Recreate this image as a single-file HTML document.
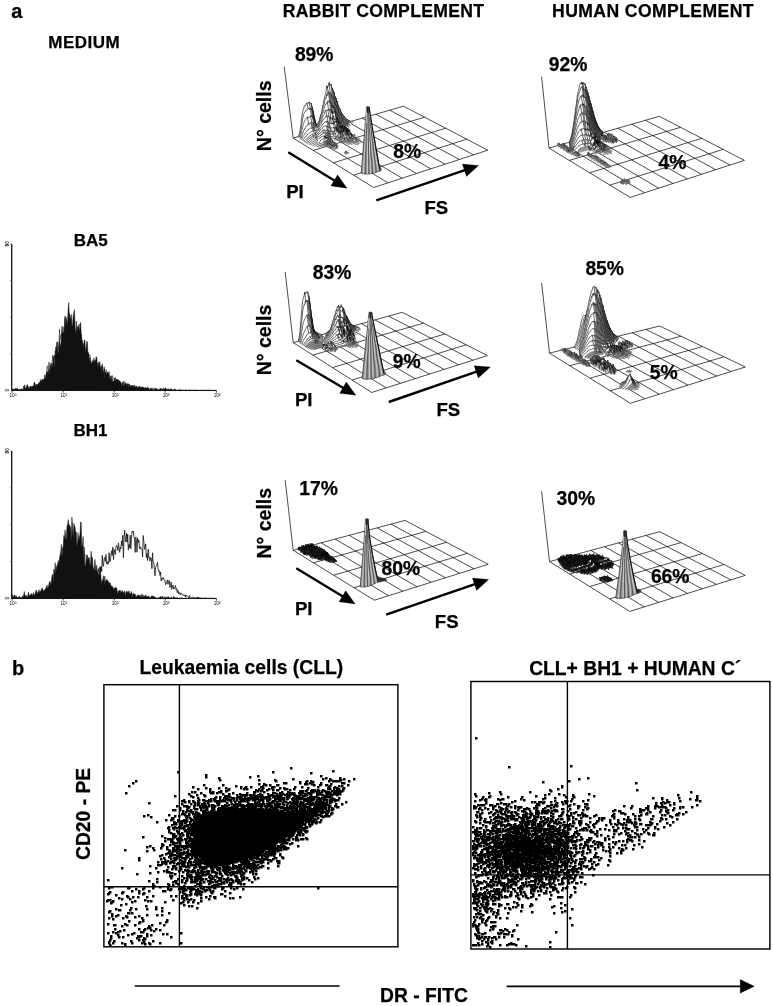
<!DOCTYPE html>
<html lang="en"><head><meta charset="utf-8"><title>Figure</title>
<style>
html,body{margin:0;padding:0;background:#fff;}
svg{display:block;}
svg text{font-family:"Liberation Sans", Arial, Helvetica, sans-serif;font-weight:bold;fill:#000;}
</style></head><body>
<svg width="773" height="1006" viewBox="0 0 773 1006">
<rect width="773" height="1006" fill="#fff"/>
<g id="labels" stroke="#000" stroke-width="0.25">
<text x="16.8" y="18.2" font-size="20" text-anchor="middle">a</text>
<text x="84.3" y="48" font-size="17" text-anchor="middle" letter-spacing="0.5">MEDIUM</text>
<text x="383.5" y="17" font-size="17.6" text-anchor="middle" letter-spacing="0.3">RABBIT COMPLEMENT</text>
<text x="653" y="16.8" font-size="17.6" text-anchor="middle" letter-spacing="0.4">HUMAN COMPLEMENT</text>
<text x="90.8" y="246.2" font-size="17" text-anchor="middle">BA5</text>
<text x="90.5" y="435.6" font-size="17" text-anchor="middle">BH1</text>
<text x="314.2" y="61" font-size="19.3" text-anchor="middle">89%</text>
<text x="407.1" y="158.2" font-size="19.3" text-anchor="middle">8%</text>
<text x="568" y="70.7" font-size="19.3" text-anchor="middle">92%</text>
<text x="672.5" y="168.8" font-size="19.3" text-anchor="middle">4%</text>
<text x="332" y="278.6" font-size="19.3" text-anchor="middle">83%</text>
<text x="406.6" y="368.4" font-size="19.3" text-anchor="middle">9%</text>
<text x="604.7" y="275.1" font-size="19.3" text-anchor="middle">85%</text>
<text x="663.8" y="378.9" font-size="19.3" text-anchor="middle">5%</text>
<text x="318.5" y="495.3" font-size="19.3" text-anchor="middle">17%</text>
<text x="400.8" y="575" font-size="19.3" text-anchor="middle">80%</text>
<text x="575.9" y="504.6" font-size="19.3" text-anchor="middle">30%</text>
<text x="670.2" y="583.2" font-size="19.3" text-anchor="middle">66%</text>
<text x="270.9" y="115.8" font-size="19.5" text-anchor="middle" transform="rotate(-90 270.9 115.8)">N° cells</text>
<text x="295" y="197.9" font-size="18.6" text-anchor="middle">PI</text>
<text x="436.3" y="214.3" font-size="18.6" text-anchor="middle">FS</text>
<text x="270.9" y="340" font-size="19.5" text-anchor="middle" transform="rotate(-90 270.9 340)">N° cells</text>
<text x="303.7" y="406.4" font-size="18.6" text-anchor="middle">PI</text>
<text x="448.3" y="415.5" font-size="18.6" text-anchor="middle">FS</text>
<text x="270.9" y="523.2" font-size="19.5" text-anchor="middle" transform="rotate(-90 270.9 523.2)">N° cells</text>
<text x="303.7" y="614.7" font-size="18.6" text-anchor="middle">PI</text>
<text x="446.7" y="627.5" font-size="18.6" text-anchor="middle">FS</text>
<line x1="288.3" y1="152.3" x2="335.9" y2="181.4" stroke="#000" stroke-width="2.4"/>
<polygon points="347,188.2 330.8,185.9 337.6,174.8" fill="#000"/>
<line x1="376.3" y1="200.4" x2="466.3" y2="169.6" stroke="#000" stroke-width="2.4"/>
<polygon points="478.6,165.4 466.5,176.4 462.3,164.1" fill="#000"/>
<line x1="296.3" y1="360.3" x2="344.7" y2="388.7" stroke="#000" stroke-width="2.4"/>
<polygon points="355.9,395.3 339.7,393.3 346.3,382.1" fill="#000"/>
<line x1="388.8" y1="402" x2="478.1" y2="371.2" stroke="#000" stroke-width="2.4"/>
<polygon points="490.4,367 478.3,378 474.1,365.7" fill="#000"/>
<line x1="296.3" y1="568.3" x2="344.1" y2="597.3" stroke="#000" stroke-width="2.4"/>
<polygon points="355.2,604 339,601.8 345.7,590.7" fill="#000"/>
<line x1="386.1" y1="614.7" x2="476.4" y2="583.6" stroke="#000" stroke-width="2.4"/>
<polygon points="488.7,579.4 476.6,590.4 472.4,578.1" fill="#000"/>
<text x="18.2" y="675.3" font-size="20" text-anchor="middle">b</text>
<text x="241.4" y="674.1" font-size="19.3" text-anchor="middle">Leukaemia cells (CLL)</text>
<text x="635.2" y="674.7" font-size="19.3" text-anchor="middle">CLL+ BH1 + HUMAN C´</text>
<text x="89.7" y="813.9" font-size="19.3" text-anchor="middle" transform="rotate(-90 89.7 813.9)">CD20 - PE</text>
<text x="424" y="1001.9" font-size="19.3" text-anchor="middle">DR - FITC</text>
<line x1="134.7" y1="986.1" x2="339.6" y2="986.1" stroke="#000" stroke-width="1.5"/>
<line x1="506.6" y1="986.3" x2="742.2" y2="986.3" stroke="#000" stroke-width="1.7"/>
<polygon points="754.4,986.3 740.2,993.2 740.2,979.4" fill="#000"/>
</g>
<g id="plots3d" fill="#fff" stroke="#000" stroke-width="0.6" stroke-linejoin="round">
<g>
<path d="M293.2 138.1L373.7 187.5M307 134.1L388 182.8M320.8 130.1L402.2 178.2M334.6 126.1L416.5 173.5M348.4 122.2L430.8 168.8M362.1 118.2L445 164.2M375.9 114.2L459.3 159.5M389.7 110.2L473.5 154.9M403.5 106.2L487.8 150.2M293.2 138.1L403.5 106.2M313.3 150.4L424.6 117.2M333.4 162.8L445.6 128.2M353.6 175.2L466.7 139.2M373.7 187.5L487.8 150.2" fill="none" stroke="#000" stroke-width="0.7"/>
<line x1="284.2" y1="66.7" x2="293.2" y2="138.1" stroke="#000" stroke-width="0.7"/>
<path d="M297.7 136.8l0.5 -0.9 0.5 -0.6 0.5 -1.2 0.5 -2 0.5 -3 0.6 -3.6 0.5 -4.7 0.5 -4.1 0.5 -2.9 0.5 -2.7 0.5 -1.7 0.5 -1.4 0.6 -2.3 0.5 -0.6 0.5 0.6 0.5 -1.3 0.5 -0.2 0.5 -1.3 0.5 0.1 0.5 0.1 0.6 0 0.5 -1.1 0.5 -0.1 0.5 1.6 0.5 0.5 0.5 -0.8 0.5 2.5 0.6 0.7 0.5 2.5 0.5 1.9 0.5 3.2 0.5 2.7 0.5 2.3 0.5 2.5 0.6 2.2 0.5 1.7 0.5 1.1 0.5 0.5 0.5 0.4 0.5 0.1 0.5 0.1 0.5 0.6 0.6 0.2 0.5 -0.2 0.5 -1.5 0.5 -0.4 0.5 -0.4 0.5 -0.4 0.5 -0.2 0.6 0.2 0.5 -0.8 0.5 -0.6 0.5 -0.6 0.5 -0.7 0.5 -0.5 0.5 -0.7 0.6 -0.2 0.5 -0.7 0.5 -0.5 0.5 0 0.5 -0.4 0.5 -0.1 0.5 -0.2 0.6 0.1 0.5 0 0.5 -0.5 0.5 0.2 0.5 0 0.5 0 0.5 0.3 0.5 0.2 0.6 0.2 0.5 -0.2 0.5 0.1 0.5 0.2 0.5 0.1 0.5 0.2 0.5 0.1 0.6 0.3 0.5 -0.1 0.5 0.3 0.5 0.1 0.5 0.1 0.5 0 0.5 0.1 0.6 0 0.5 0.2 0.5 0 0.5 -0.1 0.5 0.1 0.5 0 0.5 1.6"/>
<path d="M306.9 102.9l1.3 6.4M309 102l1.3 6M311 103.2l1.3 7.6M312.1 106.4l1.3 7.8M313.1 110.8l1.3 7.4M314.1 116.7l1.3 6.7M315.1 121.5l1.3 4.5M316.2 125.4l1.3 0.9M317.2 127l1.3 -1.6M318.2 127.5l1.3 -2.8M322.3 125.5l1.3 -9.1M331.6 119.1l1.3 -10.3M332.6 119.3l1.3 -9.4M333.6 119.6l1.3 -9.4M335.7 119.9l1.3 -7M336.7 120.2l1.3 -5.6M337.7 120.5l1.3 -5.5M338.8 120.7l1.3 -3.8M339.8 121.1l1.3 -3.5M340.8 121.2l1.3 -3" fill="none"/>
<path d="M298.4 137.7l0.5 -0.8 0.5 -0.4 0.6 -2.1 0.5 -2.2 0.5 -3 0.5 -3.3 0.5 -3.2 0.5 -3.6 0.5 -1.8 0.6 -2.4 0.5 -1.5 0.5 -0.9 0.5 -0.5 0.5 -0.9 0.5 -1.1 0.5 0.3 0.6 -0.5 0.5 -0.3 0.5 -0.2 0.5 -1.2 0.5 0.5 0.5 1 0.5 -1.6 0.6 0.6 0.5 -0.3 0.5 1.2 0.5 1.3 0.5 0.3 0.5 3.1 0.5 1.9 0.6 2.1 0.5 1.9 0.5 3.3 0.5 1.5 0.5 1.1 0.5 1.1 0.5 -0.8 0.6 -0.9 0.5 0 0.5 -0.3 0.5 -0.4 0.5 -0.5 0.5 -1.3 0.5 -0.9 0.5 -0.1 0.6 -1.1 0.5 -1.7 0.5 -1.3 0.5 -1.4 0.5 -0.1 0.5 -1.3 0.5 -1.1 0.6 -1.8 0.5 -1.5 0.5 -1.7 0.5 0.6 0.5 -0.9 0.5 -1.8 0.5 -0.5 0.6 0.8 0.5 -0.1 0.5 0.2 0.5 -1.1 0.5 1 0.5 0.5 0.5 -0.3 0.6 1.5 0.5 -0.2 0.5 1.3 0.5 0.7 0.5 -0.3 0.5 0.4 0.5 1.2 0.6 0.7 0.5 0.2 0.5 1.4 0.5 0.4 0.5 -0.1 0.5 0.6 0.5 1.3 0.6 0.5 0.5 -0.1 0.5 0.7 0.5 0.3 0.5 0.4 0.5 0.5 0.5 0.2 0.6 0.4 0.5 0.6 0.5 0 0.5 0.1 0.5 0.3 0.5 0.2 0.5 0.2 0.5 0 0.6 0.3 0.5 0 0.5 0.1 0.5 0 0.5 0.1 0.5 1.5"/>
<path d="M310.2 108l1.3 8.9M311.3 108.3l1.3 8.1M312.3 110.8l1.3 8.3M313.3 114.2l1.3 7.1M314.4 118.2l1.3 5.2M315.4 123.4l1.3 0.8M316.4 126l1.3 -1.9M328.7 106.3l1.3 -21.3M330.8 106.1l1.3 -18.3M331.8 107.6l1.3 -17.1M332.9 108.8l1.3 -16.4M333.9 109.9l1.3 -13.7M334.9 110.3l1.3 -12M335.9 111.9l1.3 -10.9M337 112.8l1.3 -7.4M338 114.6l1.3 -6.8M339 115.1l1.3 -5.7M340.1 116.9l1.3 -4.7M341.1 117.5l1.3 -3.6M342.1 118.2l1.3 -2.7M343.1 118.9l1.3 -2.6M344.2 119.9l1.3 -1.9M345.2 120l1.3 -1M346.2 120.5l1.3 -1" fill="none"/>
<path d="M299.7 138.5l0.5 -1 0.5 -2 0.5 -1.8 0.5 -2.5 0.5 -1.9 0.6 -2.9 0.5 -1.8 0.5 -1.4 0.5 -1.6 0.5 -1.4 0.5 -0.5 0.5 -0.8 0.6 -0.7 0.5 -0.9 0.5 -0.4 0.5 0.7 0.5 0.2 0.5 -0.7 0.5 -0.3 0.6 0 0.5 -0.5 0.5 -0.9 0.5 1.5 0.5 -0.1 0.5 -0.4 0.5 2 0.6 0.7 0.5 1 0.5 1.1 0.5 1.5 0.5 0.7 0.5 -0.2 0.5 1 0.6 0.7 0.5 -0.8 0.5 -1.3 0.5 -1.6 0.5 -0.2 0.5 -1.7 0.5 -2.7 0.6 -2 0.5 -0.9 0.5 -2 0.5 -3.7 0.5 -3 0.5 -0.7 0.5 -3.9 0.6 -1.5 0.5 -3.3 0.5 -0.9 0.5 -2.2 0.5 -3.5 0.5 -3.3 0.5 2.2 0.6 -1.3 0.5 -1.1 0.5 -2.9 0.5 2.2 0.5 0.3 0.5 -0.1 0.5 -0.9 0.6 3.4 0.5 0.4 0.5 1.2 0.5 1.4 0.5 1.6 0.5 0.2 0.5 3.4 0.6 0.6 0.5 2.5 0.5 -0.5 0.5 2.6 0.5 0.1 0.5 2.1 0.5 2.3 0.6 0 0.5 2.4 0.5 0.6 0.5 0.9 0.5 2.1 0.5 0.9 0.5 0.6 0.6 1 0.5 0.9 0.5 0.8 0.5 0.6 0.5 0.2 0.5 1 0.5 0.5 0.6 0.7 0.5 0.5 0.5 0.3 0.5 0.1 0.5 0.3 0.5 0.6 0.5 0.2 0.6 0.1 0.5 0.2 0.5 0.3 0.5 0.1 0.5 0 0.5 0.2 0.5 0 0.6 1.5"/>
<path d="M307.4 116.9l1.3 7.6M310.5 116.3l1.3 6.3M312.5 116.4l1.3 7.9M313.6 119.1l1.3 5.5M314.6 121.2l1.3 3.4M315.6 123.4l1.3 1.9M326.9 85.7l1.3 5.8M329 82.6l1.3 11.4M331 84.1l1.3 13.5M332.1 87.9l1.3 10.1M333.1 90.5l1.3 10.1M334.1 92.3l1.3 11M335.2 96.3l1.3 9.5M336.2 98.3l1.3 10.3M337.2 101l1.3 10.2M338.2 105.4l1.3 8.3M339.3 107.8l1.3 6.9M340.3 109.3l1.3 7.4M341.3 112.3l1.3 5.7M342.4 113.9l1.3 5.4M343.4 115.6l1.3 4.5M344.4 116.4l1.3 4.3M345.4 117.9l1.3 3.7M346.5 119.1l1.3 3M347.5 119.5l1.3 3M348.5 120.4l1.3 2.2M349.6 120.7l1.3 2.1" fill="none"/>
<path d="M300.4 139.4l0.5 -0.8 0.6 -1.7 0.5 -1.5 0.5 -1.2 0.5 -1.4 0.5 -1.7 0.5 -0.9 0.5 -1.2 0.6 -1.3 0.5 -0.4 0.5 -1.1 0.5 -0.1 0.5 -0.3 0.5 -0.4 0.5 -1.6 0.6 0.7 0.5 -0.2 0.5 -0.4 0.5 -0.8 0.5 -0.4 0.5 0.2 0.5 -0.2 0.6 0.2 0.5 -0.2 0.5 0.5 0.5 1.1 0.5 0.4 0.5 -0.1 0.5 1.6 0.6 -1.5 0.5 0.9 0.5 -0.2 0.5 -0.8 0.5 0 0.5 -2.2 0.5 -0.3 0.6 -1.2 0.5 -2 0.5 -2.1 0.5 -1.6 0.5 -1.4 0.5 -1 0.5 -3 0.6 -2.5 0.5 -2.7 0.5 -0.4 0.5 -2.8 0.5 -2.4 0.5 -1.2 0.6 0.4 0.5 -4 0.5 1.4 0.5 -3.3 0.5 -0.8 0.5 0.6 0.5 0.3 0.6 1.1 0.5 0.5 0.5 -1.3 0.5 1.8 0.5 1.7 0.5 1.4 0.5 -1 0.6 1.4 0.5 1.3 0.5 1.3 0.5 2.8 0.5 0 0.5 1.6 0.5 0.7 0.6 1.9 0.5 0.9 0.5 1.2 0.5 1.4 0.5 0.9 0.5 1.8 0.5 0.5 0.6 0.3 0.5 1.6 0.5 0.5 0.5 0.5 0.5 0.8 0.5 0.9 0.5 0.4 0.6 0.2 0.5 0.6 0.5 0.4 0.5 0.2 0.5 0.4 0.5 0.5 0.5 0.1 0.6 0.3 0.5 0.2 0.5 0.3 0.5 0.1 0.5 0 0.5 0.1 0.6 0.2 0.5 0.1 0.5 1.4"/>
<path d="M310.7 122.7l1.3 5.2M311.7 122.7l1.3 5.3M312.8 122.7l1.3 5.5M313.8 124.3l1.3 4.3M314.8 124.6l1.3 1.8M315.9 124.7l1.3 2.4M328.2 91.5l1.3 9M329.2 92.4l1.3 9.3M330.3 94l1.3 10.8M331.3 94.5l1.3 10.4M332.3 97.6l1.3 9M333.4 98l1.3 10.5M334.4 100.6l1.3 10.7M335.4 103.4l1.3 9.4M336.4 105.7l1.3 9.4M337.5 108.5l1.3 8.8M338.5 111.1l1.3 7.6M339.5 113.8l1.3 5.9M340.6 114.6l1.3 6M341.6 116.7l1.3 4.6M342.6 118l1.3 4.5M343.6 119.3l1.3 3.7M344.7 120.1l1.3 3.5M345.7 120.7l1.3 3.2M346.7 121.6l1.3 2.6M347.8 122l1.3 2.3" fill="none"/>
<path d="M301.7 140.2l0.5 -1.9 0.5 -0.8 0.5 -1 0.5 -0.9 0.6 -0.7 0.5 -0.7 0.5 -1.1 0.5 -0.9 0.5 -0.5 0.5 -0.2 0.5 -0.8 0.6 -0.2 0.5 -1.4 0.5 0.4 0.5 -0.5 0.5 -0.7 0.5 -0.4 0.6 0.2 0.5 0.3 0.5 -0.5 0.5 -0.6 0.5 0.7 0.5 -0.2 0.5 0.4 0.6 0 0.5 0.4 0.5 -1.6 0.5 -0.6 0.5 0.4 0.5 0.3 0.5 -0.9 0.6 -1 0.5 -1.4 0.5 -1.2 0.5 -1.3 0.5 -0.4 0.5 -1.5 0.5 -2.9 0.6 -0.8 0.5 -2.1 0.5 -0.4 0.5 -2.6 0.5 -0.8 0.5 -2 0.6 -1.3 0.5 -2.3 0.5 0.2 0.5 -1.3 0.5 0.3 0.5 -1.3 0.5 -1.4 0.6 1.7 0.5 -0.5 0.5 -1.4 0.5 0.9 0.5 0.4 0.5 1.5 0.5 1.5 0.6 1.5 0.5 -1.4 0.5 3.1 0.5 -1.4 0.5 1 0.5 0.9 0.5 1.5 0.6 1.2 0.5 1.6 0.5 0 0.5 1.4 0.5 1 0.5 1.4 0.6 0.8 0.5 -0.1 0.5 1.5 0.5 0.1 0.5 0.8 0.5 0.8 0.5 0.2 0.6 0.3 0.5 0.4 0.5 0.8 0.5 0.3 0.5 0.3 0.5 0.3 0.5 0.3 0.6 0.2 0.5 0.3 0.5 0 0.5 0 0.5 0.4 0.5 -0.1 0.5 0.2 0.6 0.1 0.5 1.6"/>
<path d="M312 127.9l1.3 2.9M313 128l1.3 3.2M314 128.2l1.3 2.9M316.1 126.4l1.3 1.7M327.4 102.1l1.3 8.3M329.5 100.5l1.3 10.9M330.5 101.8l1.3 9.2M331.5 104.8l1.3 9M332.6 104.9l1.3 8.7M333.6 106.6l1.3 4.5M334.6 108.5l1.3 9.4M335.7 111.2l1.3 7.9M336.7 112.8l1.3 7M337.7 115.2l1.3 5.9M338.8 117.4l1.3 4.7M339.8 118.8l1.3 4.7M340.8 119.7l1.3 4.5M341.8 120.7l1.3 3.9M342.9 121.4l1.3 3.8M343.9 122.5l1.3 3M344.9 123.1l1.3 2.7M346 123.6l1.3 2.4M347 123.9l1.3 2.2" fill="none"/>
<path d="M302.9 140.9l0.6 -0.9 0.5 -1.5 0.5 -0.4 0.5 -0.8 0.5 -0.5 0.5 -0.5 0.5 -0.4 0.6 -0.5 0.5 -1.2 0.5 0.1 0.5 -0.7 0.5 -0.5 0.5 -0.1 0.6 -0.5 0.5 -0.3 0.5 -0.5 0.5 0.1 0.5 -0.7 0.5 0 0.5 -0.3 0.6 0.5 0.5 -0.1 0.5 -0.3 0.5 0.2 0.5 -1.2 0.5 -0.2 0.6 -1.1 0.5 -0.5 0.5 -0.8 0.5 -1.4 0.5 0.1 0.5 -1.2 0.5 -2.2 0.6 -0.2 0.5 -0.7 0.5 -1.5 0.5 -1 0.5 -3 0.5 0.1 0.5 -0.9 0.6 -0.9 0.5 -2.6 0.5 -0.3 0.5 -1.5 0.5 0.5 0.5 -0.5 0.6 0.1 0.5 -0.5 0.5 -0.1 0.5 0.8 0.5 -0.5 0.5 -0.7 0.5 1.4 0.6 0.8 0.5 1.5 0.5 -2 0.5 3.3 0.5 -0.4 0.5 -1 0.5 0.8 0.6 -0.6 0.5 -2 0.5 1.4 0.5 5.5 0.5 0.1 0.5 1.1 0.6 -0.4 0.5 1.1 0.5 0.6 0.5 0.7 0.5 0.6 0.5 0.4 0.5 0.3 0.6 1 0.5 0.5 0.5 0.3 0.5 0.1 0.5 0.3 0.5 0.4 0.6 0.2 0.5 0.1 0.5 0.1 0.5 0.2 0.5 0.2 0.5 0 0.5 0.2 0.6 0 0.5 0.1 0.5 1.5"/>
<path d="M313.2 130.8l1.3 3M325.6 110.1l1.3 5.8M327.7 109.7l1.3 6.5M329.7 109.2l1.3 9.5M331.8 110.9l1.3 9.5M334.9 111l1.3 7.1M335.9 117.9l1.3 -0.1M336.9 119.1l1.3 4.6M338 119.8l1.3 4.4M339 121.1l1.3 4.3M340 122.1l1.3 3.6M341.1 123.4l1.3 3.1M342.1 124.2l1.3 2.8M343.1 124.6l1.3 2.9M344.2 125.2l1.3 2.4M345.2 125.4l1.3 2.2" fill="none"/>
<path d="M304.2 141.7l0.5 -1.1 0.5 -0.3 0.5 -0.5 0.6 -0.6 0.5 -0.1 0.5 -1 0.5 -0.1 0.5 -0.5 0.5 -0.6 0.6 -0.8 0.5 -0.1 0.5 -0.1 0.5 -1 0.5 -0.2 0.5 -0.4 0.5 -0.2 0.6 -0.4 0.5 0.4 0.5 -0.6 0.5 0.2 0.5 -0.2 0.5 0.4 0.6 -3.1 0.5 -0.2 0.5 -0.3 0.5 -0.3 0.5 -1 0.5 -0.9 0.5 -1.2 0.6 -1.2 0.5 -0.3 0.5 -0.8 0.5 -0.6 0.5 -2.3 0.5 0.1 0.6 -1.9 0.5 -0.7 0.5 -0.1 0.5 -0.5 0.5 -0.5 0.5 -0.6 0.5 -1.4 0.6 -0.6 0.5 0.4 0.5 1.3 0.5 -1 0.5 0.2 0.5 -0.2 0.6 0.8 0.5 -0.1 0.5 1.4 0.5 0.4 0.5 0.6 0.5 -1.5 0.5 1.3 0.6 1.4 0.5 -5.1 0.5 3.4 0.5 0.1 0.5 -0.1 0.5 1.4 0.6 -2.1 0.5 3 0.5 -3.3 0.5 4.9 0.5 1 0.5 -2.7 0.5 3.1 0.6 0.4 0.5 0.9 0.5 0.1 0.5 0.2 0.5 0.8 0.5 0.1 0.6 0.4 0.5 0.1 0.5 0.2 0.5 0.2 0.5 0 0.5 0.1 0.5 0 0.6 0 0.5 1.6"/>
<path d="M312.4 134.1l1.3 1.8M314.5 133.7l1.3 -0.3M326.9 115.9l1.3 6.3M328.9 116.2l1.3 7.6M330 116.9l1.3 6.1M332 117.8l1.3 4.5M334.1 118.8l1.3 2.4M337.2 117.8l1.3 6.3M338.2 123.7l1.3 -0.4M339.2 124.1l1.3 3.9M340.3 125.4l1.3 2.6M341.3 125.7l1.3 3.1M342.3 126.6l1.3 2.6M343.4 127.1l1.3 1.7" fill="none"/>
<path d="M304.9 142.6l0.6 -0.8 0.5 -0.4 0.5 -0.3 0.5 -0.4 0.5 -0.4 0.5 -0.7 0.6 -0.4 0.5 -0.7 0.5 -0.1 0.5 -0.8 0.5 0.1 0.5 -0.5 0.6 -0.2 0.5 -0.9 0.5 -0.3 0.5 0.2 0.5 -0.1 0.5 -0.6 0.5 0.2 0.6 0 0.5 -2.1 0.5 -0.5 0.5 -0.8 0.5 -0.6 0.5 -0.9 0.6 0.2 0.5 -1.6 0.5 0.1 0.5 -1.3 0.5 -0.5 0.5 -0.8 0.5 -0.1 0.6 -1.1 0.5 -1.1 0.5 0 0.5 -1 0.5 -0.3 0.5 -0.8 0.6 0.2 0.5 -1 0.5 0.3 0.5 0.4 0.5 -1.3 0.5 0.4 0.6 0.9 0.5 0 0.5 1 0.5 0.2 0.5 0.3 0.5 -0.1 0.5 -0.6 0.6 1.3 0.5 -1.4 0.5 1.2 0.5 -1.8 0.5 -1.3 0.5 3.6 0.6 -3.5 0.5 0.1 0.5 1.6 0.5 -1.7 0.5 2 0.5 1.6 0.5 -0.8 0.6 0.2 0.5 0.3 0.5 -1.1 0.5 0.5 0.5 4.2 0.5 0 0.6 0.1 0.5 0.6 0.5 0.1 0.5 0.2 0.5 0.1 0.5 0.1 0.6 -0.4 0.5 2"/>
<path d="M312.7 135.8l1.3 1.4M327.1 120.9l1.3 6.7M328.2 122.2l1.3 5.1M329.2 123.2l1.3 4.8M333.3 122.3l1.3 5.8M336.4 121.1l1.3 4.9M339.5 123.3l1.3 4M340.5 128l1.3 -0.1M341.6 128.1l1.3 4.6" fill="none"/>
<path d="M306.2 143.4l0.5 -0.9 0.5 -0.4 0.6 -0.3 0.5 -0.3 0.5 -0.6 0.5 -0.3 0.5 -0.4 0.5 -0.5 0.5 -0.5 0.6 -0.4 0.5 -0.3 0.5 -0.1 0.5 -0.6 0.5 0.2 0.5 -0.8 0.6 -0.3 0.5 0 0.5 0.1 0.5 -0.1 0.5 -2.6 0.5 0.3 0.6 -1.4 0.5 0.1 0.5 -0.8 0.5 -0.5 0.5 -0.7 0.5 -1.1 0.6 -0.9 0.5 0.1 0.5 -0.4 0.5 -0.6 0.5 -0.9 0.5 -0.6 0.5 -0.3 0.6 -0.2 0.5 -0.4 0.5 0 0.5 -0.4 0.5 0.3 0.5 -0.4 0.6 0.5 0.5 0.1 0.5 1.5 0.5 -0.5 0.5 0.2 0.5 0.3 0.6 0.4 0.5 0.2 0.5 -0.1 0.5 -0.5 0.5 0.5 0.5 -0.1 0.6 -0.7 0.5 0.2 0.5 0.6 0.5 1.6 0.5 -3.2 0.5 -2.1 0.5 3.6 0.6 -1 0.5 -1 0.5 -1.8 0.5 1.2 0.5 2.7 0.5 0.3 0.6 -2.4 0.5 1.2 0.5 0.9 0.5 -0.2 0.5 0.3 0.5 4.4"/>
<path d="M342.8 132.6l0.6 -0.9 0.5 0.6" fill="#9a9a9a" stroke="#3c3c3c"/>
<path d="M343.9 132.3l0.5 -1.2 0.5 -0.1 0.5 0 0.5 0.3 0.5 0.3" fill="#9a9a9a" stroke="#3c3c3c"/>
<path d="M346.4 131.6l0.6 -0.5 0.5 0.2" fill="#9a9a9a" stroke="#3c3c3c"/>
<path d="M315 136.9l1.3 1.5M326.3 125.9l1.3 4.2M327.4 126l1.3 4.6M329.4 127.3l1.3 4.1M330.5 128l1.3 3.1M333.6 127.3l1.3 4.4M335.6 126.5l1.3 4.4M338.7 125.4l1.3 2.7M340.8 127.2l1.3 2.8M341.8 127.9l1.3 4" fill="none"/>
<path d="M307.5 144.2l0.5 -0.9 0.5 -0.3 0.5 -0.5 0.5 -0.1 0.5 -0.4 0.6 -0.5 0.5 -0.6 0.5 -0.2 0.5 -0.3 0.5 -0.5 0.5 0 0.6 -0.5 0.5 -0.3 0.5 0.1 0.5 -0.3 0.5 -0.2 0.5 -0.3 0.6 -2.3 0.5 0.3 0.5 -1.1 0.5 -0.4 0.5 -0.9 0.5 -0.1 0.6 -0.9 0.5 -0.2 0.5 -0.1 0.5 -1 0.5 -0.5 0.5 -0.7 0.6 0.5 0.5 -0.2 0.5 -1.2 0.5 0.6 0.5 -0.2 0.5 0.2 0.5 -0.3 0.6 0.1 0.5 0.1 0.5 -0.1 0.5 0.5 0.5 0.2 0.5 0.4 0.6 -0.1 0.5 0.2 0.5 0.2 0.5 0.2 0.5 -0.5 0.5 -0.1 0.6 0.3 0.5 0 0.5 0.5 0.5 -1.3 0.5 1.3 0.5 -0.6 0.6 -0.7 0.5 -2.2 0.5 2.5 0.5 -5.6 0.5 1.2 0.5 2.8 0.6 -2.3 0.5 -1.6 0.5 2.8 0.5 1.4 0.5 -3.2 0.5 2.4 0.6 1.4 0.5 0.5 0.5 1.2 0.5 -2 0.5 2 0.5 -0.7 0.5 2"/>
<path d="M345.1 133.1l0.6 -1.3 0.5 0.6 0.5 -0.8 0.5 0.3 0.5 -0.2 0.5 0.5" fill="#9a9a9a" stroke="#3c3c3c"/>
<path d="M322.4 130.5l1.3 2.6M324.5 130.2l1.3 2.6M326.6 130l1.3 3.4M327.6 130l1.3 3.6M328.6 130.7l1.3 3.5M329.7 131l1.3 3.5M331.7 131.1l1.3 2.9M332.8 131.3l1.3 2.8M335.9 130.5l1.3 -2M337.9 126.4l1.3 5.8M339 126.9l1.3 2.2M341 126.3l1.3 5M342.1 130.1l1.3 -0.4" fill="none"/>
<path d="M309.2 144.8l0.6 -0.9 0.5 -0.3 0.5 -0.3 0.5 -0.4 0.5 -0.3 0.5 -0.4 0.6 -0.1 0.5 -0.6 0.5 -0.1 0.5 -0.5 0.5 0 0.5 -0.2 0.6 -0.3 0.5 -0.4 0.5 -1.7 0.5 -0.8 0.5 -0.4 0.5 -0.3 0.6 -0.7 0.5 0.1 0.5 -0.6 0.5 -0.3 0.5 -1 0.5 0.3 0.6 -0.6 0.5 0 0.5 -1 0.5 0.1 0.5 0.2 0.5 -0.7 0.6 0 0.5 0.1 0.5 0.1 0.5 0.1 0.5 0 0.5 0.5 0.6 0 0.5 0.2 0.5 -0.2 0.5 0.8 0.5 0 0.5 0.3 0.6 -0.5 0.5 0.2 0.5 0.3 0.5 -0.5 0.5 0.1 0.5 0 0.5 -0.1 0.6 -1.2 0.5 0.7 0.5 -0.6 0.5 -1.3 0.5 -3 0.5 3.5 0.6 -0.4 0.5 -2 0.5 2.5 0.5 -3.3 0.5 0.2 0.5 0.9 0.6 -2.3 0.5 -1.6 0.5 5.2 0.5 -0.9 0.5 -0.7 0.5 -0.5 0.6 -2.7 0.5 4.6 0.5 1.1 0.5 0.6 0.5 0.4 0.5 0 0.6 -0.6 0.5 -0.1 0.5 -0.1 0.5 -0.1 0.5 0.6"/>
<path d="M324.7 132.6l1.3 2.8M325.8 132.7l1.3 2.6M326.8 132.9l1.3 2.6M327.8 133.4l1.3 2.5M328.9 133.6l1.3 3M329.9 134.2l1.3 2.5M333 134l1.3 2.4M335.1 132.8l1.3 3.8M337.1 128.6l1.3 3.8M338.2 131.7l1.3 0.6M341.3 127.7l1.3 -2.1M344.4 126.5l1.3 2.3" fill="none"/>
<path d="M311 145.4l0.5 -0.9 0.6 -0.3 0.5 -0.4 0.5 -0.1 0.5 -0.5 0.5 -0.2 0.5 -0.4 0.6 -0.3 0.5 -0.1 0.5 -0.4 0.5 0.1 0.5 -0.4 0.5 -1.8 0.6 -0.5 0.5 -0.5 0.5 -0.3 0.5 -0.2 0.5 -0.3 0.5 -0.9 0.6 -0.2 0.5 -0.2 0.5 -0.1 0.5 -0.2 0.5 0 0.5 -0.6 0.6 0.2 0.5 -0.2 0.5 -0.1 0.5 -0.2 0.5 0.3 0.5 -0.4 0.6 0.2 0.5 0.1 0.5 0 0.5 0.4 0.5 -0.1 0.5 0.7 0.6 0 0.5 0.1 0.5 -0.1 0.5 0.1 0.5 -0.2 0.5 -0.2 0.6 -0.1 0.5 0.1 0.5 -0.1 0.5 0.1 0.5 1.8"/>
<path d="M335.8 138.1l0.5 -1.5 0.6 0.8 0.5 -1.5 0.5 -1.5 0.5 -2.1 0.5 0.6 0.5 -0.6 0.6 1.6 0.5 -4.6 0.5 -2 0.5 2.2 0.5 2.5 0.5 -6.4 0.6 6.8 0.5 -3.1 0.5 1.7 0.5 -4.4 0.5 3.8 0.5 -1.6 0.6 3.4 0.5 -0.7 0.5 0.9 0.5 -0.3 0.5 1.2 0.5 0.6 0.6 -0.8 0.5 0.8"/>
<path d="M349.8 133.9l0.5 -0.8 0.5 0 0.5 0.4" fill="#9a9a9a" stroke="#3c3c3c"/>
<path d="M323.9 135.7l1.3 2.5M327 135.3l1.3 2.4M328.1 135.6l1.3 2M329.1 136l1.3 1.8M330.1 136.6l1.3 1.7M338.4 132.3l1.3 0.2M340.5 129.3l1.3 3.5M342.5 125.6l1.3 6.7M344.6 126.6l1.3 1M345.6 128.8l1.3 2.1M346.7 131.5l1.3 4.1" fill="none"/>
<path d="M312.8 146l0.5 -0.9 0.5 -0.2 0.5 -0.4 0.6 -0.2 0.5 -0.3 0.5 -0.3 0.5 -0.3 0.5 -0.2 0.5 0 0.6 -0.4 0.5 -0.2 0.5 0 0.5 -0.2 0.5 -0.4 0.6 -1.7 0.5 -0.4 0.5 -0.2 0.5 -0.1 0.5 -0.3 0.5 -0.8 0.6 0 0.5 0 0.5 -2.7 0.5 2.4 0.5 -2 0.5 1.7 0.6 -0.4 0.5 0.4 0.5 -0.3 0.5 0.1 0.5 0 0.5 -0.1 0.6 0.3 0.5 -0.1 0.5 0.6 0.5 0 0.5 -0.1 0.5 -0.1 0.6 0 0.5 -0.2 0.5 0 0.5 1.6"/>
<path d="M335 139.4l0.5 -0.7 0.6 0 0.5 -0.9 0.5 -0.2 0.5 -0.3 0.5 -0.3 0.5 1 0.6 -6 0.5 0.5 0.5 -1.7 0.5 4 0.5 -3 0.5 1 0.6 -4.9 0.5 0.2 0.5 1.8 0.5 2.5 0.5 -3.2 0.6 0.9 0.5 -1.8 0.5 -0.7 0.5 0.6 0.5 2.7 0.5 -3.1 0.6 7.8"/>
<path d="M348 135.6l0.5 -1.2 0.5 -2 0.5 1.9 0.5 -0.2 0.5 -0.7 0.6 1.3" fill="#9a9a9a" stroke="#3c3c3c"/>
<path d="M326.2 137.9l1.3 -0.2M329.3 137.6l1.3 1.7M330.4 137.8l1.3 2M339.7 132.5l1.3 5.6M342.8 128.1l1.3 2.6M345.9 127.6l1.3 2M346.9 130.9l1.3 -1.3" fill="none"/>
<path d="M314.6 146.6l0.5 -0.8 0.5 -0.2 0.5 -0.4 0.5 -0.1 0.6 -0.3 0.5 -0.3 0.5 -0.2 0.5 -0.1 0.5 -0.3 0.5 -0.2 0.6 -0.1 0.5 -0.1 0.5 -0.2 0.5 -0.1 0.5 -0.2 0.5 -0.1 0.6 -0.4 0.5 -1.8 0.5 -1.4 0.5 -0.4 0.5 -1.8 0.6 2.1 0.5 -2.4 0.5 0.8 0.5 0.1 0.5 -1 0.5 1.5 0.6 1.4 0.5 -0.4 0.5 0.1 0.5 0 0.5 0.6 0.5 -0.1 0.6 0 0.5 1.5"/>
<path d="M335.3 140.5l0.5 -0.5 0.5 0.2" fill="#9a9a9a" stroke="#3c3c3c"/>
<path d="M336.3 140.2l0.5 -0.7 0.5 -0.1 0.6 -0.5 0.5 -1 0.5 0.4 0.5 -1 0.5 1.8" fill="#9a9a9a" stroke="#3c3c3c"/>
<path d="M339.9 139.1l0.5 -3.1 0.6 2 0.5 -3.9 0.5 -3.7 0.5 2.4 0.5 -2.9 0.5 2.2 0.6 -1.4 0.5 -1.9 0.5 1.1 0.5 -3.4 0.5 5.2 0.5 -2.7 0.6 0.6 0.5 3.7 0.5 -3.6 0.5 -1.2 0.5 6.8 0.6 -0.4 0.5 0.3 0.5 -0.6 0.5 0.1 0.5 0 0.5 -0.2 0.6 0.8"/>
<path d="M353.4 135.1l0.5 -0.7 0.5 0 0.5 0.3" fill="#9a9a9a" stroke="#3c3c3c"/>
<path d="M326.5 136.8l1.3 3.8M327.5 137.7l1.3 2.4M328.5 138.2l1.3 1.4M343 129.9l1.3 3.4M345.1 129.9l1.3 3.3M347.2 129.6l1.3 2.7M348.2 129.7l1.3 0.3" fill="none"/>
<path d="M316.9 147.1l0.5 -0.8 0.5 -0.3 0.5 -0.2 0.5 -0.2 0.6 -0.3 0.5 -0.1 0.5 -0.2 0.5 -0.1 0.5 -0.2 0.5 -0.2 0.6 -0.1 0.5 -0.3 0.5 0 0.5 -0.2 0.5 -3 0.5 1.6 0.6 -2.1 0.5 1.8 0.5 -2.2 0.5 1 0.5 -0.3 0.6 1.1 0.5 -1.7 0.5 0.9 0.5 -1.4 0.5 -0.6 0.5 3.9" fill="#9a9a9a" stroke="#3c3c3c"/>
<path d="M337.1 141.1l0.5 -0.6 0.5 -0.2 0.5 -0.6 0.5 0.8" fill="#9a9a9a" stroke="#3c3c3c"/>
<path d="M339.1 140.5l0.5 -1.2 0.6 -0.7 0.5 0.6 0.5 0.7" fill="#9a9a9a" stroke="#3c3c3c"/>
<path d="M341.2 139.9l0.5 -0.7 0.5 -2.9 0.5 -3.4 0.6 3.8 0.5 -2.3 0.5 -1.2 0.5 -4.5 0.5 2.5 0.6 2.7 0.5 -0.7 0.5 -2 0.5 0.7 0.5 -0.3 0.5 0.7 0.6 -1.1 0.5 -1.3 0.5 3.4 0.5 3.3 0.5 -1.5 0.5 -0.6 0.6 1.2 0.5 -0.5 0.5 -0.3 0.5 0.3 0.5 0.4 0.6 -0.4 0.5 -0.1 0.5 0.4"/>
<path d="M326.7 140l1.3 1.1M329.8 139.6l1.3 3.4M342.2 136.3l1.3 1.4M345.3 131.2l1.3 -1.6M347.4 131.9l1.3 3M349.5 129.9l1.3 3.6" fill="none"/>
<path d="M319.2 147.6l0.5 -0.9 0.5 -0.2 0.5 -0.1 0.5 -0.2 0.6 -0.2 0.5 -0.3 0.5 0 0.5 -0.2 0.5 -0.1 0.5 -0.3 0.6 0 0.5 -2.8 0.5 1 0.5 0.4 0.5 -1.5 0.6 -1 0.5 -0.1 0.5 -0.3 0.5 1 0.5 0.3 0.5 -1.3 0.6 1 0.5 1.2 0.5 -0.7 0.5 -2.1 0.5 1.7 0.5 1.5" fill="#9a9a9a" stroke="#3c3c3c"/>
<path d="M339.9 141.4l0.5 -0.6 0.5 -0.9 0.5 0.3 0.6 0 0.5 -2.3 0.5 0.1 0.5 -0.3 0.5 1.5 0.5 -0.6 0.6 -5.1 0.5 1.9 0.5 -1 0.5 -4.7 0.5 3.2 0.5 2 0.6 -5.6 0.5 5.6 0.5 -0.7 0.5 1 0.5 2.4 0.6 -4.1 0.5 0.9 0.5 0.4 0.5 0.1 0.5 1.3 0.5 0.3 0.6 -0.7 0.5 0.2 0.5 -0.3 0.5 1"/>
<path d="M328 141.1l1.3 2.8M330 140.8l1.3 1.2M332.1 140.2l1.3 2.7M346.6 129.7l1.3 5.1M347.6 134.9l1.3 1.4M348.7 134.9l1.3 -2M350.8 133.5l1.3 3.1M351.8 134.8l1.3 2.1" fill="none"/>
<path d="M323.5 147.4l0.6 -0.8 0.5 -0.2 0.5 -0.1 0.5 -0.2 0.5 -0.2 0.5 -2.4 0.6 -0.9 0.5 2.2 0.5 -0.6 0.5 -1 0.5 0.8 0.6 -1.2 0.5 0.8 0.5 0.7 0.5 -2.3 0.5 0.8 0.5 -1.7 0.6 0.7 0.5 1.1 0.5 -0.9 0.5 2.1" fill="#9a9a9a" stroke="#3c3c3c"/>
<path d="M340.1 142.4l0.5 -0.5 0.6 0.2" fill="#9a9a9a" stroke="#3c3c3c"/>
<path d="M341.2 142.1l0.5 -0.5 0.5 0.2" fill="#9a9a9a" stroke="#3c3c3c"/>
<path d="M342.2 141.8l0.5 -0.9 0.5 0.2 0.5 -0.9 0.6 -1.7 0.5 2.1 0.5 -1.5 0.5 -1.6 0.5 1.2 0.6 -6.6 0.5 1.4 0.5 1.3 0.5 -1.1 0.5 2.6 0.5 -1.3 0.6 -2.1 0.5 -0.1 0.5 0.2 0.5 2.2 0.5 1.4 0.6 -0.6 0.5 0.8 0.5 -0.2 0.5 0.9 0.5 0.2 0.5 0.3"/>
<path d="M356.2 137.6l0.5 -0.6 0.5 0.3" fill="#9a9a9a" stroke="#3c3c3c"/>
<path d="M327.2 142.6l1.3 3.1M332.3 141.1l1.3 0.9M346.9 132.1l1.3 7.8M347.9 134.8l1.3 1.9M350 132.9l1.3 4.3M351 133l1.3 6.3" fill="none"/>
<path d="M326.9 147.5l0.5 -2.4 0.5 0.2 0.5 0.4 0.5 -1.3 0.6 -1.2 0.5 -0.1 0.5 1.8 0.5 0.3 0.5 -0.5 0.6 -1.7 0.5 -0.7 0.5 -0.1 0.5 -0.3 0.5 -0.2 0.5 1.1 0.6 -0.3 0.5 2.4" fill="#9a9a9a" stroke="#3c3c3c"/>
<path d="M341.4 143.2l0.5 -0.6 0.5 -0.2 0.5 0.3" fill="#9a9a9a" stroke="#3c3c3c"/>
<path d="M342.9 142.7l0.6 -1 0.5 -0.6 0.5 1.2" fill="#9a9a9a" stroke="#3c3c3c"/>
<path d="M344.5 142.3l0.5 -1.6 0.5 0 0.6 -0.1 0.5 0.3 0.5 -2.5 0.5 1 0.5 0.5 0.5 -1.4 0.6 -1.8 0.5 1.7 0.5 -1.7 0.5 0.8 0.5 -0.3 0.6 2.1 0.5 0 0.5 -0.2 0.5 -2.4 0.5 1.3 0.5 -0.9 0.6 1 0.5 -0.9 0.5 1.6" fill="#9a9a9a" stroke="#3c3c3c"/>
<path d="M355.9 138.8l0.5 -0.7 0.5 -0.5 0.6 0.4 0.5 0.2" fill="#9a9a9a" stroke="#3c3c3c"/>
<path d="M329.5 143.2l1.3 2.6M333.6 141.9l1.3 2.2M347.1 138.4l1.3 1.7M349.2 136.7l1.3 3.1M350.2 136.7l1.3 1.6M351.2 137.2l1.3 2" fill="none"/>
<path d="M328.7 148.1l0.5 -1.5 0.5 0.1 0.5 -1.8 0.5 1 0.5 -0.2 0.6 0.7 0.5 -0.7 0.5 0 0.5 -2.1 0.5 0.3 0.6 1.8 0.5 -1.5 0.5 -1.5 0.5 0.3 0.5 2.8" fill="#9a9a9a" stroke="#3c3c3c"/>
<path d="M343.2 143.8l0.5 -0.6 0.5 -0.3 0.5 -0.2 0.6 -0.5 0.5 -0.4 0.5 0.6 0.5 -0.3 0.5 -0.2 0.5 -1.5 0.6 -0.3 0.5 1.5 0.5 -1.4 0.5 0 0.5 -0.4 0.6 -1.6 0.5 0.1 0.5 1.3 0.5 -0.4 0.5 0.1 0.6 0.1 0.5 0.2 0.5 -1 0.5 -0.1 0.5 0.4 0.5 0.5 0.6 -1.1 0.5 1.3" fill="#9a9a9a" stroke="#3c3c3c"/>
<path d="M358.2 139.3l0.5 -0.8 0.6 0 0.5 0 0.5 0.2" fill="#9a9a9a" stroke="#3c3c3c"/>
<path d="M329.9 148.9l0.5 -1.9 0.6 1.6" fill="#9a9a9a" stroke="#3c3c3c"/>
<path d="M331 148.6l0.5 -3 0.5 -1 0.5 0.9 0.5 0 0.6 1.4 0.5 -2.4 0.5 -0.2 0.5 0.9 0.5 0 0.5 0.1 0.6 -1.1 0.5 1.4 0.5 1" fill="#9a9a9a" stroke="#3c3c3c"/>
<path d="M346.5 143.9l0.5 -1 0.6 -0.2 0.5 0.1 0.5 -0.7 0.5 -0.6 0.5 0.5 0.6 -0.5 0.5 -0.9 0.5 1.3 0.5 -1.3 0.5 -0.7 0.6 -0.1 0.5 1.7 0.5 0.2" fill="#9a9a9a" stroke="#3c3c3c"/>
<path d="M354.8 141.4l0.6 -0.8 0.5 -1.4 0.5 1.8" fill="#9a9a9a" stroke="#3c3c3c"/>
<path d="M356.4 141l0.5 -1.3 0.5 -0.1 0.5 0.3 0.6 -0.1 0.5 -0.3 0.5 0.5" fill="#9a9a9a" stroke="#3c3c3c"/>
<path d="M332 144.6l1.3 2.7M334.1 144.5l1.3 1.5" fill="none"/>
<path d="M332.7 149.2l0.6 -1.9 0.5 -0.9 0.5 0.6 0.5 -1.8 0.5 0.8 0.6 -1.1 0.5 1.8 0.5 -2.3 0.5 0.6 0.5 2.6" fill="#9a9a9a" stroke="#3c3c3c"/>
<path d="M347.8 144.7l0.5 -0.6 0.5 0.3" fill="#9a9a9a" stroke="#3c3c3c"/>
<path d="M348.8 144.4l0.6 -0.6 0.5 -0.7 0.5 0.8" fill="#9a9a9a" stroke="#3c3c3c"/>
<path d="M350.4 143.9l0.5 -0.6 0.5 -0.6 0.6 -0.6 0.5 0.2 0.5 -0.4 0.5 -0.7 0.5 -0.2 0.6 1.6" fill="#9a9a9a" stroke="#3c3c3c"/>
<path d="M354.6 142.6l0.5 -1.2 0.5 -0.3 0.5 0.6 0.5 -0.9 0.5 0.5 0.6 0.4" fill="#9a9a9a" stroke="#3c3c3c"/>
<path d="M357.7 141.7l0.5 -1 0.5 -0.1 0.5 0.6" fill="#9a9a9a" stroke="#3c3c3c"/>
<path d="M359.2 141.2l0.5 -0.6 0.6 -0.1 0.5 0.3" fill="#9a9a9a" stroke="#3c3c3c"/>
<path d="M334.5 149.8l0.5 -1.4 0.6 0 0.5 0 0.5 -2 0.5 1.8 0.5 0.7" fill="#9a9a9a" stroke="#3c3c3c"/>
<path d="M350.6 144.9l0.6 -0.7 0.5 0.4" fill="#9a9a9a" stroke="#3c3c3c"/>
<path d="M352.2 144.5l0.5 -0.6 0.5 -0.2 0.6 -0.7 0.5 -0.1 0.5 0.1 0.5 -0.6 0.5 -0.1 0.5 0.5 0.6 -0.3 0.5 -0.4 0.5 -0.1 0.5 0 0.5 0.4" fill="#9a9a9a" stroke="#3c3c3c"/>
<path d="M359.5 142.3l0.5 -0.6 0.5 0.3" fill="#9a9a9a" stroke="#3c3c3c"/>
<path d="M354.5 144.9l0.5 -0.6 0.5 0.3" fill="#9a9a9a" stroke="#3c3c3c"/>
<path d="M355.5 144.6l0.6 -0.8 0.5 0.5" fill="#9a9a9a" stroke="#3c3c3c"/>
<path d="M356.6 144.3l0.5 -0.6 0.5 0.3" fill="#9a9a9a" stroke="#3c3c3c"/>
<path d="M357.6 144l0.5 -0.7 0.6 -0.2 0.5 -0.2 0.5 0.4" fill="#9a9a9a" stroke="#3c3c3c"/>
<path d="M360.2 143.2l0.5 -0.5 0.6 0.2" fill="#9a9a9a" stroke="#3c3c3c"/>
<path d="M356.8 145.3l0.5 -0.5 0.6 -0.2 0.5 0.3" fill="#9a9a9a" stroke="#3c3c3c"/>
<path d="M344.2 153.7l0.5 -1.5 0.5 0.3 0.6 -1.6 0.5 -0.2 0.5 2.2" fill="#9a9a9a" stroke="#3c3c3c"/>
<path d="M345.5 154.5l0.5 -1.5 0.5 -1.3 0.5 -0.2 0.6 1.5 0.5 -0.8 0.5 1.3" fill="#9a9a9a" stroke="#3c3c3c"/>
<polygon points="366.6,106.8 366.2,112.3 365.7,117.8 365.2,123.3 364.8,128.9 364.4,134.4 363.9,139.9 363.4,145.4 363,150.9 362.6,156.4 362.1,162 361.6,167.5 361.2,173 363.1,173.7 364.9,174 366.8,174.1 368.7,174 370.5,173.8 372.4,173.5 374.3,173 376.2,172.4 378,171.5 380.4,171.2 381.4,169.5 380.4,167.7 379.6,166.7 378.9,165 378,159.7 377.1,154.4 376.1,149.1 375.2,143.8 374.3,138.6 373.3,133.3 372.4,128 371.5,122.7 370.7,117.4 369.8,112.1 369,106.8" fill="#969696" stroke="#222" stroke-width="0.7" stroke-linejoin="round"/>
<path d="M366.6 112.3L366.1 117.8L366.2 123.3L365.7 128.8L365.5 134.2L365.2 139.7L365.1 145.2L364.6 150.7L364.3 156.2L363.9 161.7L363.8 167.2L363.5 173.8M367.3 106.8L367.1 112.2L367.5 117.7L367.3 123.1L367.4 128.6L367.5 134L367.4 139.5L367.5 144.9L367.3 150.3L367.5 155.8L367.3 161.2L367.6 166.7L367.6 174.1M368 106.8L368.2 112.2L368.3 117.6L368.2 123L368.8 128.4L369.1 133.8L369.3 139.2L369.4 144.6L369.7 150L369.7 155.4L370.2 160.8L370.3 166.2L370.4 173.8M369.2 117.5L369.9 122.9L370 128.2L370.5 133.6L370.9 139L371.4 144.3L372 149.7L372.7 155L373.5 160.4L374 165.8L374.2 173M368.8 106.8L369.7 112.1L370.2 117.4L370.9 122.7L371.8 128.1L372.3 133.4L373.1 138.7L374.3 144L374.8 149.3L375.6 154.6L376.2 159.9L377.2 165.3L378.1 171.5" fill="none" stroke="#dcdcdc" stroke-width="0.75"/>
<path d="M366.6 123.2L366.7 128.7L366.2 134.1L366 139.6L366.2 145.1L365.8 150.5L365.5 156L365.7 161.5L365.3 166.9L365.5 174M367.4 106.8L367.7 112.2L367.7 117.6L368 123.1L368.1 128.5L368.3 133.9L368.2 139.3L368.5 144.8L368.5 150.2L368.7 155.6L368.7 161L368.8 166.4L369 174M368 106.8L368.4 112.2L368.7 117.6L368.9 122.9L369.2 128.3L369.9 133.7L369.9 139.1L370.5 144.5L370.8 149.9L371.1 155.2L371.7 160.6L372.2 166L372.4 173.5M369.5 117.5L370.1 122.8L371.1 128.1L371.5 133.5L372.4 138.8L373 144.2L373.4 149.5L374.1 154.8L374.8 160.2L375.6 165.5L376.2 172.4" fill="none" stroke="#303030" stroke-width="0.65"/>
<path d="M369 106.8L369.8 112.1L370.7 117.4L371.5 122.7L372.4 128L373.3 133.3L374.3 138.6L375.2 143.8L376.1 149.1L377.1 154.4L378 159.7L378.9 165L379.9 170.3" fill="none" stroke="#111" stroke-width="1.1"/>
<path d="M367.8 106.8L367.8 112.8" fill="none" stroke="#222" stroke-width="1.7"/>
</g>
<g>
<path d="M549 148.1L630.2 197.4M562.8 144.1L644.5 192.8M576.6 140.1L658.8 188.2M590.4 136.2L673 183.5M604.1 132.2L687.3 178.9M617.9 128.2L701.6 174.3M631.7 124.2L715.8 169.7M645.5 120.3L730.1 165M659.3 116.3L744.4 160.4M549 148.1L659.3 116.3M569.3 160.4L680.6 127.3M589.6 172.8L701.8 138.3M609.9 185.1L723.1 149.4M630.2 197.4L744.4 160.4" fill="none" stroke="#000" stroke-width="0.7"/>
<line x1="541.6" y1="76.7" x2="549" y2="148.1" stroke="#000" stroke-width="0.7"/>
<path d="M557.1 145.8l0.5 -2.4 0.5 0.7 0.5 -1.2 0.5 1 0.5 -0.9 0.6 1.9" fill="#9a9a9a" stroke="#3c3c3c"/>
<path d="M574.5 140.7l0.5 -3.6 0.6 -0.6 0.5 -0.7 0.5 -0.6 0.5 -0.4 0.5 -0.7 0.5 -0.5 0.5 -0.3 0.6 -0.3 0.5 -0.5 0.5 -0.2 0.5 -0.3 0.5 -0.1 0.5 -0.3 0.5 -0.1 0.6 0 0.5 -0.1 0.5 -0.3 0.5 0.1 0.5 0 0.5 0.1 0.5 -0.2 0.6 0 0.5 0 0.5 0.3 0.5 -0.2 0.5 0.3 0.5 0 0.5 0.1 0.5 0.1 0.6 0.1 0.5 0.1 0.5 0.1 0.5 0 0.5 3.6"/>
<path d="M584.3 131.2l1.3 -20.1M586.4 131.1l1.3 -17.6M587.4 131.4l1.3 -16M588.4 131.5l1.3 -14.6M589.4 131.6l1.3 -12.7M590.5 131.8l1.3 -11.1M591.5 132l1.3 -9.6" fill="none"/>
<path d="M558.3 146.5l0.6 -1 0.5 -1.5 0.5 1.4 0.5 -0.3 0.5 -0.9 0.5 0.3 0.5 1" fill="#9a9a9a" stroke="#3c3c3c"/>
<path d="M570.7 143l0.5 -4 0.5 -1.1 0.5 -1.4 0.5 -1.7 0.5 -1.8 0.6 -1.8 0.5 -2.1 0.5 -1.5 0.5 -2.3 0.5 -1.8 0.5 -2.1 0.5 -2.3 0.6 -2 0.5 -1.2 0.5 -1.9 0.5 -1.6 0.5 -0.8 0.5 -0.6 0.5 -0.8 0.6 0.1 0.5 -0.7 0.5 -0.3 0.5 0.8 0.5 0 0.5 -0.4 0.5 -0.5 0.6 0.9 0.5 -0.3 0.5 1.3 0.5 0.6 0.5 -0.2 0.5 1.4 0.5 0.6 0.6 0.5 0.5 1.4 0.5 1.2 0.5 0.3 0.5 1.2 0.5 0.8 0.5 1.1 0.6 0.6 0.5 1.1 0.5 0.7 0.5 1.2 0.5 0.9 0.5 0.6 0.5 0.7 0.6 0.6 0.5 1 0.5 0.7 0.5 0.5 0.5 0.4 0.5 0.5 0.5 0.4 0.5 0.5 0.6 0.4 0.5 0.2 0.5 3.4"/>
<path d="M581.5 109.6l1.3 -26.9M583.5 109.7l1.3 -26.2M584.6 110.1l1.3 -22.2M585.6 111.1l1.3 -21.2M586.6 111.5l1.3 -19.2M587.6 113.5l1.3 -17.2M588.7 115.4l1.3 -14.7M589.7 116.9l1.3 -13.5M590.7 118.9l1.3 -11.4M591.8 120.6l1.3 -9.4M592.8 122.4l1.3 -6.8M593.8 124.5l1.3 -5.7M594.8 125.8l1.3 -4.4M595.9 127.4l1.3 -3.7M596.9 128.6l1.3 -2.3M597.9 129.5l1.3 -1.7M598.9 130.4l1.3 -1.1M600 131l1.3 -0.7" fill="none"/>
<path d="M558.6 147.6l0.5 -1.3 0.5 -1 0.5 -0.8 0.5 1.2 0.6 -1.3 0.5 1.3 0.5 -1 0.5 -1.5 0.5 0 0.5 2.9" fill="#9a9a9a" stroke="#3c3c3c"/>
<path d="M569.4 144.5l0.5 -3.9 0.5 -1.3 0.5 -1.8 0.5 -1.8 0.6 -2.4 0.5 -3.1 0.5 -2.8 0.5 -3.5 0.5 -2.9 0.5 -4.1 0.5 -3.3 0.6 -5 0.5 -2.4 0.5 -5.2 0.5 -3.3 0.5 -3.7 0.5 -2.7 0.5 -0.8 0.6 -3.1 0.5 -2.1 0.5 -1.9 0.5 0 0.5 0.4 0.5 -1.7 0.5 2.1 0.6 -1.5 0.5 -0.2 0.5 1.5 0.5 0.2 0.5 -0.7 0.5 0.7 0.5 3.6 0.6 -1 0.5 3.1 0.5 1.3 0.5 1.2 0.5 2.1 0.5 1.8 0.5 2.1 0.6 2.3 0.5 1.8 0.5 0.9 0.5 2.5 0.5 1.6 0.5 2.6 0.5 1.1 0.6 2.3 0.5 2 0.5 1.2 0.5 2 0.5 1.2 0.5 1.5 0.5 1.6 0.6 0.7 0.5 1.5 0.5 1.1 0.5 0.8 0.5 0.7 0.5 0.8 0.5 0.6 0.6 0.8 0.5 0.3 0.5 0.5 0.5 0.4 0.5 3.6"/>
<path d="M563.2 143.2l1.3 1M581.7 82.1l1.3 5.4M582.8 82.7l1.3 6.3M584.8 83.5l1.3 8.5M585.8 87.8l1.3 7.6M586.9 89.9l1.3 8.3M587.9 92.4l1.3 9.5M588.9 96.3l1.3 9M590 100.7l1.3 8.3M591 103.4l1.3 9.1M592 107.5l1.3 8.1M593 111.2l1.3 7M594.1 115.5l1.3 6.3M595.1 118.7l1.3 5.6M596.1 121.4l1.3 4.9M597.2 123.7l1.3 4.6M598.2 126.3l1.3 3.6M599.2 127.8l1.3 3.3M600.2 129.2l1.3 2.9M601.3 130.3l1.3 5.7M602.3 131.2l1.3 4.4" fill="none"/>
<path d="M560.4 148.2l0.5 -1.2 0.5 -0.9 0.5 -1.8 0.5 2.4 0.5 -1.4 0.6 0.5 0.5 0 0.5 -1.6 0.5 2.7" fill="#9a9a9a" stroke="#3c3c3c"/>
<path d="M569.6 145.5l0.6 -4 0.5 -1.7 0.5 -1.6 0.5 -2.1 0.5 -2.2 0.5 -2.8 0.5 -3.1 0.6 -3.1 0.5 -3.8 0.5 -3.1 0.5 -3 0.5 -3.9 0.5 -4.7 0.5 -2.4 0.6 -2.5 0.5 -4.5 0.5 -1.8 0.5 -1.6 0.5 -0.9 0.5 -2 0.5 -1.6 0.6 -1.4 0.5 -0.9 0.5 -0.1 0.5 1.1 0.5 -0.2 0.5 1.8 0.5 -0.4 0.6 0.5 0.5 -0.3 0.5 1.8 0.5 1.1 0.5 1.1 0.5 2.2 0.5 0.1 0.6 2.7 0.5 0.2 0.5 3.4 0.5 1.2 0.5 2.3 0.5 1.5 0.5 2.2 0.6 1.7 0.5 1.8 0.5 1.3 0.5 1.9 0.5 1.9 0.5 0.6 0.6 2.2 0.5 1.4 0.5 1.3 0.5 1.3 0.5 0.8 0.5 1.1 0.5 1.3 0.6 0.7 0.5 1 0.5 0.6 0.5 0.6 0.5 0.6 0.5 0.4 0.5 0.7 0.6 0.3 0.5 3.5"/>
<path d="M582 86.7l1.3 7.9M583 87.6l1.3 9.6M584 89l1.3 7.8M585.1 89.2l1.3 9.4M586.1 92.1l1.3 10.2M587.1 95.4l1.3 8.8M588.2 98.2l1.3 9.2M589.2 101.8l1.3 8.7M590.2 105.3l1.3 9.4M591.2 109l1.3 8.9M592.3 112.5l1.3 7.6M593.3 115.7l1.3 7.5M594.3 118.2l1.3 7.1M595.4 121.8l1.3 5.9M596.4 124.4l1.3 4.9M597.4 126.3l1.3 4.4M598.5 128.3l1.3 3.8M599.5 129.9l1.3 3.2M600.5 131.1l1.3 6.2M601.5 132.2l1.3 4.9" fill="none"/>
<path d="M561.1 149.1l0.5 -2.4 0.6 0.7 0.5 -0.9 0.5 -1 0.5 1.1 0.5 -0.5 0.5 -1.5 0.6 0.9 0.5 0.1 0.5 2" fill="#9a9a9a" stroke="#3c3c3c"/>
<path d="M569.9 146.6l0.5 -4.3 0.5 -1.3 0.5 -1.7 0.5 -2 0.6 -2.3 0.5 -2.6 0.5 -2.1 0.5 -3.6 0.5 -2.7 0.5 -3.8 0.5 -2.5 0.6 -3.7 0.5 -2.2 0.5 -3.2 0.5 -2.9 0.5 -1.6 0.5 -3.1 0.6 -1.7 0.5 -0.4 0.5 -2 0.5 -0.4 0.5 -0.9 0.5 0 0.5 1.3 0.6 -2.5 0.5 0.2 0.5 2 0.5 0.5 0.5 0.9 0.5 -1.2 0.5 0.7 0.6 1 0.5 1.8 0.5 2 0.5 -0.4 0.5 2.3 0.5 2.1 0.5 1 0.6 1.2 0.5 2 0.5 1.3 0.5 2.9 0.5 1.3 0.5 1.9 0.6 0.1 0.5 2.2 0.5 1.6 0.5 1.4 0.5 0.8 0.5 1.3 0.5 1.5 0.6 0.9 0.5 0.6 0.5 1 0.5 0.9 0.5 0.5 0.5 0.8 0.5 0.5 0.6 0.6 0.5 0.5 0.5 0.5 0.5 3.7"/>
<path d="M564.7 144.6l1.3 2.1M581.2 95.6l1.3 7.8M583.3 94.6l1.3 11.4M585.3 96.8l1.3 10.6M586.4 98.5l1.3 12.6M587.4 102.3l1.3 9.1M588.4 104.2l1.3 9.2M589.4 107.3l1.3 8.9M590.5 110.5l1.3 9.7M591.5 114.7l1.3 7.4M592.5 117.9l1.3 7.2M593.6 120.2l1.3 6.8M594.6 123.2l1.3 6.2M595.6 125.3l1.3 5.5M596.7 127.7l1.3 4.7M597.7 129.3l1.3 4.1M598.7 130.7l1.3 3.6M599.7 132l1.3 3.2M600.8 133.1l1.3 5.2" fill="none"/>
<path d="M562.9 149.7l0.5 -2.7 0.5 0.7 0.6 0 0.5 -1.5 0.5 1.4 0.5 -0.9 0.5 -1 0.5 0.2 0.6 0.5 0.5 1.8" fill="#9a9a9a" stroke="#3c3c3c"/>
<path d="M570.1 147.6l0.5 -4.1 0.6 -1.3 0.5 -1.4 0.5 -1.9 0.5 -1.9 0.5 -2.1 0.5 -2.8 0.6 -2.3 0.5 -2.2 0.5 -3.5 0.5 -2.8 0.5 -2.1 0.5 -3.1 0.5 -1 0.6 -2.8 0.5 -1.7 0.5 -1.2 0.5 -2.5 0.5 0.1 0.5 -1.9 0.5 -0.5 0.6 0.7 0.5 -0.4 0.5 -1.5 0.5 1.2 0.5 -0.8 0.5 1.8 0.6 0.5 0.5 -0.2 0.5 0.3 0.5 0 0.5 1.2 0.5 0.8 0.5 3 0.6 0.6 0.5 -0.4 0.5 2.7 0.5 -0.7 0.5 2.3 0.5 0.5 0.6 2.8 0.5 1.3 0.5 1.5 0.5 0.3 0.5 1.2 0.5 1.8 0.5 0.6 0.6 1.2 0.5 1 0.5 1.5 0.5 0.7 0.5 0.7 0.5 0.7 0.5 0.9 0.6 0.6 0.5 0.4 0.5 0.6 0.5 0.3 0.5 0.6 0.5 0.3 0.6 1 0.5 2.1"/>
<path d="M602.1 138.3l0.5 -1.6 0.5 1.3" fill="#9a9a9a" stroke="#3c3c3c"/>
<path d="M603.1 138l0.5 -1.5 0.5 0.1 0.5 -2.1 0.6 1 0.5 0.2 0.5 1.4" fill="#9a9a9a" stroke="#3c3c3c"/>
<path d="M606.7 137l0.5 -2.6 0.5 0.1 0.6 -1.3 0.5 3.2" fill="#9a9a9a" stroke="#3c3c3c"/>
<path d="M580.4 105.1l1.3 8.9M582.5 103.4l1.3 10.7M583.5 103.8l1.3 10.7M584.6 106.1l1.3 7.7M585.6 106.2l1.3 9.6M586.6 107.4l1.3 9.6M587.6 111.2l1.3 6.7M588.7 111.4l1.3 10.4M589.7 113.4l1.3 9.9M590.7 116.2l1.3 9M591.8 120.3l1.3 7.8M592.8 122.1l1.3 6.9M593.8 125.1l1.3 6.4M594.9 126.9l1.3 5.3M595.9 129.4l1.3 4.4M596.9 130.8l1.3 4.3M597.9 132.4l1.3 3.6M599 133.4l1.3 6.5M600 134.3l1.3 5.4M601 135.2l1.3 0.7M608.3 133.2l1.3 0.7" fill="none"/>
<path d="M563.7 150.7l0.5 -1.9 0.5 0 0.5 -1.8 0.5 0.9 0.6 -1 0.5 0.5 0.5 1.1 0.5 -1.1 0.5 0.2 0.5 -0.1 0.5 1.5" fill="#9a9a9a" stroke="#3c3c3c"/>
<path d="M570.4 148.7l0.5 -3.8 0.5 -1.1 0.5 -1.3 0.5 -1.7 0.6 -1.6 0.5 -1.8 0.5 -2.1 0.5 -2.4 0.5 -2.1 0.5 -2 0.5 -2.3 0.6 -2.5 0.5 -1.2 0.5 -2.3 0.5 -1.8 0.5 -0.9 0.5 -1.2 0.6 -0.4 0.5 -1.6 0.5 -0.7 0.5 0.6 0.5 -0.5 0.5 -1.4 0.5 0.9 0.6 -0.5 0.5 1.1 0.5 0.5 0.5 -0.2 0.5 -0.8 0.5 0.2 0.6 2.1 0.5 -0.1 0.5 0.1 0.5 1.1 0.5 1.2 0.5 -0.3 0.5 3 0.6 0.9 0.5 1.3 0.5 0.2 0.5 0.9 0.5 1.1 0.5 0.9 0.6 1.9 0.5 -0.2 0.5 1.2 0.5 1.6 0.5 0.8 0.5 0 0.5 0.7 0.6 1.1 0.5 0.5 0.5 0.6 0.5 0.7 0.5 0.5 0.5 0.4 0.6 0.2 0.5 3.8"/>
<path d="M601.8 139.5l0.5 -3.6 0.5 0.5 0.6 -1 0.5 1.3 0.5 -0.6 0.5 0.4 0.5 -1.5 0.5 0.8 0.6 0.7 0.5 0.3 0.5 -2.2 0.5 0.8 0.5 -0.6 0.5 0.1 0.6 -1.1 0.5 2.5 0.5 0.7" fill="#9a9a9a" stroke="#3c3c3c"/>
<path d="M610.6 137l0.5 -3.7 0.5 3.4" fill="#9a9a9a" stroke="#3c3c3c"/>
<path d="M580.7 113.9l1.3 7.8M582.7 113.5l1.3 7.5M583.8 114.1l1.3 7.1M585.8 113.8l1.3 8.4M586.9 115.8l1.3 7.4M587.9 117l1.3 7.1M588.9 117.9l1.3 9.5M590 121.8l1.3 6.7M591 123.3l1.3 7.9M592 125.3l1.3 6.2M593.1 128.1l1.3 5M594.1 129.1l1.3 4.7M595.1 131.5l1.3 4.1M596.1 132.2l1.3 4.5M597.2 133.8l1.3 3.7M598.2 135.1l1.3 6.3M599.2 136l1.3 5M603.4 135.4l1.3 0.7M605.4 135l1.3 2.5M607.5 134.6l1.3 1.5M609.6 133.8l1.3 1.7" fill="none"/>
<path d="M565.5 151.3l0.5 -2.1 0.5 -0.1 0.5 -1.6 0.5 1.5 0.5 -1.5 0.6 0.3 0.5 -0.9 0.5 0.2 0.5 2.8" fill="#9a9a9a" stroke="#3c3c3c"/>
<path d="M571.1 149.6l0.6 -4.3 0.5 -1.1 0.5 -1.3 0.5 -1.4 0.5 -1.4 0.5 -1.7 0.5 -2 0.6 -1.4 0.5 -2 0.5 -1.3 0.5 -2 0.5 -1.4 0.5 -1.2 0.6 -1.1 0.5 -1.1 0.5 -0.5 0.5 -0.8 0.5 -1.6 0.5 -0.1 0.6 0.6 0.5 -0.8 0.5 -0.4 0.5 -0.6 0.5 0.9 0.5 -0.5 0.5 -0.1 0.6 0.2 0.5 0.5 0.5 1.4 0.5 -0.3 0.5 -0.6 0.5 3 0.6 -2 0.5 1.1 0.5 -0.2 0.5 1.7 0.5 1.6 0.5 0.1 0.6 0.9 0.5 1.9 0.5 1 0.5 -0.4 0.5 0.6 0.5 1.1 0.5 0.5 0.6 1.3 0.5 -0.7 0.5 1.3 0.5 0.6 0.5 -0.1 0.5 1.3 0.6 0 0.5 0.6 0.5 0.1 0.5 3.8"/>
<path d="M602.6 140.4l0.5 -3.5 0.5 2 0.5 -2 0.6 -0.8 0.5 2.6 0.5 -2.2 0.5 2 0.5 -1 0.5 -0.1 0.6 0.7 0.5 -1.9 0.5 -0.1 0.5 0.3 0.5 0.1 0.5 -1.2 0.5 0.3 0.6 -1 0.5 0.8 0.5 -1.2 0.5 1.9 0.5 1.2" fill="#9a9a9a" stroke="#3c3c3c"/>
<path d="M583 120.7l1.3 7.8M584 121.1l1.3 7.4M585.1 121.2l1.3 8.9M587.1 122.2l1.3 8.6M588.2 123.2l1.3 6M589.2 124.1l1.3 8.1M590.2 127.4l1.3 6.9M591.3 128.4l1.3 5.1M592.3 131.3l1.3 3.3M593.3 131.5l1.3 2.7M594.3 133.1l1.3 4.4M595.4 133.7l1.3 3.4M596.4 135.6l1.3 3.2M597.4 136.8l1.3 5.5M598.5 137.4l1.3 4.3M604.7 136.1l1.3 3.3M605.7 136.5l1.3 3" fill="none"/>
<path d="M566.2 152.2l0.5 -1.4 0.6 -0.8 0.5 0.8 0.5 -1.7 0.5 -0.2 0.5 0.6 0.5 0.8 0.6 -1.9 0.5 0.5 0.5 1.8" fill="#9a9a9a" stroke="#3c3c3c"/>
<path d="M571.9 150.5l0.5 -4.4 0.5 -1.1 0.5 -1.1 0.6 -1.2 0.5 -1.4 0.5 -1.5 0.5 -1.2 0.5 -1.3 0.5 -1.2 0.6 -1 0.5 -1 0.5 -1.7 0.5 -0.8 0.5 -0.2 0.5 -0.5 0.6 -1.3 0.5 0.4 0.5 -1.1 0.5 0.2 0.5 0.3 0.5 -0.9 0.6 0.5 0.5 -0.6 0.5 0.2 0.5 0.7 0.5 -0.8 0.5 1.1 0.5 0.5 0.6 0.3 0.5 -1.7 0.5 0 0.5 2.1 0.5 -0.6 0.5 -0.9 0.6 1 0.5 1.9 0.5 0.4 0.5 1.7 0.5 -0.6 0.5 -0.1 0.6 -0.5 0.5 1.5 0.5 1.1 0.5 -1.5 0.5 2.2 0.5 1.1 0.5 -0.1 0.6 -0.3 0.5 1.5 0.5 0.2 0.5 4"/>
<path d="M598.2 142.8l0.5 -0.5 0.5 -0.2 0.6 -0.3 0.5 0.4" fill="#9a9a9a" stroke="#3c3c3c"/>
<path d="M602.9 141.5l0.5 -3.7 0.5 1.4 0.5 -0.1 0.5 0.7 0.5 -2.7 0.6 2.3 0.5 -1.6 0.5 1.6 0.5 -0.6 0.5 0.4 0.5 -2.9 0.5 2.5 0.6 -0.3 0.5 -0.6 0.5 -0.4 0.5 -1.1 0.5 1.1 0.5 -1.7 0.6 -0.1 0.5 0.4 0.5 2.2" fill="#9a9a9a" stroke="#3c3c3c"/>
<path d="M581.2 128.9l1.3 6.1M584.3 128.6l1.3 6.3M585.3 128.5l1.3 6.3M587.4 128.7l1.3 6.8M589.4 129.3l1.3 4.8M590.5 132.2l1.3 4M592.5 133.6l1.3 5.7M594.6 134.2l1.3 4.8M596.7 137.1l1.3 4.1M597.7 138.8l1.3 3.2" fill="none"/>
<path d="M567.5 153l0.5 -3.7 0.5 2 0.5 -1.6 0.6 -0.5 0.5 2.3 0.5 -1.5 0.5 1.1 0.5 -1.5 0.5 -1.4 0.6 3.2" fill="#9a9a9a" stroke="#3c3c3c"/>
<path d="M572.7 151.4l0.5 -4.2 0.5 -0.9 0.5 -1 0.5 -1.1 0.5 -1 0.6 -0.9 0.5 -1 0.5 -1 0.5 -1.1 0.5 -0.4 0.5 -1 0.6 -0.4 0.5 -0.6 0.5 -0.8 0.5 -0.3 0.5 -0.3 0.5 0.3 0.6 -0.8 0.5 0 0.5 -0.1 0.5 0.3 0.5 0 0.5 -0.4 0.5 -0.2 0.6 0.4 0.5 0.1 0.5 -0.2 0.5 0.1 0.5 0.8 0.5 -1.5 0.6 1.2 0.5 -0.6 0.5 1.1 0.5 1 0.5 -2.8 0.5 1 0.6 1.1 0.5 1 0.5 0.8 0.5 0.5 0.5 0.8 0.5 -3.1 0.6 -0.1 0.5 4.1 0.5 -1.2 0.5 3.1 0.5 -0.4 0.5 -0.1 0.6 -0.4 0.5 1.8 0.5 -1.1 0.5 1.1 0.5 -0.2 0.5 -0.5 0.6 0.8"/>
<path d="M601.6 143l0.5 -0.7 0.5 0.4" fill="#9a9a9a" stroke="#3c3c3c"/>
<path d="M603.6 142.4l0.6 -3.9 0.5 0.4 0.5 -0.5 0.5 0.5 0.5 -0.4 0.5 1 0.5 0.4 0.6 -1.1 0.5 -0.5 0.5 1.6 0.5 -0.9 0.5 -1.1 0.5 0.5 0.6 -1.4 0.5 2.1 0.5 -0.2 0.5 -0.8 0.5 0.1 0.5 -2.3 0.6 -0.1 0.5 2.2 0.5 -1.8 0.5 2.7" fill="#9a9a9a" stroke="#3c3c3c"/>
<path d="M568 149.3l1.3 3.2M582.5 134.9l1.3 5M584.5 134.7l1.3 5.2M586.6 134.8l1.3 4.9M588.7 135.4l1.3 4.6M590.7 134.1l1.3 6.1M591.8 136.2l1.3 2.5M592.8 138l1.3 -1.1M594.9 136.1l1.3 5.8M595.9 139l1.3 3M605.2 138.4l1.3 4.3M606.2 138.5l1.3 1.7M613.4 135.9l1.3 2.1" fill="none"/>
<path d="M568.8 153.7l0.5 -1.2 0.5 -0.4 0.5 0.4 0.5 -0.9 0.6 -0.9 0.5 -1 0.5 0.2 0.5 0.6 0.5 -0.5 0.5 -3.9 0.5 1.5 0.6 -0.7 0.5 -0.9 0.5 -0.8 0.5 -0.6 0.5 -0.9 0.5 -0.3 0.6 -0.8 0.5 -0.4 0.5 -0.7 0.5 -0.3 0.5 -0.2 0.5 -0.3 0.6 -0.2 0.5 -0.2 0.5 0 0.5 -0.1 0.5 -0.4 0.5 0.1 0.6 -0.2 0.5 0.2 0.5 -0.1 0.5 0.1 0.5 -0.4 0.5 0.3 0.6 0 0.5 -0.1 0.5 -0.1 0.5 0.8 0.5 0.1 0.5 -0.5 0.6 1.3 0.5 -0.9 0.5 -0.3 0.5 0.2 0.5 -3.1 0.5 1.5 0.6 0 0.5 -1.8 0.5 7.6 0.5 -4.5 0.5 5.1 0.5 -3.2 0.6 0.4 0.5 -0.4 0.5 -0.1 0.5 0.6 0.5 1.9 0.5 -1.7 0.6 -0.6 0.5 0.5 0.5 1.8"/>
<path d="M600.8 144.3l0.5 -1 0.5 -0.4 0.5 0 0.6 0.4 0.5 0.2" fill="#9a9a9a" stroke="#3c3c3c"/>
<path d="M606.5 142.6l0.5 -1.2 0.5 -1.2 0.5 -1.4 0.5 1.6 0.6 -1.2 0.5 1.7 0.5 -3 0.5 1.9 0.5 -1.6 0.5 0.3 0.6 -0.6 0.5 1.5 0.5 -0.2 0.5 0.2 0.5 -2 0.5 0.6 0.6 0.4 0.5 1.5" fill="#9a9a9a" stroke="#3c3c3c"/>
<path d="M581.7 140.3l1.3 3.9M583.7 139.9l1.3 4M584.8 139.9l1.3 4M586.8 139.8l1.3 4.2M587.9 139.7l1.3 3.5M589.9 140l1.3 3.5M594.1 136.9l1.3 5.5M595.1 140l1.3 5.7M596.1 141.9l1.3 3.7M597.2 141.9l1.3 2.7" fill="none"/>
<path d="M570.6 154.3l0.5 -1.7 0.5 -0.8 0.5 -0.5 0.5 0.9 0.5 -1 0.6 -0.8 0.5 0.3 0.5 -0.4 0.5 -0.9 0.5 -0.7 0.5 -0.5 0.6 -0.6 0.5 -0.5 0.5 -0.5 0.5 -0.4 0.5 -0.4 0.5 -0.2 0.6 -0.3 0.5 -0.3 0.5 -0.2 0.5 -0.3 0.5 -0.2 0.5 -0.1 0.6 0 0.5 -0.2 0.5 -0.1 0.5 0.1 0.5 -0.1 0.5 0 0.6 0 0.5 -0.4 0.5 -0.1 0.5 0.1 0.5 0.5 0.5 0 0.6 -0.7 0.5 -0.1 0.5 -0.7 0.5 0 0.5 1 0.5 0.5 0.6 1.2 0.5 1.5 0.5 -4 0.5 2.5 0.5 0.9 0.5 0.3 0.6 -4 0.5 -1.6 0.5 4.9 0.5 -5.7 0.5 5.6 0.5 0 0.6 -0.9 0.5 -2.8 0.5 0.4 0.5 1.9 0.5 -0.6 0.6 1.1 0.5 -0.3 0.5 0.6"/>
<path d="M602.1 145l0.5 -1.8 0.5 0.6 0.5 -0.1 0.6 0 0.5 0.6" fill="#9a9a9a" stroke="#3c3c3c"/>
<path d="M608.3 143.2l0.5 -1.4 0.5 -0.5 0.5 -1.1 0.6 1.3 0.5 -1.9 0.5 0.7 0.5 -0.6 0.5 -0.6 0.5 -0.4 0.6 2.1 0.5 -1.3 0.5 -0.8 0.5 1.1 0.5 -0.5 0.5 -1.5 0.6 -0.4 0.5 3.2" fill="#9a9a9a" stroke="#3c3c3c"/>
<path d="M584 143.9l1.3 2.8M585 143.9l1.3 2.7M587.1 143.4l1.3 2.8M590.2 142.5l1.3 6.7M591.2 143.5l1.3 3.2M593.3 142.7l1.3 3.4M595.4 142.4l1.3 1.7M599.5 142.3l1.3 1.6M612.9 138.7l1.3 3.8M616 137.8l1.3 3.9" fill="none"/>
<path d="M571.8 155.1l0.5 -2.7 0.6 0.2 0.5 0.8 0.5 -1.8 0.5 0.8 0.5 0.4 0.5 -2.2 0.6 2.1 0.5 1" fill="#9a9a9a" stroke="#3c3c3c"/>
<path d="M578 153.3l0.6 -3.7 0.5 -0.3 0.5 -0.4 0.5 -0.3 0.5 -0.3 0.5 -0.4 0.6 -0.1 0.5 -0.2 0.5 -0.1 0.5 -0.3 0.5 -0.1 0.5 0 0.6 -0.3 0.5 -0.1 0.5 0.1 0.5 -0.2 0.5 0 0.5 -0.1 0.6 -0.3 0.5 0 0.5 -0.5 0.5 0.7 0.5 3.4" fill="#9a9a9a" stroke="#3c3c3c"/>
<path d="M590.4 149.6l0.6 -1.8 0.5 1.5" fill="#9a9a9a" stroke="#3c3c3c"/>
<path d="M591.5 149.3l0.5 -2 0.5 -0.6 0.5 -1.5 0.5 0.8 0.6 -1.4 0.5 1.5 0.5 -4 0.5 -0.5 0.5 5.8 0.6 -3.3 0.5 -0.4 0.5 -1.9 0.5 3.5 0.5 -2.5 0.5 -0.1 0.6 -0.5 0.5 2.7 0.5 -1 0.5 1.3 0.5 1"/>
<path d="M601.8 146.2l0.5 -3.1 0.6 1.4 0.5 -0.4 0.5 -0.2 0.5 0.7 0.5 -0.1 0.5 0 0.6 -0.1 0.5 0.5" fill="#9a9a9a" stroke="#3c3c3c"/>
<path d="M611.1 143.5l0.5 -2.9 0.6 -0.5 0.5 2.9" fill="#9a9a9a" stroke="#3c3c3c"/>
<path d="M612.7 143l0.5 -2.9 0.5 0.5 0.5 2" fill="#9a9a9a" stroke="#3c3c3c"/>
<path d="M614.8 142.4l0.5 -3.5 0.5 3.2" fill="#9a9a9a" stroke="#3c3c3c"/>
<path d="M615.8 142.1l0.5 -1 0.5 0.7" fill="#9a9a9a" stroke="#3c3c3c"/>
<path d="M588.4 146.2l1.3 4.4M589.4 146.4l1.3 4.3M595.6 141.6l1.3 2.3M597.7 141.8l1.3 6M599.8 142.2l1.3 -0.7M612.2 140.1l1.3 3.8M615.3 138.9l1.3 4.1" fill="none"/>
<path d="M573.6 155.7l0.5 -2.5 0.6 -0.3 0.5 -0.8 0.5 1.2 0.5 -1.5 0.5 -0.5 0.5 3.3" fill="#9a9a9a" stroke="#3c3c3c"/>
<path d="M589.1 151.1l0.6 -0.5 0.5 -0.3 0.5 0.4" fill="#9a9a9a" stroke="#3c3c3c"/>
<path d="M591.2 150.5l0.5 -0.7 0.5 -0.7 0.6 -0.6 0.5 -1.4 0.5 2.1 0.5 -0.9 0.5 0 0.6 -0.3 0.5 -3.8 0.5 -0.5 0.5 0.2 0.5 3.8 0.5 -1 0.6 -5 0.5 6.1 0.5 -3.1 0.5 -0.1 0.5 -1.8 0.5 -1.4 0.6 0.1 0.5 2 0.5 -0.9 0.5 3.6 0.5 -2.4 0.5 2.5 0.6 -0.4 0.5 -0.1 0.5 -1 0.5 1.3"/>
<path d="M606.7 145.9l0.6 -0.5 0.5 0.2" fill="#9a9a9a" stroke="#3c3c3c"/>
<path d="M576.2 151.8l1.3 0.9M596.9 143.9l1.3 1.2M601 141.4l1.3 4.3M602.1 143.5l1.3 1.4" fill="none"/>
<path d="M574.9 156.5l0.5 -2.2 0.5 0.1 0.5 0.6 0.6 -0.9 0.5 -1.5 0.5 3" fill="#9a9a9a" stroke="#3c3c3c"/>
<path d="M592 151.4l0.5 -0.9 0.5 -0.1 0.5 -0.4 0.5 -0.9 0.6 1 0.5 -2.5 0.5 1 0.5 -2.2 0.5 0.1 0.6 0.3 0.5 0.1 0.5 -1.9 0.5 -0.6 0.5 3.8 0.5 -5.2 0.6 0.2 0.5 3.1 0.5 0.4 0.5 0.5 0.5 -1.5 0.5 0.3 0.6 -1.1 0.5 2 0.5 -1.5 0.5 0.1 0.5 1.9"/>
<path d="M605.4 147.4l0.6 -0.9 0.5 0.1 0.5 -0.5 0.5 -0.2 0.5 -0.1 0.5 0.2 0.6 0.4" fill="#9a9a9a" stroke="#3c3c3c"/>
<path d="M577.5 152.6l1.3 3.8M596.1 146.4l1.3 1.9M598.2 145l1.3 2.2M600.3 143.2l1.3 3.8M603.4 144.9l1.3 -0.4" fill="none"/>
<path d="M576.2 157.2l0.5 -1 0.5 -1.4 0.5 0.7 0.5 -0.7 0.6 1.7" fill="#9a9a9a" stroke="#3c3c3c"/>
<path d="M578.8 156.5l0.5 -3.1 0.5 2.8" fill="#9a9a9a" stroke="#3c3c3c"/>
<path d="M592.7 152.3l0.6 -0.6 0.5 0 0.5 -0.3 0.5 -0.7 0.5 -0.5 0.6 -0.6 0.5 0.9 0.5 0.6" fill="#9a9a9a" stroke="#3c3c3c"/>
<path d="M596.9 151.1l0.5 -2.8 0.5 0.8 0.5 0.8 0.6 0.1 0.5 -2.8 0.5 -0.5 0.5 -1.2 0.5 -0.1 0.5 1.6 0.6 0.4 0.5 0.1 0.5 -3.4 0.5 -0.2 0.5 4.1 0.6 -3.5 0.5 2.1 0.5 0.7 0.5 0 0.5 -0.9 0.5 -0.4 0.6 0.2 0.5 0.2 0.5 1.2" fill="#9a9a9a" stroke="#3c3c3c"/>
<path d="M600.5 145.5l1.3 3.9M603.6 143.9l1.3 4.2M604.7 144.5l1.3 2.7" fill="none"/>
<path d="M587.3 155.1l0.5 -2.5 0.5 -0.8 0.5 2.8" fill="#9a9a9a" stroke="#3c3c3c"/>
<path d="M594.5 152.9l0.6 -0.7 0.5 -0.1 0.5 -0.5 0.5 -0.7 0.5 0 0.6 1.1" fill="#9a9a9a" stroke="#3c3c3c"/>
<path d="M597.7 152l0.5 -1.8 0.5 -0.1 0.5 -0.4 0.5 -1.7 0.5 2.8 0.6 -2.9 0.5 2.1 0.5 -0.6 0.5 -3.5 0.5 3.4 0.6 -0.7 0.5 -2.5 0.5 -0.4 0.5 2.4 0.5 -0.4 0.5 -0.4 0.6 0.3 0.5 1 0.5 -1.4 0.5 1.1 0.5 0.5" fill="#9a9a9a" stroke="#3c3c3c"/>
<path d="M608.5 148.8l0.6 -1.3 0.5 0 0.5 0.3 0.5 0.3" fill="#9a9a9a" stroke="#3c3c3c"/>
<path d="M588.3 151.8l1.3 2.9M600.8 147.9l1.3 1.2M603.9 146.1l1.3 3.6" fill="none"/>
<path d="M587.5 156.1l0.5 -2.7 0.6 2.4" fill="#9a9a9a" stroke="#3c3c3c"/>
<path d="M588.6 155.8l0.5 -3.1 0.5 2 0.5 0.7" fill="#9a9a9a" stroke="#3c3c3c"/>
<path d="M595.8 153.7l0.5 -0.6 0.6 -0.4 0.5 -0.2 0.5 -0.4 0.5 -0.6 0.5 0.7 0.6 -1.4 0.5 -0.1 0.5 0.2 0.5 -0.7 0.5 -0.5 0.5 -0.6 0.6 2.6" fill="#9a9a9a" stroke="#3c3c3c"/>
<path d="M602.6 151.7l0.5 -3.5 0.5 0.5 0.5 2.5" fill="#9a9a9a" stroke="#3c3c3c"/>
<path d="M604.1 151.2l0.5 -2.7 0.6 1.1 0.5 0 0.5 0.5 0.5 -0.3 0.5 -0.4 0.6 0.4 0.5 -1.9 0.5 0.2 0.5 0.5 0.5 -0.3 0.5 1" fill="#9a9a9a" stroke="#3c3c3c"/>
<path d="M611.4 149l0.5 -0.6 0.5 0 0.5 0.2" fill="#9a9a9a" stroke="#3c3c3c"/>
<path d="M603.1 148.2l1.3 3.5" fill="none"/>
<path d="M588.3 157.1l0.5 -1.2 0.5 -0.9 0.5 0.6 0.6 0.1 0.5 -1.4 0.5 -0.4 0.5 2.1" fill="#9a9a9a" stroke="#3c3c3c"/>
<path d="M599.2 153.8l0.5 -0.6 0.5 -0.7 0.5 0.5 0.6 -1.3 0.5 0.7 0.5 -0.4 0.5 -1.1 0.5 -0.6 0.6 1.3 0.5 0.2 0.5 -2.3 0.5 1.5 0.5 -1.4 0.5 1.6 0.6 -0.3 0.5 -0.7 0.5 -0.2 0.5 -0.5 0.5 0.6 0.6 -0.1 0.5 0.1 0.5 -0.1 0.5 -0.3 0.5 0.4" fill="#9a9a9a" stroke="#3c3c3c"/>
<path d="M589.6 157.8l0.5 -2.2 0.5 -0.8 0.5 1.3 0.5 -1.4 0.6 -0.1 0.5 1.6 0.5 -1 0.5 1.4" fill="#9a9a9a" stroke="#3c3c3c"/>
<path d="M600.5 154.6l0.5 -0.8 0.5 0.4" fill="#9a9a9a" stroke="#3c3c3c"/>
<path d="M603.6 153.6l0.5 -1.3 0.5 0.4 0.5 -0.4 0.6 -0.1 0.5 0.1 0.5 -0.5 0.5 0.3 0.5 -1.1 0.6 0 0.5 0 0.5 0.9" fill="#9a9a9a" stroke="#3c3c3c"/>
<path d="M609.3 151.9l0.5 -0.7 0.5 -0.5 0.5 0.4 0.6 0.2" fill="#9a9a9a" stroke="#3c3c3c"/>
<path d="M611.4 151.3l0.5 -0.7 0.5 0.4" fill="#9a9a9a" stroke="#3c3c3c"/>
<path d="M590.8 158.6l0.6 -2.7 0.5 1.6 0.5 -1.1 0.5 -1.3 0.5 0.3 0.6 0.6 0.5 -0.7 0.5 -0.9 0.5 2.8" fill="#9a9a9a" stroke="#3c3c3c"/>
<path d="M603.3 154.8l0.5 -0.6 0.5 0.3" fill="#9a9a9a" stroke="#3c3c3c"/>
<path d="M604.3 154.5l0.6 -0.7 0.5 0 0.5 -0.2 0.5 -0.1 0.5 0.2" fill="#9a9a9a" stroke="#3c3c3c"/>
<path d="M606.9 153.7l0.6 -1 0.5 0.7" fill="#9a9a9a" stroke="#3c3c3c"/>
<path d="M608 153.4l0.5 -0.9 0.5 -0.1 0.5 -0.2 0.6 0.2 0.5 0.3" fill="#9a9a9a" stroke="#3c3c3c"/>
<path d="M610.6 152.7l0.5 -0.9 0.5 0.5" fill="#9a9a9a" stroke="#3c3c3c"/>
<path d="M591.6 159.5l0.5 -1.1 0.5 -0.3 0.6 0.1 0.5 -0.1 0.5 -0.9 0.5 -1.6 0.5 1.5 0.6 -0.1 0.5 -1.5 0.5 2.4" fill="#9a9a9a" stroke="#3c3c3c"/>
<path d="M606.7 155l0.5 -0.6 0.5 0.2" fill="#9a9a9a" stroke="#3c3c3c"/>
<path d="M608.8 154.3l0.5 -0.6 0.5 0.3" fill="#9a9a9a" stroke="#3c3c3c"/>
<path d="M610.3 153.9l0.5 -0.6 0.5 -0.2 0.6 0.3" fill="#9a9a9a" stroke="#3c3c3c"/>
<path d="M593.4 160.1l0.5 -0.9 0.5 -1.8 0.6 -0.6 0.5 0.4 0.5 1.3 0.5 -2 0.5 1.7 0.6 -2.2 0.5 2.7" fill="#9a9a9a" stroke="#3c3c3c"/>
<path d="M594.2 161l0.5 -1.1 0.5 -0.3 0.5 -1 0.5 0.6 0.6 -0.1 0.5 0 0.5 -2.3 0.5 1.2 0.5 -0.5 0.6 1.9" fill="#9a9a9a" stroke="#3c3c3c"/>
<path d="M596 161.6l0.5 -1.5 0.5 -0.5 0.5 -1.3 0.5 -0.1 0.6 1.6 0.5 0 0.5 -0.2 0.5 -1.5 0.5 2.1" fill="#9a9a9a" stroke="#3c3c3c"/>
<path d="M597.2 162.4l0.6 -2.2 0.5 0.8 0.5 -0.5 0.5 -0.5 0.5 0.4 0.6 0.1 0.5 -1.5 0.5 0.5 0.5 1.4" fill="#9a9a9a" stroke="#3c3c3c"/>
<path d="M598.5 163.1l0.5 -1.3 0.6 -0.4 0.5 -0.2 0.5 -0.9 0.5 0.7 0.5 0.5 0.6 -1.3 0.5 1 0.5 0.5" fill="#9a9a9a" stroke="#3c3c3c"/>
<path d="M599.8 163.9l0.5 -3 0.5 1.6 0.6 -2.1 0.5 0.7 0.5 -0.4 0.5 0.9 0.5 -0.4 0.6 0.2 0.5 1.1" fill="#9a9a9a" stroke="#3c3c3c"/>
<path d="M601.4 160.4l1.3 0.8" fill="none"/>
<path d="M600.5 164.8l0.6 -0.9 0.5 -0.9 0.5 -1.2 0.5 -0.6 0.6 0 0.5 -0.1 0.5 -0.4 0.5 1.7 0.5 1" fill="#9a9a9a" stroke="#3c3c3c"/>
<path d="M601.8 165.6l0.5 -1.4 0.6 -1.2 0.5 1.3 0.5 -2.4 0.5 1.7 0.6 -0.5 0.5 -0.2 0.5 -1.4 0.5 2.6" fill="#9a9a9a" stroke="#3c3c3c"/>
<path d="M603.9 161.9l1.3 1.2" fill="none"/>
<path d="M603.6 166.2l0.5 -2.6 0.6 0.8 0.5 -1.3 0.5 -0.3 0.5 1.1 0.6 -0.9 0.5 0.3 0.5 1.6" fill="#9a9a9a" stroke="#3c3c3c"/>
<path d="M604.9 166.9l0.5 -2.3 0.5 0.3 0.6 -0.9 0.5 -0.6 0.5 1.2 0.5 0.4 0.6 -0.7 0.5 1.3" fill="#9a9a9a" stroke="#3c3c3c"/>
<path d="M606.7 167.5l0.5 -2.4 0.5 1.2 0.6 -1.5 0.5 -0.3 0.5 0.4 0.5 1.6" fill="#9a9a9a" stroke="#3c3c3c"/>
<path d="M608.5 168.1l0.5 -2.3 0.5 0.5 0.6 -1 0.5 1 0.5 1" fill="#9a9a9a" stroke="#3c3c3c"/>
<path d="M621.3 181.5l0.6 -2.6 0.5 1.3 0.5 0.8" fill="#9a9a9a" stroke="#3c3c3c"/>
<path d="M623.5 180.8l0.5 -2.2 0.5 -0.2 0.5 1.9" fill="#9a9a9a" stroke="#3c3c3c"/>
<path d="M620.5 182.9l0.5 -1 0.6 -0.8 0.5 0 0.5 0 0.5 -1.1 0.6 0.6 0.5 0.3 0.5 -1.6 0.6 1.3 0.5 -0.2 0.5 -0.2 0.5 -0.4 0.6 0.9" fill="#9a9a9a" stroke="#3c3c3c"/>
<path d="M620.7 184l0.6 -2.2 0.5 1.9" fill="#9a9a9a" stroke="#3c3c3c"/>
<path d="M621.8 183.7l0.5 -2 0.5 0.7 0.6 -0.3 0.5 -1 0.5 1 0.6 -0.4 0.5 -1.3 0.5 0.1 0.5 -0.1 0.6 0.4 0.5 -0.7 0.5 -0.1 0.5 0.5 0.6 -0.3 0.5 1" fill="#9a9a9a" stroke="#3c3c3c"/>
<path d="M622.5 184.6l0.6 -1.8 0.5 1.5" fill="#9a9a9a" stroke="#3c3c3c"/>
<path d="M623.6 184.3l0.5 -2.1 0.5 -0.1 0.6 0 0.5 -0.2 0.5 -0.9 0.6 0.7 0.5 -0.2 0.5 -1 0.5 1.1 0.6 -1.2 0.5 0.5 0.5 0.3 0.6 0.9" fill="#9a9a9a" stroke="#3c3c3c"/>
<path d="M625.9 184.7l0.5 -2.3 0.6 0.4 0.5 1.4" fill="#9a9a9a" stroke="#3c3c3c"/>
<path d="M627.5 184.2l0.5 -2.5 0.6 2.1" fill="#9a9a9a" stroke="#3c3c3c"/>
<path d="M628.6 183.8l0.5 -1.2 0.5 0.3 0.5 -0.1 0.6 0.4" fill="#9a9a9a" stroke="#3c3c3c"/>
</g>
<g>
<path d="M293.2 342.6L371.7 392.5M306.8 338.8L386.2 387.9M320.5 335L400.6 383.3M334.1 331.2L415.1 378.7M347.8 327.5L429.5 374.1M361.4 323.7L444 369.4M375 319.9L458.5 364.8M388.7 316.1L472.9 360.2M402.3 312.3L487.4 355.6M293.2 342.6L402.3 312.3M312.8 355.1L423.6 323.1M332.4 367.6L444.9 334M352.1 380L466.1 344.8M371.7 392.5L487.4 355.6" fill="none" stroke="#000" stroke-width="0.7"/>
<line x1="285.2" y1="271.9" x2="293.2" y2="342.6" stroke="#000" stroke-width="0.7"/>
<path d="M298.1 341.2l0.5 -1.1 0.5 -3 0.6 -3.2 0.5 -5 0.5 -6.7 0.5 -5.7 0.5 -5.9 0.5 -5.3 0.5 -4.9 0.5 -2.2 0.5 -1.4 0.5 -1.5 0.5 -2.9 0.5 1.6 0.6 -0.7 0.5 -1.8 0.5 0.8 0.5 -0.2 0.5 -0.2 0.5 2.8 0.5 1.1 0.5 1.6 0.5 4.5 0.5 3.9 0.5 4.6 0.5 4.2 0.6 3.5 0.5 4.1 0.5 3.2 0.5 2.5 0.5 1.6 0.5 1.1 0.5 0.6 0.5 0.3 0.5 0.2 0.5 0.5 0.5 0.3 0.5 0.5 0.5 0 0.6 0.2 0.5 0.3 0.5 0.2 0.5 0.1 0.5 0 0.5 1.1"/>
<path d="M326.1 333.5l0.5 -1.2 0.5 -0.4 0.5 -0.3 0.5 -0.4 0.5 -0.3 0.5 -0.3 0.5 -0.3 0.5 -0.3 0.6 -0.3 0.5 -0.6 0.5 -0.1 0.5 -0.4 0.5 -0.5 0.5 -0.1 0.5 -0.3 0.5 -0.1 0.5 -0.4 0.5 -0.2 0.5 -0.1 0.5 -0.2 0.6 0.1 0.5 -0.1 0.5 -0.1 0.5 -0.1 0.5 0 0.5 -0.1 0.5 0 0.5 0 0.5 -0.1 0.5 0.1 0.5 0.1 0.5 -0.1 0.5 0 0.6 0.1 0.5 0 0.5 0 0.5 0 0.5 0.1 0.5 -0.1 0.5 0 0.5 -0.1 0.5 0 0.5 -0.1 0.5 1" fill="#9a9a9a" stroke="#3c3c3c"/>
<path d="M304.7 292.4l1.2 9.9M307.8 291.9l1.2 10.8M308.8 295.8l1.2 9.8M309.8 301.9l1.2 11.2M310.8 310.4l1.2 10.1M311.9 318.1l1.2 8.4M312.9 325.4l1.2 5.3M313.9 329.5l1.2 2.4M314.9 331.2l1.2 1.1M315.9 331.7l1.2 1.7M316.9 332.5l1.2 1.4M336.2 326.7l1.3 -1.4M338.3 326.5l1.3 -1.3M340.3 326.4l1.3 -0.9" fill="none"/>
<path d="M298.9 342.1l0.5 -2.6 0.5 -2.3 0.5 -3.9 0.5 -4.2 0.5 -5.9 0.5 -4.2 0.5 -4.1 0.5 -5.1 0.5 -2.6 0.5 -1.1 0.5 -2.2 0.6 0.5 0.5 -3.3 0.5 1.2 0.5 -1.5 0.5 -0.7 0.5 1.4 0.5 0 0.5 -0.8 0.5 2 0.5 1.9 0.5 1 0.6 3.4 0.5 4 0.5 4.8 0.5 2.6 0.5 3.6 0.5 2.5 0.5 1.8 0.5 2.4 0.5 0.1 0.5 1.2 0.5 -0.1 0.5 0.4 0.6 0.7 0.5 0.3 0.5 0.1 0.5 0.6 0.5 0.2 0.5 0.2 0.5 0 0.5 0.3 0.5 0.1 0.5 0.1 0.5 0.9"/>
<path d="M325.8 334.6l0.5 -1.2 0.5 -0.4 0.5 -0.4 0.5 -0.3 0.6 -0.4 0.5 -0.4 0.5 -0.5 0.5 -0.5 0.5 -0.4 0.5 -0.6 0.5 -0.3 0.5 -0.5 0.5 -0.7 0.5 -0.3 0.5 -0.4 0.5 -0.7 0.6 0.1 0.5 -0.8 0.5 -0.1 0.5 -0.4 0.5 0 0.5 0 0.5 -0.1 0.5 -0.2 0.5 -0.4 0.5 0 0.5 0.4 0.6 0.1 0.5 -0.3 0.5 0.1 0.5 0.5 0.5 -0.2 0.5 0 0.5 0.2 0.5 0 0.5 0.4 0.5 0 0.5 -0.1 0.5 0.3 0.6 -0.1 0.5 0.1 0.5 0.2 0.5 -0.1 0.5 0.2 0.5 0 0.5 0 0.5 0 0.5 0.1 0.5 -0.1 0.5 0 0.6 0 0.5 0.9"/>
<path d="M307 300.1l1.2 14.9M308 301.5l1.2 14.5M309 302.7l1.2 13.7M310 305.6l1.2 15.3M311.1 313l1.2 12.7M312.1 320.4l1.2 8.9M313.1 326.5l1.2 5.9M314.1 330.7l1.2 2.2M315.1 332l1.2 1.2M316.1 332.3l1.2 1.8M317.2 333.3l1.2 1.6M338.5 324.7l1.3 -2.8M340.6 324.9l1.3 -2.7M342.6 325.3l1.3 -1.8M343.6 325.5l1.3 -1.4M344.6 325.9l1.3 -1.5M345.6 326.1l1.3 -1.3" fill="none"/>
<path d="M299.6 343.1l0.5 -1.7 0.5 -2.9 0.5 -2.6 0.5 -3.2 0.5 -3.4 0.5 -3.1 0.5 -2.4 0.5 -1.7 0.6 -1.8 0.5 -1.1 0.5 -0.7 0.5 -0.8 0.5 -1.9 0.5 -0.2 0.5 -0.8 0.5 0.5 0.5 -0.3 0.5 -0.8 0.5 1.8 0.6 0.9 0.5 -0.5 0.5 2.7 0.5 1.8 0.5 2 0.5 2.8 0.5 2.2 0.5 1.5 0.5 1.9 0.5 1.1 0.5 -0.3 0.6 0.8 0.5 0.5 0.5 -0.3 0.5 0.7 0.5 0.3 0.5 0.4 0.5 0.4 0.5 -0.1 0.5 0.3 0.5 0.4 0.5 0.1 0.6 0.2 0.5 0 0.5 0 0.5 0.9"/>
<path d="M325.5 335.8l0.5 -1.2 0.6 -0.4 0.5 -0.3 0.5 -0.5 0.5 -0.4 0.5 -0.6 0.5 -0.4 0.5 -0.5 0.5 -0.6 0.5 -0.8 0.5 -0.4 0.5 -1.1 0.6 -0.5 0.5 -0.6 0.5 -0.6 0.5 -0.4 0.5 -0.6 0.5 -0.9 0.5 -0.6 0.5 -0.7 0.5 -0.5 0.5 -0.2 0.5 -0.9 0.6 0.1 0.5 -0.5 0.5 0.2 0.5 0 0.5 0 0.5 -0.1 0.5 0.7 0.5 -0.3 0.5 0.1 0.5 0.7 0.5 0 0.6 0.5 0.5 0 0.5 0.5 0.5 0.1 0.5 0.2 0.5 0.1 0.5 0.4 0.5 0 0.5 0.5 0.5 0.2 0.5 0 0.6 0.3 0.5 0.1 0.5 0 0.5 0.2 0.5 0 0.5 0.2 0.5 0 0.5 0.1 0.5 0.1 0.5 0 0.5 0 0.6 0.1 0.5 -0.1 0.5 0.9"/>
<path d="M307.2 314.8l1.2 11.4M308.2 315l1.2 11M309.2 316l1.2 10.4M310.3 316.4l1.2 11.6M311.3 320.9l1.2 8.7M312.3 325.7l1.2 6.7M313.3 329.4l1.2 4.4M314.3 332.4l1.2 1.4M315.4 332.9l1.2 1.8M316.4 333.1l1.2 2.2M317.4 334.1l1.2 1.5M339.8 321.9l1.3 -4.2M341.8 322.3l1.3 -3.4M342.8 323l1.3 -3.5M343.9 323.5l1.3 -3.2M344.9 324.1l1.3 -2.1M345.9 324.4l1.3 -1.8M346.9 324.8l1.3 -1.9M347.9 325.5l1.3 -1.8M349 325.8l1.3 -1M350 325.9l1.3 -0.8" fill="none"/>
<path d="M300.8 343.8l0.5 -3.1 0.5 -1.4 0.5 -1.8 0.5 -1.9 0.6 -1.7 0.5 -1.2 0.5 -0.8 0.5 -1.4 0.5 -1.3 0.5 -0.7 0.5 -1.1 0.5 -1 0.5 -0.3 0.5 0.7 0.6 -0.6 0.5 -0.7 0.5 0.6 0.5 -0.7 0.5 0.9 0.5 1 0.5 0.7 0.5 1.3 0.5 0.3 0.5 1.2 0.5 1.7 0.6 1 0.5 0.3 0.5 0.1 0.5 -0.1 0.5 0.4 0.5 0.5 0.5 0.2 0.5 0.4 0.5 0.4 0.5 -0.1 0.6 0.4 0.5 0.1 0.5 0.2 0.5 0.3 0.5 0 0.5 0.1 0.5 0.2 0.5 0.8"/>
<path d="M325.8 336.9l0.5 -1.3 0.5 -0.4 0.5 -0.5 0.5 -0.3 0.5 -0.6 0.5 -0.7 0.5 -0.4 0.6 -0.9 0.5 -0.6 0.5 -0.7 0.5 -1.1 0.5 -1 0.5 -0.8 0.5 -0.4 0.5 -0.8 0.5 -1.2 0.5 -1.5 0.5 -1 0.6 0 0.5 -1.7 0.5 -0.9 0.5 0.3 0.5 -1.7 0.5 -0.1 0.5 0 0.5 -0.4 0.5 -0.5 0.5 -0.7 0.6 1.3 0.5 -0.6 0.5 0.3 0.5 0.8 0.5 -0.2 0.5 0.3 0.5 -0.1 0.5 0.7 0.5 1.1 0.5 -0.3 0.5 0.5 0.6 1.1 0.5 0 0.5 0.7 0.5 -0.1 0.5 0.4 0.5 0.4 0.5 0.4 0.5 0.4 0.5 0.6 0.5 0.2 0.6 0.2 0.5 0.2 0.5 0.5 0.5 0.1 0.5 0.3 0.5 0.1 0.5 0 0.5 0.2 0.5 0.1 0.5 0 0.6 0.1 0.5 0 0.5 0.1 0.5 -0.1 0.5 1"/>
<path d="M307.4 326.1l1.2 7.2M309.5 326.1l1.2 6.2M310.5 326.3l1.2 6M311.5 328l1.2 6.7M312.5 329.6l1.2 5.1M313.5 332.5l1.2 3M314.6 333.8l1.2 1.7M315.6 333.8l1.2 1.9M316.6 334.7l1.2 1.8M317.6 335.3l1.2 1.4M318.6 335.6l1.2 1.9M340 317l1.3 -4.7M341.1 317.7l1.3 -5.8M342.1 318.8l1.3 -3.8M343.1 318.9l1.3 -2.4M344.1 319.5l1.3 -1.6M345.1 320.3l1.3 -1.7M346.2 321.9l1.3 -2.1M347.2 322.6l1.3 -1.2M348.2 322.9l1.3 -0M349.2 323.7l1.3 0.1M350.2 324.7l1.3 -0.1M351.3 325.1l1.3 0.4M352.3 325.8l1.3 0.3" fill="none"/>
<path d="M302 344.6l0.5 -2.7 0.6 -0.8 0.5 -0.9 0.5 -1.1 0.5 -0.8 0.5 -0.5 0.5 -0.7 0.5 -1.4 0.5 -0.2 0.5 -0.7 0.5 -0.7 0.6 -0.7 0.5 -0.1 0.5 -0.8 0.5 0.4 0.5 -0.3 0.5 -0.3 0.5 -0.1 0.5 0.1 0.5 0.9 0.5 1.5 0.6 -0.4 0.5 0.4 0.5 0.1 0.5 0.7 0.5 -0.7 0.5 0.6 0.5 0 0.5 0.3 0.5 0.2 0.5 0.6 0.6 0.4 0.5 -0.2 0.5 0.3 0.5 0.4 0.5 0.1 0.5 0 0.5 0.3 0.5 -0.1 0.5 0.2 0.5 0.9"/>
<path d="M325 338.2l0.5 -1.4 0.5 -0.4 0.5 -0.4 0.5 -0.5 0.5 -0.8 0.5 -0.4 0.6 -1 0.5 -0.8 0.5 -0.5 0.5 -1 0.5 -1.5 0.5 -0.8 0.5 -1.2 0.5 -1.5 0.5 -1.1 0.6 -1.3 0.5 -0.7 0.5 -2.7 0.5 0.1 0.5 -1.8 0.5 -1 0.5 -1.3 0.5 -1.2 0.5 -0.2 0.5 -1.9 0.6 0.9 0.5 -0.8 0.5 -1.8 0.5 1.3 0.5 -0.5 0.5 0.2 0.5 0.2 0.5 0.9 0.5 -1.5 0.5 1.5 0.6 1.7 0.5 0.7 0.5 0.8 0.5 -0.3 0.5 1.6 0.5 0.4 0.5 0.4 0.5 1.2 0.5 0 0.5 1.3 0.6 0.3 0.5 0.8 0.5 0.7 0.5 0.3 0.5 0.6 0.5 0.5 0.5 0.3 0.5 0.3 0.5 0.6 0.5 0.1 0.6 0.6 0.5 0.3 0.5 -0.1 0.5 0.2 0.5 0.4 0.5 0.2 0.5 0 0.5 0.1 0.5 0 0.5 0.1 0.6 0 0.5 0.1 0.5 1"/>
<path d="M310.7 332.3l1.2 4.2M311.7 332.3l1.2 4.3M312.7 334.7l1.2 1.8M313.8 334.7l1.2 2.4M314.8 335.5l1.2 1.5M315.8 335.4l1.2 2.2M316.8 335.7l1.2 2.1M317.8 336.5l1.2 1.7M318.9 336.7l1.2 1.7M339.3 311.2l1.3 -4.4M340.3 312l1.3 -6M342.3 311.8l1.3 -3.6M343.4 315l1.3 -3.5M344.4 316.5l1.3 -0.6M345.4 317.8l1.3 -0.7M346.4 318.6l1.3 -0.3M347.4 319.8l1.3 0.2M348.5 321.4l1.3 0.7M349.5 322.9l1.3 0.6M350.5 323.8l1.3 0.7M351.5 324.6l1.3 0.8M352.5 325.5l1.3 0.8M353.6 326.2l1.3 1M354.6 326.4l1.3 1.2" fill="none"/>
<path d="M302.8 345.5l0.5 -1.1 0.5 -0.6 0.5 -0.6 0.5 -0.4 0.5 -0.5 0.5 -0.7 0.5 -0.9 0.5 -0.9 0.6 -0.8 0.5 -0.5 0.5 -0.6 0.5 -0.3 0.5 -0.5 0.5 -0.5 0.5 0.5 0.5 -0.1 0.5 0 0.5 -0.5 0.6 0.1 0.5 0 0.5 -0.2 0.5 0.2 0.5 0.1 0.5 0.4 0.5 0.1 0.5 -0.2 0.5 0.3 0.6 0.4 0.5 -0.2 0.5 0.3 0.5 0.3 0.5 0.1 0.5 0 0.5 0.2 0.5 0.1 0.5 0.2 0.5 0 0.6 0.2 0.5 -0.1 0.5 1"/>
<path d="M323.7 339.7l0.5 -1.2 0.5 -0.4 0.5 -0.5 0.5 -0.5 0.5 -0.5 0.6 -0.6 0.5 -0.8 0.5 -0.9 0.5 -1 0.5 -1 0.5 -0.8 0.5 -1.7 0.5 -0.5 0.5 -1.9 0.5 -0.9 0.6 -2.5 0.5 -1.4 0.5 -2 0.5 -0.9 0.5 -2.7 0.5 -1.3 0.5 -0.3 0.5 -2.3 0.5 -2.7 0.6 0.4 0.5 -3.2 0.5 -1 0.5 1.1 0.5 -2.3 0.5 0.8 0.5 1 0.5 1 0.5 -1.4 0.5 -2.3 0.6 1.5 0.5 1.2 0.5 1.1 0.5 -0.6 0.5 0.5 0.5 2.6 0.5 0.7 0.5 2.2 0.5 2.3 0.6 -0.5 0.5 1.7 0.5 0.1 0.5 1 0.5 2 0.5 -0.3 0.5 0.8 0.5 1.4 0.5 0.5 0.5 0.8 0.6 0.8 0.5 0.2 0.5 0.7 0.5 0.3 0.5 0.6 0.5 0.2 0.5 0.4 0.5 0.5 0.5 -0.1 0.6 0.5 0.5 0.1 0.5 0.3 0.5 -0.1 0.5 0.1 0.5 0.3 0.5 0 0.5 0 0.5 0.1 0.5 0.9"/>
<path d="M309.9 336.6l1.2 2.3M311.9 336.5l1.2 1.9M313 336.6l1.2 1.6M314 336.6l1.2 2.1M316 337l1.2 2.2M317.1 337.7l1.2 1.4M318.1 337.8l1.2 1.5M338.5 305.4l1.3 4.4M341.6 306l1.3 3.2M343.6 308.2l1.3 6.5M344.6 311.5l1.3 4.1M345.6 316l1.3 0.2M346.7 317.2l1.3 5M347.7 318.3l1.3 5.6M348.7 320l1.3 4.5M349.7 322.2l1.3 3.8M350.7 323.5l1.3 3.4M351.8 324.5l1.3 3.3M352.8 325.5l1.3 3M353.8 326.3l1.3 2.4M354.8 327.2l1.3 1.9" fill="none"/>
<path d="M304 346.3l0.5 -1.3 0.5 -0.4 0.5 -0.7 0.5 -0.3 0.5 -0.9 0.6 -0.4 0.5 -0.6 0.5 -0.8 0.5 -0.3 0.5 -0.8 0.5 0.1 0.5 -0.3 0.5 -0.6 0.5 -0.1 0.6 -0.2 0.5 -0.3 0.5 0.1 0.5 -0.1 0.5 0.4 0.5 -0.6 0.5 0.5 0.5 0 0.5 -0.2 0.6 0.3 0.5 0.2 0.5 0.2 0.5 -0.2 0.5 0.1 0.5 0.2 0.5 -0.1 0.5 0.1 0.5 0.4 0.5 0.1 0.6 -0.1 0.5 0.3 0.5 -0.1 0.5 0.1 0.5 0.8"/>
<path d="M323.9 340.7l0.5 -1.3 0.5 -0.4 0.5 -0.4 0.6 -0.6 0.5 -0.6 0.5 -0.7 0.5 -0.6 0.5 -1 0.5 -0.9 0.5 -0.7 0.5 -1.2 0.5 -1.6 0.6 -0.7 0.5 -1.4 0.5 -2 0.5 -1 0.5 -2.2 0.5 -0.2 0.5 -1.7 0.5 -2.6 0.5 -0.1 0.6 -2.7 0.5 -2 0.5 -0.7 0.5 0.5 0.5 -2.4 0.5 -1.9 0.5 -0.5 0.5 -0.2 0.5 0.8 0.6 0.1 0.5 0.4 0.5 0.9 0.5 0.4 0.5 -0.7 0.5 0.6 0.5 -2.2 0.5 3.1 0.5 -0.1 0.6 0 0.5 2.6 0.5 -0.1 0.5 1 0.5 2.4 0.5 -1.9 0.5 4.8 0.5 1.1 0.5 1.3 0.6 0.6 0.5 0.6 0.5 -0.1 0.5 1.1 0.5 0.4 0.5 0.7 0.5 0.2 0.5 0.2 0.5 0.8 0.6 0.3 0.5 0.3 0.5 0.2 0.5 0 0.5 0.3 0.5 0.1 0.5 0.1 0.5 0.2 0.5 0 0.6 0.1 0.5 0.1 0.5 0.1 0.5 -0.1 0.5 0.9"/>
<path d="M312.2 338.4l1.2 1.8M314.2 338.2l1.2 2M315.2 338.7l1.2 1.8M316.3 338.8l1.2 1.7M318.3 339.1l1.2 1.7M338.7 308.9l1.3 8M339.8 309.8l1.3 8.4M342.8 309.2l1.3 8.7M343.8 312.2l1.3 7M344.9 314.8l1.3 5.7M345.9 315.7l1.3 8.1M346.9 316.2l1.3 6.5M347.9 322.1l1.3 4.9M349 324l1.3 3.9M350 324.5l1.3 4.4M351 326l1.3 3.3M352 326.9l1.3 3.2M353 327.9l1.3 2.5M354.1 328.5l1.3 2.1M355.1 328.7l1.3 2.2" fill="none"/>
<path d="M305.2 347.1l0.5 -1.4 0.5 -0.3 0.6 -0.6 0.5 -0.3 0.5 -0.8 0.5 -0.4 0.5 -0.7 0.5 -0.4 0.5 -0.5 0.5 0 0.5 -0.3 0.6 -0.2 0.5 -0.6 0.5 0.2 0.5 -0.2 0.5 -0.4 0.5 0.2 0.5 -0.4 0.5 0.4 0.5 -0.2 0.6 -0.2 0.5 0.5 0.5 -0.1 0.5 0.1 0.5 0 0.5 0 0.5 0 0.5 0.3 0.5 0.1 0.6 -0.1 0.5 0.1 0.5 0 0.5 0.1 0.5 0.1 0.5 0 0.5 0.8" fill="#9a9a9a" stroke="#3c3c3c"/>
<path d="M324.1 341.7l0.6 -1.2 0.5 -0.5 0.5 -0.5 0.5 -0.5 0.5 -0.7 0.5 -0.6 0.5 -0.5 0.5 -0.8 0.5 -1.1 0.6 -0.9 0.5 -0.8 0.5 -1 0.5 -1.3 0.5 -1.3 0.5 -1.2 0.5 -1.6 0.5 -1 0.5 -1 0.6 -1.7 0.5 -0.1 0.5 -2.8 0.5 -1.9 0.5 1.5 0.5 -3 0.5 0 0.5 -2.4 0.6 1.5 0.5 1.3 0.5 -1.6 0.5 -1.5 0.5 2.4 0.5 0.7 0.5 0.6 0.5 -1 0.5 0.3 0.6 -0.5 0.5 0.5 0.5 0 0.5 0.4 0.5 2.2 0.5 -0.8 0.5 1.3 0.5 -0.2 0.5 0.7 0.6 2.6 0.5 -1.9 0.5 0.9 0.5 -0.4 0.5 4.7 0.5 0.3 0.5 0.6 0.5 0.7 0.6 0.3 0.5 0.3 0.5 0.1 0.5 0.3 0.5 0.4 0.5 0.3 0.5 0.1 0.5 0.1 0.5 0.1 0.6 0.1 0.5 0.2 0.5 0 0.5 0 0.5 0.1 0.5 -0.1 0.5 1"/>
<path d="M314.4 340l1.2 2.1M315.4 340.2l1.2 1.6M316.5 340.5l1.2 1.5M317.5 340.5l1.2 1.5M339 316l1.3 6.8M340 316.9l1.3 6.8M342 317.5l1.3 1.8M343.1 317.5l1.3 6.6M344.1 317.9l1.3 6.2M345.1 319.3l1.3 3.4M346.1 320.4l1.3 5.6M348.2 322.7l1.3 3.8M349.2 327l1.3 1.2M350.2 327.9l1.3 3.5M351.3 328.9l1.3 2.9M352.3 329.3l1.3 2.8M353.3 330l1.3 2.2" fill="none"/>
<path d="M305.9 348l0.5 -1 0.6 -0.4 0.5 -0.6 0.5 -0.4 0.5 -0.5 0.5 -0.2 0.5 -0.7 0.5 -0.2 0.5 -0.3 0.6 -0.3 0.5 -0.4 0.5 -0.4 0.5 0 0.5 -0.1 0.5 -0.1 0.5 -0.2 0.5 -0.3 0.5 0.3 0.6 0 0.5 -0.3 0.5 -0.1 0.5 0.3 0.5 -0.1 0.5 -0.1 0.5 0 0.5 0.2 0.6 -0.1 0.5 0 0.5 0.2 0.5 0 0.5 -0.1 0.5 0 0.5 0 0.5 1" fill="#9a9a9a" stroke="#3c3c3c"/>
<path d="M324.4 342.8l0.5 -1.3 0.5 -0.4 0.5 -0.4 0.5 -0.5 0.5 -0.4 0.5 -0.9 0.5 -0.4 0.6 -0.6 0.5 -0.9 0.5 -0.7 0.5 -1.3 0.5 -0.4 0.5 -1 0.5 -1.3 0.5 -0.6 0.6 -1.2 0.5 -2 0.5 -0.1 0.5 -1.2 0.5 -1.2 0.5 -1.4 0.5 0.8 0.5 -1.2 0.6 -2.6 0.5 0.4 0.5 -1.2 0.5 -1.4 0.5 1.1 0.5 0 0.5 -0.9 0.5 3.2 0.5 0 0.6 0.9 0.5 -2.7 0.5 0.6 0.5 1.9 0.5 -4.2 0.5 -0.1 0.5 4.8 0.5 -1 0.6 1.1 0.5 -0.8 0.5 -0.6 0.5 4.2 0.5 -0.8 0.5 1.4 0.5 -1 0.5 -0.7 0.6 0.7 0.5 -0.4 0.5 2.1 0.5 2.9 0.5 0.3 0.5 0.2 0.5 0.3 0.5 -0.1 0.5 0.3 0.6 0.1 0.5 0 0.5 0.1 0.5 0.1 0.5 0 0.5 0.1 0.5 -0.1 0.5 1"/>
<path d="M314.6 341.9l1.2 1.8M316.7 341.8l1.2 1.7M338.2 319.4l1.3 8.2M339.2 320.5l1.3 7.5M340.2 322.8l1.3 4.6M343.3 319.3l1.3 7.4M344.3 324l1.3 1.1M346.4 322.7l1.3 6.9M347.4 326.1l1.3 4.7M348.4 326.5l1.3 4.2M349.5 326.5l1.3 5.6M350.5 328.2l1.3 5.3M351.5 331.4l1.3 2.4" fill="none"/>
<path d="M307.7 348.6l0.5 -1.3 0.5 -0.3 0.5 -0.5 0.5 -0.3 0.5 -0.4 0.6 -0.3 0.5 -0.5 0.5 0 0.5 -0.5 0.5 -0.2 0.5 -0.2 0.5 -0.1 0.5 -0.2 0.5 0 0.6 0.1 0.5 -0.2 0.5 -0.3 0.5 0 0.5 0.1 0.5 0 0.5 -0.2 0.5 0.3 0.6 -0.2 0.5 0 0.5 0 0.5 0 0.5 0.1 0.5 -0.2 0.5 0 0.5 1" fill="#9a9a9a" stroke="#3c3c3c"/>
<path d="M324.6 343.8l0.5 -1.2 0.5 -0.4 0.5 -0.3 0.5 -0.5 0.5 -0.6 0.6 -0.5 0.5 -0.5 0.5 -0.4 0.5 -1.1 0.5 -0.6 0.5 -0.6 0.5 -0.7 0.5 -1.1 0.6 -0.9 0.5 -0.4 0.5 -1 0.5 -1.1 0.5 -1 0.5 -1.1 0.5 0.6 0.5 -0.8 0.6 -0.3 0.5 -2.9 0.5 0.4 0.5 -0.5 0.5 1.5 0.5 -1 0.5 -0.3 0.5 1.1 0.6 -4.1 0.5 4.5 0.5 -2 0.5 1.4 0.5 -3.1 0.5 0.9 0.5 0.6 0.5 2.1 0.6 -2.9 0.5 1.6 0.5 -1.3 0.5 -0.2 0.5 0.1 0.5 1.5 0.5 1.1 0.5 1.8 0.6 -1.5 0.5 2.7 0.5 -1.1 0.5 1 0.5 -1.6 0.5 3.1 0.5 -2.1 0.5 3.4 0.6 0 0.5 0.2 0.5 0.1 0.5 0 0.5 0 0.5 0 0.5 0.1 0.5 0 0.6 0.9"/>
<path d="M337.4 326.3l1.3 3.3M338.4 326.8l1.3 4.4M339.4 327.6l1.3 0.6M342.5 325.2l1.3 4.5M345.6 325.1l1.3 2.6M346.6 326.7l1.3 3.7M347.6 329.6l1.3 3.9M349.7 330.7l1.3 2.5M350.7 332.2l1.3 0.1" fill="none"/>
<path d="M309.4 349.3l0.5 -1.3 0.5 -0.3 0.6 -0.4 0.5 -0.3 0.5 -0.2 0.5 -0.2 0.5 -0.4 0.5 -0.3 0.5 -0.1 0.5 -0.2 0.6 0 0.5 -0.2 0.5 -0.2 0.5 0 0.5 -0.1 0.5 -0.1 0.5 -0.1 0.6 0 0.5 -0.3 0.5 0.2 0.5 -0.2 0.5 0.1 0.5 -0.2 0.5 -0.1 0.5 0.2 0.6 -0.2 0.5 0.9" fill="#9a9a9a" stroke="#3c3c3c"/>
<path d="M325.3 344.7l0.5 -1.3 0.5 -0.3 0.6 -0.5 0.5 -0.5 0.5 -0.3 0.5 -0.6 0.5 -0.4 0.5 -0.8 0.5 -0.6 0.5 -0.4 0.6 -0.8 0.5 -0.7 0.5 -0.4 0.5 -0.7 0.5 -0.9 0.5 -0.4 0.5 -0.7 0.6 -0.6 0.5 -0.1 0.5 -0.9 0.5 -1 0.5 -0.3 0.5 -0.6 0.5 -0.4 0.5 -1.2 0.6 0.3 0.5 1.7 0.5 -0.1 0.5 -1.9 0.5 -1.1 0.5 -0.9 0.5 4.9 0.5 -5.4 0.6 1.5 0.5 1 0.5 0.4 0.5 -1.5 0.5 4.6 0.5 0.3 0.5 -3.3 0.5 0.7 0.6 -2.8 0.5 3.7 0.5 -1 0.5 -0.8 0.5 3.9 0.5 -2.3 0.5 -0.4 0.6 1.6 0.5 0.8 0.5 -1.5 0.5 0.6 0.5 -0.9 0.5 1.1 0.5 2.9 0.5 0 0.6 0 0.5 0.9"/>
<path d="M338.7 329.6l1.3 4.9M340.7 328.2l1.3 7.2M342.8 328.3l1.3 1.5M343.8 329.7l1.3 4.4M346.9 327.7l1.3 5.6M347.9 330.4l1.3 1.8M349.9 330.8l1.3 3.6M352 332.3l1.3 2.8M353 332.5l1.3 5.1" fill="none"/>
<path d="M311.2 349.9l0.5 -1.2 0.5 -0.2 0.5 -0.3 0.5 -0.3 0.5 -0.1 0.5 -0.2 0.6 -0.4 0.5 -0.2 0.5 -0.1 0.5 -0.1 0.5 -0.1 0.5 -0.3 0.5 0 0.5 -0.1 0.6 -0.2 0.5 0 0.5 -0.2 0.5 0 0.5 -0.1 0.5 -0.1 0.5 0 0.6 0 0.5 -0.2 0.5 0.9" fill="#9a9a9a" stroke="#3c3c3c"/>
<path d="M323.5 346.4l0.5 -2.5 0.5 2.2" fill="#9a9a9a" stroke="#3c3c3c"/>
<path d="M325.5 345.8l0.6 -1.2 0.5 -0.3 0.5 -0.4 0.5 -0.3 0.5 -0.4 0.5 -0.5 0.5 -0.4 0.5 -0.4 0.6 -0.7 0.5 -0.5 0.5 -0.4 0.5 -0.6 0.5 -0.6 0.5 -0.3 0.5 -0.7 0.6 -0.3 0.5 -0.2 0.5 -0.6 0.5 -0.7 0.5 -0.2 0.5 -0.7 0.5 -0.8 0.5 -0.5 0.6 0.8 0.5 -1.2 0.5 1.2 0.5 -2.5 0.5 2.1 0.5 -0.5 0.5 1.3 0.6 -0.4 0.5 0.6 0.5 -0.2 0.5 -5.7 0.5 4.7 0.5 -4.5 0.5 4.3 0.5 0 0.6 1.9 0.5 -0.9 0.5 -3.5 0.5 3.6 0.5 0 0.5 -1.9 0.5 1.2 0.6 -2.3 0.5 2.9 0.5 -2.2 0.5 1.8 0.5 -0.4 0.5 -0.8 0.5 1.1 0.5 -1.3 0.6 1.8 0.5 -1 0.5 3.5"/>
<path d="M336.8 334.6l1.3 2.8M337.9 334.9l1.3 2.6M339.9 334.5l1.3 0.5M340.9 335.3l1.3 2.7M343 329.6l1.3 6.5M344 329.8l1.3 7.3M345 334.1l1.3 3M346.1 335.1l1.3 1M349.2 332.2l1.3 1M350.2 332.9l1.3 3.8M351.2 334.3l1.3 2M352.2 334.6l1.3 0.4" fill="none"/>
<path d="M313.9 350.2l0.5 -1.1 0.6 -0.2 0.5 -0.4 0.5 0 0.5 -0.2 0.5 -0.2 0.5 -0.1 0.5 -0.2 0.6 -0.1 0.5 -0.1 0.5 -0.1 0.5 -0.2 0.5 0 0.5 -0.2 0.5 -0.1 0.6 -0.1 0.5 0.8" fill="#9a9a9a" stroke="#3c3c3c"/>
<path d="M322.7 347.7l0.5 -3.6 0.5 1.8 0.5 -2 0.5 1.9 0.5 -0.1 0.6 -1.2 0.5 1.5 0.5 -1.6 0.5 -1.2 0.5 -0.3 0.5 -0.3 0.5 1.5 0.6 -0.3 0.5 -0.6 0.5 -0.3 0.5 -0.3 0.5 -0.5 0.5 -0.3 0.5 -0.6 0.5 -0.3 0.6 -0.3 0.5 -0.3 0.5 -0.7 0.5 -0.3 0.5 -0.1 0.5 -0.3 0.5 -0.6 0.6 0 0.5 -0.2 0.5 -0.7 0.5 0 0.5 0.1 0.5 0 0.5 -0.1 0.6 -0.8 0.5 -1.7 0.5 1.1 0.5 2 0.5 -2.4 0.5 -2.7 0.5 0.8 0.6 2.4 0.5 -0.1 0.5 1.1 0.5 -2.2 0.5 2.3 0.5 -0.7 0.5 -0.5 0.6 1.3 0.5 -0.8 0.5 1.6 0.5 -4.3 0.5 2.5 0.5 -3.1 0.5 2.6 0.5 0.9 0.6 -0.6 0.5 0.2 0.5 0.4 0.5 -1.7 0.5 0.7 0.5 2 0.5 0.8"/>
<path d="M327.8 342.9l1.2 0.2M338.1 337.4l1.3 2.5M341.2 334.9l1.3 3.7M343.2 332.9l1.3 3.9M344.3 336.1l1.3 -1.8M345.3 337.1l1.3 -4M347.3 336l1.3 -1.3M350.4 333.2l1.3 6.2M353.5 335l1.3 3.2" fill="none"/>
<path d="M322.9 348.8l0.5 -2.1 0.5 -0.3 0.5 -1.4 0.5 1 0.6 -0.5 0.5 -0.6 0.5 0.1 0.5 1 0.5 0.4 0.5 -2 0.5 -0.9 0.6 -0.4 0.5 0.4 0.5 -0.6 0.5 -1.6 0.5 -0.2 0.5 2.9 0.5 -0.6 0.6 -0.2 0.5 -0.3 0.5 -0.3 0.5 -0.5 0.5 -0.1 0.5 -0.2 0.5 -0.4 0.6 0.1 0.5 -0.2 0.5 -0.3 0.5 -0.1 0.5 0 0.5 -0.2 0.5 -0.8 0.6 0.3 0.5 -0.9 0.5 -0.7 0.5 0.7 0.5 -1.1 0.5 0.5 0.5 -0.4 0.6 -1.1 0.5 -1.1 0.5 0.8 0.5 -1.6 0.5 -1 0.5 -0.8 0.5 -0.4 0.6 0 0.5 6.1 0.5 -2.5 0.5 -2 0.5 1.3 0.5 2.5 0.5 1.2 0.6 -0.1 0.5 1.1"/>
<path d="M351.2 340.7l0.5 -1.3 0.5 -3.6 0.5 1.4 0.5 2.4 0.5 -0.8 0.6 -2.7 0.5 2.1 0.5 -0.6 0.5 1.8" fill="#9a9a9a" stroke="#3c3c3c"/>
<path d="M326 344.9l1.2 0.3M331.1 341.1l1.2 2.3M340.4 339.3l1.3 2.9M346.5 333.1l1.3 8.4M348.6 334.7l1.3 6.3M352.7 337.2l1.3 2.8" fill="none"/>
<path d="M324.1 349.6l0.5 -1.1 0.6 -2.2 0.5 0.1 0.5 1.8 0.5 -0.9 0.5 -2.1 0.5 1.2 0.5 -1.7 0.6 0.6 0.5 -0.7 0.5 1.3 0.5 -1.7 0.5 -1.5 0.5 1.1 0.5 -0.1 0.6 -0.3 0.5 -0.9 0.5 2.3 0.5 -0.4 0.5 -0.3 0.5 0 0.5 -0.4 0.6 0 0.5 -0.3 0.5 -0.1 0.5 -0.2 0.5 0 0.5 0 0.6 -0.5 0.5 0.3 0.5 -0.7 0.5 0.6 0.5 -0.5 0.5 -0.1 0.5 -0.6 0.6 -1.3 0.5 -0.7 0.5 2.5 0.5 -3 0.5 -0.5 0.5 -0.1 0.5 0.5 0.6 -3.2 0.5 0.9 0.5 5.6 0.5 -0.8 0.5 -2.1 0.5 -1.4 0.5 0.5 0.6 2.6 0.5 -4.2 0.5 2.3 0.5 1.4 0.5 -0.6 0.5 -1.3 0.6 1.7 0.5 -1.3 0.5 0.9 0.5 0.1 0.5 0.6"/>
<path d="M332.4 343.4l1.2 0.7M342.7 340.3l1.3 2.4M344.7 338.6l1.3 4M346.8 336.7l1.3 5.8M348.8 338l1.3 -0.5" fill="none"/>
<path d="M325.4 350.3l0.5 -3.2 0.5 2 0.5 -2.1 0.5 1.3 0.5 -2 0.6 0.9 0.5 1 0.5 -0.4 0.5 -0.9 0.5 -0.7 0.5 0.2 0.5 -2 0.6 1.3 0.5 -0.6 0.5 -1.2 0.5 0.2 0.5 0.7 0.5 1.3 0.6 -0.3 0.5 -0.1 0.5 -0.2 0.5 -0.2 0.5 -0.2 0.5 -0.1 0.5 -0.2 0.6 -0.1 0.5 -0.1 0.5 0 0.5 -0.2 0.5 -0.5 0.5 0.3 0.6 -0.3 0.5 -0.6 0.5 0.6 0.5 -0.6 0.5 -0.5 0.5 -1.4 0.5 0.7 0.6 1.2 0.5 -0.7 0.5 -0.5 0.5 -1.9 0.5 -1 0.5 3.4 0.6 -1.1 0.5 0.5 0.5 -4.5 0.5 0 0.5 4.4 0.5 -2.3 0.5 -0.6 0.6 0 0.5 0.6 0.5 1.2 0.5 0.7 0.5 0.5"/>
<path d="M355.3 341.7l0.5 -0.9 0.5 0.1 0.5 0.4" fill="#9a9a9a" stroke="#3c3c3c"/>
<path d="M331.5 344.4l1.2 2.3M333.6 344.1l1.2 1.9M347 340.2l1.3 2.4M350.1 337.5l1.3 3.7M352.2 339l1.3 0.8" fill="none"/>
<path d="M327.1 351l0.5 -2.1 0.5 -0.6 0.6 0.8 0.5 -2 0.5 1.5 0.5 -1.2 0.5 1.4 0.5 -1.8 0.6 0.9 0.5 -2.1 0.5 0.9 0.5 1.4 0.5 -1.5 0.5 -0.2 0.6 -0.3 0.5 -0.5 0.5 1.7 0.5 -0.2 0.5 -0.2 0.5 -0.2 0.5 0 0.6 -0.3 0.5 -0.1 0.5 -0.1 0.5 -0.1 0.5 -0.2 0.5 -0.2 0.6 0 0.5 -0.2 0.5 -0.3 0.5 0.8 0.5 -0.2 0.5 -0.7 0.6 -0.5 0.5 1.1" fill="#9a9a9a" stroke="#3c3c3c"/>
<path d="M345.2 345.7l0.5 -0.9 0.5 0.1 0.5 -1.5 0.5 0.7 0.5 -0.8 0.6 -0.6 0.5 -2.5 0.5 2.9 0.5 0.7 0.5 -1.6 0.5 -1.2 0.6 0.2 0.5 -1.9 0.5 2.1 0.5 2.1" fill="#9a9a9a" stroke="#3c3c3c"/>
<path d="M352.9 343.5l0.5 -3.7 0.5 2.8 0.6 -0.8 0.5 -1.1 0.5 1.4 0.5 -0.4 0.5 0.2 0.5 0.4" fill="#9a9a9a" stroke="#3c3c3c"/>
<path d="M353.4 339.8l1.3 3.5" fill="none"/>
<path d="M328.4 351.7l0.5 -1 0.5 -2.4 0.5 0.9 0.5 0.7 0.5 -0.3 0.6 -2.1 0.5 2.2 0.5 -0.6 0.5 -1.2 0.5 -0.4 0.5 0.8 0.6 0.4 0.5 -2.1 0.5 -0.4 0.5 1.7 0.5 1.4" fill="#9a9a9a" stroke="#3c3c3c"/>
<path d="M344.9 346.9l0.5 -0.7 0.5 -0.5 0.5 -0.2 0.5 0 0.6 0.7" fill="#9a9a9a" stroke="#3c3c3c"/>
<path d="M347.5 346.2l0.5 -0.6 0.5 -1.3 0.5 -0.7 0.5 1.4 0.5 -1.9 0.6 -0.4 0.5 -0.6 0.5 0.2 0.5 2.6" fill="#9a9a9a" stroke="#3c3c3c"/>
<path d="M352.1 344.9l0.5 -2.6 0.5 2.3" fill="#9a9a9a" stroke="#3c3c3c"/>
<path d="M353.1 344.6l0.6 -1.2 0.5 -0.3 0.5 0.3 0.5 -0.3 0.5 0 0.5 -0.2 0.6 -0.4 0.5 0.3 0.5 0.4" fill="#9a9a9a" stroke="#3c3c3c"/>
<path d="M357.8 343.2l0.5 -0.6 0.5 0.3" fill="#9a9a9a" stroke="#3c3c3c"/>
<path d="M335.1 346.6l1.2 1" fill="none"/>
<path d="M330.6 352.2l0.5 -3.1 0.6 0.5 0.5 1.2 0.5 -2.2 0.5 0.3 0.5 -0.3 0.5 0.4 0.6 -0.4 0.5 0.9 0.5 0.3 0.5 -2.2 0.5 0.1 0.5 2.5" fill="#9a9a9a" stroke="#3c3c3c"/>
<path d="M347.2 347.4l0.5 -0.8 0.5 -0.3 0.5 -0.1 0.5 -0.7 0.6 0.3 0.5 0.1 0.5 -1.1 0.5 0.8 0.5 -0.8 0.5 0.6 0.6 -1.9 0.5 1.1 0.5 0 0.5 -0.8 0.5 -0.6 0.5 0.3 0.6 0.1 0.5 0 0.5 0.9" fill="#9a9a9a" stroke="#3c3c3c"/>
<path d="M357.5 344.4l0.5 -0.6 0.5 0.3" fill="#9a9a9a" stroke="#3c3c3c"/>
<path d="M334.5 352.2l0.5 -2.5 0.5 2.2" fill="#9a9a9a" stroke="#3c3c3c"/>
<path d="M348.9 348l0.6 -0.7 0.5 0.4" fill="#9a9a9a" stroke="#3c3c3c"/>
<path d="M350 347.7l0.5 -0.9 0.5 0.1 0.5 -0.2 0.5 -0.2 0.6 0 0.5 -0.8 0.5 -0.5 0.5 -0.2 0.5 -0.2 0.5 0.3 0.6 0 0.5 0 0.5 -0.1 0.5 0.6" fill="#9a9a9a" stroke="#3c3c3c"/>
<path d="M351.8 348.3l0.5 -0.7 0.5 0.4" fill="#9a9a9a" stroke="#3c3c3c"/>
<path d="M353.8 347.7l0.5 -1 0.6 0.3 0.5 -0.3 0.5 -0.4 0.5 0 0.5 0 0.5 0.3" fill="#9a9a9a" stroke="#3c3c3c"/>
<path d="M357.4 346.6l0.6 -0.9 0.5 0.6" fill="#9a9a9a" stroke="#3c3c3c"/>
<path d="M356.1 348.1l0.5 -0.5 0.6 0.2" fill="#9a9a9a" stroke="#3c3c3c"/>
<polygon points="369.1,312.2 368.5,317.7 367.9,323.3 367.4,328.8 366.8,334.3 366.2,339.9 365.6,345.4 365,350.9 364.4,356.5 363.9,362 363.3,367.5 362.7,373.1 362.1,378.6 364.3,379.1 366.5,379.2 368.7,379.1 370.9,378.9 373.1,378.5 375.3,378 377.5,377.3 379.7,376.4 381.9,375.4 384.6,374.9 385.6,373.2 384.6,371.4 383.8,370.4 383,368.9 381.9,363.7 380.8,358.6 379.7,353.4 378.7,348.2 377.6,343.1 376.5,337.9 375.5,332.8 374.4,327.6 373.4,322.5 372.4,317.3 371.5,312.2" fill="#969696" stroke="#222" stroke-width="0.7" stroke-linejoin="round"/>
<path d="M369 317.7L368.4 323.2L368.4 328.7L367.8 334.1L367.5 339.6L367.1 345.1L366.9 350.6L366.3 356.1L365.9 361.6L365.3 367.1L365.2 372.6L364.8 379.1M369.8 312.2L369.6 317.6L369.9 323L369.7 328.4L369.7 333.8L369.8 339.2L369.7 344.6L369.7 350L369.4 355.5L369.6 360.9L369.4 366.3L369.6 371.7L369.5 379.1M370.5 312.2L370.7 317.5L370.8 322.9L370.7 328.2L371.3 333.6L371.6 338.9L371.8 344.2L371.9 349.6L372.2 354.9L372.2 360.3L372.8 365.6L372.9 371L373 378.5M371.8 322.7L372.5 328L372.8 333.3L373.3 338.5L373.8 343.8L374.3 349.1L374.9 354.3L375.7 359.6L376.5 364.9L377.1 370.1L377.4 377.3M371.3 312.2L372.3 317.4L372.9 322.6L373.7 327.8L374.7 333L375.4 338.1L376.3 343.3L377.5 348.5L378.2 353.7L379.1 358.9L379.8 364.1L380.9 369.3L381.9 375.4" fill="none" stroke="#dcdcdc" stroke-width="0.75"/>
<path d="M368.9 328.5L368.9 334L368.3 339.4L368.1 344.9L368.2 350.3L367.7 355.8L367.3 361.2L367.5 366.7L367 372.1L367.2 379.2M369.9 312.2L370.2 317.6L370.1 322.9L370.4 328.3L370.6 333.7L370.7 339.1L370.6 344.4L370.9 349.8L370.9 355.2L371 360.6L371 365.9L371.1 371.3L371.3 378.8M370.5 312.2L370.9 317.5L371.2 322.8L371.5 328.1L371.8 333.4L372.6 338.7L372.6 344L373.2 349.3L373.6 354.6L373.8 359.9L374.5 365.2L375 370.5L375.2 378M372.2 322.7L372.8 327.9L373.9 333.1L374.4 338.3L375.4 343.6L376.1 348.8L376.6 354L377.4 359.2L378.2 364.5L379 369.7L379.7 376.4" fill="none" stroke="#303030" stroke-width="0.65"/>
<path d="M371.5 312.2L372.4 317.3L373.4 322.5L374.4 327.6L375.5 332.8L376.5 337.9L377.6 343.1L378.7 348.2L379.7 353.4L380.8 358.6L381.9 363.7L383 368.9L384.1 374" fill="none" stroke="#111" stroke-width="1.1"/>
<path d="M370.3 312.2L370.3 318.2" fill="none" stroke="#222" stroke-width="1.7"/>
</g>
<g>
<path d="M549.5 353.1L630.4 403.3M563.3 349.7L644.8 398.8M577 346.3L659.1 394.2M590.8 342.9L673.5 389.7M604.6 339.6L687.8 385.1M618.4 336.2L702.2 380.6M632.2 332.8L716.6 376.1M645.9 329.4L730.9 371.5M659.7 326L745.3 367M549.5 353.1L659.7 326M569.7 365.7L681.1 336.2M590 378.2L702.5 346.5M610.2 390.8L723.9 356.8M630.4 403.3L745.3 367" fill="none" stroke="#000" stroke-width="0.7"/>
<line x1="541.6" y1="283" x2="549.5" y2="353.1" stroke="#000" stroke-width="0.7"/>
<path d="M560.6 350.4l0.6 -1.3 0.5 1" fill="#9a9a9a" stroke="#3c3c3c"/>
<path d="M574 347.1l0.5 -1.3 0.5 -0.6 0.5 -0.8 0.5 -1.1 0.6 -1.3 0.5 -1.7 0.5 -1.7 0.5 -2.2 0.5 -2.4 0.5 -2.5 0.5 -2.6 0.5 -1.7 0.6 -2.8 0.5 -2.3 0.5 -2.1 0.5 -1.8 0.5 -1 0.5 -1 0.5 -0.6 0.6 0.2 0.5 -0.3 0.5 0.7 0.5 0.8 0.5 -1.7 0.5 0.1 0.5 0.8 0.5 1.1 0.6 2 0.5 1.1 0.5 0.8 0.5 0.9 0.5 2.3 0.5 1.1 0.5 0.6 0.5 1.2 0.6 1.3 0.5 0.8 0.5 1.2 0.5 0.8 0.5 0.7 0.5 0.8 0.5 0.2 0.6 0.5 0.5 0.2 0.5 0.6 0.5 1 0.5 -0.1 0.5 -0.1 0.5 0.1 0.5 0.1 0.6 0 0.5 0.1 0.5 0 0.5 0 0.5 0.1 0.5 0 0.5 0.2 0.6 0 0.5 0.2 0.5 0.1 0.5 0 0.5 0.2 0.5 0.1 0.5 0 0.5 0.1 0.6 0.1 0.5 0 0.5 1.9"/>
<path d="M584.8 315.5l1.3 0.6M586.8 315.4l1.3 -0.1M587.8 317.3l1.3 -0.8M588.9 320.4l1.3 -3.4M589.9 322.1l1.3 -4M590.9 325.5l1.3 -7.6M591.9 327.3l1.3 -7.8M593 329.4l1.3 -9.5M594 331.4l1.3 -10.5M595 332.9l1.3 -11.6M596.1 333.6l1.3 -10.8M597.1 334.4l1.3 -11M598.1 335.3l1.3 -11.8M599.1 335.3l1.3 -10.7M600.2 335.4l1.3 -9.8M601.2 335.5l1.3 -9.5M602.2 335.6l1.3 -8.4M603.2 335.8l1.3 -7.1M604.3 336l1.3 -6.3M605.3 336.1l1.3 -5.2" fill="none"/>
<path d="M561.9 351.1l0.5 -2.9 0.5 1.2 0.6 0.1 0.5 -1.3 0.5 2.3" fill="#9a9a9a" stroke="#3c3c3c"/>
<path d="M564.5 350.5l0.5 -2.2 0.5 1.9" fill="#9a9a9a" stroke="#3c3c3c"/>
<path d="M574.8 348l0.5 -1.4 0.5 -0.7 0.5 -0.8 0.5 -1.1 0.5 -1 0.5 -1.6 0.5 -1.7 0.6 -1.9 0.5 -2 0.5 -1.9 0.5 -2.4 0.5 -2 0.5 -1.8 0.5 -2.5 0.6 -0.9 0.5 -1.1 0.5 -3 0.5 -1.7 0.5 -0.8 0.5 0.4 0.5 -1.3 0.6 -0.7 0.5 -0.2 0.5 0.9 0.5 -1.4 0.5 -0.1 0.5 0.5 0.5 0.7 0.5 -0.8 0.6 1.2 0.5 0.8 0.5 0.4 0.5 -0.6 0.5 0.3 0.5 1.4 0.5 0.3 0.6 -0.5 0.5 0.9 0.5 -0.6 0.5 1.5 0.5 -0.4 0.5 0.9 0.5 -0.2 0.6 1.7 0.5 0 0.5 0.6 0.5 0 0.5 0.2 0.5 0.4 0.5 0.7 0.5 -0.2 0.6 1.1 0.5 0 0.5 0.4 0.5 1 0.5 0.2 0.5 0.4 0.5 1.2 0.6 0.5 0.5 0.4 0.5 0.6 0.5 0.6 0.5 0.3 0.5 0.8 0.5 0.4 0.6 0.4 0.5 0.3 0.5 0.5 0.5 0.3 0.5 0.4 0.5 0.3 0.5 0.2 0.5 0.3 0.6 0.3 0.5 0.2 0.5 0.1 0.5 0.2 0.5 0.1 0.5 1.9"/>
<path d="M586.1 316.1l1.3 -6.3M588.1 315.3l1.3 -11.2M589.1 316.5l1.3 -16.3M590.2 316.9l1.3 -19.2M592.2 317.8l1.3 -21.5M593.2 319.5l1.3 -23M594.3 319.9l1.3 -24.8M595.3 320.8l1.3 -24.6M596.3 321.3l1.3 -21.3M597.4 322.8l1.3 -23.3M598.4 323.4l1.3 -20.8M599.4 323.6l1.3 -19.3M600.4 324.7l1.3 -17M601.5 325.6l1.3 -16.1M602.5 326l1.3 -12.8M603.5 327.2l1.3 -12M604.5 328.8l1.3 -9.4M605.6 329.7l1.3 -8.4M606.6 330.9l1.3 -7.2M607.6 332l1.3 -5.2M608.7 332.8l1.3 -4.6M609.7 333.6l1.3 -3.1M610.7 334.3l1.3 -2.4M611.7 334.8l1.3 -1.5M612.8 335.4l1.3 -1.2" fill="none"/>
<path d="M562.7 352l0.5 -1.3 0.5 -0.9 0.5 0.7 0.5 -2.4 0.5 0.7 0.6 0.5 0.5 1.8" fill="#9a9a9a" stroke="#3c3c3c"/>
<path d="M575.5 348.8l0.5 -1.2 0.5 -0.6 0.6 -0.6 0.5 -0.9 0.5 -1 0.5 -1.1 0.5 -1.3 0.5 -1.6 0.5 -1.7 0.6 -1.1 0.5 -4.2 0.5 -2.2 0.5 -2 0.5 -1.4 0.5 -2.7 0.5 -1.2 0.6 -1.8 0.5 -2.8 0.5 -0.6 0.5 -1.6 0.5 -3.5 0.5 -1.1 0.5 -2.8 0.6 0.1 0.5 -1.8 0.5 -2.7 0.5 -1.3 0.5 -3 0.5 -0.9 0.5 -1.3 0.6 -1.2 0.5 -0.4 0.5 0.1 0.5 -1.2 0.5 0.1 0.5 -1.2 0.5 1.4 0.5 0.6 0.6 -2 0.5 2.4 0.5 -1.2 0.5 3 0.5 0.6 0.5 0.1 0.5 -0.5 0.6 2.2 0.5 0.9 0.5 1.4 0.5 0.3 0.5 1.5 0.5 1.8 0.5 0.4 0.6 1.5 0.5 1.9 0.5 1.8 0.5 1.6 0.5 0.5 0.5 2.2 0.5 1.8 0.6 1.1 0.5 0.9 0.5 1.1 0.5 1.3 0.5 1.5 0.5 1.6 0.5 0.7 0.6 0.7 0.5 1 0.5 1.3 0.5 0.5 0.5 0.9 0.5 0.8 0.5 0.6 0.6 0.5 0.5 0.4 0.5 0.4 0.5 0.5 0.5 0.3 0.5 0.2 0.5 0.4 0.5 0.2 0.6 0.1 0.5 2"/>
<path d="M564.7 348.1l1.3 2.8M593.5 296.3l1.3 -8.8M595.6 295.1l1.3 -5.8M596.6 296.3l1.3 -3.7M598.6 299.5l1.3 -4.6M599.7 302.6l1.3 -4.6M600.7 304.3l1.3 -1M601.7 307.6l1.3 -2.2M602.8 309.5l1.3 0.8M603.8 313.2l1.3 0.5M604.8 315.3l1.3 2.5M605.8 319.3l1.3 1M606.9 321.3l1.3 2.4M607.9 323.7l1.3 2.6M608.9 326.8l1.3 2.1M610 328.2l1.3 2.6M611 330.5l1.3 1.7M612 331.9l1.3 1.9M613 333.3l1.3 1.6M614.1 334.2l1.3 1.5M615.1 335.1l1.3 1.4M616.1 335.6l1.3 1.4" fill="none"/>
<path d="M563.4 352.9l0.5 -1.4 0.6 -2 0.5 -0.1 0.5 2.2 0.5 -0.6 0.5 -0.9 0.5 -0.6 0.5 -0.7 0.6 3" fill="#9a9a9a" stroke="#3c3c3c"/>
<path d="M576.8 349.6l0.5 -1.4 0.5 -0.6 0.5 -0.6 0.6 -0.8 0.5 -0.7 0.5 -1.1 0.5 -3.5 0.5 -1.7 0.5 -2 0.5 -1.4 0.6 -2.4 0.5 -2.2 0.5 -2.5 0.5 -2.5 0.5 -2.1 0.5 -2.3 0.5 -1.7 0.6 -3.6 0.5 -2.8 0.5 -3 0.5 -2.8 0.5 -2.7 0.5 -1.2 0.5 -3.1 0.6 -4 0.5 -0.7 0.5 -1.4 0.5 -3.2 0.5 -1.2 0.5 -0.1 0.5 -2.8 0.6 -0.8 0.5 -0.5 0.5 0.7 0.5 0.6 0.5 -0.3 0.5 -0.2 0.5 1 0.6 1.3 0.5 0.3 0.5 3 0.5 -1.9 0.5 1.5 0.5 3.5 0.5 -0.8 0.6 3.3 0.5 -0.2 0.5 2.7 0.5 2.6 0.5 1.1 0.5 1 0.5 2.7 0.6 2.2 0.5 2.2 0.5 1.2 0.5 1.3 0.5 2.8 0.5 1.7 0.5 0.8 0.6 2 0.5 1.4 0.5 0.8 0.5 1.7 0.5 1.1 0.5 1.6 0.5 0.9 0.6 1.1 0.5 0.5 0.5 0.9 0.5 0.9 0.5 0.6 0.5 0.4 0.5 0.7 0.6 0.5 0.5 0.3 0.5 0.6 0.5 0.3 0.5 0.1 0.5 0.3 0.5 0.2 0.6 2"/>
<path d="M565 349.4l1.3 2.4M593.8 286.2l1.3 7.2M595.8 287l1.3 11M596.9 289.3l1.3 9.1M598.9 292.2l1.3 11.3M599.9 294.9l1.3 11.1M601 298l1.3 11.4M602 303.3l1.3 9.6M603 305.4l1.3 12M604.1 310.3l1.3 9.4M605.1 313.7l1.3 8.7M606.1 317.8l1.3 7.9M607.1 320.3l1.3 7.4M608.2 323.7l1.3 6.4M609.2 326.2l1.3 6.2M610.2 328.9l1.3 5.2M611.3 330.9l1.3 4.2M612.3 332.3l1.3 3.9M613.3 333.8l1.3 3.4M614.3 334.9l1.3 2.8M615.4 335.7l1.3 2.6M616.4 336.6l1.3 3.9" fill="none"/>
<path d="M564.2 353.8l0.5 -3.5 0.5 2.1 0.5 -0.4 0.5 -0.2 0.6 -1 0.5 0.6 0.5 -0.7 0.5 0.5 0.5 -1.5 0.5 0.2 0.5 2.5" fill="#9a9a9a" stroke="#3c3c3c"/>
<path d="M578.1 350.3l0.5 -1.3 0.5 -0.5 0.5 -0.5 0.5 -2.8 0.6 -1.4 0.5 -1.5 0.5 -1.4 0.5 -1.9 0.5 -2 0.5 -2 0.5 -2.3 0.6 -1.7 0.5 -3 0.5 -1.5 0.5 -3 0.5 -3.2 0.5 -2.6 0.5 -1.6 0.6 -2.7 0.5 -3.4 0.5 -3.1 0.5 -1.7 0.5 -0.9 0.5 -4.4 0.5 0.7 0.6 -4.1 0.5 1.2 0.5 -3.5 0.5 1.1 0.5 -2 0.5 2 0.5 -2.3 0.6 0.4 0.5 2.1 0.5 -0.5 0.5 2.7 0.5 0.3 0.5 0.2 0.5 0.1 0.6 0.7 0.5 3.1 0.5 1.7 0.5 -0.3 0.5 0.9 0.5 1.7 0.6 1.8 0.5 1.6 0.5 2.7 0.5 0.7 0.5 1.9 0.5 2.6 0.5 1.1 0.6 1.2 0.5 2 0.5 0.7 0.5 1.8 0.5 1.5 0.5 1.4 0.5 0.6 0.6 1.9 0.5 0.6 0.5 1.2 0.5 1.1 0.5 0.6 0.5 1 0.5 0.3 0.6 0.6 0.5 0.9 0.5 0.3 0.5 0.7 0.5 0.3 0.5 0.2 0.5 0.3 0.6 0.4 0.5 0.2 0.5 0.2 0.5 1.9"/>
<path d="M595.1 293.4l1.3 11.9M596.1 295l1.3 10.3M597.1 298l1.3 10.7M598.1 298.3l1.3 11.5M599.2 302.1l1.3 9.5M600.2 303.5l1.3 12.7M601.2 306.1l1.3 11.4M602.3 309.5l1.3 10.7M603.3 312.9l1.3 9.9M604.3 317.4l1.3 8M605.4 319.7l1.3 8.9M606.4 322.4l1.3 8.3M607.4 325.7l1.3 7M608.4 327.7l1.3 6.5M609.5 330.2l1.3 5.5M610.5 332.5l1.3 4.5M611.5 334.1l1.3 3.9M612.6 335l1.3 3.6M613.6 336.2l1.3 3.1M614.6 337.2l1.3 2.5M615.6 337.7l1.3 3.9" fill="none"/>
<path d="M565.5 354.6l0.5 -1.6 0.5 0 0.5 -0.2 0.5 0.3 0.5 -0.8 0.5 0 0.6 -1.9 0.5 2.2 0.5 -0.4 0.5 -0.7 0.5 1.7" fill="#9a9a9a" stroke="#3c3c3c"/>
<path d="M579.4 351.1l0.5 -2.4 0.5 -1.8 0.5 -1.3 0.5 -1 0.5 -1.7 0.5 -1.2 0.6 -1.7 0.5 -2 0.5 -2.3 0.5 -1.5 0.5 -2.8 0.5 -2.2 0.6 -2.7 0.5 -2.1 0.5 -1.2 0.5 -4.1 0.5 -0.8 0.5 -3.3 0.5 -1.7 0.6 -2.9 0.5 -1.7 0.5 -0.2 0.5 -1.8 0.5 -2.2 0.5 1 0.5 -2.3 0.6 -0.9 0.5 0.1 0.5 1.1 0.5 1.4 0.5 -1.3 0.5 0.7 0.6 1 0.5 -0.9 0.5 0.9 0.5 2.4 0.5 1 0.5 0.8 0.5 0.4 0.6 1.1 0.5 0.6 0.5 2.8 0.5 1.8 0.5 1.4 0.5 -0.1 0.5 1.2 0.6 1.5 0.5 1.4 0.5 1.2 0.5 2 0.5 0.5 0.5 2.2 0.6 1.1 0.5 1.1 0.5 1 0.5 0.9 0.5 1.1 0.5 0.7 0.5 0.8 0.6 1.1 0.5 0.3 0.5 0.8 0.5 0.6 0.5 0.6 0.5 0.4 0.5 0.4 0.6 0.2 0.5 0.4 0.5 0.3 0.5 0.2 0.5 0.2 0.5 2.1"/>
<path d="M593.3 302.3l1.3 11.1M594.3 303.5l1.3 8.8M595.3 303.6l1.3 9.8M596.4 305.3l1.3 10.6M597.4 305.3l1.3 12.2M598.4 308.7l1.3 10.3M599.4 309.9l1.3 11M600.5 311.6l1.3 12.2M601.5 316.2l1.3 8.8M602.5 317.5l1.3 10.1M603.6 320.2l1.3 9.3M604.6 322.8l1.3 8.6M605.6 325.3l1.3 7.7M606.7 328.6l1.3 6.4M607.7 330.7l1.3 5.9M608.7 332.7l1.3 5.3M609.7 334.2l1.3 4.6M610.8 335.6l1.3 4.1M611.8 337l1.3 3.3M612.8 338l1.3 2.8M613.9 338.6l1.3 4.5" fill="none"/>
<path d="M566.7 355.4l0.5 -2.3 0.6 0 0.5 0.5 0.5 -0.4 0.5 -0.7 0.5 0.6 0.5 -2.4 0.5 2.2 0.6 -1.5 0.5 1.6 0.5 0.9" fill="#9a9a9a" stroke="#3c3c3c"/>
<path d="M579.1 352.2l0.5 -2.1 0.5 -0.6 0.5 -0.7 0.6 -1 0.5 -0.8 0.5 -1.4 0.5 -2 0.5 -2.1 0.5 -1.1 0.5 -2.2 0.6 -2.1 0.5 -1.8 0.5 -2.1 0.5 -1 0.5 -3.1 0.5 -1.8 0.6 -1 0.5 -3.1 0.5 -1.5 0.5 -2.1 0.5 -1.9 0.5 -0.2 0.5 -1.5 0.6 -0.4 0.5 -0.1 0.5 -0.8 0.5 -0.2 0.5 -0.3 0.5 -1.1 0.6 1.4 0.5 -0.7 0.5 -0.5 0.5 0.7 0.5 0.3 0.5 2.5 0.5 0.1 0.6 0.5 0.5 1.2 0.5 1.1 0.5 0.3 0.5 0.8 0.5 1.1 0.5 1.3 0.6 1.5 0.5 1.1 0.5 0.3 0.5 1.5 0.5 1 0.5 1.6 0.6 0.3 0.5 0.8 0.5 1.1 0.5 1 0.5 0.6 0.5 1.3 0.5 0.7 0.6 0.7 0.5 0.9 0.5 0.6 0.5 0.8 0.5 0 0.5 0.9 0.6 0.5 0.5 0.3 0.5 0.4 0.5 0.2 0.5 0.3 0.5 0.2 0.5 0.2 0.6 2.1"/>
<path d="M593.5 313.2l1.3 8.6M595.6 312.3l1.3 10.4M596.6 313.3l1.3 10.9M597.6 315.9l1.3 9.3M598.7 317.6l1.3 9M599.7 319l1.3 8.9M600.7 320.9l1.3 9.7M601.8 323.7l1.3 8.6M602.8 325.1l1.3 7.3M603.8 327.6l1.3 7M604.9 329.5l1.3 6.8M605.9 331.4l1.3 6.4M606.9 333l1.3 6M607.9 335l1.3 4.7M609 336.6l1.3 3.8M610 338l1.3 2.9M611 338.9l1.3 3.2M612.1 339.7l1.3 2.6M613.1 340.3l1.3 4.1" fill="none"/>
<path d="M567.5 356.3l0.5 -1.8 0.5 0.1 0.5 0.5 0.5 -1.1 0.6 0.6 0.5 -1.3 0.5 -1.5 0.5 0.5 0.5 0.3 0.5 0.1 0.6 0.3 0.5 1.7" fill="#9a9a9a" stroke="#3c3c3c"/>
<path d="M579.3 353.3l0.6 -2.3 0.5 -0.7 0.5 -0.7 0.5 -0.9 0.5 -0.9 0.5 -1.2 0.5 -1.2 0.6 -1 0.5 -1.6 0.5 -1.1 0.5 -2.2 0.5 -1.1 0.5 -2.1 0.6 -1.3 0.5 -2.1 0.5 -0.9 0.5 -2.2 0.5 -0.8 0.5 -1.9 0.6 -1.8 0.5 0.3 0.5 -1.6 0.5 -1.2 0.5 -0.4 0.5 -0.8 0.5 0.1 0.6 -0.3 0.5 -0.4 0.5 0.9 0.5 -0.1 0.5 -0.5 0.5 1.4 0.6 -0.7 0.5 0.7 0.5 0 0.5 1.5 0.5 0.6 0.5 0.4 0.5 0.4 0.6 1 0.5 0.4 0.5 0.9 0.5 1.4 0.5 1.3 0.5 0.8 0.6 0.9 0.5 -0.7 0.5 0.8 0.5 1.3 0.5 0.9 0.5 0.7 0.6 1 0.5 -0.2 0.5 1.8 0.5 -0.4 0.5 1.5 0.5 0.1 0.5 0.6 0.6 0.5 0.5 0.2 0.5 0.1 0.5 0.4 0.5 0.8 0.5 0.3 0.6 -0.2 0.5 0.5 0.5 2.2"/>
<path d="M571.1 351.8l1.3 2.2M593.8 321l1.3 8M594.8 321.8l1.3 7.4M595.8 322.7l1.3 7.2M596.9 322.7l1.3 8.1M597.9 324.2l1.3 7.5M598.9 325.2l1.3 7.8M600 326.6l1.3 7.8M601 327.9l1.3 7.5M602 330.6l1.3 5.4M603.1 332.3l1.3 5.4M604.1 332.4l1.3 7.5M605.1 334.6l1.3 5.9M606.2 336.3l1.3 5.1M607.2 337.9l1.3 3.3M608.2 339l1.3 3.7M609.2 339.7l1.3 3.3M610.3 340.4l1.3 2.4M611.3 340.9l1.3 4.1" fill="none"/>
<path d="M568.7 357l0.6 -3.4 0.5 1 0.5 0.6 0.5 -1.3 0.5 -1.1 0.5 1.3 0.6 -0.1 0.5 0.6 0.5 -1.9 0.5 -0.1 0.5 -0.7 0.5 3.6" fill="#9a9a9a" stroke="#3c3c3c"/>
<path d="M579.6 354.3l0.5 -2.5 0.5 -0.7 0.5 -0.6 0.5 -0.9 0.6 -0.7 0.5 -1 0.5 -1.1 0.5 -1 0.5 -1.3 0.5 -1.2 0.6 -1.6 0.5 -1.4 0.5 -0.8 0.5 -1.3 0.5 -1.4 0.5 -1.7 0.6 -0.6 0.5 -1.3 0.5 -1.2 0.5 0 0.5 -0.9 0.5 -0.4 0.6 -1 0.5 -0.5 0.5 -0.6 0.5 0.4 0.5 -0.4 0.5 0 0.5 0.2 0.6 0.2 0.5 -0.4 0.5 0.6 0.5 1 0.5 -0.4 0.5 0.6 0.6 0.4 0.5 1.1 0.5 -0.2 0.5 1 0.5 0.4 0.5 0.9 0.6 0.4 0.5 1.5 0.5 -0.5 0.5 0.1 0.5 0.6 0.5 0.6 0.6 1 0.5 0 0.5 2.2 0.5 0.1 0.5 0.5 0.5 -0.5 0.5 1.4 0.6 0.3 0.5 -0.6 0.5 1.1 0.5 0.5 0.5 -0.3 0.5 0.6 0.6 0.5 0.5 -0.7 0.5 0.4 0.5 1.8 0.5 0.3 0.5 -0.2 0.6 0.4"/>
<path d="M614.2 345.5l0.5 -0.6 0.5 0.3" fill="#9a9a9a" stroke="#3c3c3c"/>
<path d="M618.3 344.4l0.5 -2.5 0.5 2.3" fill="#9a9a9a" stroke="#3c3c3c"/>
<path d="M619.3 344.2l0.5 -2 0.5 1.7" fill="#9a9a9a" stroke="#3c3c3c"/>
<path d="M621.9 343.5l0.5 -1.7 0.5 -1.3 0.5 2.6" fill="#9a9a9a" stroke="#3c3c3c"/>
<path d="M569.3 353.6l1.3 2.4M571.3 352.8l1.3 2.9M574.4 351.9l1.3 3.3M594 328.6l1.3 6.9M595.1 329l1.3 6.7M596.1 329.2l1.3 7.6M597.1 329.8l1.3 7.8M598.2 330.8l1.3 7.8M599.2 331.7l1.3 7.7M600.2 333.1l1.3 7.1M601.3 334.4l1.3 6.4M602.3 335.4l1.3 5.5M603.3 336.1l1.3 5.3M604.4 337.7l1.3 4.7M605.4 339.9l1.3 2.7M606.4 340.5l1.3 3.8M608.5 341.1l1.3 1.9M609.5 342.7l1.3 3.2M611.6 342.8l1.3 4.1" fill="none"/>
<path d="M570 357.8l0.5 -1.8 0.6 -0.1 0.5 -0.7 0.5 0.3 0.5 0.2 0.5 0 0.5 -0.7 0.5 -1 0.6 1.2 0.5 -1.6 0.5 1.6 0.5 1" fill="#9a9a9a" stroke="#3c3c3c"/>
<path d="M576.2 356.2l0.5 -3.1 0.5 2.9" fill="#9a9a9a" stroke="#3c3c3c"/>
<path d="M579.8 355.3l0.5 -2.4 0.6 -0.6 0.5 -0.6 0.5 -0.7 0.5 -1 0.5 -0.8 0.5 -0.8 0.6 -0.8 0.5 -1 0.5 -1.2 0.5 -0.8 0.5 -1 0.5 -1.1 0.6 -0.9 0.5 -1.2 0.5 -0.8 0.5 -0.8 0.5 -1.2 0.5 -0.5 0.6 -0.4 0.5 0 0.5 -0.5 0.5 -1 0.5 0 0.5 0.4 0.6 -0.2 0.5 -0.1 0.5 0 0.5 -0.1 0.5 0.3 0.5 0.2 0.6 0 0.5 0.9 0.5 0.1 0.5 0.4 0.5 0.5 0.5 -0.1 0.6 1.1 0.5 -0.3 0.5 1.1 0.5 0.3 0.5 0.5 0.5 -0.1 0.5 0.7 0.6 0.2 0.5 -0.1 0.5 0.9 0.5 -0.4 0.5 0.4 0.5 0.7 0.6 -0.5 0.5 0.6 0.5 1.4 0.5 0.3 0.5 -1.3 0.5 0.7 0.6 -0.9 0.5 0.2 0.5 1.5 0.5 1.5 0.5 -0.7 0.5 0.1 0.6 -0.1 0.5 1.5"/>
<path d="M612.9 346.8l0.5 -0.9 0.5 0 0.5 0.5" fill="#9a9a9a" stroke="#3c3c3c"/>
<path d="M614.4 346.4l0.5 -1 0.6 0.1 0.5 0.5" fill="#9a9a9a" stroke="#3c3c3c"/>
<path d="M618.6 345.4l0.5 -2.8 0.5 -1.1 0.5 1.4 0.5 1.2 0.5 -0.8 0.6 -0.1 0.5 -1.7 0.5 0.1 0.5 0.9 0.5 -1.1 0.5 0.8 0.6 0.5 0.5 -2.2 0.5 2.2 0.5 -1.5 0.5 2.1" fill="#9a9a9a" stroke="#3c3c3c"/>
<path d="M592.2 335.2l1.3 5.5M594.3 335.3l1.3 5.8M595.3 335.5l1.3 5.8M596.4 335.7l1.3 6.2M597.4 336.7l1.3 5.4M598.4 337.6l1.3 5M599.5 338.6l1.3 4.7M600.5 339.4l1.3 4.9M601.5 340.2l1.3 3.8M602.5 340.8l1.3 3.9M603.6 340.9l1.3 3.1M604.6 341.4l1.3 2.9M605.6 342.5l1.3 1.6M606.7 342.6l1.3 2.2M609.8 343l1.3 4.1M625.3 340.5l1.3 0.2" fill="none"/>
<path d="M571.3 358.6l0.5 -3 0.5 -0.7 0.5 1.5 0.6 -0.4 0.5 0 0.5 -0.1 0.5 0.7 0.5 -2.8 0.5 -0.1 0.6 2.5 0.5 -0.8 0.5 1.6" fill="#9a9a9a" stroke="#3c3c3c"/>
<path d="M580.1 356.3l0.5 -2.2 0.5 -0.7 0.5 -0.5 0.5 -0.7 0.6 -0.5 0.5 -0.8 0.5 -0.8 0.5 -0.8 0.5 -0.8 0.5 -0.8 0.6 -0.7 0.5 -0.7 0.5 -0.8 0.5 -0.7 0.5 -0.7 0.5 -0.6 0.6 -0.5 0.5 -0.8 0.5 -0.3 0.5 -0.6 0.5 0.3 0.5 -0.8 0.6 0.3 0.5 -0.7 0.5 0.2 0.5 0.1 0.5 -0.3 0.5 0 0.6 0.8 0.5 0 0.5 -0.2 0.5 0.3 0.5 0.5 0.5 0.1 0.6 0.3 0.5 -0.1 0.5 0.4 0.5 0.1 0.5 0.4 0.5 0.3 0.6 0 0.5 1 0.5 -0.2 0.5 -0.2 0.5 -0.3 0.5 1.2 0.6 -0.8 0.5 -0.1 0.5 0.3 0.5 0.1 0.5 -0.3 0.5 0.1 0.6 1.6 0.5 -0.9 0.5 1.2 0.5 2.3 0.5 0 0.5 -1.2 0.6 -2 0.5 2 0.5 0.7 0.5 -0.6 0.5 -1 0.5 -0.4 0.6 1.2 0.5 -1.5 0.5 1.6 0.5 -1 0.5 -0.4 0.5 1.3"/>
<path d="M616.2 347l0.6 -1.2 0.5 1" fill="#9a9a9a" stroke="#3c3c3c"/>
<path d="M618.3 346.5l0.5 -3.5 0.5 0.3 0.6 0.6 0.5 0.7 0.5 -1.7 0.5 1.5 0.5 -0.8 0.5 -0.8 0.6 -0.7 0.5 1.1 0.5 0.6 0.5 -1.3 0.5 -1.5 0.5 2.2 0.6 -1 0.5 -1.5 0.5 0.6 0.5 -0.5 0.5 3.2" fill="#9a9a9a" stroke="#3c3c3c"/>
<path d="M575.9 353.7l1.3 2.2M592.5 340.4l1.3 4.5M594.5 340.4l1.3 5.1M595.6 341.2l1.3 4.6M596.6 341.3l1.3 4.6M597.6 341.9l1.3 4.3M598.7 342.1l1.3 4.4M599.7 342.6l1.3 4.1M600.7 343.3l1.3 4.1M602.8 343.9l1.3 3.6M604.9 343.9l1.3 2.7M606.9 344.1l1.3 5.4M608 344.8l1.3 2.4M626.6 340.7l1.3 3.1M627.6 340.8l1.3 0.7" fill="none"/>
<path d="M572.6 359.4l0.5 -3 0.5 -1 0.5 1.2 0.5 -1.3 0.5 0.1 0.6 0.3 0.5 2 0.5 -1.7 0.5 -0.1 0.5 -1.2 0.5 2.3 0.6 -0.1 0.5 0.7" fill="#9a9a9a" stroke="#3c3c3c"/>
<path d="M580.8 357.2l0.5 -2.4 0.6 -0.5 0.5 -0.6 0.5 -0.6 0.5 -0.6 0.5 -0.6 0.6 -0.5 0.5 -0.6 0.5 -0.8 0.5 -0.4 0.5 -0.7 0.5 -0.5 0.6 -0.7 0.5 -0.3 0.5 -0.6 0.5 -0.5 0.5 -0.1 0.5 -0.4 0.6 -0.3 0.5 0.1 0.5 -0.3 0.5 0 0.5 -0.3 0.5 0 0.6 -0.1 0.5 0.1 0.5 0.3 0.5 -0.2 0.5 0.4 0.5 -0.1 0.6 0.4 0.5 0.2 0.5 -0.1 0.5 0.4 0.5 -0.2 0.5 0.2 0.6 0.2 0.5 0 0.5 0.1 0.5 0.4 0.5 0.4 0.5 -0.8 0.6 1 0.5 -1 0.5 1 0.5 -0.1 0.5 -1.1 0.5 0.8 0.6 -0.5 0.5 1.5 0.5 0.4 0.5 -1 0.5 1.9 0.6 -3.4 0.5 1 0.5 -0.4 0.5 1.1 0.5 0 0.5 0.4 0.6 -1.6 0.5 -0.3 0.5 -1.1 0.5 3.2 0.5 -3.1 0.5 1.1 0.6 1.2 0.5 0.7"/>
<path d="M615.5 348.3l0.5 -1.9 0.5 0.8 0.5 -0.8 0.5 0.7 0.6 0 0.5 0.4" fill="#9a9a9a" stroke="#3c3c3c"/>
<path d="M618.6 347.5l0.5 -1 0.5 -3 0.5 -0.3 0.5 -0.3 0.6 1.5 0.5 -1.1 0.5 1.5 0.5 0.7 0.5 -2 0.5 -0.4 0.6 -0.4 0.5 1.2 0.5 -1.3 0.5 1.6 0.5 -1.2 0.5 1.4 0.6 -0.7 0.5 0.1 0.5 -0.1 0.5 -2.2 0.5 -0.5 0.5 3.5" fill="#9a9a9a" stroke="#3c3c3c"/>
<path d="M629.9 344.5l0.6 -1.2 0.5 1" fill="#9a9a9a" stroke="#3c3c3c"/>
<path d="M575.1 355.4l1.3 1.4M593.8 344.9l1.3 3.8M594.8 345.3l1.3 3.5M595.8 345.5l1.3 3.4M596.9 345.8l1.3 3M597.9 345.9l1.3 3.1M598.9 346.1l1.3 3.2M600 346.5l1.3 2.8M601 346.6l1.3 2.6M602 347.4l1.3 1.8M605.1 346.4l1.3 3M606.2 346.7l1.3 1.6M620.6 342.9l1.3 0.9M621.7 343.3l1.3 1.4M623.7 343.1l1.3 2.9M628.9 341.5l1.3 1.8" fill="none"/>
<path d="M573.8 360.1l0.5 -1.6 0.6 0.1 0.5 -2.2 0.5 1.8 0.5 -1.4 0.5 -0.5 0.6 -0.6 0.5 1.5 0.5 -0.5 0.5 -0.6 0.5 -1.2 0.5 2.6 0.6 -2 0.5 2.8" fill="#9a9a9a" stroke="#3c3c3c"/>
<path d="M582.1 358l0.5 -2.3 0.5 -0.4 0.6 -0.6 0.5 -0.4 0.5 -0.5 0.5 -0.5 0.5 -0.5 0.5 -0.3 0.6 -0.5 0.5 -0.6 0.5 -0.4 0.5 -0.2 0.5 -0.6 0.6 -0.3 0.5 -0.2 0.5 -0.2 0.5 -0.3 0.5 0.1 0.5 -0.2 0.6 -0.2 0.5 -0.1 0.5 -0.2 0.5 0 0.5 0.2 0.5 -0.1 0.6 -0.1 0.5 0.2 0.5 -0.1 0.5 0.1 0.5 0.2 0.5 -0.2 0.6 0 0.5 0.2 0.5 0.3 0.5 0 0.5 0.1 0.5 0 0.6 -0.1 0.5 0 0.5 -0.2 0.5 0.1 0.5 0 0.6 0.2 0.5 -0.7 0.5 2.8 0.5 -1.1 0.5 -1 0.5 -0.6 0.6 -0.5 0.5 0.3 0.5 -1.3 0.5 0 0.5 1.5 0.5 0 0.6 -1.4 0.5 -2.2 0.5 4.6 0.5 -3.9 0.5 3.6 0.5 -4.4 0.6 1.2 0.5 0.2 0.5 1 0.5 -2.2 0.5 0.6 0.6 2.2 0.5 -0.8 0.5 1 0.5 -1.3 0.5 0.5 0.5 0.2 0.6 -0.3 0.5 -0.7 0.5 -1.3 0.5 2 0.5 -2.4 0.5 -1.2 0.6 2.6 0.5 -1.7 0.5 0.2 0.5 0.2 0.5 -1.7 0.5 2.6 0.6 -2.8 0.5 0.6 0.5 -0.8 0.5 0.2 0.5 0.2 0.6 0.1 0.5 -0.1 0.5 1.1 0.5 -0.3 0.5 -0.9 0.5 0.6 0.6 0.5 0.5 0.7"/>
<path d="M575.4 356.4l1.3 2.5M577.5 355.7l1.3 2.3M579.5 354.9l1.3 1.3M594 348.6l1.3 2.8M595 348.7l1.3 2.5M596.1 348.8l1.3 2.4M598.1 348.8l1.3 2.3M599.2 349l1.3 2.2M600.2 349.3l1.3 1.9M602.3 349.3l1.3 2M603.3 349.2l1.3 3.6M608.5 347.3l1.3 1.5M610.6 347.4l1.3 0.7M613.7 346.3l1.3 0M615.7 345.9l1.3 -0.3M621.9 343.8l1.3 4.2M627.1 343.2l1.3 0.4" fill="none"/>
<path d="M575.6 360.8l0.5 -3.3 0.6 1.4 0.5 -1.4 0.5 -0.8 0.5 0.1 0.5 1.2 0.5 -1.2 0.6 1.2 0.5 -0.2 0.5 -1.6 0.5 0.1 0.5 2.9" fill="#9a9a9a" stroke="#3c3c3c"/>
<path d="M584.9 358.3l0.6 -2.3 0.5 -0.3 0.5 -0.5 0.5 -0.4 0.5 -0.3 0.5 -0.3 0.6 -0.5 0.5 -0.3 0.5 -0.3 0.5 -0.3 0.5 -0.2 0.5 -0.1 0.6 -0.4 0.5 0 0.5 -0.3 0.5 -0.1 0.5 -0.1 0.6 -0.2 0.5 -0.1 0.5 0.1 0.5 -0.3 0.5 0.1 0.5 0 0.6 0 0.5 0 0.5 -0.1 0.5 -0.1 0.5 0.1 0.5 0 0.6 0.1 0.5 0 0.5 0 0.5 0 0.5 -0.2 0.6 0.3 0.5 0 0.5 -0.5 0.5 2.1 0.5 0.2" fill="#9a9a9a" stroke="#3c3c3c"/>
<path d="M605.1 353.1l0.5 -0.6 0.6 0.3" fill="#9a9a9a" stroke="#3c3c3c"/>
<path d="M606.7 352.7l0.5 -1.2 0.5 0.1 0.5 -0.2 0.6 -1.3 0.5 0.1 0.5 -1.5 0.5 0.3 0.5 -2.5 0.5 3.3 0.6 -1.7 0.5 -2 0.5 -0.2 0.5 1.9 0.5 -2.5 0.5 3.1 0.6 -2.1 0.5 0.6 0.5 -2 0.5 2.3 0.5 -1.6 0.6 1.9 0.5 1 0.5 -1.9 0.5 -0.3 0.5 2.1 0.5 -0.8 0.6 -0.5 0.5 0.6 0.5 0.3 0.5 -0.1 0.5 0 0.5 0.1 0.6 -3.7 0.5 -0.4 0.5 2 0.5 -1.3 0.5 0.6 0.6 -0.3 0.5 1.7 0.5 -1.5 0.5 -0.9 0.5 -0.6 0.5 -0.4 0.6 1.4 0.5 -0.3 0.5 -0.4 0.5 -0.3 0.5 2.6" fill="#9a9a9a" stroke="#3c3c3c"/>
<path d="M631.5 346.2l0.5 -3.7 0.6 3.4" fill="#9a9a9a" stroke="#3c3c3c"/>
<path d="M577.7 356.7l1.3 3.5M580.8 356.2l1.3 2.9M594.3 351.4l1.3 2.2M596.3 351.2l1.3 2M598.4 351.1l1.3 2M599.4 351.1l1.3 1.7M600.5 351.2l1.3 1.7M610.8 346.5l1.3 1M613.9 345.3l1.3 3.3M616 344.9l1.3 4.2M617 345.6l1.3 4.4M619.1 346.3l1.3 1.9M624.3 343.9l1.3 4.4M625.3 344.6l1.3 -0M628.4 343.6l1.3 1.8" fill="none"/>
<path d="M576.4 361.7l0.5 -2 0.5 -1.8 0.5 0.8 0.5 0.7 0.6 0.8 0.5 -1.1 0.5 0.4 0.5 -0.2 0.5 -0.3 0.5 -0.5 0.6 0.6 0.5 -0.1 0.5 0.9" fill="#9a9a9a" stroke="#3c3c3c"/>
<path d="M587.8 358.7l0.5 -2.1 0.5 -0.3 0.5 -0.3 0.5 -0.4 0.6 -0.2 0.5 -0.2 0.5 -0.4 0.5 -0.2 0.5 -0.1 0.5 -0.2 0.6 -0.2 0.5 -0.1 0.5 -0.2 0.5 -0.1 0.5 -0.1 0.6 -0.1 0.5 -0.1 0.5 -0.2 0.5 0 0.5 0 0.5 -0.2 0.6 0.1 0.5 0 0.5 -0.1 0.5 -0.1 0.5 0 0.6 0 0.5 -0.1 0.5 2" fill="#9a9a9a" stroke="#3c3c3c"/>
<path d="M604.9 354.2l0.5 -0.5 0.5 0.3" fill="#9a9a9a" stroke="#3c3c3c"/>
<path d="M605.9 354l0.5 -1 0.5 -0.9 0.6 -0.3 0.5 0.8 0.5 -0.8 0.5 0.5 0.5 0.4 0.5 -3.5 0.6 1.8 0.5 -0.5 0.5 -0.9 0.5 -2.1 0.5 0.6 0.6 2.4 0.5 0.6 0.5 -3.4 0.5 -1.1 0.5 2 0.5 1.2 0.6 -2.3 0.5 1.5 0.5 0.1 0.5 -1.5 0.5 2.4 0.5 -2.3 0.6 -0.7 0.5 0.4 0.5 0.8 0.5 1.8" fill="#9a9a9a" stroke="#3c3c3c"/>
<path d="M620.9 350l0.5 -1.3 0.6 1" fill="#9a9a9a" stroke="#3c3c3c"/>
<path d="M622 349.7l0.5 -1.5 0.5 1.3" fill="#9a9a9a" stroke="#3c3c3c"/>
<path d="M623.5 349.3l0.5 -1.2 0.5 0.2 0.6 0.2 0.5 -0.2 0.5 -2.7 0.5 -1 0.5 3.8" fill="#9a9a9a" stroke="#3c3c3c"/>
<path d="M627.1 348.4l0.6 -3 0.5 0.2 0.5 1.1 0.5 1.2" fill="#9a9a9a" stroke="#3c3c3c"/>
<path d="M629.2 347.9l0.5 -2.5 0.5 -0.8 0.6 0.1 0.5 -0.5 0.5 3" fill="#9a9a9a" stroke="#3c3c3c"/>
<path d="M631.8 347.2l0.5 -2.4 0.5 2.1" fill="#9a9a9a" stroke="#3c3c3c"/>
<path d="M610 349.2l1.3 2.4M612.1 347.5l1.3 1M614.2 347.7l1.3 0.7M616.3 347.5l1.3 -1.7M619.4 347l1.3 2.4M626.6 344.6l1.3 4.6" fill="none"/>
<path d="M578.2 362.3l0.5 -3.8 0.5 2.7 0.5 -2.3 0.5 0 0.5 0.1 0.6 0.6 0.5 0.9 0.5 -1.5 0.5 0.6 0.5 -0.9 0.6 2.1" fill="#9a9a9a" stroke="#3c3c3c"/>
<path d="M593.2 358.4l0.5 -2.2 0.5 -0.2 0.5 -0.2 0.6 -0.1 0.5 -0.1 0.5 -0.1 0.5 -0.1 0.5 -0.2 0.6 -0.1 0.5 1.9" fill="#9a9a9a" stroke="#3c3c3c"/>
<path d="M605.1 355.2l0.5 -0.6 0.6 0.4" fill="#9a9a9a" stroke="#3c3c3c"/>
<path d="M606.2 355l0.5 -0.7 0.5 0.4" fill="#9a9a9a" stroke="#3c3c3c"/>
<path d="M607.2 354.7l0.5 -0.7 0.5 0.4" fill="#9a9a9a" stroke="#3c3c3c"/>
<path d="M608.2 354.4l0.5 -2.2 0.6 1.2 0.5 -1.2 0.5 -1.4 0.5 0.2 0.5 0.6 0.6 -1.7 0.5 0.3 0.5 -2.6 0.5 0.9 0.5 -1.1 0.5 4.2 0.6 -4 0.5 0.9 0.5 -0.1 0.5 1.9 0.5 -4.4 0.6 -0.1 0.5 2.2 0.5 -0.4 0.5 1.1 0.5 -1 0.5 -0.2 0.6 1.9 0.5 -2.8 0.5 2.6 0.5 1.1 0.5 -0.4 0.6 -0.4 0.5 0.1 0.5 -1.1 0.5 0.2 0.5 0.3 0.5 0 0.6 0.1 0.5 0 0.5 0.3"/>
<path d="M610.3 350.8l1.3 2M613.4 348.5l1.3 3.2M615.5 348.5l1.3 3.8M617.6 345.8l1.3 3.5M618.6 347.6l1.3 3.5M619.6 347.7l1.3 -1.3" fill="none"/>
<path d="M579.4 363.1l0.5 -1.1 0.6 -1.5 0.5 0.4 0.5 0.3 0.5 -0.7 0.5 -1.1 0.6 1.6 0.5 -1.3 0.5 -0.9 0.5 1.3 0.5 1.5" fill="#9a9a9a" stroke="#3c3c3c"/>
<path d="M589.8 360.3l0.5 -2.9 0.5 2.7" fill="#9a9a9a" stroke="#3c3c3c"/>
<path d="M606.9 355.8l0.5 -0.7 0.6 0.5" fill="#9a9a9a" stroke="#3c3c3c"/>
<path d="M608 355.6l0.5 -1.1 0.5 -0.1 0.5 0 0.5 0.6" fill="#9a9a9a" stroke="#3c3c3c"/>
<path d="M610 355l0.6 -1 0.5 -1.8 0.5 0.6 0.5 -1.4 0.5 2 0.5 -2.6 0.6 -0.5 0.5 2.5 0.5 -1.1 0.5 -2.1 0.5 0.4 0.6 2.9 0.5 -0.7 0.5 -1.9 0.5 0.3 0.5 -4 0.6 2.7 0.5 0.7 0.5 1.1 0.5 -1.1 0.5 -3.6 0.5 3.1 0.6 -2.2 0.5 2.7 0.5 0 0.5 -0.7 0.5 -0.7 0.6 1.1 0.5 -0.2 0.5 0.8 0.5 -1 0.5 1.3"/>
<path d="M613.7 350.3l1.3 2.1M615.7 350l1.3 -1.2M618.9 349.3l1.3 2.7M620.9 346.4l1.3 2.8M622 347.3l1.3 5.3" fill="none"/>
<path d="M580.7 363.9l0.5 -1.7 0.5 -1.1 0.6 -0.7 0.5 1.5 0.5 -0.6 0.5 -1.3 0.5 1.8 0.6 -2.2 0.5 0.9 0.5 -0.5 0.5 2.3" fill="#9a9a9a" stroke="#3c3c3c"/>
<path d="M590.6 361.2l0.5 -2.8 0.5 2.6" fill="#9a9a9a" stroke="#3c3c3c"/>
<path d="M591.6 361l0.5 -4 0.5 0.8 0.6 0 0.5 1 0.5 -3.8 0.5 2.7 0.5 2.3" fill="#9a9a9a" stroke="#3c3c3c"/>
<path d="M607.7 356.7l0.5 -0.7 0.5 0 0.5 -0.3 0.6 -0.5 0.5 -0.5 0.5 0.7 0.5 -0.4 0.5 -0.7 0.6 -0.7 0.5 1 0.5 0.2 0.5 -2.9 0.5 0.4 0.6 0.1 0.5 0.7 0.5 -2.2 0.5 1.1 0.5 -3.2 0.6 -1.2 0.5 5.2 0.5 -5.7 0.5 -0.2 0.5 3.1 0.5 2 0.6 -2.7 0.5 2.4 0.5 -0.7 0.5 -1.7 0.5 0.4 0.6 2.9"/>
<path d="M623.3 352.6l0.5 -1.1 0.5 -1.8 0.5 -0.5 0.5 2.2 0.6 -0.4 0.5 -0.3 0.5 0.4 0.5 0.4" fill="#9a9a9a" stroke="#3c3c3c"/>
<path d="M627.4 351.5l0.5 -0.6 0.6 0.3" fill="#9a9a9a" stroke="#3c3c3c"/>
<path d="M628.5 351.2l0.5 -0.8 0.5 0.5" fill="#9a9a9a" stroke="#3c3c3c"/>
<path d="M584.9 359.6l1.3 1.4M592.1 357l1.3 0.1M594.2 355l1.3 2M613.9 351.9l1.3 3M617 348.8l1.3 3.9M619.1 346.9l1.3 4.4M622.2 349.3l1.3 3.2" fill="none"/>
<path d="M582 364.6l0.5 -3.6 0.5 2.6 0.5 -1.8 0.5 1.4 0.6 -2.3 0.5 0.9 0.5 0.7 0.5 -1.5 0.5 1.5 0.6 -2.1 0.5 2.7" fill="#9a9a9a" stroke="#3c3c3c"/>
<path d="M590.8 362.3l0.5 -2.6 0.5 1.2 0.6 -3.2 0.5 0.6 0.5 -1.1 0.5 -0.8 0.5 0.6 0.6 0.7 0.5 -0.8 0.5 0 0.5 3.9" fill="#9a9a9a" stroke="#3c3c3c"/>
<path d="M596.5 360.8l0.5 -5.7 0.6 5.4"/>
<path d="M610 357.2l0.5 -0.8 0.6 0 0.5 -0.1 0.5 0.3" fill="#9a9a9a" stroke="#3c3c3c"/>
<path d="M612.1 356.6l0.5 -1.6 0.5 0.1 0.6 0.1 0.5 -0.6 0.5 -1.2 0.5 1.6 0.5 -2.5 0.6 0.4 0.5 -1.7 0.5 3.2 0.5 -3.3 0.5 1.6 0.5 -0.7 0.6 -1.4 0.5 2.6 0.5 -2 0.5 2.5 0.5 -2.2 0.6 0.2 0.5 -0.1 0.5 -1.9 0.5 2.8 0.5 -2.8 0.6 3.1 0.5 -0.8 0.5 -1.2 0.5 0.5 0.5 0.7 0.6 -0.8 0.5 0.6 0.5 -0.7 0.5 0.2 0.5 -0.1 0.6 0.7" fill="#9a9a9a" stroke="#3c3c3c"/>
<path d="M629.8 351.9l0.5 -0.6 0.5 -0.1 0.5 0.3" fill="#9a9a9a" stroke="#3c3c3c"/>
<path d="M595.5 356.9l1.3 2.9M619.4 350.6l1.3 1.7M620.4 351.2l1.3 0.5" fill="none"/>
<path d="M583.2 365.4l0.6 -2.9 0.5 2.6" fill="#9a9a9a" stroke="#3c3c3c"/>
<path d="M584.3 365.1l0.5 -2.7 0.5 0.5 0.5 -1.7 0.6 0.8 0.5 -0.3 0.5 0.2 0.5 -0.7 0.5 2.8" fill="#9a9a9a" stroke="#3c3c3c"/>
<path d="M590.5 363.5l0.5 -4 0.6 3.7" fill="#9a9a9a" stroke="#3c3c3c"/>
<path d="M591.6 363.2l0.5 -5.1 0.5 -0.1 0.5 -0.6 0.5 2.3 0.6 1.1 0.5 -0.3 0.5 0.1 0.5 -0.5 0.5 -3.2 0.6 2.9 0.5 0.2 0.5 -0.8 0.5 -3.2 0.5 2.6 0.6 -2.6 0.5 5" fill="#9a9a9a" stroke="#3c3c3c"/>
<path d="M611.8 357.8l0.5 -0.7 0.6 0.4" fill="#9a9a9a" stroke="#3c3c3c"/>
<path d="M612.9 357.5l0.5 -1.1 0.5 0.8" fill="#9a9a9a" stroke="#3c3c3c"/>
<path d="M613.9 357.2l0.5 -0.6 0.5 0.3" fill="#9a9a9a" stroke="#3c3c3c"/>
<path d="M615.5 356.8l0.5 -1.4 0.5 0.4 0.5 -0.1 0.5 -0.5 0.6 -1.9 0.5 0.8 0.5 0.4 0.5 0.6 0.5 -2.4 0.6 -0.4 0.5 -1 0.5 0.5 0.5 0.6 0.5 0.6 0.6 1.1 0.5 -2.3 0.5 2.2 0.5 -2.7 0.5 -0.3 0.6 0.3 0.5 2.6" fill="#9a9a9a" stroke="#3c3c3c"/>
<path d="M626.4 353.9l0.5 -0.6 0.5 -0.2 0.5 -0.3 0.6 0 0.5 -0.7 0.5 0.9" fill="#9a9a9a" stroke="#3c3c3c"/>
<path d="M629.5 353l0.5 -0.9 0.5 0.2 0.6 -0.2 0.5 0 0.5 0.2" fill="#9a9a9a" stroke="#3c3c3c"/>
<path d="M592.6 358l1.3 1.5M621.7 351.8l1.3 4.1" fill="none"/>
<path d="M585 366l0.6 -3.8 0.5 0.6 0.5 1.3 0.5 -1.2 0.5 -0.5 0.6 0.6 0.5 -1 0.5 1.3 0.5 1.5" fill="#9a9a9a" stroke="#3c3c3c"/>
<path d="M591.3 364.4l0.5 -5.3 0.5 5" fill="#9a9a9a" stroke="#3c3c3c"/>
<path d="M592.3 364.1l0.5 -2.9 0.6 -0.4 0.5 -1.3 0.5 2.7 0.5 -3.4 0.5 3.2 0.6 -3.7 0.5 3.4 0.5 -3.9 0.5 2.3 0.5 0.6 0.6 -1.9 0.5 0.7 0.5 -1.4 0.5 1.2 0.5 2.5" fill="#9a9a9a" stroke="#3c3c3c"/>
<path d="M613.6 358.4l0.6 -0.8 0.5 0.5" fill="#9a9a9a" stroke="#3c3c3c"/>
<path d="M614.7 358.1l0.5 -0.8 0.5 0 0.5 -0.5 0.6 -0.6 0.5 1.2" fill="#9a9a9a" stroke="#3c3c3c"/>
<path d="M617.3 357.4l0.5 -1.5 0.5 0.1 0.5 1" fill="#9a9a9a" stroke="#3c3c3c"/>
<path d="M618.8 357l0.6 -1.7 0.5 1.4" fill="#9a9a9a" stroke="#3c3c3c"/>
<path d="M619.9 356.7l0.5 -1.5 0.5 -1.7 0.5 0.2 0.6 2.4" fill="#9a9a9a" stroke="#3c3c3c"/>
<path d="M622 356.1l0.5 -2.4 0.5 2.1" fill="#9a9a9a" stroke="#3c3c3c"/>
<path d="M623 355.8l0.5 -2.9 0.5 0.8 0.6 1.4 0.5 -0.8 0.5 0.1 0.5 0 0.5 0.5" fill="#9a9a9a" stroke="#3c3c3c"/>
<path d="M626.6 354.9l0.6 -2 0.5 0.4 0.5 1.1" fill="#9a9a9a" stroke="#3c3c3c"/>
<path d="M628.2 354.4l0.5 -0.5 0.5 -0.3 0.6 -0.6 0.5 0.9" fill="#9a9a9a" stroke="#3c3c3c"/>
<path d="M630.3 353.9l0.5 -0.5 0.5 0.2" fill="#9a9a9a" stroke="#3c3c3c"/>
<path d="M585.6 362.2l1.3 4.4M588.7 362l1.3 3.8M591.8 359.1l1.3 2.4M597 357.8l1.3 2.6" fill="none"/>
<path d="M586.8 366.7l0.5 -1.6 0.6 1.3" fill="#9a9a9a" stroke="#3c3c3c"/>
<path d="M587.9 366.4l0.5 -3.4 0.5 2.2 0.5 0.8" fill="#9a9a9a" stroke="#3c3c3c"/>
<path d="M592.5 365.1l0.6 -3.5 0.5 3.2" fill="#9a9a9a" stroke="#3c3c3c"/>
<path d="M593.6 364.8l0.5 -4.8 0.5 0.9 0.5 1.5 0.6 0.6 0.5 -2.6 0.5 0.3 0.5 0.3 0.6 -0.2 0.5 -0.4 0.5 0 0.5 -2.4 0.5 2.4 0.6 1.5 0.5 -3.1 0.5 2.1 0.5 -3.6 0.5 5.2" fill="#9a9a9a" stroke="#3c3c3c"/>
<path d="M616 358.8l0.5 -0.7 0.5 -0.2 0.5 -0.2 0.5 -0.3 0.6 0.3 0.5 -0.2 0.5 -0.1 0.5 -0.1 0.6 -1 0.5 0 0.5 1" fill="#9a9a9a" stroke="#3c3c3c"/>
<path d="M621.7 357.3l0.5 -0.5 0.5 -0.4 0.6 -1.3 0.5 0.6 0.5 0.9" fill="#9a9a9a" stroke="#3c3c3c"/>
<path d="M624.3 356.6l0.5 -0.7 0.5 -1.3 0.6 1.5" fill="#9a9a9a" stroke="#3c3c3c"/>
<path d="M625.9 356.1l0.5 -1.8 0.5 1.2 0.5 -1.2 0.5 0.3 0.6 -0.5 0.5 0.5 0.5 0 0.5 -0.1 0.5 0.4" fill="#9a9a9a" stroke="#3c3c3c"/>
<path d="M631.1 354.7l0.5 -0.5 0.5 0.3" fill="#9a9a9a" stroke="#3c3c3c"/>
<path d="M632.1 354.5l0.5 -0.6 0.5 0.3" fill="#9a9a9a" stroke="#3c3c3c"/>
<path d="M594.1 360l1.3 3.2M596.2 360.4l1.3 3.2M599.3 358l1.3 0.7" fill="none"/>
<path d="M589.1 367.2l0.6 -1.8 0.5 1.5" fill="#9a9a9a" stroke="#3c3c3c"/>
<path d="M593.3 366l0.5 -4.7 0.5 2.6 0.6 -1.8 0.5 1.1 0.5 0 0.5 0.8 0.5 -4.3 0.6 3.9 0.5 -3.3 0.5 2 0.5 -2.8 0.5 2.6 0.6 -0.9 0.5 -2.4 0.5 0.5 0.5 2.7 0.6 0.5 0.5 -4.2 0.5 1.2 0.5 -1.8 0.5 5.4"/>
<path d="M619.3 359l0.6 -0.7 0.5 0.4" fill="#9a9a9a" stroke="#3c3c3c"/>
<path d="M620.9 358.6l0.5 -1.1 0.5 0.8" fill="#9a9a9a" stroke="#3c3c3c"/>
<path d="M621.9 358.3l0.6 -0.8 0.5 0.5" fill="#9a9a9a" stroke="#3c3c3c"/>
<path d="M623 358l0.5 -0.6 0.5 -0.2 0.5 -0.8 0.6 -0.1 0.5 0.1 0.5 0.3 0.5 0.3" fill="#9a9a9a" stroke="#3c3c3c"/>
<path d="M626.6 357l0.6 -1.3 0.5 0.2 0.5 -0.4 0.5 0.9" fill="#9a9a9a" stroke="#3c3c3c"/>
<path d="M628.7 356.4l0.5 -0.6 0.6 -0.4 0.5 0.1 0.5 0.4" fill="#9a9a9a" stroke="#3c3c3c"/>
<path d="M600.6 358.8l1.3 0.8M603.7 357.7l1.3 3.3" fill="none"/>
<path d="M594.6 366.8l0.5 -3.4 0.5 1.2 0.5 -2.7 0.6 0.4 0.5 1.7 0.5 -1.5 0.5 1.5 0.5 -0.2 0.6 -3.3 0.5 2.8 0.5 -3.3 0.5 3.7 0.5 -4.3 0.6 0.2 0.5 0.1 0.5 -0.7 0.5 0.4 0.6 0.3 0.5 -0.3 0.5 1.6 0.5 2.8"/>
<path d="M622.7 359.1l0.5 -0.6 0.6 -0.1 0.5 0.3" fill="#9a9a9a" stroke="#3c3c3c"/>
<path d="M624.3 358.7l0.5 -0.7 0.5 0 0.5 -0.4 0.6 -0.1 0.5 0.5" fill="#9a9a9a" stroke="#3c3c3c"/>
<path d="M626.9 358l0.5 -0.8 0.5 -0.1 0.5 0.5" fill="#9a9a9a" stroke="#3c3c3c"/>
<path d="M629 357.4l0.5 -0.6 0.5 0.4" fill="#9a9a9a" stroke="#3c3c3c"/>
<path d="M631.6 356.7l0.5 -0.5 0.5 0.3" fill="#9a9a9a" stroke="#3c3c3c"/>
<path d="M596.7 362.3l1.3 -0.9M597.7 362.5l1.3 -1.2M602.9 359l1.3 5M604 359.7l1.3 0.8" fill="none"/>
<path d="M595.8 367.6l0.6 -5 0.5 3.3 0.5 -4.2 0.5 -0.3 0.6 1.4 0.5 -1.5 0.5 2.1 0.5 -0.8 0.5 -0.6 0.6 0.9 0.5 -0.9 0.5 0.6 0.5 0.2 0.6 -0.1 0.5 0.5 0.5 0.9 0.5 -4.1 0.5 0.5 0.6 4.4"/>
<path d="M605.8 364.9l0.5 -2.4 0.5 2.1" fill="#9a9a9a" stroke="#3c3c3c"/>
<path d="M628.2 358.7l0.5 -0.5 0.5 0.2" fill="#9a9a9a" stroke="#3c3c3c"/>
<path d="M599 361.3l1.3 1.3M600 362.6l1.3 0.7M602.1 362.6l1.3 -0.9M605.2 360.5l1.3 1.1" fill="none"/>
<path d="M597.6 368.2l0.6 -1.5 0.5 -3.3 0.5 1.4 0.5 -1.9 0.6 -0.3 0.5 3.5 0.5 -2.8 0.5 2.2 0.5 -1.5 0.6 -2.4 0.5 0.1 0.5 3.5 0.5 -2.2 0.6 0.6 0.5 -0.6 0.5 -1.4 0.5 -0.1 0.5 1.1 0.6 -2.6 0.5 5.3" fill="#9a9a9a" stroke="#3c3c3c"/>
<path d="M600.3 362.6l1.3 4.4M601.3 363.3l1.3 1.1M603.4 361.7l1.3 1.1M604.4 363l1.3 2.3M607.6 360l1.3 3.3" fill="none"/>
<path d="M598.9 368.9l0.5 -1.8 0.6 -1.9 0.5 0 0.5 -0.6 0.5 2.5 0.6 -4.1 0.5 1.4 0.5 -1.3 0.5 2 0.5 0.8 0.6 -3.1 0.5 2.3 0.5 0.2 0.5 -0.5 0.6 -3.5 0.5 1.9 0.5 0.9 0.5 -0.7 0.5 -0.1 0.6 2.8" fill="#9a9a9a" stroke="#3c3c3c"/>
<path d="M600.5 365.2l1.3 -0.1M602.6 364.4l1.3 -1.3M604.7 362.8l1.3 2.3M606.8 361.3l1.3 1.4" fill="none"/>
<path d="M599.7 369.8l0.5 -4.8 0.5 -0.1 0.5 0.1 0.6 0.1 0.5 -0.8 0.5 0.3 0.5 1.8 0.6 -3.3 0.5 3.7 0.5 -0.6 0.5 -3 0.5 1.9 0.6 1.5 0.5 -1.3 0.5 0.4 0.5 -3 0.6 2.3 0.5 -1.7 0.5 0.1 0.5 1 0.5 2.4"/>
<path d="M600.7 364.9l1.3 2.2M603.9 363.1l1.3 4.6M608 362.7l1.3 4.2M609.1 363.3l1.3 -0.2" fill="none"/>
<path d="M600.9 370.6l0.6 -4.3 0.5 0.7 0.5 0.3 0.5 0.3 0.6 -0.4 0.5 -2.6 0.5 3.4 0.5 -0.3 0.6 -1.4 0.5 -1.5 0.5 2.8 0.5 -1.1 0.5 -0.4 0.6 -2.7 0.5 -0.5 0.5 4 0.5 -2.1 0.6 -1.7 0.5 2.1 0.5 0.6 0.5 1.8" fill="#9a9a9a" stroke="#3c3c3c"/>
<path d="M602 367l1.3 4M604.1 364.6l1.3 2.1M606.2 364.8l1.3 3.8M608.3 363.4l1.3 4.3M610.4 363.1l1.3 2.8" fill="none"/>
<path d="M603.3 371.1l0.5 -4.2 0.5 -0.6 0.5 1.3 0.6 -0.9 0.5 -1.7 0.5 3.5 0.5 -2.5 0.6 2.7 0.5 -3.7 0.5 1.4 0.5 -2.3 0.5 3.6 0.6 -1.8 0.5 -0.8 0.5 2.6 0.5 -1.8 0.6 -0.2 0.5 2.8" fill="#9a9a9a" stroke="#3c3c3c"/>
<path d="M604.3 366.3l1.3 2.9M605.4 366.7l1.3 3M608.5 366.4l1.3 0.1M610.6 365.1l1.3 2.7" fill="none"/>
<path d="M604 372l0.5 -5.4 0.6 2.8 0.5 -0.2 0.5 -1 0.5 1.4 0.6 -0.7 0.5 -2.4 0.5 2.6 0.5 -3.1 0.6 -0.2 0.5 0.7 0.5 -1.8 0.5 -0.1 0.5 1 0.6 2.2 0.5 0.2 0.5 -4 0.5 5.4"/>
<path d="M604.5 366.6l1.3 6M608.7 366l1.3 0.9M610.8 364.6l1.3 4.6M612.9 364l1.3 3.2" fill="none"/>
<path d="M606.9 372.3l0.5 -3.2 0.5 -0.6 0.5 -2.2 0.6 0 0.5 1.6 0.5 -1.1 0.5 3.3 0.6 -3.7 0.5 3 0.5 -0.2 0.5 -0.8 0.6 -2.1 0.5 0.7 0.5 0.1 0.5 3"/>
<path d="M609 366.3l1.3 4.9M611.1 366.4l1.3 0.4M613.2 366.3l1.3 0.9M614.2 367.1l1.3 3.9" fill="none"/>
<path d="M608.7 372.9l0.5 -5.3 0.5 0 0.5 3.6 0.6 -2.2 0.5 -2.1 0.5 2.1 0.5 -2.2 0.6 2.3 0.5 -0.9 0.5 -0.9 0.5 -0.1 0.6 0.1 0.5 3.7" fill="#9a9a9a" stroke="#3c3c3c"/>
<path d="M609.2 367.6l1.3 5.9M612.3 366.8l1.3 3.7M614.4 367.2l1.3 4.9" fill="none"/>
<path d="M610.5 373.5l0.5 -1.4 0.5 1.1" fill="#9a9a9a" stroke="#3c3c3c"/>
<path d="M611.5 373.2l0.5 -5 0.6 2.2 0.5 -2 0.5 2 0.5 -1.6 0.6 3.6" fill="#9a9a9a" stroke="#3c3c3c"/>
<path d="M614.7 372.4l0.5 -2.9 0.5 2.6" fill="#9a9a9a" stroke="#3c3c3c"/>
<path d="M611.2 374.4l0.5 -3.4 0.6 -0.5 0.5 -1.8 0.5 2.4 0.5 -0.6 0.6 3.1" fill="#9a9a9a" stroke="#3c3c3c"/>
<path d="M614.4 373.6l0.5 -1.8 0.5 -3.9 0.5 5.2" fill="#9a9a9a" stroke="#3c3c3c"/>
<path d="M612.8 368.7l1.3 6.1M613.8 370.5l1.3 4" fill="none"/>
<path d="M626.4 372.4l0.5 -1.7 0.5 -0.4 0.6 1.2 0.5 -0.4 0.5 -1.1 0.5 0.4 0.6 0.9" fill="#9a9a9a" stroke="#3c3c3c"/>
<path d="M628.2 373l0.5 -1.3 0.5 -0.1 0.6 -0.1 0.5 0.4 0.5 -1.3 0.6 0.1 0.5 1.2" fill="#9a9a9a" stroke="#3c3c3c"/>
<path d="M620.8 383l0.5 -0.8 0.6 -0.1 0.5 -0.2 0.5 -0.3 0.6 -0.1 0.5 -0.2 0.5 0.1 0.5 -0.2 0.6 0 0.5 0.2" fill="#9a9a9a" stroke="#3c3c3c"/>
<path d="M620 384.4l0.5 -0.6 0.5 -0.3 0.6 -0.3 0.5 -0.2 0.5 -0.4 0.5 -0.3 0.6 -0.6 0.5 -0.3 0.5 -0.1 0.6 0.1 0.5 -0.2 0.5 0.2 0.5 0.1 0.6 -0.1 0.5 0 0.5 0 0.6 -0.1 0.5 0.3" fill="#9a9a9a" stroke="#3c3c3c"/>
<path d="M619.7 385.6l0.5 -0.6 0.5 -0.4 0.5 -0.2 0.6 -0.5 0.5 -0.3 0.5 -0.4 0.6 -0.5 0.5 -0.3 0.5 -0.5 0.5 -0.7 0.6 -0.3 0.5 -0.4 0.5 0.4 0.6 0.1 0.5 0.4 0.5 -0.2 0.6 0.2 0.5 0.1 0.5 0.1 0.5 0 0.6 0 0.5 0.1 0.5 -0.1 0.6 0.2" fill="#9a9a9a" stroke="#3c3c3c"/>
<path d="M626 380.5l1.3 -2.1" fill="none"/>
<path d="M619.3 386.9l0.6 -0.7 0.5 -0.3 0.5 -0.2 0.6 -0.4 0.5 -0.4 0.5 -0.4 0.5 -0.5 0.6 -0.5 0.5 -0.3 0.5 -0.7 0.6 -0.5 0.5 -1.8 0.5 0.1 0.6 -0.9 0.5 -1 0.5 1 0.5 0.8 0.6 0.2 0.5 0.3 0.5 0.2 0.6 0.5 0.5 0.3 0.5 -0.1 0.5 0.2 0.6 0.2 0.5 -0.2 0.5 0.1 0.6 0.1 0.5 0.3"/>
<path d="M627.3 378.4l1.3 -2M628.3 380.2l1.3 -2.8M629.4 380.7l1.3 -1.6" fill="none"/>
<path d="M619.6 387.9l0.5 -0.6 0.5 -0.4 0.5 -0.1 0.6 -0.4 0.5 -0.4 0.5 -0.6 0.6 -0.7 0.5 -0.1 0.5 -0.9 0.6 -0.8 0.5 -1.1 0.5 -0.8 0.5 -1 0.6 -2 0.5 0.8 0.5 -2.3 0.6 -0.1 0.5 -0.6 0.5 1.5 0.5 1.4 0.6 0.4 0.5 1.3 0.5 0.2 0.6 0.8 0.5 0.1 0.5 0.6 0.6 -0.3 0.5 0.5 0.5 0.1 0.5 0.1 0.6 -0.1 0.5 -0.1 0.5 0.4"/>
<path d="M628.6 376.4l1.3 -2.3M629.6 377.3l1.3 -1.2M630.7 379.1l1.3 -1.5M631.7 380.6l1.3 -0.9" fill="none"/>
<path d="M620.3 388.9l0.5 -0.6 0.6 -0.4 0.5 -0.4 0.5 -0.3 0.5 -0.6 0.6 -0.3 0.5 -0.4 0.5 -1.1 0.6 -0.6 0.5 -1 0.5 -0.2 0.6 -1.9 0.5 -0.5 0.5 -1 0.5 -3.2 0.6 -0.1 0.5 -2 0.5 -0.3 0.6 -0.3 0.5 2.4 0.5 1 0.6 0.4 0.5 2.2 0.5 0 0.5 1.4 0.6 -0.2 0.5 1.2 0.5 0.4 0.6 -0.2 0.5 0.2 0.5 0.3 0.6 0 0.5 0.2 0.5 -0.1 0.5 0.4"/>
<path d="M629.8 374l1.3 4.7M630.9 376.1l1.3 3.8M632 377.5l1.3 3.3M633 379.7l1.3 2.4M634.1 380.9l1.3 2.4" fill="none"/>
<path d="M622.1 389.5l0.5 -0.7 0.6 -0.2 0.5 -0.2 0.5 -0.4 0.5 -0.5 0.6 -0.2 0.5 -0.6 0.5 -0.8 0.6 -0.6 0.5 -1.1 0.5 -0.7 0.6 -0.8 0.5 0 0.5 -2.6 0.5 -0.3 0.6 0.2 0.5 -1.3 0.5 0.2 0.6 1 0.5 1.3 0.5 -0.4 0.6 1.4 0.5 -0.1 0.5 0.8 0.6 0.4 0.5 0.4 0.5 0.1 0.5 0.1 0.6 0 0.5 0 0.5 0 0.6 0 0.5 0.3"/>
<path d="M631.1 378.7l1.3 3.6M632.2 379.9l1.3 4M633.2 380.8l1.3 2.9M634.3 382.1l1.3 2.4" fill="none"/>
<path d="M625 389.8l0.5 -0.8 0.5 -0.3 0.5 -0.2 0.6 -0.6 0.5 -0.3 0.5 -0.2 0.6 -0.8 0.5 -0.6 0.5 -0.5 0.6 -0.6 0.5 -0.5 0.5 -0.3 0.6 -0.9 0.5 -0.9 0.5 0.8 0.5 0.8 0.6 0 0.5 -0.2 0.5 0.8 0.6 0 0.5 0.2 0.5 0.2 0.6 0 0.5 0 0.5 0.1 0.6 0.1 0.5 -0.2 0.5 0.4" fill="#9a9a9a" stroke="#3c3c3c"/>
<path d="M632.4 382.3l1.3 3M634.5 383.7l1.3 2.4" fill="none"/>
<path d="M627.3 390.2l0.5 -0.6 0.6 -0.3 0.5 -0.2 0.5 -0.3 0.5 -0.3 0.6 -0.6 0.5 -0.4 0.5 -0.5 0.6 0 0.5 -0.4 0.5 -1.1 0.6 -0.2 0.5 0.7 0.5 -0.1 0.6 0.1 0.5 0.1 0.5 0.1 0.5 0 0.6 0.1 0.5 0 0.5 -0.1 0.6 0.1 0.5 0.2" fill="#9a9a9a" stroke="#3c3c3c"/>
<path d="M630.2 390.5l0.5 -0.6 0.5 -0.3 0.5 -0.3 0.6 -0.2 0.5 -0.3 0.5 -0.4 0.6 -0.2 0.5 -0.5 0.5 0 0.6 0 0.5 -0.1 0.5 -0.1 0.6 0.2 0.5 0 0.5 -0.2 0.6 0 0.5 0.3" fill="#9a9a9a" stroke="#3c3c3c"/>
<path d="M633.6 390.6l0.5 -0.6 0.5 -0.1 0.6 -0.4 0.5 -0.3 0.5 0.1 0.5 -0.3 0.6 0 0.5 -0.1 0.5 0.3" fill="#9a9a9a" stroke="#3c3c3c"/>
</g>
<g>
<path d="M293.2 550.3L374.3 600.2M307.2 546.6L388.5 595.7M321.1 542.8L402.8 591.2M335.1 539.1L417 586.7M349.1 535.3L431.2 582.2M363.1 531.6L445.5 577.8M377.1 527.9L459.7 573.3M391 524.1L474 568.8M405 520.4L488.2 564.3M293.2 550.3L405 520.4M313.5 562.8L425.8 531.4M333.8 575.2L446.6 542.3M354 587.7L467.4 553.3M374.3 600.2L488.2 564.3" fill="none" stroke="#000" stroke-width="0.7"/>
<line x1="285.2" y1="480.2" x2="293.2" y2="550.3" stroke="#000" stroke-width="0.7"/>
<path d="M298.3 548.9l0.5 -1.9 0.5 -0.3 0.5 0.5 0.5 0.6 0.6 -0.3 0.5 -1.3 0.5 -1 0.5 0.8 0.5 0.9 0.6 -1.9 0.5 1.8 0.5 -0.1 0.5 -1.2 0.5 -1.2 0.6 1.2 0.5 -1 0.5 0.3 0.5 -0.8 0.5 1.2 0.6 -1.3 0.5 1 0.5 -0.3 0.5 -1.4 0.6 2.4" fill="#262626" stroke="#000"/>
<path d="M310.8 545.6l0.5 -2.2 0.5 1.9" fill="#262626" stroke="#000"/>
<path d="M311.8 545.3l0.5 -1.9 0.5 1.6" fill="#262626" stroke="#000"/>
<path d="M298 550.1l0.5 -2.8 0.5 2.6" fill="#262626" stroke="#000"/>
<path d="M299.5 549.7l0.5 -1 0.6 -1.6 0.5 0.5 0.5 0.9 0.5 -2.2 0.5 1.7 0.6 -0.4 0.5 -0.6 0.5 -0.5 0.5 1 0.6 -0.3 0.5 -0.7 0.5 0.2 0.5 -1.2 0.5 0.8 0.6 -0.7 0.5 0.1 0.5 -0.7 0.5 0.9 0.5 0.1 0.6 -0.9 0.5 0.4 0.5 -0.1 0.5 -1.3 0.5 -0.2 0.6 1.6 0.5 0.5" fill="#262626" stroke="#000"/>
<path d="M299.2 550.9l0.5 -2.2 0.6 -0.2 0.5 -0.6 0.5 0.6 0.5 -0.2 0.6 0.8 0.5 -0.2 0.5 -1.5 0.5 -0.1 0.5 0.3 0.6 0.9 0.5 -0.2 0.5 -0.9 0.5 0.6 0.5 -1.8 0.6 1.2 0.5 0.5 0.5 -2.1 0.5 0.2 0.5 0 0.6 0.1 0.5 -0.7 0.5 1.2 0.5 -1.4 0.6 1.1 0.5 -0.6 0.5 -1.1 0.5 0.9 0.5 0.4 0.6 0.1 0.5 0.6" fill="#262626" stroke="#000"/>
<path d="M300.5 551.7l0.5 -1.2 0.5 -1 0.6 0.1 0.5 -0.1 0.5 -1.2 0.5 1.6 0.5 0 0.6 -1.9 0.5 1.4 0.5 -1.1 0.5 0.3 0.6 0.3 0.5 -1.2 0.5 -0.2 0.5 0.8 0.5 0.2 0.6 0.1 0.5 -2 0.5 0.9 0.5 0 0.5 -1.3 0.6 -0.3 0.5 1.7 0.5 0.1 0.5 -0.6 0.5 -1.7 0.6 0.9 0.5 -0.3 0.5 0.8 0.5 -0.2 0.6 -1 0.5 0.7 0.5 0.8" fill="#262626" stroke="#000"/>
<path d="M300.7 552.8l0.5 -2.5 0.6 2.2" fill="#262626" stroke="#000"/>
<path d="M302.3 552.3l0.5 -2.8 0.5 0.2 0.5 0.6 0.6 0.4 0.5 -1.8 0.5 0.7 0.5 -0.6 0.6 1.2 0.5 -1.8 0.5 0.9 0.5 -1.1 0.5 0.3 0.6 0 0.5 -0.3 0.5 0.6 0.5 0.4 0.5 -0.6 0.6 0.1 0.5 -1.7 0.5 1.1 0.5 -0.4 0.6 0.4 0.5 -1.2 0.5 1 0.5 -1.6 0.5 0.1 0.6 0 0.5 -0.7 0.5 0.8 0.5 0.7 0.5 0.8" fill="#262626" stroke="#000"/>
<path d="M302.5 553.4l0.5 -2.1 0.6 1.8" fill="#262626" stroke="#000"/>
<path d="M303.6 553.1l0.5 -1.7 0.5 0.6 0.5 -1.3 0.5 -0.3 0.6 -0.5 0.5 1.5 0.5 -0.9 0.5 0.3 0.5 -0.5 0.6 -0.6 0.5 1 0.5 -1.2 0.5 -0.5 0.6 0 0.5 0.7 0.5 -0.1 0.5 -0.3 0.5 -0.3 0.6 0.8 0.5 -2.1 0.5 -0.3 0.5 2 0.5 -1.4 0.6 0.3 0.5 -1.4 0.5 0.6 0.5 0.6 0.6 -0.4 0.5 1.3" fill="#262626" stroke="#000"/>
<path d="M319.2 548.9l0.5 -2.3 0.5 2" fill="#262626" stroke="#000"/>
<path d="M303.3 554.3l0.5 -2.1 0.5 1.8" fill="#262626" stroke="#000"/>
<path d="M304.3 554l0.5 -2.8 0.5 1.9 0.6 -0.8 0.5 0.2 0.5 -0.7 0.5 0.5 0.6 -0.3 0.5 -0.3 0.5 -0.3 0.5 -1 0.5 0.7 0.6 -0.7 0.5 0.7 0.5 -1.6 0.5 1.4 0.5 -1.8 0.6 1.4 0.5 -0.4 0.5 -1.3 0.5 1.1 0.6 -1.5 0.5 0 0.5 1.3 0.5 -0.7 0.5 0.6 0.6 -1.9 0.5 1.5 0.5 -1.1 0.5 -0.6 0.5 0.2 0.6 0.5 0.5 1.3" fill="#262626" stroke="#000"/>
<path d="M304 555.2l0.5 -2.2 0.5 1.9" fill="#262626" stroke="#000"/>
<path d="M305 554.9l0.6 -2.5 0.5 0.8 0.5 -0.3 0.5 -0.2 0.6 0.1 0.5 -0.4 0.5 -0.2 0.5 0.9 0.5 -0.9 0.6 -0.4 0.5 -0.5 0.5 -0.2 0.5 0.7 0.6 -1.3 0.5 1.5 0.5 0 0.5 -0.8 0.5 -0.7 0.6 0.9 0.5 -0.1 0.5 0 0.5 -1.1 0.5 0.6 0.6 -0.1 0.5 -0.4 0.5 -1.4 0.5 0.9 0.6 -0.1 0.5 0.1 0.5 0.2 0.5 -1.9 0.5 -0.1 0.6 1.3 0.5 0.8" fill="#262626" stroke="#000"/>
<path d="M306.3 555.7l0.5 -0.7 0.6 -2 0.5 1.2 0.5 0.3 0.5 -1 0.5 0.7 0.6 -1.3 0.5 0.1 0.5 -1.1 0.5 -0.3 0.6 0.9 0.5 -1.1 0.5 1 0.5 -0.4 0.5 -1 0.6 1.8 0.5 -2 0.5 1.1 0.5 0.2 0.6 -0.2 0.5 -1.8 0.5 1.1 0.5 -0.8 0.5 0.7 0.6 0.2 0.5 -1.4 0.5 0.2 0.5 0.6 0.6 0.2 0.5 0 0.5 -2.1 0.5 0.6 0.5 1.6" fill="#262626" stroke="#000"/>
<path d="M323.5 551l0.6 -1.6 0.5 1.3" fill="#262626" stroke="#000"/>
<path d="M309.1 556.1l0.6 -2.4 0.5 1 0.5 -1.5 0.5 0.4 0.6 0.2 0.5 0.3 0.5 -0.8 0.5 1 0.5 -1.7 0.6 1 0.5 -0.3 0.5 0.1 0.5 -1.8 0.6 1.2 0.5 -1.6 0.5 1.2 0.5 -1.1 0.5 1.5 0.6 -1.9 0.5 0.9 0.5 0.3 0.5 -0.1 0.6 -1 0.5 -0.6 0.5 -0.5 0.5 0.3 0.5 0.5 0.6 0.5 0.5 -1.4 0.5 0.5 0.5 1.3" fill="#262626" stroke="#000"/>
<path d="M309.9 557l0.5 -1.3 0.5 -1.5 0.6 1.2 0.5 0.2 0.5 -0.6 0.5 -0.2 0.6 -1.3 0.5 1.3 0.5 -0.4 0.5 0.3 0.5 -1.1 0.6 0 0.5 0.2 0.5 0 0.5 0.1 0.6 -1.8 0.5 0.4 0.5 -0.6 0.5 0 0.5 1.7 0.6 -0.6 0.5 -1.6 0.5 1.4 0.5 -0.8 0.6 -0.9 0.5 0.2 0.5 -0.9 0.5 2.6" fill="#262626" stroke="#000"/>
<path d="M325 552.8l0.6 -1.3 0.5 1" fill="#262626" stroke="#000"/>
<path d="M310.6 557.9l0.6 -2.2 0.5 1.9" fill="#262626" stroke="#000"/>
<path d="M312.2 557.5l0.5 -1.7 0.6 -1.2 0.5 1.8 0.5 -0.3 0.5 -1.5 0.5 0.6 0.6 -0.8 0.5 0.2 0.5 0.6 0.5 -0.2 0.6 -1.8 0.5 0.9 0.5 -0.3 0.5 0.7 0.5 -0.3 0.6 -0.1 0.5 -1.7 0.5 -0.1 0.5 0.8 0.6 -1.1 0.5 1.8 0.5 -0.5 0.5 -0.1 0.5 -1.9 0.6 1.2 0.5 -1.3 0.5 2.4" fill="#262626" stroke="#000"/>
<path d="M311.9 558.7l0.5 -0.7 0.6 0.4" fill="#262626" stroke="#000"/>
<path d="M313 558.4l0.5 -1 0.5 -1.2 0.5 1.8" fill="#262626" stroke="#000"/>
<path d="M314.5 558l0.5 -2.4 0.6 0.7 0.5 -1 0.5 1.2 0.5 -1.7 0.6 1.1 0.5 0.1 0.5 -0.9 0.5 -0.7 0.5 -0.6 0.6 1.6 0.5 -0.3 0.5 -1.4 0.5 1 0.6 -0.1 0.5 -0.2 0.5 -0.9 0.5 0.1 0.6 0.2 0.5 -0.8 0.5 -0.1 0.5 -0.1 0.5 -0.1 0.6 1.8" fill="#262626" stroke="#000"/>
<path d="M314.7 559l0.6 -2.6 0.5 2.3" fill="#262626" stroke="#000"/>
<path d="M315.8 558.7l0.5 -0.9 0.5 -0.3 0.6 -0.2 0.5 -0.6 0.5 -1.1 0.5 0.6 0.6 0.3 0.5 -0.7 0.5 0.7 0.5 0 0.5 -2.5 0.6 -0.2 0.5 2.5 0.5 -0.3 0.5 -2.4 0.6 0.2 0.5 -0.8 0.5 1.1 0.5 -1.5 0.5 0.5 0.6 0.1 0.5 2.4" fill="#262626" stroke="#000"/>
<path d="M327.3 555.6l0.5 -2.6 0.5 1.1 0.6 1" fill="#262626" stroke="#000"/>
<path d="M321.5 554l1.3 2.8M325.7 552.6l1.3 -0.7" fill="none"/>
<path d="M317.1 559.5l0.5 -1.4 0.5 -1.5 0.5 0.4 0.6 0.2 0.5 0.8 0.5 -0.3 0.5 -1.4 0.5 0.8 0.6 -1.1 0.5 -2 0.5 2.9 0.5 -1.5 0.6 -0.7 0.5 0.5 0.5 -1.7 0.5 0.5 0.5 0.8 0.6 -1.2 0.5 -1.6 0.5 0.9 0.5 3.6" fill="#262626" stroke="#000"/>
<path d="M324.9 553.5l1.3 1.7M327 552l1.3 2.5" fill="none"/>
<path d="M318.3 560.3l0.6 -1.7 0.5 -1 0.5 2.3" fill="#262626" stroke="#000"/>
<path d="M319.9 559.9l0.5 -2.2 0.5 -0.4 0.6 0.3 0.5 1.1 0.5 -0.5 0.5 -1 0.6 -3.4 0.5 1.8 0.5 -0.7 0.5 0.4 0.6 -0.9 0.5 0.8 0.5 0 0.5 -1.5 0.5 1.4 0.6 -0.7 0.5 0.4 0.5 0.4 0.5 0 0.6 1.7" fill="#262626" stroke="#000"/>
<path d="M327.2 553.7l1.3 2M328.3 554.4l1.3 1.5" fill="none"/>
<path d="M321.2 560.6l0.5 -2.5 0.5 2.2" fill="#262626" stroke="#000"/>
<path d="M322.7 560.2l0.6 -0.8 0.5 0.5" fill="#262626" stroke="#000"/>
<path d="M323.8 559.9l0.5 -3.3 0.5 -0.1 0.6 -0.6 0.5 1.6 0.5 -2 0.5 3 0.5 -1.9 0.6 0 0.5 -0.9 0.5 -0.9 0.5 1.1 0.6 1.6 0.5 -0.5 0.5 -1.2 0.5 0.6 0.6 1.2" fill="#262626" stroke="#000"/>
<path d="M326.4 555.5l1.3 0.7" fill="none"/>
<path d="M325.1 560.7l0.5 -2.5 0.5 -0.1 0.5 1.1 0.5 0.1 0.6 -3.2 0.5 1.9 0.5 -0.5 0.5 0.9 0.6 -1 0.5 1.2 0.5 -1.5 0.5 0.3 0.6 -0.7 0.5 0.1 0.5 -0.3 0.5 1.8" fill="#262626" stroke="#000"/>
<path d="M327.7 556.1l1.3 3.4" fill="none"/>
<path d="M326.3 561.4l0.5 -2 0.6 1 0.5 -1.2 0.5 -0.5 0.5 0.8 0.6 0.5 0.5 -0.4 0.5 -1.4 0.5 0 0.6 0.5 0.5 0.1 0.5 -0.8 0.5 0.5 0.6 -0.5 0.5 1.2" fill="#262626" stroke="#000"/>
<path d="M327.6 562.2l0.5 -0.7 0.5 -1.4 0.6 0.3 0.5 -1 0.5 0.3 0.5 -0.1 0.6 0.6 0.5 0.1 0.5 -1.6 0.5 0.8 0.6 -0.9 0.5 1.1 0.5 -1.4 0.5 1.8" fill="#262626" stroke="#000"/>
<path d="M329.4 562.8l0.5 -1.7 0.5 1.4" fill="#262626" stroke="#000"/>
<path d="M330.4 562.5l0.6 -0.9 0.5 0.1 0.5 -0.2 0.5 -1.1 0.6 -0.1 0.5 -0.9 0.5 0.9 0.5 -0.1 0.6 -1 0.5 1.9" fill="#262626" stroke="#000"/>
<path d="M331.7 563.3l0.5 -0.9 0.6 -0.6 0.5 -0.6 0.5 0.2 0.5 -1.3 0.6 0.3 0.5 -0.3 0.5 2" fill="#262626" stroke="#000"/>
<path d="M335.9 562.1l0.5 -1.9 0.5 1.6" fill="#262626" stroke="#000"/>
<polygon points="365.6,518.9 365.2,524.5 364.8,530.2 364.4,535.8 364,541.5 363.5,547.1 363.1,552.8 362.6,558.4 362.1,564 361.7,569.7 361.2,575.3 360.7,581 360.2,586.6 362,587 363.8,587 365.5,586.9 367.3,586.6 369.1,586.1 370.9,585.5 372.7,584.7 374.4,583.8 376.2,582.7 378.5,582.1 386.5,580.4 385.5,578.6 377.7,577.6 376.8,576 375.7,570.8 374.6,565.6 373.6,560.4 372.6,555.2 371.7,550 370.8,544.9 370,539.7 369.3,534.5 368.7,529.3 368.3,524.1 368,518.9" fill="#969696" stroke="#222" stroke-width="0.7" stroke-linejoin="round"/>
<polygon points="377.5,582.1 386.5,580.4 385.5,578.6 377.7,577.6" fill="#2e2e2e" stroke="none"/>
<path d="M365.7 524.5L365.1 530.1L365.2 535.7L364.7 541.3L364.5 546.8L364.2 552.4L364 558L363.5 563.6L363.2 569.2L362.8 574.8L362.7 580.4L362.4 587M366.3 518.9L366 524.4L366.3 529.9L366 535.4L366.1 540.9L366.1 546.4L366 551.9L366.1 557.4L365.9 562.8L366.1 568.3L365.9 573.8L366.2 579.3L366.3 586.8M367 518.9L367 524.3L366.9 529.7L366.7 535.2L367.2 540.6L367.4 546L367.6 551.4L367.6 556.8L368 562.2L368 567.6L368.6 573.1L368.8 578.5L369 586.1M367.6 529.6L368.1 534.9L368.1 540.2L368.5 545.5L368.9 550.9L369.3 556.2L369.9 561.5L370.7 566.8L371.6 572.2L372.2 577.5L372.6 584.7M367.8 518.9L368.2 524.1L368.4 529.4L368.8 534.6L369.5 539.8L370 545.1L370.7 550.3L371.8 555.6L372.4 560.8L373.3 566L374 571.3L375.2 576.5L376.3 582.7" fill="none" stroke="#dcdcdc" stroke-width="0.75"/>
<path d="M365.5 535.5L365.5 541.1L365 546.6L364.8 552.2L365 557.7L364.6 563.2L364.3 568.8L364.5 574.3L364.1 579.9L364.3 587M366.4 518.9L366.5 524.4L366.4 529.8L366.6 535.3L366.7 540.7L366.8 546.2L366.6 551.6L367 557.1L367 562.5L367.1 568L367.2 573.4L367.3 578.9L367.6 586.5M367 518.9L367.1 524.3L367.2 529.6L367.3 535L367.4 540.4L368.1 545.8L368 551.1L368.6 556.5L368.9 561.9L369.2 567.2L369.9 572.6L370.5 578L370.8 585.5M367.8 529.5L368.1 534.7L369 540L369.3 545.3L370.2 550.6L370.8 555.9L371.2 561.2L372 566.4L372.8 571.7L373.7 577L374.5 583.8" fill="none" stroke="#303030" stroke-width="0.65"/>
<path d="M368 518.9L368.3 524.1L368.7 529.3L369.3 534.5L370 539.7L370.8 544.9L371.7 550L372.6 555.2L373.6 560.4L374.6 565.6L375.7 570.8L376.8 576L378 581.2" fill="none" stroke="#111" stroke-width="1.1"/>
<path d="M366.8 518.9L366.8 524.9" fill="none" stroke="#222" stroke-width="1.7"/>
</g>
<g>
<path d="M549.5 561.6L629.8 611.4M563.3 557.9L644.2 606.9M577 554.1L658.7 602.4M590.8 550.4L673.1 597.9M604.6 546.7L687.5 593.4M618.4 542.9L702 588.9M632.2 539.2L716.4 584.4M645.9 535.4L730.9 579.9M659.7 531.7L745.3 575.4M549.5 561.6L659.7 531.7M569.6 574.1L681.1 542.6M589.6 586.5L702.5 553.5M609.7 598.9L723.9 564.5M629.8 611.4L745.3 575.4" fill="none" stroke="#000" stroke-width="0.7"/>
<line x1="541.6" y1="491.4" x2="549.5" y2="561.6" stroke="#000" stroke-width="0.7"/>
<path d="M557.6 559.4l0.5 -1.5 0.5 1.2" fill="#262626" stroke="#000"/>
<path d="M559.6 558.9l0.5 -2 0.5 -0.4 0.6 0.6 0.5 -1.3 0.5 -0.1 0.5 1.5 0.5 -1.5 0.5 -0.9 0.5 1.5 0.5 0 0.6 1" fill="#262626" stroke="#000"/>
<path d="M565.3 557.3l0.5 -1.3 0.5 -1.6 0.5 2.5" fill="#262626" stroke="#000"/>
<path d="M566.8 556.9l0.5 -2.2 0.5 1.9" fill="#262626" stroke="#000"/>
<path d="M567.8 556.6l0.5 -2 0.6 1.7" fill="#262626" stroke="#000"/>
<path d="M568.9 556.3l0.5 -1.8 0.5 1.6" fill="#262626" stroke="#000"/>
<path d="M569.9 556.1l0.5 -1.9 0.5 1.6" fill="#262626" stroke="#000"/>
<path d="M570.9 555.8l0.5 -1.4 0.5 1.1" fill="#262626" stroke="#000"/>
<path d="M558.3 560.3l0.5 -0.9 0.5 0.6" fill="#262626" stroke="#000"/>
<path d="M559.3 560l0.5 -2.2 0.6 -0.3 0.5 -0.3 0.5 -0.3 0.5 1.5 0.5 -0.1 0.5 -0.1 0.5 -0.9 0.6 0.8 0.5 -0.8 0.5 0.3 0.5 0 0.5 -0.7 0.5 -0.3 0.5 -1.6 0.6 0 0.5 0.3 0.5 -0.3 0.5 1.4 0.5 -1 0.5 -0.2 0.5 -0.6 0.5 1 0.6 -1.1 0.5 2.1" fill="#262626" stroke="#000"/>
<path d="M573.2 556.3l0.5 -1 0.5 0.7" fill="#262626" stroke="#000"/>
<path d="M558 561.5l0.5 -1.9 0.6 1.6" fill="#262626" stroke="#000"/>
<path d="M559.1 561.2l0.5 -2.4 0.5 2.2" fill="#262626" stroke="#000"/>
<path d="M560.1 561l0.5 -1.2 0.5 -0.9 0.5 0 0.5 -0.5 0.6 1 0.5 -0.2 0.5 -2 0.5 1.6 0.5 -1.7 0.5 1 0.5 0.1 0.6 -1.9 0.5 0 0.5 1.4 0.5 0.4 0.5 -0.3 0.5 -0.4 0.5 0.2 0.5 -0.9 0.6 0.2 0.5 -0.3 0.5 0.5 0.5 -0.6 0.5 -1.5 0.5 0.7 0.5 0.9 0.6 -2.4 0.5 1.4 0.5 0.7 0.5 -2.3 0.5 1.3 0.5 -0.7 0.5 0.5 0.6 1.1" fill="#262626" stroke="#000"/>
<path d="M577.6 556.2l0.5 -1.2 0.5 0.9" fill="#262626" stroke="#000"/>
<path d="M558.8 562.4l0.5 -1.6 0.5 0 0.5 -1.6 0.5 0.1 0.5 -0.4 0.6 0.1 0.5 0 0.5 1.4 0.5 -0.2 0.5 -2.1 0.5 0 0.5 1.2 0.6 -0.3 0.5 -0.7 0.5 0.8 0.5 -0.3 0.5 0.4 0.5 -0.6 0.5 -1.6 0.6 1.1 0.5 -0.4 0.5 -0.7 0.5 -0.5 0.5 1.4 0.5 -1.6 0.5 0.1 0.6 -0.7 0.5 0.7 0.5 -0.2 0.5 -0.6 0.5 0.2 0.5 -0.6 0.5 1.7 0.6 -2.1 0.5 1.1 0.5 1.5" fill="#262626" stroke="#000"/>
<path d="M577.3 557.4l0.5 -1.8 0.5 1.5" fill="#262626" stroke="#000"/>
<path d="M578.3 557.1l0.5 -1.2 0.5 -1.5 0.6 0 0.5 2.1" fill="#262626" stroke="#000"/>
<path d="M559.5 563.3l0.5 -2.9 0.5 1.4 0.6 -1.8 0.5 1.2 0.5 -1.1 0.5 1.4 0.5 -0.6 0.5 -0.7 0.5 -1 0.6 0.6 0.5 -0.5 0.5 1.7 0.5 -1.4 0.5 -0.5 0.5 1.1 0.6 -1.2 0.5 -0.4 0.5 -0.2 0.5 -0.4 0.5 -0.3 0.5 1.5 0.5 -1.8 0.6 0.1 0.5 0.3 0.5 0.7 0.5 -0.6 0.5 -0.2 0.5 1 0.5 -0.5 0.6 -0.8 0.5 -0.1 0.5 -1.2 0.5 1.5 0.5 -1.3 0.5 -0.3 0.5 -0.1 0.6 1.4 0.5 -0.8 0.5 -1.4 0.5 0 0.5 0.7 0.5 1.6" fill="#262626" stroke="#000"/>
<path d="M581.1 557.4l0.6 -2.8 0.5 2.5" fill="#262626" stroke="#000"/>
<path d="M559.7 564.4l0.6 -1.5 0.5 1.2" fill="#262626" stroke="#000"/>
<path d="M560.8 564.1l0.5 -1.6 0.5 0.2 0.5 -1 0.5 -0.5 0.5 1.3 0.6 -0.9 0.5 0.6 0.5 -1.9 0.5 0.7 0.5 -0.5 0.5 -0.3 0.6 1.2 0.5 -2 0.5 1.8 0.5 -0.9 0.5 0.3 0.5 -0.2 0.5 -0.7 0.6 -0.5 0.5 -0.7 0.5 0.4 0.5 0.3 0.5 -0.6 0.5 1 0.6 -0.4 0.5 -0.3 0.5 -0.2 0.5 -1.5 0.5 0.4 0.5 1.2 0.5 -1.1 0.6 0.3 0.5 -1 0.5 0.5 0.5 -1 0.5 1.1 0.5 -1.4 0.6 0.1 0.5 -0.5 0.5 0 0.5 0.9 0.5 -1.3 0.5 0.7 0.5 1.8" fill="#262626" stroke="#000"/>
<path d="M584.5 557.6l0.5 -1.5 0.5 -0.7 0.5 1.8" fill="#262626" stroke="#000"/>
<path d="M586 557.2l0.5 -3.2 0.5 1.9 0.6 0.9" fill="#262626" stroke="#000"/>
<path d="M588.1 556.6l0.5 -1 0.5 0.7" fill="#262626" stroke="#000"/>
<path d="M589.1 556.3l0.5 -2.8 0.5 2.6" fill="#262626" stroke="#000"/>
<path d="M590.1 556.1l0.6 -1.3 0.5 1" fill="#262626" stroke="#000"/>
<path d="M560 565.5l0.5 -1 0.5 0.7" fill="#262626" stroke="#000"/>
<path d="M561.5 565l0.5 -1.8 0.5 -0.7 0.6 1.4 0.5 -0.6 0.5 -1.8 0.5 -0.2 0.5 0.6 0.5 0.3 0.6 0.5 0.5 -1.2 0.5 0.6 0.5 -0.1 0.5 -1.2 0.5 1.4 0.6 -0.3 0.5 -1 0.5 -1.1 0.5 -0.1 0.5 1.1 0.5 0.6 0.5 -0.1 0.6 -0.1 0.5 -0.9 0.5 -1.3 0.5 1.6 0.5 -0.5 0.5 -1.5 0.6 -0.1 0.5 0.7 0.5 0.7 0.5 -1.4 0.5 -0.2 0.5 0.3 0.5 -0.2 0.6 1 0.5 -2.3 0.5 -0.1 0.5 1.2 0.5 0.5 0.5 -0.1 0.6 -3.7 0.5 2.3 0.5 0.3 0.5 0.1 0.5 -1.6 0.5 0.4 0.5 -0.3 0.6 1.1 0.5 -0.7 0.5 0.2 0.5 -1.2 0.5 0.2 0.5 0.4 0.6 0.3 0.5 0.2 0.5 -2.3 0.5 1 0.5 -0.6 0.5 2" fill="#262626" stroke="#000"/>
<path d="M591.9 556.7l0.6 -1.5 0.5 -0.6 0.5 -1.2 0.5 2.7" fill="#262626" stroke="#000"/>
<path d="M561.2 566.2l0.5 -1 0.6 -1.4 0.5 2" fill="#262626" stroke="#000"/>
<path d="M562.8 565.8l0.5 -3 0.5 2 0.5 -0.3 0.5 -0.7 0.6 0 0.5 -1 0.5 1.3 0.5 -2.4 0.5 0.4 0.5 0.4 0.6 -0.1 0.5 -1.1 0.5 2 0.5 -2.5 0.5 2.2 0.5 -2.2 0.5 -0.2 0.6 0.4 0.5 -0.2 0.5 1.3 0.5 -1.8 0.5 1.4 0.5 -1.7 0.6 0.8 0.5 0 0.5 0 0.5 -0.5 0.5 -0.3 0.5 -0.3 0.6 1 0.5 -0.9 0.5 0 0.5 0.5 0.5 -1.1 0.5 -0.8 0.5 1.3 0.6 -1.3 0.5 0.2 0.5 -1.7 0.5 -0.7 0.5 1.2 0.5 -2.8 0.6 2.1 0.5 1.6 0.5 0.4 0.5 -3 0.5 1.9 0.5 -0.9 0.6 0.1 0.5 1 0.5 -0.2 0.5 -1.2 0.5 -0.2 0.5 0.9 0.6 -1.8 0.5 0.9 0.5 -1.4 0.5 -0.2 0.5 1.4 0.5 -0.2 0.5 -1 0.6 0.7 0.5 -0.8 0.5 2" fill="#262626" stroke="#000"/>
<path d="M595.8 556.7l0.5 -1 0.5 0.7" fill="#262626" stroke="#000"/>
<path d="M596.8 556.4l0.5 -2 0.6 1.7" fill="#262626" stroke="#000"/>
<path d="M584.4 554.6l1.3 2.5M586.5 555.7l1.3 0.6" fill="none"/>
<path d="M562 567.2l0.5 -1.5 0.5 -1.3 0.5 0.6 0.5 0.6 0.5 -0.2 0.6 -1.8 0.5 1.4 0.5 -0.5 0.5 -0.9 0.5 0.4 0.5 1 0.6 -2.4 0.5 1.9 0.5 -2.2 0.5 0.1 0.5 1.9 0.5 -2.5 0.6 2 0.5 -1 0.5 0.4 0.5 -0.3 0.5 -0.1 0.5 -0.8 0.6 -0.9 0.5 1.4 0.5 0.3 0.5 -1.5 0.5 0.1 0.5 -0.3 0.6 0 0.5 0.5 0.5 -1.9 0.5 0.1 0.5 -0.2 0.5 1.2 0.6 0.1 0.5 0 0.5 -0.5 0.5 -0.7 0.5 -1.2 0.5 0.4 0.6 -2.5 0.5 2.7 0.5 0.5 0.5 -4.3 0.5 1.8 0.5 0 0.6 0.5 0.5 0.1 0.5 -1.4 0.5 2.4 0.5 0.3 0.5 -0.3 0.6 -0.3 0.5 -1.5 0.5 0.8 0.5 -1.2 0.5 -0.3 0.5 0.9 0.5 0.4 0.6 -1.2 0.5 0.2 0.5 1 0.5 -0.7 0.5 -0.3 0.5 -0.6 0.6 -1.2 0.5 0.9 0.5 0.7 0.5 -1 0.5 1.7" fill="#262626" stroke="#000"/>
<path d="M598.6 557l0.5 -2.2 0.6 0.2 0.5 1.6" fill="#262626" stroke="#000"/>
<path d="M583.7 556.4l1.3 1.8M585.7 557.1l1.3 -0.4M587.8 556.3l1.3 -0.4" fill="none"/>
<path d="M562.7 568.1l0.5 -1.8 0.5 -0.8 0.6 0.6 0.5 -1.1 0.5 -0.2 0.5 0.7 0.5 -0.6 0.5 -0.7 0.6 0.1 0.5 1.3 0.5 -0.4 0.5 -1.2 0.5 0.6 0.5 0 0.6 0 0.5 0.1 0.5 -0.4 0.5 0.2 0.5 -0.1 0.5 -0.9 0.6 0.1 0.5 -1.6 0.5 0.2 0.5 -0.3 0.5 1 0.5 0.4 0.6 0.2 0.5 -1.8 0.5 -0.3 0.5 1.7 0.5 -0.8 0.5 -1.4 0.6 0.7 0.5 -1 0.5 1.5 0.5 -1.1 0.5 0.9 0.5 -0.4 0.6 -1.3 0.5 -0.3 0.5 1.2 0.5 -4.3 0.5 1.3 0.5 -0.4 0.6 0.7 0.5 0.2 0.5 -1.9 0.5 -0.4 0.5 1.6 0.5 0.2 0.6 -2.2 0.5 -0.1 0.5 1.8 0.5 -0.8 0.5 0.6 0.5 1.1 0.6 -0.3 0.5 0.2 0.5 0.5 0.5 -1.9 0.5 1.2 0.5 -1.4 0.6 -0.7 0.5 1.5 0.5 0 0.5 0 0.5 -0.2 0.5 -0.5 0.6 -1.5 0.5 0.7 0.5 -1 0.5 2 0.5 -0.3 0.5 0.7" fill="#262626" stroke="#000"/>
<path d="M584.9 558.1l1.3 -0.6M587 556.7l1.3 2.6M589.1 555.9l1.3 4.6" fill="none"/>
<path d="M563.4 569l0.6 -0.8 0.5 -1.1 0.5 1.5" fill="#262626" stroke="#000"/>
<path d="M565 568.6l0.5 -2.1 0.5 -1.2 0.5 -0.1 0.6 0.5 0.5 -0.1 0.5 -0.3 0.5 0.6 0.5 0.4 0.6 -0.4 0.5 -0.2 0.5 -1.4 0.5 1.7 0.5 -0.5 0.5 -0.3 0.6 -1.7 0.5 0 0.5 1.2 0.5 -0.2 0.5 0.1 0.5 0.1 0.6 -0.4 0.5 -0.8 0.5 0.6 0.5 -0.2 0.5 -1.3 0.5 1.1 0.6 -0.7 0.5 -0.1 0.5 -0.3 0.5 0 0.5 -1.1 0.5 -0.4 0.6 0.9 0.5 -1.2 0.5 0 0.5 0.4 0.5 0.4 0.5 -1.6 0.6 1.1 0.5 -2.5 0.5 -1.1 0.5 0.6 0.5 0.2 0.6 -0.8 0.5 1.9 0.5 -0.6 0.5 1.2 0.5 -0.6 0.5 1 0.6 -2.4 0.5 -0.3 0.5 2.5 0.5 -0.4 0.5 -1.8 0.5 1.2 0.6 0.2 0.5 0 0.5 -0.6 0.5 0 0.5 -0.5 0.5 -0.7 0.6 -0.4 0.5 1.3 0.5 -0.3 0.5 -0.7 0.5 -0.6 0.5 0.6 0.6 -0.5 0.5 -0.6 0.5 0.2 0.5 0.3 0.5 -1.5 0.5 0 0.6 2.5" fill="#262626" stroke="#000"/>
<path d="M586.2 557.5l1.3 2.2M587.2 558.3l1.3 2M591.4 557.7l1.3 2.1" fill="none"/>
<path d="M564.7 569.8l0.5 -2.3 0.5 2" fill="#262626" stroke="#000"/>
<path d="M565.7 569.5l0.6 -1.6 0.5 -1.3 0.5 1.2 0.5 0.3 0.5 -0.4 0.5 -1.2 0.6 -0.5 0.5 0.1 0.5 0.6 0.5 -1.4 0.5 0.3 0.5 1.3 0.6 -0.9 0.5 0.8 0.5 -0.6 0.5 -0.2 0.5 -0.5 0.6 -0.6 0.5 -0.9 0.5 1.3 0.5 -1.6 0.5 1.7 0.5 -2.1 0.6 0.3 0.5 0.6 0.5 0.9 0.5 -2 0.5 1.6 0.5 -0.5 0.6 -1.6 0.5 0.9 0.5 -1.4 0.5 -0.4 0.5 0.4 0.5 0.9 0.6 -0.9 0.5 0.1 0.5 0.5 0.5 -2.8 0.5 2.3 0.6 -1.4 0.5 -1.2 0.5 0.6 0.5 0.1 0.5 0.8 0.5 -2.5 0.6 1.2 0.5 0.3 0.5 -1.8 0.5 2.5 0.5 -0.9 0.5 0 0.6 1 0.5 -1.3 0.5 -1 0.5 0.7 0.5 0.5 0.6 -0.8 0.5 1 0.5 -2 0.5 1.3 0.5 -0.4 0.5 -0.3 0.6 -1 0.5 1.4 0.5 -1.1 0.5 -0.1 0.5 -0.6 0.5 1.2 0.6 -1.1 0.5 1.3 0.5 -0.7 0.5 -1 0.5 1.9" fill="#262626" stroke="#000"/>
<path d="M587.5 559.6l1.3 -0.4M589.5 558.6l1.3 0.9" fill="none"/>
<path d="M566.5 570.4l0.5 -1.1 0.5 0.8" fill="#262626" stroke="#000"/>
<path d="M567.5 570.1l0.5 -2 0.5 -0.8 0.6 1.2 0.5 -0.7 0.5 0.8 0.5 -2.3 0.5 0.8 0.6 0 0.5 -0.4 0.5 -0.8 0.5 1.1 0.5 -0.4 0.5 0.8 0.6 -2.2 0.5 0.5 0.5 -0.1 0.5 0.8 0.5 -1 0.6 -0.2 0.5 0.3 0.5 -1.1 0.5 1.2 0.5 0.4 0.5 -2.3 0.6 0.3 0.5 0.1 0.5 1.1 0.5 -1.3 0.5 0.3 0.5 -0.7 0.6 -0.8 0.5 1.7 0.5 -1.3 0.5 0.8 0.5 -0.1 0.6 -3 0.5 2.9 0.5 -2.2 0.5 0.1 0.5 -1.6 0.5 -0.8 0.6 2 0.5 -2 0.5 0.8 0.5 -0.5 0.5 1.5 0.6 -0.1 0.5 0.2 0.5 0.6 0.5 -2.5 0.5 0 0.5 -0.6 0.6 2.1 0.5 0.6 0.5 0.2 0.5 -1.9 0.5 -0.7 0.5 0.9 0.6 1.1 0.5 -0.7 0.5 -1.6 0.5 0.2 0.5 0.5 0.6 -1.1 0.5 1.3 0.5 -0.9 0.5 -1.2 0.5 1 0.5 -1.2 0.6 0.4 0.5 0.1 0.5 0 0.5 -0.1 0.5 0.8 0.6 -0.8 0.5 0.8 0.5 0.6" fill="#262626" stroke="#000"/>
<path d="M588.7 559.2l1.3 0.4M589.8 559.2l1.3 -0.4M590.8 559.5l1.3 2.5M593.9 559.2l1.3 1.8" fill="none"/>
<path d="M567.7 571.2l0.5 -2.4 0.6 1 0.5 0.9" fill="#262626" stroke="#000"/>
<path d="M569.3 570.7l0.5 -1.4 0.5 -0.2 0.5 -1.6 0.6 0.1 0.5 0.7 0.5 -0.6 0.5 -0.1 0.5 0.1 0.6 -1.2 0.5 0.3 0.5 0.9 0.5 -1.2 0.5 0.4 0.5 1 0.6 -1.8 0.5 0.4 0.5 0.8 0.5 -1.5 0.5 -0.8 0.6 0.3 0.5 0.8 0.5 -0.9 0.5 0.5 0.5 -0.8 0.5 -0.2 0.6 -0.2 0.5 0.8 0.5 -0.9 0.5 0.8 0.5 -0.3 0.6 0.2 0.5 -1.7 0.5 1.6 0.5 -0.3 0.5 -2.7 0.5 2 0.6 -1.9 0.5 -2.2 0.5 0.7 0.5 -0.9 0.5 -0.1 0.6 -0.7 0.5 2.9 0.5 0.2 0.5 -2.4 0.5 1.3 0.5 -1.4 0.6 0.9 0.5 1.3 0.5 -0.7 0.5 -0.3 0.5 -0.2 0.6 1.4 0.5 -1.2 0.5 0.9 0.5 -0.4 0.5 -0.5 0.5 0.1 0.6 -1.4 0.5 0.7 0.5 -0.9 0.5 0.1 0.5 0.9 0.6 -1.4 0.5 1.7 0.5 -1.8 0.5 -0.3 0.5 0.1 0.5 -0.4 0.6 0.3 0.5 0 0.5 -0.9 0.5 -0.3 0.5 1.9 0.6 -0.5 0.5 -0.5 0.5 1.5"/>
<path d="M591.1 558.9l1.3 3.6M594.2 560.4l1.3 0.6" fill="none"/>
<path d="M569.5 571.8l0.5 -2.8 0.5 2.5" fill="#262626" stroke="#000"/>
<path d="M570.5 571.5l0.6 -2.5 0.5 -0.6 0.5 1.7 0.5 -1.3 0.5 -0.5 0.6 0 0.5 1.6 0.5 -2 0.5 0.1 0.5 1.4 0.5 -0.9 0.6 -0.5 0.5 0.8 0.5 -0.1 0.5 -0.9 0.5 -0.2 0.6 0 0.5 -0.6 0.5 0.5 0.5 -1 0.5 0.9 0.6 -1.5 0.5 0.3 0.5 0.8 0.5 -1 0.5 -0.7 0.5 0.9 0.6 0 0.5 -1 0.5 -0.7 0.5 0.2 0.5 0.4 0.6 -0.1 0.5 -0.4 0.5 -0.4 0.5 1.2 0.5 -3.9 0.6 1 0.5 1.4 0.5 -1.4 0.5 -1.7 0.5 1.6 0.5 -0.8 0.6 -1.5 0.5 1.4 0.5 -0.8 0.5 1 0.5 -0.8 0.6 0.7 0.5 -1.1 0.5 1.1 0.5 1.4 0.5 0.2 0.6 -0.2 0.5 -2.4 0.5 0.6 0.5 1.4 0.5 -2.3 0.5 1.9 0.6 -1.6 0.5 0.1 0.5 0.5 0.5 -1.1 0.5 -0.7 0.6 1.9 0.5 -0.4 0.5 -0.1 0.5 -1.3 0.5 0.6 0.5 0.1 0.6 -0.6 0.5 -0.9 0.5 0.1 0.5 -0.1 0.5 1.9" fill="#262626" stroke="#000"/>
<path d="M590.3 562.5l1.3 1M591.3 562.5l1.3 0.2M593.4 560.1l1.3 1.5M594.4 560.7l1.3 2.1M596.5 560.5l1.3 2.1" fill="none"/>
<path d="M571.3 572.4l0.5 -2 0.5 1.7" fill="#262626" stroke="#000"/>
<path d="M572.3 572.1l0.5 -1.7 0.6 0.3 0.5 -0.4 0.5 0.5 0.5 -1.8 0.5 0.5 0.6 0.2 0.5 -0.3 0.5 -0.9 0.5 -0.1 0.5 1.5 0.5 -0.2 0.6 -0.9 0.5 -0.1 0.5 0.1 0.5 0.1 0.5 -0.9 0.6 -0.4 0.5 0.4 0.5 -1.4 0.5 1.3 0.5 -1.2 0.6 -0.7 0.5 1.1 0.5 0.7 0.5 -0.9 0.5 -0.5 0.6 -0.1 0.5 0.6 0.5 -0.5 0.5 -0.5 0.5 0 0.5 -0.8 0.6 -0.9 0.5 -1 0.5 0.8 0.5 -0.6 0.5 0.3 0.6 -1 0.5 0.9 0.5 -0.9 0.5 -0.2 0.5 -0.9 0.6 1 0.5 0.2 0.5 0.1 0.5 0.6 0.5 -1.3 0.6 0.4 0.5 -0.2 0.5 -0.6 0.5 1.1 0.5 0.3 0.5 0.1 0.6 -0.8 0.5 0.6 0.5 -0.7 0.5 -0.9 0.5 0.7 0.6 0.3 0.5 -1.3 0.5 -0.5 0.5 -0.7 0.5 1 0.6 -0.1 0.5 0.8 0.5 -1.1 0.5 -0.8 0.5 -0.6 0.6 0.9 0.5 0 0.5 1.5" fill="#262626" stroke="#000"/>
<path d="M609.7 561.6l0.5 -1.6 0.5 1.3" fill="#262626" stroke="#000"/>
<path d="M590.5 563.2l1.3 2.5M592.6 562.7l1.3 -1.3M594.6 561.6l1.3 2.4" fill="none"/>
<path d="M573.1 573.1l0.5 -1.9 0.5 0.5 0.5 0.9" fill="#262626" stroke="#000"/>
<path d="M575.7 572.3l0.5 -2.3 0.5 1.3 0.5 -1.2 0.5 0.5 0.6 -1.1 0.5 0.6 0.5 -0.7 0.5 0 0.5 -0.4 0.5 0.7 0.6 -1 0.5 -0.7 0.5 0.4 0.5 0 0.5 -1.1 0.6 0.1 0.5 1.1 0.5 -1 0.5 1.1 0.5 -1 0.6 -0.5 0.5 -1 0.5 0.8 0.5 0.8 0.5 -0.1 0.6 -1.7 0.5 1.5 0.5 -0.8 0.5 -1.2 0.5 0.6 0.6 -0.3 0.5 -0.7 0.5 -1.3 0.5 -0.4 0.5 -1.9 0.6 2.4 0.5 0.5 0.5 -1.1 0.5 0.8 0.5 0 0.6 0.2 0.5 0.9 0.5 -2.9 0.5 2.8 0.5 -2.1 0.5 1.8 0.6 -1.9 0.5 0.3 0.5 -0.2 0.5 0.5 0.5 0.5 0.6 0 0.5 -1.3 0.5 -1 0.5 0 0.5 0.9 0.6 -1.4 0.5 1.5 0.5 -0.2 0.5 -0.4 0.5 -1.1 0.6 -0.5 0.5 0.9 0.5 -0.4 0.5 0.2 0.5 -1.1 0.6 0.9 0.5 -0.3 0.5 0.3 0.5 1.2"/>
<path d="M593.8 561.4l1.3 3.6M598 562.2l1.3 3.7" fill="none"/>
<path d="M576.4 573.3l0.5 -1 0.5 -1.6 0.6 0 0.5 0.2 0.5 -0.3 0.5 0.1 0.5 -0.7 0.6 1.2 0.5 -2.2 0.5 0.8 0.5 -1.1 0.5 0.7 0.6 -0.9 0.5 -0.1 0.5 0.3 0.5 0.9 0.5 -0.4 0.6 -0.9 0.5 0.6 0.5 0 0.5 -0.4 0.5 -0.1 0.6 -1.5 0.5 0.8 0.5 0.8 0.5 -1.4 0.5 0.2 0.5 1.1 0.6 -1 0.5 0.5 0.5 0 0.5 -2.3 0.5 0.3 0.6 0.6 0.5 -2 0.5 0.5 0.5 -1.3 0.5 2.9 0.6 -3.4 0.5 0.9 0.5 1.7 0.5 -1.1 0.5 1.4 0.6 -0.2 0.5 -2 0.5 1.9 0.5 -0.5 0.5 -0.2 0.6 -0.4 0.5 -0.4 0.5 0.5 0.5 -1.6 0.5 0.3 0.6 0.4 0.5 -0.9 0.5 -0.4 0.5 0.9 0.5 0.5 0.6 -0.4 0.5 -2.1 0.5 1 0.5 0.1 0.5 -1.2 0.6 1.4 0.5 -1.1 0.5 0.5 0.5 -0.7 0.5 -1 0.6 2.6" fill="#262626" stroke="#000"/>
<path d="M597.2 564.1l1.3 1.3" fill="none"/>
<path d="M579.7 573.4l0.6 -1.1 0.5 -0.6 0.5 0 0.5 -1.8 0.5 1.8 0.6 -1.7 0.5 1.2 0.5 0.3 0.5 -2 0.5 0.4 0.6 0 0.5 1.2 0.5 -0.6 0.5 0.1 0.5 -1.3 0.6 -0.6 0.5 1.1 0.5 -1.2 0.5 -0.8 0.5 1.1 0.6 0.8 0.5 -2.2 0.5 0.6 0.5 -0.3 0.5 0.8 0.6 -0.7 0.5 -1.2 0.5 0.5 0.5 -1.4 0.5 2.3 0.6 0.1 0.5 -4.9 0.5 1.5 0.5 0.6 0.5 1.3 0.6 -1.3 0.5 0 0.5 1.8 0.5 -1.6 0.5 0.2 0.6 -1 0.5 1.6 0.5 -1.2 0.5 0.1 0.5 0.7 0.6 -0.5 0.5 -0.3 0.5 -1.1 0.5 0.3 0.5 -0.1 0.6 -0.5 0.5 1 0.5 -1.3 0.5 -0.8 0.5 -0.3 0.6 1.7 0.5 -0.3 0.5 -1.2 0.5 -0.7 0.5 0.9 0.6 -0.1 0.5 0.9 0.5 -0.1 0.5 0.5" fill="#262626" stroke="#000"/>
<path d="M596.4 563.3l1.3 5.1M597.4 565.4l1.3 3.8" fill="none"/>
<path d="M581 574.2l0.5 -1.5 0.5 -1 0.6 1.3 0.5 -0.4 0.5 -1.4 0.5 -0.2 0.5 -0.4 0.6 1.6 0.5 -0.5 0.5 -0.8 0.5 -0.6 0.5 0.5 0.6 0.8 0.5 -2 0.5 1.4 0.5 -0.1 0.5 -1.6 0.6 1.5 0.5 -1.3 0.5 1 0.5 -1.3 0.5 0.3 0.6 0.3 0.5 -1.6 0.5 1.6 0.5 -0.2 0.6 0.6" fill="#262626" stroke="#000"/>
<path d="M595.1 570.2l0.5 -3 0.5 -0.1 0.5 0.1 0.5 2.4" fill="#262626" stroke="#000"/>
<path d="M597.1 569.6l0.6 -1.2 0.5 -0.3 0.5 1.1" fill="#262626" stroke="#000"/>
<path d="M598.7 569.2l0.5 -1.6 0.5 -1.4 0.6 1.5 0.5 -0.5 0.5 0.4 0.5 -2.2 0.5 -0.2 0.6 1.9 0.5 -0.1 0.5 -0.4 0.5 0.3 0.5 -1.6 0.6 0.8 0.5 -1.4 0.5 0.6 0.5 -1 0.5 0 0.6 -0.2 0.5 0.2 0.5 1.3 0.5 -2.4 0.5 -0.2 0.6 1.9 0.5 -2 0.5 0.6 0.5 1.9" fill="#262626" stroke="#000"/>
<path d="M612.2 565.4l0.6 -1.9 0.5 -0.7 0.5 2.1" fill="#262626" stroke="#000"/>
<path d="M583.8 574.5l0.5 -3 0.6 0.3 0.5 1.2 0.5 -0.2 0.5 -1.4 0.5 2.3" fill="#262626" stroke="#000"/>
<path d="M588.5 573.2l0.5 -1.7 0.5 -0.7 0.6 1.1 0.5 0.7" fill="#262626" stroke="#000"/>
<path d="M590.6 572.6l0.5 -3.1 0.5 1.3 0.6 0.3 0.5 -0.8 0.5 0.9 0.5 0.5" fill="#262626" stroke="#000"/>
<path d="M593.7 571.7l0.5 -2.9 0.6 0.3 0.5 2.2" fill="#262626" stroke="#000"/>
<path d="M595.3 571.3l0.5 -2.6 0.5 0.7 0.5 1.4" fill="#262626" stroke="#000"/>
<path d="M597.4 570.7l0.5 -1.9 0.5 1.6" fill="#262626" stroke="#000"/>
<path d="M601 569.7l0.5 -1.5 0.6 -0.2 0.5 -1.4 0.5 1 0.5 -0.3 0.5 0.4 0.6 -0.6 0.5 0.4 0.5 -0.9 0.5 -0.6 0.5 1.3 0.6 -2.1 0.5 1.8 0.5 -1.3 0.5 1.1 0.5 -0.3 0.6 -2.2 0.5 0.8 0.5 0.1 0.5 0.7 0.6 -1.3 0.5 0.8 0.5 -0.2 0.5 0.9" fill="#262626" stroke="#000"/>
<path d="M586.6 574.9l0.6 -1.3 0.5 1" fill="#262626" stroke="#000"/>
<path d="M587.7 574.6l0.5 -2.8 0.5 1.7 0.6 0.6" fill="#262626" stroke="#000"/>
<path d="M589.8 574l0.5 -1.1 0.5 0.8" fill="#262626" stroke="#000"/>
<path d="M591.3 573.5l0.6 -2.2 0.5 1.9" fill="#262626" stroke="#000"/>
<path d="M592.4 573.2l0.5 -2.4 0.5 2.1" fill="#262626" stroke="#000"/>
<path d="M593.9 572.8l0.6 -0.9 0.5 -1.9 0.5 2.3" fill="#262626" stroke="#000"/>
<path d="M596 572.2l0.5 -2.1 0.6 1.8" fill="#262626" stroke="#000"/>
<path d="M604.4 569.8l0.5 -2 0.5 0.1 0.5 1.5" fill="#262626" stroke="#000"/>
<path d="M605.9 569.4l0.6 -2.3 0.5 2" fill="#262626" stroke="#000"/>
<path d="M607.5 568.9l0.5 -1.2 0.5 -1.8 0.6 0.4 0.5 1.1 0.5 -2 0.5 2.6" fill="#262626" stroke="#000"/>
<path d="M610.6 568l0.5 -2.1 0.6 1.2 0.5 0.5" fill="#262626" stroke="#000"/>
<path d="M608.3 569.8l0.5 -1.5 0.5 1.2" fill="#262626" stroke="#000"/>
<path d="M611.9 568.8l0.5 -2.1 0.6 1.8" fill="#262626" stroke="#000"/>
<path d="M599.2 579.2l0.5 -2.1 0.5 0.2 0.5 0.3 0.5 -0.6 0.6 0.1 0.5 -0.2 0.5 0 0.5 -0.6 0.6 -0.3 0.5 -0.1 0.5 -0.2 0.5 0.4 0.6 1.1" fill="#262626" stroke="#000"/>
<path d="M600.4 580l0.5 -1.4 0.6 0.2 0.5 -1.1 0.5 -0.5 0.5 0 0.6 1.1 0.5 -0.9 0.5 -0.7 0.5 0.2 0.6 -0.4 0.5 -0.3 0.5 0.1 0.5 -0.6 0.6 0 0.5 2" fill="#262626" stroke="#000"/>
<path d="M600.1 581.2l0.5 -2.6 0.6 2.3" fill="#262626" stroke="#000"/>
<path d="M601.2 580.9l0.5 -0.8 0.5 -1.8 0.5 0.7 0.6 -0.8 0.5 -0.2 0.5 0.5 0.5 -0.4 0.6 0.9 0.5 -1.8 0.5 1.1 0.5 0.1 0.6 0 0.5 -0.5 0.5 -1.2 0.5 1.3 0.6 -0.1 0.5 0.4" fill="#262626" stroke="#000"/>
<path d="M601.9 581.8l0.5 -0.8 0.5 -0.3 0.6 0 0.5 -0.9 0.5 0.1 0.5 -1.1 0.6 -0.3 0.5 0.2 0.5 0 0.5 -0.6 0.6 0.5 0.5 -1.1 0.5 0.7 0.5 -0.5 0.6 0.7 0.5 -1 0.5 0.9 0.6 0.7" fill="#262626" stroke="#000"/>
<path d="M604.2 582.2l0.5 -2.1 0.6 1 0.5 -0.7 0.5 -0.2 0.5 0.5 0.6 -1.2 0.5 1 0.5 -1.1 0.5 -0.9 0.6 1 0.5 -1.4 0.5 1.5 0.5 -1.6 0.6 0.8 0.5 1.1" fill="#262626" stroke="#000"/>
<path d="M606.5 582.7l0.6 -1.3 0.5 0.4 0.5 -1.4 0.5 0.3 0.6 -0.2 0.5 -0.1 0.5 -0.8 0.5 -0.4 0.6 2.1" fill="#262626" stroke="#000"/>
<path d="M611.8 581.2l0.5 -1.5 0.5 1.2" fill="#262626" stroke="#000"/>
<polygon points="623.7,530.8 623.3,536.4 622.8,542 622.3,547.6 621.7,553.2 621,558.8 620.3,564.4 619.6,570 618.9,575.6 618.1,581.2 617.3,586.8 616.5,592.4 615.7,598 617.9,598.4 620,598.4 622.2,598.3 624.3,598 626.5,597.5 628.6,596.9 630.8,596.1 632.9,595.2 635.1,594.1 637.7,593.5 641.2,591.8 640.2,590 636.9,589 636,587.5 634.9,582.3 633.7,577.1 632.7,572 631.6,566.9 630.6,561.7 629.7,556.5 628.8,551.4 627.9,546.2 627.2,541.1 626.5,535.9 626.1,530.8" fill="#969696" stroke="#222" stroke-width="0.7" stroke-linejoin="round"/>
<polygon points="636.7,593.5 641.2,591.8 640.2,590 636.9,589" fill="#2e2e2e" stroke="none"/>
<path d="M623.8 536.3L623.2 541.9L623.2 547.4L622.5 553L622.1 558.5L621.6 564.1L621.3 569.6L620.5 575.2L620 580.7L619.3 586.3L619 591.8L618.3 598.4M624.4 530.8L624.2 536.3L624.5 541.7L624.1 547.2L624.1 552.6L624.1 558.1L623.8 563.5L623.8 569L623.4 574.4L623.4 579.9L623.1 585.3L623.2 590.8L623 598.2M625.1 530.8L625.2 536.2L625.1 541.5L624.9 546.9L625.4 552.3L625.6 557.7L625.7 563L625.6 568.4L625.9 573.8L625.8 579.2L626.3 584.5L626.3 589.9L626.3 597.5M625.9 541.4L626.4 546.7L626.5 551.9L626.9 557.2L627.3 562.5L627.8 567.8L628.3 573.1L629.1 578.4L629.8 583.6L630.4 588.9L630.6 596.1M625.9 530.8L626.4 536L626.8 541.2L627.3 546.4L628.2 551.6L628.7 556.8L629.5 562L630.6 567.2L631.3 572.4L632.2 577.6L632.9 582.8L634 587.9L635.1 594.1" fill="none" stroke="#dcdcdc" stroke-width="0.75"/>
<path d="M623.5 547.3L623.4 552.8L622.8 558.3L622.4 563.8L622.5 569.3L621.9 574.8L621.3 580.3L621.3 585.8L620.6 591.3L620.7 598.4M624.5 530.8L624.7 536.2L624.5 541.6L624.7 547L624.8 552.4L624.8 557.9L624.6 563.3L624.8 568.7L624.7 574.1L624.7 579.5L624.6 584.9L624.6 590.3L624.6 597.9M625.1 530.8L625.3 536.1L625.4 541.5L625.6 546.8L625.7 552.1L626.4 557.4L626.3 562.8L626.8 568.1L627.1 573.4L627.3 578.8L627.9 584.1L628.3 589.4L628.5 596.9M626.1 541.3L626.6 546.5L627.5 551.8L627.8 557L628.8 562.2L629.4 567.5L629.8 572.7L630.6 578L631.4 583.2L632.2 588.4L632.9 595.2" fill="none" stroke="#303030" stroke-width="0.65"/>
<path d="M626.1 530.8L626.5 535.9L627.2 541.1L627.9 546.2L628.8 551.4L629.7 556.5L630.6 561.7L631.6 566.9L632.7 572L633.7 577.1L634.9 582.3L636 587.5L637.2 592.6" fill="none" stroke="#111" stroke-width="1.1"/>
<path d="M624.9 530.8L624.9 536.8" fill="none" stroke="#222" stroke-width="1.7"/>
</g>
</g>
<g id="hists">
<g>
<path d="M12.4 390.5L12.4 390.1L13 388.7L13.6 389.8L14.3 389.5L14.9 388.8L15.5 388L16.1 389.6L16.7 388.6L17.4 388.5L18 388.7L18.6 390.4L19.2 389.2L19.8 390.2L20.5 388.9L21.1 389.6L21.7 388.6L22.3 389.9L22.9 390.4L23.6 386.2L24.2 386.8L24.8 384.8L25.4 389.3L26 388.2L26.7 386.1L27.3 384.5L27.9 385.9L28.5 387.7L29.1 388.5L29.8 386.4L30.4 386.2L31 386.5L31.6 386.5L32.2 386.5L32.9 386.1L33.5 386.3L34.1 382.5L34.7 382.2L35.3 384.2L36 386.5L36.6 384L37.2 385.5L37.8 384.8L38.4 384.3L39.1 382.1L39.7 384.6L40.3 379.6L40.9 381.5L41.5 382.1L42.2 378.9L42.8 379.8L43.4 381.4L44 378.7L44.6 379.1L45.3 377.7L45.9 377.2L46.5 371.8L47.1 373.6L47.7 371.2L48.4 370.6L49 374.1L49.6 373L50.2 364.9L50.8 370.5L51.5 363.5L52.1 363.8L52.7 367.1L53.3 358.9L53.9 356.1L54.6 369.7L55.2 350.3L55.8 358.5L56.4 348.4L57 341.9L57.7 348.6L58.3 354.2L58.9 348.7L59.5 338.9L60.1 344.1L60.8 346.7L61.4 336.6L62 325.8L62.6 334.3L63.2 332.2L63.9 331.6L64.5 325.7L65.1 315.8L65.7 334.2L66.3 317.3L67 326.6L67.6 321.2L68.2 308.3L68.8 302.6L69.4 319.2L70.1 319.5L70.7 315.9L71.3 314.5L71.9 326.6L72.5 325.3L73.2 315.7L73.8 312.9L74.4 309.6L75 324.5L75.6 337.7L76.3 320.9L76.9 332.9L77.5 326.6L78.1 328.6L78.7 324.4L79.4 332.3L80 323.6L80.6 322.5L81.2 333.3L81.8 340L82.5 341L83.1 348.6L83.7 344.7L84.3 340.4L84.9 339.8L85.6 354.5L86.2 347.5L86.8 341.3L87.4 342.3L88 355.2L88.7 352.4L89.3 361.6L89.9 357.3L90.5 360.9L91.1 363.1L91.8 363.4L92.4 361L93 360.4L93.6 360.8L94.2 362.9L94.9 360.1L95.5 361.5L96.1 356.8L96.7 357.2L97.3 362.9L98 369.4L98.6 362.2L99.2 363.8L99.8 361.5L100.4 369.3L101.1 366.7L101.7 375.2L102.3 366L102.9 370.3L103.5 374.1L104.2 366.8L104.8 378.5L105.4 372.1L106 373.3L106.6 375.2L107.3 371.9L107.9 373.1L108.5 373.3L109.1 371.6L109.7 379.3L110.4 378.7L111 376.3L111.6 380.4L112.2 378.3L112.8 381.9L113.5 380.7L114.1 381.3L114.7 378L115.3 382.4L115.9 379.5L116.6 379.3L117.2 380.8L117.8 379.1L118.4 380.8L119 380.3L119.7 381.3L120.3 381.3L120.9 383.1L121.5 386L122.1 384.8L122.8 381.7L123.4 385.4L124 385.4L124.6 383.4L125.2 383.7L125.9 382.4L126.5 386.9L127.1 384.1L127.7 384.3L128.3 383.8L129 388.1L129.6 384.4L130.2 386.7L130.8 385.9L131.4 386.6L132.1 385.9L132.7 385L133.3 386.8L133.9 387.5L134.5 385.3L135.2 386.6L135.8 388L136.4 386.2L137 387.9L137.6 387.4L138.3 387.6L138.9 387.1L139.5 386.1L140.1 386.7L140.7 387.9L141.4 387.7L142 386.6L142.6 387.3L143.2 387.8L143.8 387.2L144.5 388.5L145.1 388.8L145.7 387.8L146.3 388.8L146.9 388.1L147.6 387.3L148.2 387.6L148.8 389.2L149.4 389.7L150 390.1L150.7 388.5L151.3 388.8L151.9 388.7L152.5 389.2L153.1 389.6L153.8 389.5L154.4 390.3L155 388.2L155.6 388.5L156.2 388.7L156.9 389L157.5 389.6L158.1 389.4L158.7 390.1L159.3 389.7L160 388.2L160.6 388.5L161.2 388.7L161.8 389.5L162.4 389.6L163.1 389.2L163.7 388.3L164.3 388.6L164.9 390.1L165.5 387.7L166.2 388.5L166.8 389.6L167.4 389.4L168 389.3L168.6 388.7L169.3 389.9L169.9 389.5L170.5 388.8L171.1 389.4L171.7 389.2L172.4 390.3L173 390.4L173.6 390.1L174.2 390.2L174.8 388.8L175.5 390L176.1 390.2L176.7 390.2L177.3 390.2L177.9 390.1L178.6 390.4L179.2 390.2L179.8 389.4L180.4 389.7L181 390.2L181.7 389.9L182.3 390.5L182.9 390.2L183.5 390.1L184.1 390.4L184.8 390.4L185.4 390.1L186 389.5L186.6 390.3L187.2 390.4L187.9 390.4L188.5 390.2L189.1 389.9L189.7 390L190.3 390L191 390.2L191.6 390.1L192.2 390.4L192.8 390.2L193.4 390.2L194.1 389.9L194.7 390L195.3 390.4L195.9 390.5L196.5 390L197.2 390.1L197.8 390.1L198.4 390.4L199 390.2L199.6 390.3L200.3 390.1L200.9 390.2L201.5 390L202.1 389.9L202.7 390.3L203.4 390.2L204 389.7L204.6 390.4L205.2 390.4L205.8 390.1L206.5 389.9L207.1 390L207.7 390.2L208.3 390.2L208.9 390.2L209.6 389.8L210.2 390.3L210.8 390.3L211.4 390.4L212 390.5L212.7 390.4L213.3 390.4L213.9 390.1L214.5 390.3L215.1 390.3L215.8 390.4L215.8 390.5Z" fill="#111" stroke="#111" stroke-width="0.5" stroke-linejoin="round"/>
<path d="M12.4 390.4L13 389.5L13.6 390.2L14.3 389.5L14.9 389.8L15.5 390.2L16.1 390L16.7 390.3L17.4 389.5L18 390.3L18.6 390.3L19.2 389.6L19.8 389.6L20.5 389.5L21.1 390.4L21.7 389.4L22.3 389.8L22.9 390L23.6 389.7L24.2 389.4L24.8 390.3L25.4 389.7L26 390.3L26.7 389.4L27.3 389.8L27.9 388.6L28.5 389.8L29.1 389.7L29.8 389.9L30.4 388.8L31 388.9L31.6 389.5L32.2 389.2L32.9 388.4L33.5 388.9L34.1 387.2L34.7 388.5L35.3 387.2L36 386.5L36.6 387.6L37.2 387.4L37.8 384.1L38.4 385.2L39.1 383.1L39.7 383.7L40.3 382.8L40.9 382.6L41.5 383.2L42.2 379.7L42.8 382.6L43.4 379.7L44 382.3L44.6 375.1L45.3 378.2L45.9 374.9L46.5 376.1L47.1 366.2L47.7 365.8L48.4 373.3L49 362.2L49.6 372.3L50.2 369.6L50.8 363.2L51.5 363.5L52.1 364.2L52.7 355.2L53.3 361.2L53.9 361.9L54.6 355L55.2 359.7L55.8 346.9L56.4 352.6L57 343.2L57.7 341.9L58.3 345.2L58.9 350.6L59.5 329.4L60.1 339.3L60.8 336.2L61.4 334L62 336.3L62.6 333.4L63.2 327.7L63.9 327.2L64.5 334.7L65.1 317.7L65.7 329.4L66.3 320.7L67 324.4L67.6 323.7L68.2 332.5L68.8 327.4L69.4 313.7L70.1 331L70.7 318.4L71.3 324.4L71.9 332.5L72.5 327.7L73.2 331.5L73.8 328.9L74.4 334.8L75 329.4L75.6 335.4L76.3 336.1L76.9 335.8L77.5 341.2L78.1 345.9L78.7 336.2L79.4 338.1L80 348.2L80.6 343.4L81.2 333.9L81.8 342L82.5 345.4L83.1 343.8L83.7 351.2L84.3 343.9L84.9 350.7L85.6 359.9L86.2 354.9L86.8 359.2L87.4 352.1L88 354.7L88.7 356.3L89.3 355.4L89.9 354.7L90.5 358.5L91.1 364.2L91.8 366.3L92.4 365L93 361.2L93.6 358L94.2 359.1L94.9 362L95.5 364.9L96.1 361.4L96.7 365.1L97.3 363.3L98 369.6L98.6 366.4L99.2 369.8L99.8 371.8L100.4 375.4L101.1 365.5L101.7 372.3L102.3 363.8L102.9 371L103.5 373.1L104.2 375.3L104.8 369L105.4 376.1L106 371.1L106.6 370.3L107.3 379.3L107.9 376.2L108.5 379.5L109.1 378.2L109.7 379.7L110.4 376L111 375.7L111.6 379.1L112.2 375.5L112.8 377.9L113.5 378L114.1 379.1L114.7 382.1L115.3 377.5L115.9 382.4L116.6 383.1L117.2 379.6L117.8 383.7L118.4 383.9L119 380.9L119.7 383.3L120.3 383.4L120.9 383.1L121.5 384.9L122.1 382.6L122.8 384L123.4 384.1L124 381.1L124.6 383.9L125.2 386.1L125.9 384.1L126.5 386.5L127.1 386.2L127.7 383.4L128.3 384L129 385.7L129.6 384.7L130.2 387.9L130.8 385.1L131.4 385.7L132.1 386.6L132.7 388.7L133.3 385.7L133.9 385.9L134.5 386.8L135.2 387.1L135.8 386.8L136.4 386.7L137 386.2L137.6 387.6L138.3 386.9L138.9 387.7L139.5 387.8L140.1 388.2L140.7 387.5L141.4 387.6L142 388.5L142.6 389.3L143.2 387.5L143.8 388.9L144.5 387.9L145.1 389.2L145.7 387.2L146.3 388.9L146.9 389L147.6 388.4L148.2 388.6L148.8 388.5L149.4 388.4L150 390.3L150.7 389.2L151.3 387.9L151.9 389L152.5 388.3L153.1 388L153.8 388L154.4 389.1L155 389.2L155.6 389.1L156.2 389.3L156.9 389.6L157.5 389.1L158.1 389.3L158.7 389.8L159.3 390.3L160 389.8L160.6 390L161.2 388.7L161.8 389.9L162.4 389.1L163.1 389.7L163.7 389.8L164.3 389.5L164.9 388.9L165.5 389.1L166.2 389.2L166.8 389.7L167.4 390.5L168 389.7L168.6 389.6L169.3 390.3L169.9 389.2L170.5 389.7L171.1 389.3L171.7 389.2L172.4 389.8L173 390.1L173.6 390L174.2 389.5L174.8 388.9L175.5 390.1L176.1 390.4L176.7 390.5L177.3 390.2L177.9 390.3L178.6 389.8L179.2 390.5L179.8 390.2L180.4 390.1L181 390.1L181.7 390.5L182.3 390.2L182.9 390.3L183.5 390.3L184.1 390.3L184.8 390.5L185.4 390.3L186 390.5L186.6 390.5L187.2 390.5L187.9 390.4L188.5 390.1L189.1 390.5L189.7 390.2L190.3 390.5L191 390.5L191.6 390.5L192.2 390.4L192.8 390.4L193.4 390.3L194.1 390.5L194.7 390.4L195.3 390.5L195.9 390.5L196.5 390.2L197.2 390.5L197.8 390.5L198.4 390.4L199 390.4L199.6 390.5L200.3 390.5L200.9 390.5L201.5 390.3L202.1 390.5L202.7 390.5L203.4 390.5L204 390.5L204.6 390.5L205.2 390.5L205.8 390.4L206.5 390.5L207.1 390.5L207.7 390.5L208.3 390.5L208.9 390.3L209.6 390.5L210.2 390.5L210.8 390.4L211.4 390.5L212 390.5L212.7 390.4L213.3 390.5L213.9 390.5L214.5 390.4L215.1 390.5L215.8 390.3" fill="none" stroke="#111" stroke-width="0.6" stroke-linejoin="round"/>
<line x1="11.7" y1="244" x2="11.7" y2="391.1" stroke="#111" stroke-width="1.3"/>
<line x1="11.1" y1="390.5" x2="216.5" y2="390.5" stroke="#111" stroke-width="1.2"/>
<line x1="12.2" y1="390.5" x2="12.2" y2="392.7" stroke="#222" stroke-width="0.8"/>
<text x="13" y="397.1" font-size="4.6" text-anchor="middle" style="font-weight:normal" fill="#333">10<tspan dy="-1.6" font-size="3.2">0</tspan></text>
<line x1="27.6" y1="390.5" x2="27.6" y2="391.6" stroke="#888" stroke-width="0.4"/>
<line x1="36.6" y1="390.5" x2="36.6" y2="391.6" stroke="#888" stroke-width="0.4"/>
<line x1="42.9" y1="390.5" x2="42.9" y2="391.6" stroke="#888" stroke-width="0.4"/>
<line x1="47.9" y1="390.5" x2="47.9" y2="391.6" stroke="#888" stroke-width="0.4"/>
<line x1="51.9" y1="390.5" x2="51.9" y2="391.6" stroke="#888" stroke-width="0.4"/>
<line x1="55.3" y1="390.5" x2="55.3" y2="391.6" stroke="#888" stroke-width="0.4"/>
<line x1="58.3" y1="390.5" x2="58.3" y2="391.6" stroke="#888" stroke-width="0.4"/>
<line x1="60.9" y1="390.5" x2="60.9" y2="391.6" stroke="#888" stroke-width="0.4"/>
<line x1="63.2" y1="390.5" x2="63.2" y2="392.7" stroke="#222" stroke-width="0.8"/>
<text x="64" y="397.1" font-size="4.6" text-anchor="middle" style="font-weight:normal" fill="#333">10<tspan dy="-1.6" font-size="3.2">1</tspan></text>
<line x1="78.6" y1="390.5" x2="78.6" y2="391.6" stroke="#888" stroke-width="0.4"/>
<line x1="87.6" y1="390.5" x2="87.6" y2="391.6" stroke="#888" stroke-width="0.4"/>
<line x1="94" y1="390.5" x2="94" y2="391.6" stroke="#888" stroke-width="0.4"/>
<line x1="98.9" y1="390.5" x2="98.9" y2="391.6" stroke="#888" stroke-width="0.4"/>
<line x1="103" y1="390.5" x2="103" y2="391.6" stroke="#888" stroke-width="0.4"/>
<line x1="106.4" y1="390.5" x2="106.4" y2="391.6" stroke="#888" stroke-width="0.4"/>
<line x1="109.4" y1="390.5" x2="109.4" y2="391.6" stroke="#888" stroke-width="0.4"/>
<line x1="112" y1="390.5" x2="112" y2="391.6" stroke="#888" stroke-width="0.4"/>
<line x1="114.3" y1="390.5" x2="114.3" y2="392.7" stroke="#222" stroke-width="0.8"/>
<text x="115.1" y="397.1" font-size="4.6" text-anchor="middle" style="font-weight:normal" fill="#333">10<tspan dy="-1.6" font-size="3.2">2</tspan></text>
<line x1="129.7" y1="390.5" x2="129.7" y2="391.6" stroke="#888" stroke-width="0.4"/>
<line x1="138.7" y1="390.5" x2="138.7" y2="391.6" stroke="#888" stroke-width="0.4"/>
<line x1="145" y1="390.5" x2="145" y2="391.6" stroke="#888" stroke-width="0.4"/>
<line x1="150" y1="390.5" x2="150" y2="391.6" stroke="#888" stroke-width="0.4"/>
<line x1="154" y1="390.5" x2="154" y2="391.6" stroke="#888" stroke-width="0.4"/>
<line x1="157.4" y1="390.5" x2="157.4" y2="391.6" stroke="#888" stroke-width="0.4"/>
<line x1="160.4" y1="390.5" x2="160.4" y2="391.6" stroke="#888" stroke-width="0.4"/>
<line x1="163" y1="390.5" x2="163" y2="391.6" stroke="#888" stroke-width="0.4"/>
<line x1="165.3" y1="390.5" x2="165.3" y2="392.7" stroke="#222" stroke-width="0.8"/>
<text x="166.1" y="397.1" font-size="4.6" text-anchor="middle" style="font-weight:normal" fill="#333">10<tspan dy="-1.6" font-size="3.2">3</tspan></text>
<line x1="180.7" y1="390.5" x2="180.7" y2="391.6" stroke="#888" stroke-width="0.4"/>
<line x1="189.7" y1="390.5" x2="189.7" y2="391.6" stroke="#888" stroke-width="0.4"/>
<line x1="196.1" y1="390.5" x2="196.1" y2="391.6" stroke="#888" stroke-width="0.4"/>
<line x1="201" y1="390.5" x2="201" y2="391.6" stroke="#888" stroke-width="0.4"/>
<line x1="205.1" y1="390.5" x2="205.1" y2="391.6" stroke="#888" stroke-width="0.4"/>
<line x1="208.5" y1="390.5" x2="208.5" y2="391.6" stroke="#888" stroke-width="0.4"/>
<line x1="211.5" y1="390.5" x2="211.5" y2="391.6" stroke="#888" stroke-width="0.4"/>
<line x1="214.1" y1="390.5" x2="214.1" y2="391.6" stroke="#888" stroke-width="0.4"/>
<line x1="216.4" y1="390.5" x2="216.4" y2="392.7" stroke="#222" stroke-width="0.8"/>
<text x="217.2" y="397.1" font-size="4.6" text-anchor="middle" style="font-weight:normal" fill="#333">10<tspan dy="-1.6" font-size="3.2">4</tspan></text>
<line x1="9.9" y1="353.9" x2="11.7" y2="353.9" stroke="#555" stroke-width="0.6"/>
<line x1="9.9" y1="317.2" x2="11.7" y2="317.2" stroke="#555" stroke-width="0.6"/>
<line x1="9.9" y1="280.6" x2="11.7" y2="280.6" stroke="#555" stroke-width="0.6"/>
<line x1="9.9" y1="244" x2="11.7" y2="244" stroke="#555" stroke-width="0.6"/>
<text x="9.2" y="390.2" font-size="4.6" text-anchor="middle" transform="rotate(-90 9.2 390.2)" fill="#222">0</text>
<text x="9.2" y="243.8" font-size="4.6" text-anchor="middle" transform="rotate(-90 9.2 243.8)" fill="#222">80</text>
</g>
<g>
<path d="M12.4 598.5L12.4 594.8L13 597.2L13.6 596.4L14.3 595L14.9 595.2L15.5 597.7L16.1 595.5L16.7 597.2L17.4 597L18 598.1L18.6 598.1L19.2 596L19.8 597.1L20.5 597.7L21.1 598L21.7 597.6L22.3 597.3L22.9 595.5L23.6 597L24.2 591.5L24.8 594.8L25.4 597L26 595.1L26.7 596.5L27.3 597.5L27.9 595.5L28.5 592.2L29.1 595.7L29.8 595L30.4 595.5L31 594L31.6 593.6L32.2 594.8L32.9 595.4L33.5 592.6L34.1 596.4L34.7 594L35.3 593.3L36 590.2L36.6 590.5L37.2 594L37.8 592.3L38.4 591.7L39.1 589.7L39.7 593.2L40.3 591.3L40.9 591.2L41.5 588.7L42.2 588.1L42.8 589.2L43.4 591.9L44 590L44.6 590.2L45.3 589.3L45.9 587.9L46.5 586.9L47.1 585.1L47.7 589.1L48.4 586.5L49 583.9L49.6 581.4L50.2 581.8L50.8 585.8L51.5 579.8L52.1 574.9L52.7 574.2L53.3 582.7L53.9 569L54.6 573L55.2 562.7L55.8 574.1L56.4 566.9L57 565.8L57.7 563.2L58.3 560.6L58.9 564.8L59.5 557.5L60.1 555.3L60.8 551L61.4 544.3L62 557.9L62.6 547.8L63.2 546.3L63.9 535.5L64.5 538.6L65.1 530L65.7 538.2L66.3 539.8L67 526.3L67.6 524.5L68.2 519.6L68.8 524.2L69.4 524.9L70.1 526.8L70.7 526.9L71.3 541.8L71.9 517L72.5 525.7L73.2 539.2L73.8 523.4L74.4 525.6L75 527.1L75.6 532.2L76.3 532L76.9 546.5L77.5 542.5L78.1 532.7L78.7 541.3L79.4 536.7L80 534.7L80.6 522.1L81.2 522.6L81.8 547.2L82.5 544.5L83.1 536.5L83.7 558.8L84.3 547.1L84.9 565.8L85.6 565.8L86.2 554.5L86.8 562.9L87.4 555.1L88 560L88.7 557.6L89.3 557.6L89.9 564.1L90.5 567.5L91.1 551.2L91.8 558.4L92.4 557.1L93 566.7L93.6 568.3L94.2 571.1L94.9 559.4L95.5 566.5L96.1 573.1L96.7 565.1L97.3 571.6L98 574.2L98.6 574.2L99.2 574.7L99.8 576.3L100.4 567.7L101.1 579.1L101.7 584.3L102.3 579.7L102.9 579.6L103.5 575.8L104.2 584.5L104.8 576L105.4 583.3L106 580.4L106.6 579.4L107.3 580.8L107.9 580.3L108.5 583.3L109.1 581.7L109.7 584.8L110.4 582.9L111 586.6L111.6 585.7L112.2 587.2L112.8 586.4L113.5 589.7L114.1 588.1L114.7 589.1L115.3 587.1L115.9 587.5L116.6 587.9L117.2 590.8L117.8 594.5L118.4 590.9L119 590.7L119.7 590.6L120.3 590.3L120.9 593L121.5 591.8L122.1 590.4L122.8 591.8L123.4 592.4L124 592.2L124.6 590.7L125.2 596.7L125.9 591.9L126.5 592.1L127.1 591.1L127.7 592.7L128.3 592.3L129 590.8L129.6 593.9L130.2 593.8L130.8 593.3L131.4 591.4L132.1 594.1L132.7 597.4L133.3 593.4L133.9 593.2L134.5 595.1L135.2 594.1L135.8 596.6L136.4 596.9L137 595.7L137.6 595.3L138.3 595L138.9 594.9L139.5 595.8L140.1 596.4L140.7 594.9L141.4 598L142 593.8L142.6 596.9L143.2 595.2L143.8 597.5L144.5 595.8L145.1 596.5L145.7 594.7L146.3 596.5L146.9 596.6L147.6 596.6L148.2 596.2L148.8 596.2L149.4 597.1L150 597.9L150.7 597.6L151.3 595.9L151.9 596.1L152.5 595.8L153.1 597L153.8 596L154.4 596.9L155 597.4L155.6 597.2L156.2 598.2L156.9 598L157.5 597.9L158.1 597.6L158.7 597.8L159.3 597.6L160 596.7L160.6 596.6L161.2 596.9L161.8 597.8L162.4 595.9L163.1 597.9L163.7 597.6L164.3 597.9L164.9 596.5L165.5 597.6L166.2 597.9L166.8 597.1L167.4 597.1L168 597.2L168.6 596.7L169.3 597.5L169.9 598.5L170.5 598.2L171.1 596.8L171.7 597.5L172.4 598.3L173 598.4L173.6 596.3L174.2 597.1L174.8 597.6L175.5 597.8L176.1 598.1L176.7 597.4L177.3 597.7L177.9 598.2L178.6 598.4L179.2 597.8L179.8 598.2L180.4 597.9L181 598L181.7 597.9L182.3 597.7L182.9 598.3L183.5 598.4L184.1 598.2L184.8 598.2L185.4 597.9L186 598.4L186.6 598.1L187.2 598.4L187.9 598.3L188.5 598.2L189.1 598.2L189.7 598.3L190.3 598.1L191 598.4L191.6 598.4L192.2 598.1L192.8 598.3L193.4 597.9L194.1 598.3L194.7 598L195.3 598.2L195.9 598.4L196.5 598L197.2 598L197.8 598.2L198.4 598.4L199 598.2L199.6 598.3L200.3 598.2L200.9 597.8L201.5 597.8L202.1 598.4L202.7 598L203.4 598L204 598.2L204.6 598.4L205.2 597.7L205.8 597.7L206.5 598.4L207.1 598.4L207.7 598.4L208.3 598.2L208.9 598.3L209.6 598.3L210.2 598.3L210.8 598.4L211.4 598.1L212 597.7L212.7 598.3L213.3 598.5L213.9 598.3L214.5 597.9L215.1 598.5L215.8 598.3L215.8 598.5Z" fill="#111" stroke="#111" stroke-width="0.5" stroke-linejoin="round"/>
<path d="M12.4 598.5L13 598.2L13.6 598.4L14.3 598.2L14.9 598L15.5 597.7L16.1 598.2L16.7 598.2L17.4 598.3L18 597.9L18.6 598.2L19.2 598.2L19.8 598.3L20.5 598.1L21.1 597.5L21.7 598.4L22.3 597.5L22.9 598.1L23.6 597.4L24.2 598.3L24.8 597.8L25.4 598.3L26 597.8L26.7 598L27.3 598L27.9 598L28.5 598.1L29.1 598.2L29.8 597.4L30.4 597.9L31 598L31.6 597.6L32.2 598.3L32.9 598.1L33.5 597.1L34.1 597.8L34.7 597.9L35.3 596.7L36 596.9L36.6 598L37.2 598.3L37.8 598.1L38.4 597.7L39.1 597.4L39.7 597.7L40.3 597.7L40.9 597.7L41.5 598.2L42.2 597.6L42.8 596.7L43.4 597.6L44 597.8L44.6 597.4L45.3 597.7L45.9 597.4L46.5 597.2L47.1 597.8L47.7 597.9L48.4 597.3L49 597.9L49.6 596.8L50.2 596.7L50.8 596.7L51.5 596.8L52.1 596.4L52.7 596.7L53.3 596.6L53.9 596.9L54.6 597.3L55.2 597.5L55.8 597.9L56.4 596.3L57 596L57.7 596.5L58.3 596.7L58.9 595.4L59.5 596.8L60.1 595.1L60.8 595.1L61.4 595.4L62 597.3L62.6 595.1L63.2 595.6L63.9 595.9L64.5 594.5L65.1 593.4L65.7 593.2L66.3 594.1L67 592L67.6 594.6L68.2 593.2L68.8 596.3L69.4 596.5L70.1 594L70.7 591.3L71.3 590.9L71.9 594.8L72.5 593.1L73.2 592.3L73.8 590.5L74.4 590.8L75 589.2L75.6 594L76.3 592L76.9 590L77.5 588.6L78.1 588.8L78.7 587.3L79.4 588.6L80 587.4L80.6 583L81.2 585.6L81.8 589L82.5 588.8L83.1 585.7L83.7 583L84.3 584.5L84.9 585.9L85.6 585.8L86.2 582.7L86.8 579L87.4 581.3L88 582.4L88.7 580.2L89.3 582.4L89.9 580.5L90.5 578L91.1 574.9L91.8 575.7L92.4 578L93 575L93.6 577.2L94.2 584.3L94.9 583.1L95.5 577.9L96.1 570.8L96.7 571.7L97.3 574.9L98 571.6L98.6 568.6L99.2 578.2L99.8 566.9L100.4 572L101.1 566.2L101.7 571.5L102.3 555.3L102.9 565.8L103.5 566.2L104.2 558.3L104.8 557.3L105.4 561.4L106 554.5L106.6 563.8L107.3 561.7L107.9 564.4L108.5 563.7L109.1 552.7L109.7 561.8L110.4 560.9L111 554.3L111.6 550.8L112.2 555.5L112.8 547.2L113.5 559.6L114.1 549.4L114.7 551.9L115.3 554.5L115.9 547.4L116.6 545.4L117.2 546L117.8 550.6L118.4 542.9L119 547.1L119.7 552.3L120.3 547.1L120.9 548.8L121.5 540.9L122.1 546L122.8 535.3L123.4 557.7L124 538.6L124.6 530.3L125.2 539L125.9 541.9L126.5 533.3L127.1 542.3L127.7 534.3L128.3 549.9L129 544.4L129.6 547.7L130.2 535.2L130.8 548.9L131.4 539.3L132.1 531.1L132.7 532.3L133.3 531L133.9 536.6L134.5 538.9L135.2 552.4L135.8 536.9L136.4 540.9L137 552.2L137.6 538.1L138.3 542.4L138.9 540.1L139.5 548.6L140.1 546.7L140.7 548.9L141.4 548.3L142 548.9L142.6 557L143.2 535.5L143.8 541.3L144.5 549.3L145.1 548.8L145.7 543.9L146.3 557.6L146.9 553.4L147.6 560.5L148.2 549.2L148.8 557.9L149.4 557.1L150 561.1L150.7 557.6L151.3 558.3L151.9 568.6L152.5 552.8L153.1 562.1L153.8 562.6L154.4 570.2L155 575.9L155.6 567.4L156.2 565.9L156.9 565L157.5 562.4L158.1 568.8L158.7 571.2L159.3 570.6L160 575.5L160.6 571.9L161.2 581.1L161.8 577.9L162.4 579.3L163.1 577.5L163.7 579.7L164.3 580.2L164.9 579.8L165.5 584.7L166.2 582.7L166.8 583.3L167.4 580.1L168 584.3L168.6 581.7L169.3 580.2L169.9 587.6L170.5 585.7L171.1 582L171.7 589.4L172.4 587.2L173 584.9L173.6 589.1L174.2 587.9L174.8 588.2L175.5 585.5L176.1 589.8L176.7 588.6L177.3 592.7L177.9 590L178.6 594.1L179.2 592.4L179.8 593.2L180.4 594.9L181 592.8L181.7 593.6L182.3 595.1L182.9 594.7L183.5 594.8L184.1 595.8L184.8 594.8L185.4 596.9L186 595.1L186.6 596.4L187.2 595.8L187.9 596.7L188.5 596.9L189.1 598.5L189.7 595.5L190.3 596.7L191 597.4L191.6 597.8L192.2 597.5L192.8 596.8L193.4 597.2L194.1 597.6L194.7 598L195.3 598.1L195.9 597.9L196.5 597.4L197.2 598.1L197.8 597L198.4 598.1L199 597.3L199.6 598.5L200.3 598.4L200.9 598.3L201.5 598.5L202.1 598.2L202.7 598.5L203.4 598.5L204 598.5L204.6 598.4L205.2 598.5L205.8 598.3L206.5 598.4L207.1 598.5L207.7 598.5L208.3 598.4L208.9 598.2L209.6 598.5L210.2 598.3L210.8 598.3L211.4 598.5L212 598.5L212.7 598.4L213.3 598.5L213.9 598.4L214.5 598.5L215.1 598.5L215.8 598.3" fill="none" stroke="#111" stroke-width="0.8" stroke-linejoin="round"/>
<line x1="11.7" y1="451" x2="11.7" y2="599.1" stroke="#111" stroke-width="1.3"/>
<line x1="11.1" y1="598.5" x2="216.5" y2="598.5" stroke="#111" stroke-width="1.2"/>
<line x1="12.2" y1="598.5" x2="12.2" y2="600.7" stroke="#222" stroke-width="0.8"/>
<text x="13" y="605.1" font-size="4.6" text-anchor="middle" style="font-weight:normal" fill="#333">10<tspan dy="-1.6" font-size="3.2">0</tspan></text>
<line x1="27.6" y1="598.5" x2="27.6" y2="599.6" stroke="#888" stroke-width="0.4"/>
<line x1="36.6" y1="598.5" x2="36.6" y2="599.6" stroke="#888" stroke-width="0.4"/>
<line x1="42.9" y1="598.5" x2="42.9" y2="599.6" stroke="#888" stroke-width="0.4"/>
<line x1="47.9" y1="598.5" x2="47.9" y2="599.6" stroke="#888" stroke-width="0.4"/>
<line x1="51.9" y1="598.5" x2="51.9" y2="599.6" stroke="#888" stroke-width="0.4"/>
<line x1="55.3" y1="598.5" x2="55.3" y2="599.6" stroke="#888" stroke-width="0.4"/>
<line x1="58.3" y1="598.5" x2="58.3" y2="599.6" stroke="#888" stroke-width="0.4"/>
<line x1="60.9" y1="598.5" x2="60.9" y2="599.6" stroke="#888" stroke-width="0.4"/>
<line x1="63.2" y1="598.5" x2="63.2" y2="600.7" stroke="#222" stroke-width="0.8"/>
<text x="64" y="605.1" font-size="4.6" text-anchor="middle" style="font-weight:normal" fill="#333">10<tspan dy="-1.6" font-size="3.2">1</tspan></text>
<line x1="78.6" y1="598.5" x2="78.6" y2="599.6" stroke="#888" stroke-width="0.4"/>
<line x1="87.6" y1="598.5" x2="87.6" y2="599.6" stroke="#888" stroke-width="0.4"/>
<line x1="94" y1="598.5" x2="94" y2="599.6" stroke="#888" stroke-width="0.4"/>
<line x1="98.9" y1="598.5" x2="98.9" y2="599.6" stroke="#888" stroke-width="0.4"/>
<line x1="103" y1="598.5" x2="103" y2="599.6" stroke="#888" stroke-width="0.4"/>
<line x1="106.4" y1="598.5" x2="106.4" y2="599.6" stroke="#888" stroke-width="0.4"/>
<line x1="109.4" y1="598.5" x2="109.4" y2="599.6" stroke="#888" stroke-width="0.4"/>
<line x1="112" y1="598.5" x2="112" y2="599.6" stroke="#888" stroke-width="0.4"/>
<line x1="114.3" y1="598.5" x2="114.3" y2="600.7" stroke="#222" stroke-width="0.8"/>
<text x="115.1" y="605.1" font-size="4.6" text-anchor="middle" style="font-weight:normal" fill="#333">10<tspan dy="-1.6" font-size="3.2">2</tspan></text>
<line x1="129.7" y1="598.5" x2="129.7" y2="599.6" stroke="#888" stroke-width="0.4"/>
<line x1="138.7" y1="598.5" x2="138.7" y2="599.6" stroke="#888" stroke-width="0.4"/>
<line x1="145" y1="598.5" x2="145" y2="599.6" stroke="#888" stroke-width="0.4"/>
<line x1="150" y1="598.5" x2="150" y2="599.6" stroke="#888" stroke-width="0.4"/>
<line x1="154" y1="598.5" x2="154" y2="599.6" stroke="#888" stroke-width="0.4"/>
<line x1="157.4" y1="598.5" x2="157.4" y2="599.6" stroke="#888" stroke-width="0.4"/>
<line x1="160.4" y1="598.5" x2="160.4" y2="599.6" stroke="#888" stroke-width="0.4"/>
<line x1="163" y1="598.5" x2="163" y2="599.6" stroke="#888" stroke-width="0.4"/>
<line x1="165.3" y1="598.5" x2="165.3" y2="600.7" stroke="#222" stroke-width="0.8"/>
<text x="166.1" y="605.1" font-size="4.6" text-anchor="middle" style="font-weight:normal" fill="#333">10<tspan dy="-1.6" font-size="3.2">3</tspan></text>
<line x1="180.7" y1="598.5" x2="180.7" y2="599.6" stroke="#888" stroke-width="0.4"/>
<line x1="189.7" y1="598.5" x2="189.7" y2="599.6" stroke="#888" stroke-width="0.4"/>
<line x1="196.1" y1="598.5" x2="196.1" y2="599.6" stroke="#888" stroke-width="0.4"/>
<line x1="201" y1="598.5" x2="201" y2="599.6" stroke="#888" stroke-width="0.4"/>
<line x1="205.1" y1="598.5" x2="205.1" y2="599.6" stroke="#888" stroke-width="0.4"/>
<line x1="208.5" y1="598.5" x2="208.5" y2="599.6" stroke="#888" stroke-width="0.4"/>
<line x1="211.5" y1="598.5" x2="211.5" y2="599.6" stroke="#888" stroke-width="0.4"/>
<line x1="214.1" y1="598.5" x2="214.1" y2="599.6" stroke="#888" stroke-width="0.4"/>
<line x1="216.4" y1="598.5" x2="216.4" y2="600.7" stroke="#222" stroke-width="0.8"/>
<text x="217.2" y="605.1" font-size="4.6" text-anchor="middle" style="font-weight:normal" fill="#333">10<tspan dy="-1.6" font-size="3.2">4</tspan></text>
<line x1="9.9" y1="561.6" x2="11.7" y2="561.6" stroke="#555" stroke-width="0.6"/>
<line x1="9.9" y1="524.8" x2="11.7" y2="524.8" stroke="#555" stroke-width="0.6"/>
<line x1="9.9" y1="487.9" x2="11.7" y2="487.9" stroke="#555" stroke-width="0.6"/>
<line x1="9.9" y1="451" x2="11.7" y2="451" stroke="#555" stroke-width="0.6"/>
<text x="9.2" y="598.2" font-size="4.6" text-anchor="middle" transform="rotate(-90 9.2 598.2)" fill="#222">0</text>
<text x="9.2" y="450.8" font-size="4.6" text-anchor="middle" transform="rotate(-90 9.2 450.8)" fill="#222">80</text>
</g>
</g>
<g id="scatter">
<polygon points="192,826 198,815 228,808 268,808.5 300,815 307,819 298,829 277,844 253,857 228,865 206,865 194,851" fill="#000"/>
<path d="M290 768.2h2.5m-115.5 4h2.5m92.5 0h2.5m35.5 1h2.5m19.5-2h2.5m-129.5 4h2.5m-2.5 2h2.5m10.5 1h2.5m-1.5 2h2.5m27.5-3h2.5m5.5-1h2.5m-1.5 4h2.5m13.5 0h2.5m15.5-1h2.5m25.5-3h2.5m-0.5 3h2.5m0.5-1h2.5m1.5 1h2.5m-1.5 1h2.5m6.5-1h2.5m-2.5-1h2.5m-1.5 2h2.5m0.5-1h2.5m7.5 0h2.5m-227.5 7h2.5m1.5-3h2.5m0.5-2h2.5m65.5 4h2.5m16.5 0h2.5m10.5 1h2.5m20.5-2h2.5m1.5 2h2.5m-1.5-2h2.5m-0.5 1h2.5m1.5 0h2.5m3.5-4h2.5m-1.5 4h2.5m-1.5 0h2.5m3.5-2h2.5m-0.5 0h2.5m11.5-1h2.5m-2.5 1h2.5m2.5 1h2.5m-1.5-2h2.5m-1.5-1h2.5m-2.5 3h2.5m0.5-1h2.5m-1.5-2h2.5m-1.5 3h2.5m-1.5-2h2.5m-1.5 3h2.5m3.5 0h2.5m-1.5-1h2.5m-2.5-1h2.5m2.5 2h2.5m-1.5 0h2.5m-0.5-4h2.5m-1.5 5h2.5m-1.5-2h2.5m-0.5-3h2.5m-0.5 0h2.5m-0.5 0h2.5m-0.5 5h2.5m-2.5-5h2.5m0.5 2h2.5m-2.5 3h2.5m-0.5-3h2.5m1.5 2h2.5m-1.5-4h2.5m-159.5 11h2.5m-1.5-5h2.5m-0.5 5h2.5m0.5-3h2.5m5.5-1h2.5m1.5 1h2.5m-2.5 3h2.5m-2.5-1h2.5m0.5 1h2.5m3.5 0h2.5m-2.5-4h2.5m-0.5 4h2.5m-2.5-1h2.5m2.5-3h2.5m-2.5 3h2.5m-0.5-1h2.5m-1.5-1h2.5m9.5-2h2.5m-2.5 1h2.5m0.5 1h2.5m-1.5-1h2.5m-1.5-1h2.5m-1.5 2h2.5m1.5-2h2.5m0.5 5h2.5m-1.5 0h2.5m-1.5-2h2.5m-0.5 1h2.5m-1.5-2h2.5m-0.5-2h2.5m-2.5 4h2.5m-1.5-4h2.5m-2.5 3h2.5m-1.5-2h2.5m-1.5 4h2.5m0.5-2h2.5m-0.5-1h2.5m0.5-2h2.5m-2.5 1h2.5m-1.5 2h2.5m-1.5-3h2.5m0.5 3h2.5m-1.5 0h2.5m-0.5-2h2.5m-0.5 4h2.5m-0.5-4h2.5m-1.5 1h2.5m-0.5 0h2.5m-1.5 3h2.5m-0.5-2h2.5m1.5-1h2.5m-1.5-2h2.5m2.5 4h2.5m-2.5 1h2.5m-1.5 0h2.5m-2.5-1h2.5m-1.5-4h2.5m-1.5 4h2.5m0.5 0h2.5m-1.5-1h2.5m-1.5-2h2.5m0.5 3h2.5m-1.5-1h2.5m-2.5 2h2.5m-1.5-2h2.5m-2.5 2h2.5m-1.5-2h2.5m-2.5 1h2.5m-1.5 0h2.5m-2.5-1h2.5m-0.5 2h2.5m-1.5-5h2.5m-2.5 3h2.5m-1.5 1h2.5m0.5 1h2.5m-2.5-1h2.5m-1.5-1h2.5m-0.5 1h2.5m-1.5 1h2.5m-1.5 0h2.5m-1.5-3h2.5m-2.5-1h2.5m-1.5-1h2.5m-2.5 5h2.5m-1.5-3h2.5m-0.5 2h2.5m-0.5-3h2.5m-2.5 2h2.5m-1.5-3h2.5m-2.5 4h2.5m-1.5 1h2.5m-1.5-4h2.5m-2.5 3h2.5m-2.5-1h2.5m-0.5-1h2.5m-2.5 1h2.5m-2.5 1h2.5m-1.5 0h2.5m-0.5 0h2.5m-1.5-2h2.5m-2.5 1h2.5m-1.5-2h2.5m-220.5 5h2.5m46.5 3h2.5m11.5-2h2.5m-0.5 2h2.5m-0.5 1h2.5m1.5-2h2.5m-1.5 3h2.5m0.5-5h2.5m0.5 2h2.5m-1.5 1h2.5m3.5-3h2.5m-0.5 0h2.5m-0.5 5h2.5m-1.5-1h2.5m-1.5-4h2.5m0.5 4h2.5m0.5-3h2.5m-1.5 4h2.5m-1.5-2h2.5m-1.5 1h2.5m-1.5-1h2.5m-2.5 2h2.5m-1.5-2h2.5m-1.5-2h2.5m-2.5 1h2.5m-1.5 2h2.5m-0.5 1h2.5m-1.5-5h2.5m-1.5 5h2.5m0.5-3h2.5m-2.5 3h2.5m-1.5-1h2.5m-0.5-3h2.5m-2.5 3h2.5m-1.5-1h2.5m-2.5 1h2.5m-2.5 1h2.5m-1.5-2h2.5m-2.5-1h2.5m-0.5 0h2.5m-1.5 1h2.5m-2.5 2h2.5m-1.5-3h2.5m-1.5-2h2.5m-2.5 2h2.5m-2.5-1h2.5m-1.5 4h2.5m-0.5 0h2.5m-2.5-3h2.5m-1.5 0h2.5m-2.5 1h2.5m-1.5 0h2.5m-2.5 2h2.5m-0.5-4h2.5m-2.5 1h2.5m-2.5 3h2.5m-1.5-1h2.5m-1.5-1h2.5m-1.5 0h2.5m-2.5 1h2.5m-1.5-2h2.5m-2.5 2h2.5m-1.5-1h2.5m-1.5 0h2.5m-2.5-2h2.5m-1.5 4h2.5m-1.5-3h2.5m-2.5 2h2.5m-2.5-1h2.5m-1.5 1h2.5m-1.5 1h2.5m-0.5 0h2.5m-2.5-1h2.5m-1.5 0h2.5m-1.5-3h2.5m-1.5 4h2.5m-2.5-2h2.5m-2.5 1h2.5m-1.5-1h2.5m-1.5-1h2.5m-1.5 0h2.5m-1.5 2h2.5m-2.5-1h2.5m-2.5-3h2.5m-0.5 4h2.5m-2.5-1h2.5m-2.5-3h2.5m-1.5 3h2.5m-1.5-2h2.5m-1.5 4h2.5m-2.5-2h2.5m-1.5 1h2.5m-1.5 1h2.5m-2.5-4h2.5m-2.5-1h2.5m-2.5 4h2.5m-2.5-1h2.5m-1.5 2h2.5m-2.5-3h2.5m-2.5 2h2.5m-0.5 1h2.5m-2.5-4h2.5m-1.5 4h2.5m-1.5-3h2.5m-0.5-1h2.5m-2.5 1h2.5m-2.5 2h2.5m-1.5 0h2.5m-2.5 1h2.5m-1.5-3h2.5m-2.5 2h2.5m-1.5-4h2.5m-2.5 2h2.5m-0.5-1h2.5m-2.5-1h2.5m-1.5 5h2.5m-1.5 0h2.5m-2.5-5h2.5m-2.5 2h2.5m-1.5 0h2.5m-2.5 2h2.5m-2.5-1h2.5m-1.5 1h2.5m-2.5-1h2.5m-1.5 1h2.5m-1.5-1h2.5m-2.5 1h2.5m-1.5-4h2.5m-1.5 3h2.5m-2.5-1h2.5m-2.5 3h2.5m-1.5-4h2.5m-1.5-1h2.5m-2.5 5h2.5m-1.5-5h2.5m-2.5 3h2.5m-1.5 0h2.5m-1.5-2h2.5m-2.5 2h2.5m-1.5-2h2.5m-1.5 1h2.5m-1.5 3h2.5m-2.5-5h2.5m-0.5 0h2.5m-2.5 4h2.5m-2.5 1h2.5m-2.5-4h2.5m-1.5 1h2.5m-2.5 2h2.5m-2.5-3h2.5m-0.5 3h2.5m-1.5 0h2.5m-0.5 0h2.5m-1.5-4h2.5m-2.5 2h2.5m-1.5 0h2.5m-2.5 3h2.5m-1.5-4h2.5m-2.5 4h2.5m-1.5-4h2.5m-2.5-1h2.5m-0.5 2h2.5m-2.5 3h2.5m-1.5-3h2.5m-1.5 1h2.5m-2.5 2h2.5m-1.5-1h2.5m-1.5-4h2.5m-2.5 3h2.5m-2.5 1h2.5m-1.5-2h2.5m-1.5 2h2.5m-2.5-3h2.5m-1.5 3h2.5m-2.5-4h2.5m-1.5 0h2.5m-2.5 3h2.5m-1.5-2h2.5m-2.5 4h2.5m-1.5-3h2.5m-2.5 3h2.5m-0.5-4h2.5m-2.5-1h2.5m-1.5 1h2.5m-1.5 0h2.5m-1.5 1h2.5m-1.5-2h2.5m-2.5 1h2.5m-1.5 4h2.5m-2.5-5h2.5m-1.5 1h2.5m-2.5-1h2.5m-193.5 10h2.5m30.5-2h2.5m-2.5 3h2.5m-1.5-3h2.5m-1.5-1h2.5m-1.5 2h2.5m1.5-1h2.5m-2.5 1h2.5m-0.5 2h2.5m-0.5-3h2.5m-1.5 1h2.5m-1.5 1h2.5m0.5-2h2.5m-2.5 2h2.5m-1.5 0h2.5m-2.5-3h2.5m0.5 4h2.5m-1.5-4h2.5m-1.5 3h2.5m-2.5-3h2.5m-1.5 1h2.5m-2.5 3h2.5m-1.5-3h2.5m-1.5 0h2.5m-1.5 2h2.5m-2.5-1h2.5m-1.5-2h2.5m-2.5 1h2.5m-0.5-2h2.5m-2.5 2h2.5m0.5-1h2.5m-2.5-1h2.5m-1.5 0h2.5m-2.5 2h2.5m-2.5-1h2.5m-0.5 1h2.5m-2.5 2h2.5m-1.5-2h2.5m-1.5 3h2.5m-2.5-1h2.5m-1.5-2h2.5m-2.5-2h2.5m-0.5 2h2.5m-1.5-1h2.5m-2.5 1h2.5m-0.5 0h2.5m-1.5-2h2.5m-1.5 0h2.5m-2.5 4h2.5m-1.5-4h2.5m-2.5 1h2.5m-1.5 0h2.5m-0.5 0h2.5m-2.5 2h2.5m-1.5 2h2.5m-0.5-4h2.5m-1.5 2h2.5m-1.5 2h2.5m-1.5-5h2.5m-2.5 1h2.5m-2.5 4h2.5m-0.5-2h2.5m-1.5 1h2.5m-2.5-4h2.5m-2.5 3h2.5m-2.5 2h2.5m-1.5-5h2.5m-2.5 2h2.5m-1.5-2h2.5m-2.5 2h2.5m-1.5-2h2.5m-1.5 2h2.5m-2.5-1h2.5m-0.5-1h2.5m-2.5 2h2.5m-1.5-1h2.5m-2.5 1h2.5m-1.5 3h2.5m-2.5-1h2.5m-1.5-3h2.5m-1.5 4h2.5m-2.5-5h2.5m-0.5 5h2.5m-1.5-4h2.5m-1.5-1h2.5m-2.5 1h2.5m-1.5 4h2.5m-2.5-1h2.5m-2.5-4h2.5m-2.5 2h2.5m-0.5 3h2.5m-2.5-1h2.5m-2.5-4h2.5m-1.5 3h2.5m-2.5-3h2.5m-1.5 2h2.5m-2.5 1h2.5m-1.5-2h2.5m-2.5 4h2.5m-1.5-4h2.5m-1.5 0h2.5m-2.5 4h2.5m-1.5-4h2.5m-2.5 1h2.5m-2.5 2h2.5m-1.5 1h2.5m0.5-3h2.5m-2.5-1h2.5m-2.5 4h2.5m-1.5-3h2.5m-2.5-1h2.5m-1.5 0h2.5m-2.5 3h2.5m-1.5 1h2.5m-2.5-5h2.5m-1.5 4h2.5m-1.5-1h2.5m-2.5 1h2.5m-1.5-1h2.5m-2.5-1h2.5m-1.5 0h2.5m-1.5-2h2.5m-2.5 2h2.5m-2.5 3h2.5m-0.5-5h2.5m-2.5 3h2.5m-1.5 2h2.5m-1.5-5h2.5m-2.5 2h2.5m-1.5 3h2.5m-2.5-5h2.5m-1.5 0h2.5m-2.5 2h2.5m-2.5-1h2.5m-1.5-1h2.5m-1.5 4h2.5m-2.5 1h2.5m-1.5-3h2.5m-2.5-1h2.5m-0.5 2h2.5m-1.5-3h2.5m-1.5 4h2.5m-0.5-1h2.5m-1.5 2h2.5m-2.5-1h2.5m-1.5-4h2.5m-2.5 5h2.5m-2.5-1h2.5m-1.5-2h2.5m-2.5 3h2.5m-1.5-4h2.5m-2.5 3h2.5m-1.5-4h2.5m-2.5 3h2.5m-1.5 2h2.5m-1.5-5h2.5m-2.5 2h2.5m-2.5-1h2.5m-2.5 2h2.5m-2.5 1h2.5m-1.5-4h2.5m-2.5 3h2.5m-0.5-3h2.5m-2.5 5h2.5m-1.5 0h2.5m-2.5-1h2.5m-2.5-4h2.5m-2.5 3h2.5m-0.5 1h2.5m-2.5 1h2.5m-1.5-5h2.5m-2.5 2h2.5m-0.5-2h2.5m-2.5 1h2.5m-2.5 4h2.5m-1.5 0h2.5m-2.5-3h2.5m-1.5-1h2.5m-2.5 3h2.5m-1.5-2h2.5m-2.5-1h2.5m-2.5 4h2.5m-1.5-3h2.5m-2.5-1h2.5m-2.5 3h2.5m-1.5-4h2.5m-2.5 2h2.5m-2.5 3h2.5m-1.5-4h2.5m-2.5 4h2.5m-1.5-4h2.5m-2.5 3h2.5m-2.5 1h2.5m-2.5-5h2.5m-1.5 0h2.5m-2.5 5h2.5m-0.5-1h2.5m-2.5-1h2.5m-2.5 2h2.5m-1.5-4h2.5m-2.5 3h2.5m-2.5-1h2.5m-1.5 0h2.5m-2.5 2h2.5m-2.5-5h2.5m-1.5 3h2.5m-2.5 2h2.5m-1.5 0h2.5m-2.5-4h2.5m-1.5 2h2.5m-2.5 2h2.5m-2.5-5h2.5m-2.5 2h2.5m-2.5-1h2.5m-1.5 3h2.5m-2.5-1h2.5m-1.5 0h2.5m-2.5 2h2.5m-2.5-1h2.5m-1.5-3h2.5m-1.5-1h2.5m-2.5 1h2.5m-2.5 3h2.5m-2.5 1h2.5m-1.5-1h2.5m-1.5-2h2.5m-2.5-1h2.5m-2.5 2h2.5m-2.5 2h2.5m-2.5-1h2.5m0.5-2h2.5m-2.5-1h2.5m-2.5 3h2.5m-1.5-4h2.5m-2.5 3h2.5m-1.5-1h2.5m-2.5-2h2.5m-1.5 0h2.5m-1.5 0h2.5m-1.5 2h2.5m-1.5 3h2.5m-2.5-4h2.5m-0.5 0h2.5m1.5 4h2.5m1.5-2h2.5m-175.5 8h2.5m-1.5 0h2.5m-1.5 0h2.5m-0.5-4h2.5m0.5 2h2.5m-2.5 2h2.5m1.5-4h2.5m-0.5 0h2.5m-1.5 4h2.5m-2.5-4h2.5m-2.5 1h2.5m-1.5 1h2.5m-1.5-1h2.5m-0.5 3h2.5m0.5-4h2.5m-2.5 2h2.5m-2.5-1h2.5m-1.5 2h2.5m-2.5-4h2.5m-0.5 4h2.5m-1.5-4h2.5m-0.5 2h2.5m-2.5-1h2.5m-1.5 2h2.5m-2.5 2h2.5m-1.5-5h2.5m-1.5 2h2.5m-1.5 0h2.5m-2.5-1h2.5m-2.5 2h2.5m-1.5-3h2.5m-1.5 1h2.5m-2.5 4h2.5m-2.5-3h2.5m-1.5 0h2.5m-2.5 1h2.5m-2.5 2h2.5m-0.5-4h2.5m-2.5-1h2.5m0.5 2h2.5m-2.5 2h2.5m-2.5 1h2.5m-2.5-5h2.5m-1.5 0h2.5m-2.5 3h2.5m-1.5 2h2.5m-2.5-3h2.5m-2.5-1h2.5m-2.5 3h2.5m-1.5-3h2.5m0.5-1h2.5m-2.5 4h2.5m-2.5 1h2.5m-1.5-2h2.5m-1.5 2h2.5m-1.5-2h2.5m-2.5 2h2.5m-1.5-4h2.5m-1.5 1h2.5m-2.5 2h2.5m-1.5-3h2.5m-2.5 3h2.5m-2.5 1h2.5m-1.5-5h2.5m-2.5 2h2.5m-1.5 1h2.5m-1.5 1h2.5m-2.5-3h2.5m-0.5 2h2.5m-2.5 2h2.5m-2.5-5h2.5m-1.5 5h2.5m-2.5-2h2.5m-1.5 2h2.5m-1.5-3h2.5m-1.5 1h2.5m-1.5 0h2.5m-2.5 2h2.5m-2.5-5h2.5m-2.5 2h2.5m-1.5 0h2.5m-2.5-1h2.5m-1.5 0h2.5m-2.5 2h2.5m-2.5 1h2.5m-1.5-3h2.5m-2.5 3h2.5m-2.5-1h2.5m-1.5-2h2.5m-1.5-1h2.5m-1.5 0h2.5m-1.5 1h2.5m-2.5-1h2.5m-2.5 4h2.5m-2.5 1h2.5m-1.5-3h2.5m-2.5 2h2.5m-2.5 1h2.5m-2.5-4h2.5m-1.5-1h2.5m-2.5 3h2.5m-2.5 2h2.5m-2.5-4h2.5m-1.5 3h2.5m-2.5-1h2.5m-2.5-2h2.5m-1.5 4h2.5m-1.5-4h2.5m-1.5-1h2.5m-2.5 4h2.5m-1.5-3h2.5m-2.5 1h2.5m-2.5 2h2.5m-1.5 1h2.5m-2.5-4h2.5m-2.5 1h2.5m-2.5 2h2.5m-1.5-4h2.5m-2.5 2h2.5m-2.5 2h2.5m-1.5-4h2.5m-2.5 2h2.5m-2.5-1h2.5m-2.5 3h2.5m-2.5-1h2.5m-2.5 2h2.5m-1.5-5h2.5m-1.5 1h2.5m-2.5-1h2.5m-2.5 2h2.5m-1.5 0h2.5m-2.5 2h2.5m-1.5-1h2.5m-2.5-1h2.5m-1.5-1h2.5m-2.5 2h2.5m-2.5-3h2.5m-0.5 0h2.5m-1.5 4h2.5m-2.5-3h2.5m-2.5-1h2.5m-0.5 2h2.5m-2.5-1h2.5m-2.5-1h2.5m-1.5 4h2.5m-2.5 1h2.5m-2.5-4h2.5m-0.5 4h2.5m-1.5-4h2.5m-1.5 4h2.5m-2.5-2h2.5m-2.5-1h2.5m-1.5 3h2.5m-2.5-4h2.5m-2.5 2h2.5m-2.5 1h2.5m-1.5-4h2.5m-2.5 5h2.5m-1.5-4h2.5m-1.5 0h2.5m-2.5-1h2.5m-2.5 4h2.5m-1.5-2h2.5m-1.5-1h2.5m-2.5 4h2.5m-1.5-2h2.5m-1.5 2h2.5m-2.5-1h2.5m-1.5-2h2.5m-2.5 3h2.5m-2.5-4h2.5m-2.5-1h2.5m-2.5 3h2.5m-1.5-3h2.5m-2.5 4h2.5m-1.5-4h2.5m-2.5 2h2.5m-1.5 3h2.5m-2.5-4h2.5m-2.5-1h2.5m-1.5 0h2.5m-2.5 2h2.5m-2.5-1h2.5m-0.5 2h2.5m-2.5-1h2.5m-1.5 1h2.5m-2.5-1h2.5m-0.5 2h2.5m-2.5-4h2.5m-2.5 3h2.5m-2.5 2h2.5m-1.5-2h2.5m-1.5 2h2.5m-1.5-5h2.5m-2.5 2h2.5m-2.5 2h2.5m-1.5-1h2.5m-2.5 2h2.5m-1.5-1h2.5m-2.5-1h2.5m-1.5-2h2.5m-1.5 0h2.5m-2.5 2h2.5m-2.5 1h2.5m-1.5-2h2.5m-2.5 3h2.5m-1.5-2h2.5m-1.5-2h2.5m-2.5-1h2.5m-1.5 3h2.5m-2.5-1h2.5m-2.5 3h2.5m-2.5-1h2.5m-1.5 1h2.5m-2.5-2h2.5m-1.5-3h2.5m-2.5 3h2.5m-2.5 1h2.5m-1.5-3h2.5m-0.5 3h2.5m-2.5-3h2.5m-2.5 1h2.5m-1.5 1h2.5m-2.5-1h2.5m-2.5 2h2.5m-2.5 1h2.5m-1.5-1h2.5m-2.5 1h2.5m-1.5-4h2.5m-1.5 0h2.5m-2.5-1h2.5m-2.5 3h2.5m-2.5-1h2.5m-2.5 3h2.5m-1.5-4h2.5m-2.5 1h2.5m-2.5 3h2.5m-2.5-1h2.5m-1.5-2h2.5m-1.5 0h2.5m-1.5 2h2.5m-2.5 1h2.5m-1.5-3h2.5m-2.5 3h2.5m-1.5-5h2.5m-2.5 3h2.5m-2.5 2h2.5m-1.5-5h2.5m-1.5 5h2.5m-2.5-1h2.5m-1.5 0h2.5m-1.5 0h2.5m-2.5-4h2.5m-2.5 3h2.5m-1.5-1h2.5m-2.5 3h2.5m-2.5-1h2.5m-1.5-4h2.5m-2.5 4h2.5m-1.5-4h2.5m-2.5 1h2.5m-2.5 2h2.5m-2.5 2h2.5m-1.5-4h2.5m-2.5-1h2.5m-2.5 4h2.5m-1.5-3h2.5m-2.5-1h2.5m-2.5 2h2.5m-2.5 3h2.5m-1.5-1h2.5m-1.5-3h2.5m-2.5-1h2.5m-2.5 2h2.5m-1.5-1h2.5m-2.5 2h2.5m-2.5-1h2.5m-2.5 2h2.5m-1.5 0h2.5m-1.5-4h2.5m-2.5 3h2.5m-2.5-1h2.5m-1.5-2h2.5m-2.5 3h2.5m-2.5-1h2.5m-2.5-1h2.5m-1.5-1h2.5m-2.5 3h2.5m-2.5 1h2.5m-0.5-4h2.5m-1.5 2h2.5m-2.5 2h2.5m-1.5-3h2.5m-0.5 2h2.5m-2.5 2h2.5m-1.5-1h2.5m-0.5-3h2.5m-1.5-1h2.5m-1.5 2h2.5m-1.5 0h2.5m-196.5 9h2.5m1.5-1h2.5m18.5 0h2.5m3.5 1h2.5m1.5 0h2.5m0.5-2h2.5m-1.5-2h2.5m-2.5-1h2.5m-1.5 3h2.5m-1.5 1h2.5m-1.5-3h2.5m-2.5 4h2.5m-0.5 0h2.5m-1.5-2h2.5m-2.5 1h2.5m-2.5-4h2.5m-1.5 0h2.5m-1.5 1h2.5m-0.5 0h2.5m-2.5 2h2.5m-2.5-1h2.5m-0.5 1h2.5m-2.5 2h2.5m-1.5-4h2.5m-2.5 4h2.5m-1.5-1h2.5m-1.5-2h2.5m-2.5 1h2.5m-1.5 0h2.5m-2.5 1h2.5m-1.5 1h2.5m-1.5 0h2.5m-0.5-3h2.5m-2.5 2h2.5m-2.5-4h2.5m-1.5 5h2.5m-1.5-3h2.5m-2.5-2h2.5m-1.5 1h2.5m-2.5 2h2.5m-2.5-1h2.5m-1.5 2h2.5m-2.5-2h2.5m-2.5 1h2.5m-1.5 0h2.5m-2.5 2h2.5m-2.5-1h2.5m-1.5-3h2.5m-2.5 2h2.5m-2.5 1h2.5m-1.5 1h2.5m-2.5-1h2.5m-1.5-4h2.5m-2.5 1h2.5m-2.5 3h2.5m-1.5-3h2.5m-2.5 2h2.5m-2.5 2h2.5m-1.5-3h2.5m-1.5 3h2.5m-1.5-3h2.5m-2.5 3h2.5m-2.5-1h2.5m-1.5-3h2.5m-1.5 4h2.5m-1.5 0h2.5m-2.5-1h2.5m-2.5-4h2.5m-1.5 3h2.5m-1.5-1h2.5m-1.5 2h2.5m-1.5-3h2.5m-1.5 4h2.5m-2.5-1h2.5m-2.5-1h2.5m-1.5-3h2.5m-1.5 2h2.5m-2.5 3h2.5m-2.5-1h2.5m-1.5-4h2.5m-2.5 3h2.5m-2.5 1h2.5m-1.5-1h2.5m-1.5-1h2.5m-1.5-2h2.5m-2.5 4h2.5m-1.5-3h2.5m-2.5 3h2.5m-1.5 0h2.5m-1.5-4h2.5m-2.5 2h2.5m-1.5-1h2.5m-2.5-1h2.5m-0.5 5h2.5m-1.5-3h2.5m-2.5-1h2.5m-1.5 2h2.5m-1.5 2h2.5m-2.5-1h2.5m-1.5 0h2.5m-1.5-1h2.5m-1.5-3h2.5m-1.5 0h2.5m-2.5 1h2.5m-2.5 4h2.5m-1.5-5h2.5m-2.5 2h2.5m-2.5 1h2.5m-1.5-3h2.5m-1.5 0h2.5m-2.5 1h2.5m-1.5-1h2.5m-2.5 2h2.5m-2.5-1h2.5m-2.5 3h2.5m-2.5-1h2.5m-2.5 2h2.5m-1.5 0h2.5m-2.5-1h2.5m-1.5-4h2.5m-2.5 1h2.5m-1.5 1h2.5m-2.5 1h2.5m-2.5-3h2.5m-1.5 3h2.5m-1.5 0h2.5m-1.5 0h2.5m-2.5 2h2.5m-2.5-1h2.5m-1.5-2h2.5m-2.5-1h2.5m-2.5 4h2.5m-1.5 0h2.5m-2.5-1h2.5m-2.5-2h2.5m-1.5 2h2.5m-0.5-2h2.5m-2.5 2h2.5m-1.5-3h2.5m-2.5 3h2.5m-2.5-1h2.5m-2.5-3h2.5m-1.5 2h2.5m-2.5-1h2.5m-2.5 2h2.5m-2.5 2h2.5m-1.5-4h2.5m-1.5 0h2.5m-2.5 3h2.5m-2.5 1h2.5m-1.5-5h2.5m-2.5 3h2.5m-1.5 0h2.5m-2.5-3h2.5m-1.5 5h2.5m-2.5-1h2.5m-1.5-4h2.5m-2.5 2h2.5m-2.5-1h2.5m-2.5 3h2.5m-2.5 1h2.5m-1.5-3h2.5m-2.5 2h2.5m-2.5-1h2.5m-1.5 0h2.5m-2.5 2h2.5m-1.5-1h2.5m-2.5-4h2.5m-2.5 2h2.5m-1.5-2h2.5m-2.5 4h2.5m-2.5 1h2.5m-1.5 0h2.5m-2.5-1h2.5m-2.5-4h2.5m-1.5 1h2.5m-1.5 2h2.5m-2.5 2h2.5m-1.5-5h2.5m-2.5 3h2.5m-2.5 2h2.5m-1.5-1h2.5m-2.5-3h2.5m-1.5 1h2.5m-2.5 1h2.5m-2.5 2h2.5m-0.5-3h2.5m-2.5 2h2.5m-1.5 1h2.5m-1.5-3h2.5m-2.5 1h2.5m-2.5 2h2.5m-1.5 0h2.5m-1.5-5h2.5m-2.5 2h2.5m-2.5-1h2.5m-2.5 2h2.5m-2.5 2h2.5m-1.5-3h2.5m-2.5-1h2.5m-2.5 4h2.5m-2.5-5h2.5m-1.5 2h2.5m-2.5-1h2.5m-2.5 2h2.5m-1.5 1h2.5m-2.5-1h2.5m-1.5 1h2.5m-2.5-2h2.5m-1.5 0h2.5m-2.5 1h2.5m-2.5 2h2.5m-1.5 0h2.5m-2.5-1h2.5m-2.5-3h2.5m-1.5 4h2.5m-2.5-5h2.5m-2.5 2h2.5m-1.5 0h2.5m-2.5 1h2.5m-1.5 2h2.5m-2.5-3h2.5m-2.5-1h2.5m-2.5 3h2.5m-1.5-3h2.5m-2.5 3h2.5m-2.5 1h2.5m-1.5-4h2.5m-2.5 2h2.5m-1.5 1h2.5m-2.5 1h2.5m-1.5-5h2.5m-2.5 2h2.5m-2.5-1h2.5m-2.5 3h2.5m-2.5 1h2.5m-1.5-5h2.5m-2.5 3h2.5m-1.5-3h2.5m-2.5 5h2.5m-1.5-5h2.5m-2.5 1h2.5m-2.5 2h2.5m-1.5-2h2.5m-2.5 3h2.5m-2.5 1h2.5m-1.5-5h2.5m-2.5 2h2.5m-2.5-1h2.5m-2.5 3h2.5m-2.5-1h2.5m-2.5 2h2.5m-1.5-4h2.5m-2.5 3h2.5m-2.5-1h2.5m-1.5 0h2.5m-2.5 2h2.5m-2.5-5h2.5m-2.5 1h2.5m-1.5 2h2.5m-2.5-3h2.5m-1.5 2h2.5m-2.5 3h2.5m-1.5-1h2.5m-2.5-4h2.5m-1.5 5h2.5m-2.5-5h2.5m-2.5 2h2.5m-1.5 2h2.5m-2.5-4h2.5m-1.5 3h2.5m-2.5-3h2.5m-2.5 2h2.5m-1.5-2h2.5m-2.5 4h2.5m-1.5 0h2.5m-2.5-1h2.5m-2.5 2h2.5m-1.5-5h2.5m-2.5 2h2.5m-2.5 2h2.5m-1.5-3h2.5m-1.5-1h2.5m-2.5 2h2.5m-2.5 2h2.5m-2.5 1h2.5m-1.5-5h2.5m-2.5 2h2.5m-2.5-1h2.5m-2.5 3h2.5m-2.5-1h2.5m-2.5 2h2.5m-1.5-5h2.5m-2.5 3h2.5m-1.5-2h2.5m-2.5 3h2.5m-2.5-1h2.5m-1.5-3h2.5m-2.5 5h2.5m-1.5-5h2.5m-2.5 2h2.5m-2.5-1h2.5m-2.5 3h2.5m-0.5 0h2.5m-2.5-4h2.5m-1.5 0h2.5m-2.5 1h2.5m-2.5 3h2.5m-1.5 1h2.5m-2.5-3h2.5m-1.5 0h2.5m-2.5-1h2.5m-2.5 4h2.5m-1.5-5h2.5m-2.5 1h2.5m-0.5 0h2.5m-2.5 4h2.5m-1.5-2h2.5m-1.5-3h2.5m-2.5 3h2.5m-2.5 2h2.5m-1.5-4h2.5m-1.5 4h2.5m-2.5-5h2.5m-0.5 3h2.5m-1.5-1h2.5m-183.5 4h2.5m3.5 5h2.5m6.5-2h2.5m2.5 0h2.5m-1.5-2h2.5m-1.5 1h2.5m-2.5-1h2.5m-1.5 4h2.5m1.5-1h2.5m-2.5-1h2.5m-0.5 1h2.5m-1.5 0h2.5m-0.5 0h2.5m-1.5-1h2.5m-1.5 1h2.5m-1.5 1h2.5m-2.5-5h2.5m-2.5 4h2.5m-2.5-1h2.5m-1.5-2h2.5m-2.5 3h2.5m0.5-3h2.5m-2.5 4h2.5m-1.5-3h2.5m-2.5 2h2.5m-1.5-1h2.5m-1.5 0h2.5m-1.5-3h2.5m-2.5 5h2.5m-1.5-3h2.5m-2.5 3h2.5m-1.5-5h2.5m-1.5 2h2.5m-1.5 1h2.5m-1.5 0h2.5m-1.5 0h2.5m-2.5-1h2.5m-1.5 1h2.5m-2.5 2h2.5m-2.5-5h2.5m-1.5 2h2.5m-2.5-1h2.5m-2.5 2h2.5m-1.5 2h2.5m-2.5-5h2.5m-2.5 2h2.5m-1.5-2h2.5m-1.5 3h2.5m-1.5 1h2.5m-2.5 1h2.5m-2.5-5h2.5m-1.5 2h2.5m-2.5 3h2.5m-1.5-5h2.5m-2.5 4h2.5m-1.5-2h2.5m-2.5-1h2.5m-2.5 3h2.5m-2.5-1h2.5m-2.5-3h2.5m-1.5 2h2.5m-1.5 1h2.5m-2.5-2h2.5m-1.5 0h2.5m-1.5 0h2.5m-1.5-1h2.5m-2.5 4h2.5m-1.5 0h2.5m-2.5-3h2.5m-1.5 0h2.5m-2.5 2h2.5m-1.5-1h2.5m-2.5 2h2.5m-1.5-4h2.5m-2.5 2h2.5m-2.5-1h2.5m-1.5 1h2.5m-1.5 2h2.5m-2.5 1h2.5m-2.5-5h2.5m-1.5 0h2.5m-2.5 2h2.5m-1.5-1h2.5m-2.5-1h2.5m-1.5 1h2.5m-2.5 2h2.5m-2.5 2h2.5m-1.5-1h2.5m-2.5 1h2.5m-1.5-1h2.5m-2.5 1h2.5m-2.5-4h2.5m-2.5-1h2.5m-1.5 0h2.5m-2.5 2h2.5m-2.5 1h2.5m-2.5-2h2.5m-0.5 2h2.5m-2.5 1h2.5m-1.5-1h2.5m-1.5 0h2.5m-2.5 2h2.5m-1.5-2h2.5m-1.5 1h2.5m-1.5 1h2.5m-2.5-4h2.5m-2.5-1h2.5m-2.5 2h2.5m-1.5 2h2.5m-2.5-3h2.5m-2.5 2h2.5m-2.5-1h2.5m-1.5 1h2.5m-1.5-2h2.5m-2.5-1h2.5m-2.5 2h2.5m-1.5-2h2.5m-2.5 5h2.5m-1.5-4h2.5m-2.5 3h2.5m-1.5-3h2.5m-2.5-1h2.5m-1.5 4h2.5m-1.5-4h2.5m-1.5 0h2.5m-2.5 2h2.5m-2.5 3h2.5m-2.5-4h2.5m-1.5-1h2.5m-2.5 2h2.5m-2.5 2h2.5m-2.5 1h2.5m-1.5-4h2.5m-2.5 2h2.5m-1.5 1h2.5m-2.5 1h2.5m-2.5-4h2.5m-1.5 0h2.5m-2.5-1h2.5m-1.5 4h2.5m-2.5 1h2.5m-2.5-4h2.5m-2.5-1h2.5m-1.5 4h2.5m-2.5 1h2.5m-2.5-4h2.5m-2.5-1h2.5m-1.5 5h2.5m-2.5-2h2.5m-1.5-3h2.5m-1.5 1h2.5m-2.5 2h2.5m-2.5 2h2.5m-1.5-5h2.5m-2.5 4h2.5m-1.5-1h2.5m-2.5 2h2.5m-1.5-5h2.5m-2.5 3h2.5m-1.5-3h2.5m-2.5 3h2.5m-2.5-1h2.5m-2.5 2h2.5m-1.5-4h2.5m-2.5 4h2.5m-2.5 1h2.5m-1.5-5h2.5m-2.5 5h2.5m-2.5-1h2.5m-1.5-4h2.5m-2.5 3h2.5m-2.5-1h2.5m-2.5 3h2.5m-2.5-1h2.5m-1.5-2h2.5m-1.5 1h2.5m-1.5-1h2.5m-2.5 2h2.5m-1.5-3h2.5m-2.5-1h2.5m-2.5 4h2.5m-1.5-4h2.5m-2.5 2h2.5m-1.5 2h2.5m-2.5-4h2.5m-2.5 3h2.5m-1.5-2h2.5m-2.5 2h2.5m-2.5 2h2.5m-2.5-5h2.5m-1.5 0h2.5m-2.5 3h2.5m-1.5 1h2.5m-2.5-1h2.5m-2.5 2h2.5m-1.5-3h2.5m-2.5 3h2.5m-1.5-4h2.5m-2.5 2h2.5m-1.5-2h2.5m-2.5-1h2.5m-2.5 3h2.5m-2.5 1h2.5m-1.5-3h2.5m-2.5-1h2.5m-2.5 3h2.5m-2.5-1h2.5m-2.5 2h2.5m-2.5 1h2.5m-1.5-5h2.5m-2.5 3h2.5m-2.5-1h2.5m-2.5 3h2.5m-2.5-1h2.5m-1.5-4h2.5m-2.5 3h2.5m-2.5 2h2.5m-1.5-4h2.5m-2.5-1h2.5m-2.5 5h2.5m-2.5-1h2.5m-1.5-1h2.5m-2.5-1h2.5m-1.5 1h2.5m-2.5 1h2.5m-2.5 1h2.5m-1.5-3h2.5m-2.5 2h2.5m-1.5-4h2.5m-2.5 3h2.5m-2.5-1h2.5m-1.5-1h2.5m-2.5 2h2.5m-2.5-1h2.5m-2.5 2h2.5m-1.5 0h2.5m-2.5 1h2.5m-1.5-1h2.5m-2.5-3h2.5m-2.5-1h2.5m-2.5 3h2.5m-1.5-3h2.5m-2.5 5h2.5m-1.5-1h2.5m-2.5-3h2.5m-2.5 2h2.5m-2.5 2h2.5m-1.5-3h2.5m-2.5 3h2.5m-2.5-2h2.5m-1.5-3h2.5m-2.5 3h2.5m-2.5 2h2.5m-1.5-1h2.5m-2.5-1h2.5m-2.5-1h2.5m-1.5-2h2.5m-2.5 2h2.5m-0.5-2h2.5m-2.5 3h2.5m-2.5 2h2.5m-1.5-5h2.5m-2.5 1h2.5m-2.5 2h2.5m-2.5-1h2.5m-1.5-1h2.5m-2.5 1h2.5m-2.5 2h2.5m-1.5-3h2.5m-2.5 2h2.5m-2.5 1h2.5m-2.5 1h2.5m-1.5-4h2.5m-2.5 1h2.5m-2.5 2h2.5m-1.5-1h2.5m-2.5-1h2.5m-1.5 2h2.5m-1.5-3h2.5m-1.5 3h2.5m-2.5 1h2.5m-2.5-4h2.5m-2.5-1h2.5m-1.5 2h2.5m-2.5 2h2.5m-2.5-3h2.5m-2.5 2h2.5m-1.5 1h2.5m-2.5-3h2.5m-2.5 2h2.5m-2.5-1h2.5m-2.5 3h2.5m-1.5 0h2.5m-2.5-4h2.5m-1.5-1h2.5m-1.5 0h2.5m-1.5 5h2.5m-2.5-3h2.5m-2.5 1h2.5m-1.5-2h2.5m-1.5 0h2.5m-2.5 1h2.5m-1.5-2h2.5m-2.5 3h2.5m-2.5-1h2.5m-2.5 3h2.5m-1.5-5h2.5m-2.5 1h2.5m-2.5 2h2.5m-2.5 1h2.5m-1.5-4h2.5m-2.5 3h2.5m-1.5-2h2.5m-2.5-1h2.5m-2.5 3h2.5m-2.5-1h2.5m-2.5 3h2.5m-1.5-5h2.5m-1.5 1h2.5m-2.5 1h2.5m-2.5 2h2.5m-2.5-4h2.5m-1.5 1h2.5m-2.5 3h2.5m-2.5-4h2.5m-1.5 0h2.5m-1.5 2h2.5m-2.5 3h2.5m-2.5-1h2.5m-2.5-1h2.5m-1.5 0h2.5m-2.5-1h2.5m-1.5 1h2.5m-1.5 2h2.5m-1.5-4h2.5m-0.5 4h2.5m-1.5-2h2.5m-0.5-3h2.5m-157.5 11h2.5m-1.5-1h2.5m0.5-2h2.5m-1.5 3h2.5m-1.5-4h2.5m-1.5 3h2.5m-1.5-3h2.5m-2.5-1h2.5m-1.5 5h2.5m-0.5-1h2.5m-1.5-2h2.5m-2.5 2h2.5m-1.5-4h2.5m-2.5 5h2.5m-1.5-5h2.5m-2.5 2h2.5m-1.5 3h2.5m-1.5-1h2.5m-1.5-4h2.5m-2.5 3h2.5m-0.5-1h2.5m-2.5 1h2.5m-1.5 0h2.5m-2.5-1h2.5m-1.5 3h2.5m-1.5-4h2.5m-1.5 4h2.5m-2.5-1h2.5m-2.5-2h2.5m-1.5 1h2.5m-2.5 1h2.5m-1.5-3h2.5m-2.5 2h2.5m-2.5-1h2.5m-2.5 3h2.5m-1.5-5h2.5m-2.5 2h2.5m-2.5-1h2.5m-1.5 0h2.5m-2.5 2h2.5m-2.5 1h2.5m-1.5 0h2.5m-2.5-4h2.5m-2.5 1h2.5m-1.5 0h2.5m-2.5 1h2.5m-2.5 2h2.5m-1.5-4h2.5m-2.5 3h2.5m-1.5-1h2.5m-1.5-1h2.5m-1.5 0h2.5m-2.5 2h2.5m-2.5 1h2.5m-1.5-4h2.5m-2.5 3h2.5m-2.5 2h2.5m-2.5-1h2.5m-2.5-3h2.5m-1.5-1h2.5m-2.5 5h2.5m-0.5-4h2.5m-2.5 1h2.5m-2.5-2h2.5m-1.5 1h2.5m-2.5 4h2.5m-1.5 0h2.5m-2.5-1h2.5m-2.5-4h2.5m-2.5 2h2.5m-2.5-1h2.5m-1.5 4h2.5m-1.5-5h2.5m-2.5 3h2.5m-1.5-3h2.5m-2.5 1h2.5m-1.5-1h2.5m-2.5 2h2.5m-2.5 2h2.5m-0.5-3h2.5m-2.5 2h2.5m-1.5-2h2.5m-2.5 1h2.5m-2.5 3h2.5m-2.5-1h2.5m-1.5-3h2.5m-2.5 2h2.5m-1.5-2h2.5m-2.5 3h2.5m-1.5-3h2.5m-2.5 2h2.5m-2.5 1h2.5m-1.5-1h2.5m-1.5-1h2.5m-2.5-1h2.5m-2.5 3h2.5m-1.5-2h2.5m-2.5-1h2.5m-2.5 3h2.5m-1.5-2h2.5m-2.5-1h2.5m-1.5 3h2.5m-1.5 0h2.5m-2.5-3h2.5m-1.5 4h2.5m-2.5-4h2.5m-1.5 1h2.5m-2.5 3h2.5m-1.5-5h2.5m-2.5 1h2.5m-1.5 4h2.5m-2.5-4h2.5m-2.5 2h2.5m-1.5-1h2.5m-2.5-1h2.5m-2.5 2h2.5m-1.5 1h2.5m-2.5 1h2.5m-1.5-4h2.5m-2.5 2h2.5m-2.5-1h2.5m-2.5 2h2.5m-1.5-4h2.5m-2.5 2h2.5m-2.5 1h2.5m-2.5 1h2.5m-1.5-2h2.5m-2.5-1h2.5m-1.5-1h2.5m-2.5 2h2.5m-2.5 3h2.5m-1.5-5h2.5m-2.5 1h2.5m-2.5 4h2.5m-2.5-1h2.5m-1.5-1h2.5m-2.5 1h2.5m-2.5-4h2.5m-1.5 0h2.5m-2.5 2h2.5m-2.5-1h2.5m-1.5 4h2.5m-2.5-5h2.5m-1.5 4h2.5m-2.5-2h2.5m-1.5-1h2.5m-2.5 3h2.5m-1.5 1h2.5m-2.5-5h2.5m-2.5 4h2.5m-1.5-4h2.5m-1.5 4h2.5m-2.5-4h2.5m-2.5 5h2.5m-1.5 0h2.5m-2.5-1h2.5m-1.5-4h2.5m-2.5 1h2.5m-2.5 3h2.5m-1.5-4h2.5m-2.5 4h2.5m-2.5-1h2.5m-2.5 2h2.5m-1.5-1h2.5m-1.5-1h2.5m-1.5 2h2.5m-2.5-1h2.5m-1.5-2h2.5m-2.5 3h2.5m-1.5-5h2.5m-2.5 5h2.5m-1.5-2h2.5m-2.5 2h2.5m-1.5-2h2.5m-2.5 2h2.5m-2.5-1h2.5m-1.5 0h2.5m-1.5 1h2.5m-2.5-1h2.5m-2.5-4h2.5m-1.5 4h2.5m-2.5-1h2.5m-2.5-3h2.5m-1.5 4h2.5m-2.5-4h2.5m-2.5 3h2.5m-2.5-1h2.5m-1.5 1h2.5m-2.5-1h2.5m-1.5 0h2.5m-2.5 3h2.5m-2.5-5h2.5m-1.5 0h2.5m-2.5 2h2.5m-1.5-2h2.5m-1.5 0h2.5m-2.5 3h2.5m-2.5 2h2.5m-1.5 0h2.5m-2.5-4h2.5m-1.5 4h2.5m-1.5-5h2.5m-2.5 1h2.5m-2.5 2h2.5m-1.5 2h2.5m-2.5-4h2.5m-2.5-1h2.5m-2.5 2h2.5m-1.5-2h2.5m-2.5 2h2.5m-2.5 2h2.5m-1.5-2h2.5m-2.5-1h2.5m-2.5 3h2.5m-1.5 0h2.5m-2.5-2h2.5m-1.5-2h2.5m-2.5 4h2.5m-2.5-1h2.5m-1.5 0h2.5m-2.5-3h2.5m-2.5 2h2.5m-2.5-1h2.5m-1.5 1h2.5m-1.5 0h2.5m-2.5 2h2.5m-2.5-1h2.5m-1.5 2h2.5m-2.5-5h2.5m-2.5 2h2.5m-2.5-1h2.5m-2.5 2h2.5m-1.5 1h2.5m-2.5-1h2.5m-2.5 2h2.5m-2.5-5h2.5m-1.5 0h2.5m-2.5 2h2.5m-1.5 3h2.5m-2.5-4h2.5m-1.5 3h2.5m-1.5-2h2.5m-2.5-1h2.5m-1.5 4h2.5m-2.5-4h2.5m-2.5 3h2.5m-1.5-2h2.5m-2.5 2h2.5m-2.5 1h2.5m-1.5-3h2.5m-2.5-1h2.5m-2.5 3h2.5m-1.5-3h2.5m-2.5 3h2.5m-2.5 1h2.5m-0.5-5h2.5m-2.5 2h2.5m-1.5 2h2.5m-2.5-1h2.5m-1.5-2h2.5m-1.5 2h2.5m-2.5 2h2.5m-2.5-5h2.5m-2.5 2h2.5m-1.5 2h2.5m-2.5 1h2.5m-1.5-4h2.5m-2.5 4h2.5m-1.5-1h2.5m-2.5-4h2.5m-2.5 2h2.5m-1.5 0h2.5m-2.5 2h2.5m-2.5-1h2.5m-2.5-3h2.5m-1.5 1h2.5m-1.5 4h2.5m-2.5-5h2.5m-2.5 1h2.5m-1.5 0h2.5m-2.5 3h2.5m-1.5 1h2.5m-2.5-5h2.5m-2.5 4h2.5m-2.5-1h2.5m-1.5 1h2.5m-1.5-4h2.5m-2.5 1h2.5m-1.5-1h2.5m-2.5 2h2.5m-2.5-1h2.5m-2.5 3h2.5m-1.5-4h2.5m-2.5 2h2.5m-2.5-1h2.5m-2.5 4h2.5m-1.5-3h2.5m-2.5 2h2.5m-1.5 0h2.5m-2.5-4h2.5m-2.5 2h2.5m-1.5 0h2.5m-2.5-1h2.5m-1.5 4h2.5m-1.5-4h2.5m-2.5 4h2.5m-1.5-3h2.5m-2.5-1h2.5m-1.5 4h2.5m-2.5-1h2.5m-1.5 0h2.5m-0.5-4h2.5m-2.5 1h2.5m-1.5 2h2.5m-2.5-1h2.5m-0.5-1h2.5m-2.5-1h2.5m1.5 0h2.5m-149.5 9h2.5m-2.5-2h2.5m-0.5 3h2.5m-0.5 1h2.5m-1.5-5h2.5m-2.5 5h2.5m0.5-3h2.5m-1.5 2h2.5m-2.5-1h2.5m-0.5 2h2.5m-0.5-1h2.5m-0.5-4h2.5m-1.5 2h2.5m-1.5-1h2.5m-2.5 1h2.5m-1.5 2h2.5m-2.5 1h2.5m-1.5-5h2.5m-2.5 4h2.5m-2.5-1h2.5m-2.5 2h2.5m-1.5-4h2.5m-2.5 1h2.5m-2.5 2h2.5m-1.5-3h2.5m-2.5 1h2.5m-1.5 0h2.5m-2.5 3h2.5m-1.5-3h2.5m-2.5-1h2.5m-2.5 3h2.5m-1.5-3h2.5m-1.5 2h2.5m-2.5 2h2.5m-1.5-4h2.5m-1.5 1h2.5m-2.5 2h2.5m-2.5 1h2.5m-1.5-1h2.5m-2.5 1h2.5m-1.5-2h2.5m-2.5-2h2.5m-1.5 2h2.5m-2.5 2h2.5m-2.5-3h2.5m-2.5 2h2.5m-1.5 0h2.5m-2.5 1h2.5m-2.5-4h2.5m-2.5 1h2.5m-1.5 2h2.5m-2.5-3h2.5m-2.5-1h2.5m-1.5 2h2.5m-2.5-1h2.5m-2.5 3h2.5m-2.5-1h2.5m-1.5 1h2.5m-2.5-3h2.5m-1.5 0h2.5m-2.5 1h2.5m-2.5 3h2.5m-1.5-3h2.5m-1.5 0h2.5m-1.5 3h2.5m-1.5-2h2.5m-1.5-2h2.5m-2.5-1h2.5m-2.5 4h2.5m-1.5-3h2.5m-2.5-1h2.5m-2.5 4h2.5m-2.5 1h2.5m-1.5-3h2.5m-2.5 2h2.5m-2.5-1h2.5m-1.5-2h2.5m-2.5 1h2.5m-1.5-1h2.5m-2.5-1h2.5m-2.5 4h2.5m-1.5 0h2.5m-2.5-1h2.5m-2.5 2h2.5m-2.5-3h2.5m-1.5 2h2.5m-1.5 0h2.5m-2.5-3h2.5m-2.5 1h2.5m-1.5 1h2.5m-1.5-3h2.5m-2.5 4h2.5m-2.5-1h2.5m-1.5 0h2.5m-2.5-1h2.5m-1.5 3h2.5m-1.5-2h2.5m-2.5 2h2.5m-1.5-5h2.5m-2.5 2h2.5m-2.5 2h2.5m-1.5-3h2.5m-2.5 1h2.5m-2.5 2h2.5m-2.5 1h2.5m-1.5-4h2.5m-2.5 3h2.5m-2.5 1h2.5m-1.5-5h2.5m-2.5 4h2.5m-2.5 1h2.5m-2.5-4h2.5m-1.5 1h2.5m-2.5 2h2.5m-2.5 1h2.5m-1.5-4h2.5m-2.5-1h2.5m-2.5 3h2.5m-2.5-1h2.5m-2.5 2h2.5m-1.5-4h2.5m-2.5 2h2.5m-2.5 2h2.5m-2.5 1h2.5m-1.5 0h2.5m-1.5-2h2.5m-2.5 2h2.5m-2.5-4h2.5m-1.5 1h2.5m-2.5 2h2.5m-2.5-4h2.5m-1.5 1h2.5m-2.5 1h2.5m-2.5 3h2.5m-1.5 0h2.5m-1.5-3h2.5m-2.5-2h2.5m-1.5 1h2.5m-2.5-1h2.5m-2.5 2h2.5m-2.5 2h2.5m-2.5-1h2.5m-2.5 2h2.5m-1.5-1h2.5m-2.5 1h2.5m-1.5 0h2.5m-1.5 0h2.5m-2.5-5h2.5m-2.5 3h2.5m-1.5-3h2.5m-2.5 2h2.5m-1.5 3h2.5m-1.5-4h2.5m-2.5 1h2.5m-2.5 3h2.5m-2.5-1h2.5m-1.5-3h2.5m-2.5 4h2.5m-1.5-2h2.5m-2.5-1h2.5m-2.5 2h2.5m-2.5 1h2.5m-1.5-5h2.5m-2.5 3h2.5m-1.5-3h2.5m-2.5 2h2.5m-2.5 3h2.5m-1.5 0h2.5m-1.5 0h2.5m-2.5-5h2.5m-2.5 3h2.5m-2.5-1h2.5m-1.5 2h2.5m-1.5 0h2.5m-2.5 1h2.5m-2.5-5h2.5m-1.5 4h2.5m-2.5 1h2.5m-1.5-4h2.5m-2.5-1h2.5m-1.5 5h2.5m-2.5-3h2.5m-2.5 1h2.5m-1.5 2h2.5m-1.5-5h2.5m-1.5 1h2.5m-2.5-1h2.5m-1.5 2h2.5m-2.5 2h2.5m-2.5 1h2.5m-1.5-5h2.5m-2.5 2h2.5m-1.5-2h2.5m-2.5 4h2.5m-1.5-3h2.5m-2.5 2h2.5m-2.5-1h2.5m-2.5 2h2.5m-1.5-3h2.5m-2.5-1h2.5m-2.5 3h2.5m-2.5 1h2.5m-2.5 1h2.5m-1.5-4h2.5m-2.5 1h2.5m-2.5 3h2.5m-1.5-3h2.5m-1.5 3h2.5m-2.5-5h2.5m-2.5 2h2.5m-1.5 3h2.5m-2.5-4h2.5m-1.5 2h2.5m-2.5 1h2.5m-0.5 1h2.5m-2.5-4h2.5m-1.5 4h2.5m-2.5-5h2.5m-2.5 3h2.5m-1.5 1h2.5m-2.5-4h2.5m-2.5 1h2.5m-2.5 1h2.5m-1.5 3h2.5m-1.5-1h2.5m-1.5-3h2.5m-2.5-1h2.5m-2.5 5h2.5m-2.5-1h2.5m-1.5-1h2.5m-2.5 2h2.5m-1.5-5h2.5m-1.5 0h2.5m-1.5 0h2.5m-2.5 2h2.5m-2.5 3h2.5m-1.5-5h2.5m-2.5 3h2.5m-2.5 1h2.5m-1.5-1h2.5m-2.5-1h2.5m-1.5 2h2.5m-2.5-4h2.5m-1.5 2h2.5m-2.5-1h2.5m-2.5 2h2.5m-1.5-1h2.5m-2.5 3h2.5m-2.5-5h2.5m-1.5 4h2.5m-2.5-4h2.5m-2.5 2h2.5m-1.5 0h2.5m-2.5 2h2.5m-2.5-1h2.5m-1.5 0h2.5m-2.5 2h2.5m-2.5-1h2.5m-1.5 1h2.5m-2.5-4h2.5m-1.5 4h2.5m-2.5-4h2.5m-2.5 2h2.5m-1.5 2h2.5m-1.5-5h2.5m-2.5 1h2.5m-2.5 4h2.5m-2.5-1h2.5m-1.5-3h2.5m-2.5 1h2.5m-2.5 2h2.5m-1.5-3h2.5m-2.5 1h2.5m-2.5 3h2.5m-1.5-5h2.5m-2.5 3h2.5m-2.5-1h2.5m-1.5 1h2.5m-2.5 2h2.5m-2.5-1h2.5m-1.5-2h2.5m-2.5 2h2.5m-1.5-3h2.5m-2.5 3h2.5m-2.5-4h2.5m-1.5 2h2.5m-1.5-1h2.5m-2.5-1h2.5m-1.5 0h2.5m-1.5 3h2.5m-2.5 2h2.5m-1.5-4h2.5m-2.5 2h2.5m-1.5-1h2.5m-2.5 2h2.5m-1.5-3h2.5m-2.5 2h2.5m-1.5-3h2.5m-1.5 5h2.5m-1.5-4h2.5m-1.5 1h2.5m-1.5 1h2.5m-1.5-1h2.5m-166.5 6h2.5m16.5-1h2.5m0.5 2h2.5m0.5 1h2.5m-0.5 0h2.5m-0.5 1h2.5m-2.5-1h2.5m-1.5-1h2.5m-2.5-2h2.5m-1.5 0h2.5m-1.5 1h2.5m-1.5-1h2.5m-1.5 3h2.5m-1.5 1h2.5m-1.5-2h2.5m-1.5-3h2.5m-2.5 5h2.5m-1.5-3h2.5m-2.5 2h2.5m-1.5 1h2.5m-1.5-5h2.5m-0.5 4h2.5m-1.5 1h2.5m-2.5-1h2.5m-1.5-3h2.5m-1.5 0h2.5m-2.5 2h2.5m-2.5-1h2.5m-2.5-2h2.5m-1.5 2h2.5m-2.5 1h2.5m-1.5 0h2.5m-2.5 2h2.5m-1.5-5h2.5m-1.5 4h2.5m-2.5-4h2.5m-1.5 5h2.5m-2.5-1h2.5m-1.5-3h2.5m-2.5-1h2.5m-1.5 4h2.5m-2.5-1h2.5m-2.5 2h2.5m-1.5-5h2.5m-2.5 2h2.5m-1.5-1h2.5m-2.5 3h2.5m-1.5-2h2.5m-2.5 2h2.5m-2.5 1h2.5m-1.5-5h2.5m-2.5 3h2.5m-2.5 2h2.5m-2.5-1h2.5m-1.5 0h2.5m-1.5-2h2.5m-2.5-1h2.5m-2.5 4h2.5m-1.5 0h2.5m-0.5-2h2.5m-1.5 0h2.5m-2.5 2h2.5m-2.5-5h2.5m-1.5 0h2.5m-2.5 3h2.5m-1.5-3h2.5m-1.5 1h2.5m-2.5 3h2.5m-2.5 1h2.5m-1.5-4h2.5m-2.5 4h2.5m-1.5-1h2.5m-2.5-2h2.5m-1.5 2h2.5m-2.5-4h2.5m-2.5 5h2.5m-1.5 0h2.5m-2.5-5h2.5m-2.5 1h2.5m-1.5 4h2.5m-2.5-1h2.5m-2.5-1h2.5m-1.5-3h2.5m-2.5 1h2.5m-2.5 2h2.5m-2.5 2h2.5m-1.5-5h2.5m-2.5 2h2.5m-2.5 2h2.5m-2.5-1h2.5m-1.5-3h2.5m-2.5 1h2.5m-2.5 4h2.5m-1.5-3h2.5m-2.5 1h2.5m-2.5 2h2.5m-2.5-1h2.5m-1.5-3h2.5m-2.5 2h2.5m-2.5 2h2.5m-1.5-2h2.5m-1.5 0h2.5m-2.5 2h2.5m-1.5 0h2.5m-2.5-1h2.5m-2.5-2h2.5m-1.5 0h2.5m-1.5 1h2.5m-2.5 2h2.5m-2.5-5h2.5m-1.5 2h2.5m-2.5 2h2.5m-2.5-1h2.5m-2.5-3h2.5m-1.5 4h2.5m-2.5-3h2.5m-2.5 2h2.5m-1.5 1h2.5m-2.5-3h2.5m-1.5 2h2.5m-2.5 2h2.5m-2.5-5h2.5m-2.5 2h2.5m-2.5-1h2.5m-1.5 1h2.5m-2.5-1h2.5m-2.5 3h2.5m-2.5-1h2.5m-1.5 2h2.5m-2.5-3h2.5m-2.5 2h2.5m-2.5-1h2.5m-1.5-2h2.5m-2.5 2h2.5m-1.5 0h2.5m-1.5 0h2.5m-1.5-2h2.5m-2.5 2h2.5m-1.5-3h2.5m-2.5 1h2.5m-2.5 3h2.5m-2.5-1h2.5m-1.5 2h2.5m-1.5-5h2.5m-2.5 1h2.5m-2.5 4h2.5m-1.5-4h2.5m-2.5 4h2.5m-2.5-5h2.5m-1.5 2h2.5m-2.5 1h2.5m-2.5-3h2.5m-1.5 4h2.5m-2.5-1h2.5m-2.5 2h2.5m-1.5-2h2.5m-1.5-2h2.5m-2.5 2h2.5m-2.5-3h2.5m-1.5 0h2.5m-2.5 2h2.5m-2.5-1h2.5m-1.5-1h2.5m-2.5 1h2.5m-2.5 3h2.5m-1.5-2h2.5m-2.5 2h2.5m-1.5-2h2.5m-2.5 2h2.5m-1.5-1h2.5m-2.5-1h2.5m-2.5 2h2.5m-1.5-4h2.5m-1.5 4h2.5m-2.5 1h2.5m-1.5-5h2.5m-2.5 4h2.5m-2.5-1h2.5m-1.5-1h2.5m-2.5 3h2.5m-1.5-4h2.5m-2.5 2h2.5m-1.5-1h2.5m-2.5-1h2.5m-2.5 4h2.5m-2.5-1h2.5m-1.5-4h2.5m-2.5 2h2.5m-2.5-1h2.5m-2.5 2h2.5m-1.5-2h2.5m-1.5 1h2.5m-2.5 3h2.5m-1.5 0h2.5m-2.5-1h2.5m-2.5-4h2.5m-2.5 1h2.5m-1.5 1h2.5m-2.5-1h2.5m-2.5 3h2.5m-2.5-1h2.5m-2.5-3h2.5m-1.5 4h2.5m-1.5-4h2.5m-2.5 2h2.5m-2.5 2h2.5m-2.5-1h2.5m-1.5 0h2.5m-2.5-1h2.5m-1.5-2h2.5m-1.5 0h2.5m-2.5 3h2.5m-1.5-1h2.5m-2.5-1h2.5m-2.5 4h2.5m-2.5-1h2.5m-1.5-4h2.5m-2.5 3h2.5m-1.5-2h2.5m-2.5 3h2.5m-1.5-4h2.5m-2.5 4h2.5m-1.5-2h2.5m-2.5-1h2.5m-1.5 4h2.5m-2.5-5h2.5m-1.5 2h2.5m-2.5 2h2.5m-2.5-1h2.5m-1.5 1h2.5m-2.5-1h2.5m-2.5 2h2.5m-2.5-5h2.5m-1.5 4h2.5m-2.5-1h2.5m-2.5 2h2.5m-2.5-5h2.5m-1.5 5h2.5m-1.5-1h2.5m-2.5-3h2.5m-1.5 1h2.5m-2.5 2h2.5m-2.5-1h2.5m-2.5-2h2.5m-0.5 2h2.5m-2.5-1h2.5m-2.5 2h2.5m-1.5 0h2.5m-2.5 1h2.5m-2.5-5h2.5m-2.5 2h2.5m-1.5-2h2.5m-1.5 0h2.5m-2.5 4h2.5m-1.5-2h2.5m-2.5-1h2.5m-2.5 3h2.5m-2.5-1h2.5m-1.5-3h2.5m-2.5 1h2.5m-2.5 2h2.5m-2.5 2h2.5m-1.5-1h2.5m-2.5 1h2.5m-1.5-4h2.5m-1.5 0h2.5m-2.5-1h2.5m-2.5 4h2.5m-2.5 1h2.5m-1.5-3h2.5m-2.5-1h2.5m-1.5 0h2.5m-2.5-1h2.5m-2.5 5h2.5m-0.5-5h2.5m-2.5 1h2.5m-2.5 3h2.5m-2.5 1h2.5m-1.5 0h2.5m-2.5-3h2.5m-2.5-1h2.5m-2.5 3h2.5m-2.5-1h2.5m-1.5-1h2.5m-2.5-1h2.5m-1.5-1h2.5m-1.5 1h2.5m-1.5-1h2.5m-2.5 4h2.5m0.5-2h2.5m-2.5 2h2.5m-2.5 1h2.5m-1.5-5h2.5m-2.5 3h2.5m-1.5 2h2.5m-0.5-5h2.5m-1.5 4h2.5m-0.5-4h2.5m-2.5 4h2.5m0.5-1h2.5m-1.5 1h2.5m-159.5 7h2.5m9.5-2h2.5m-2.5 2h2.5m-1.5-1h2.5m-0.5-4h2.5m2.5 4h2.5m-1.5-4h2.5m-2.5 1h2.5m-1.5-1h2.5m-1.5 1h2.5m-2.5 2h2.5m-1.5-1h2.5m-2.5 1h2.5m-1.5 2h2.5m-1.5-3h2.5m-1.5 0h2.5m-2.5 3h2.5m-1.5-5h2.5m-1.5 5h2.5m-1.5-4h2.5m-2.5 2h2.5m-2.5 2h2.5m-1.5 0h2.5m-0.5 0h2.5m-0.5 0h2.5m-1.5-5h2.5m-2.5 2h2.5m-1.5 2h2.5m-1.5-3h2.5m-2.5 1h2.5m-2.5 1h2.5m-1.5 2h2.5m-2.5-5h2.5m-1.5 0h2.5m-2.5 4h2.5m-2.5 1h2.5m-1.5-5h2.5m-2.5 3h2.5m-1.5-1h2.5m-2.5 2h2.5m-1.5-3h2.5m-2.5-1h2.5m-2.5 2h2.5m-2.5 1h2.5m-2.5 2h2.5m-1.5-4h2.5m-2.5 1h2.5m-2.5 3h2.5m-1.5-5h2.5m-1.5 3h2.5m-2.5-1h2.5m-1.5-2h2.5m-1.5 0h2.5m-2.5 4h2.5m-1.5-3h2.5m-2.5-1h2.5m-1.5 1h2.5m-2.5-1h2.5m-1.5 3h2.5m-1.5-3h2.5m-2.5 2h2.5m-2.5 2h2.5m-1.5-1h2.5m-1.5 1h2.5m-1.5-1h2.5m-2.5-1h2.5m-2.5 2h2.5m-1.5-1h2.5m-2.5 2h2.5m-1.5 0h2.5m-2.5-4h2.5m-2.5 3h2.5m-1.5 1h2.5m-2.5-2h2.5m-1.5-3h2.5m-2.5 2h2.5m-1.5 2h2.5m-2.5-1h2.5m-2.5 2h2.5m-1.5-4h2.5m-2.5-1h2.5m-2.5 3h2.5m-2.5 1h2.5m-1.5-1h2.5m-1.5 0h2.5m-1.5 1h2.5m-2.5-1h2.5m-2.5-2h2.5m-2.5-1h2.5m-1.5 2h2.5m-2.5 2h2.5m-1.5 0h2.5m-2.5 1h2.5m-2.5-5h2.5m-2.5 3h2.5m-1.5 1h2.5m-2.5 1h2.5m-2.5-5h2.5m-2.5 3h2.5m-1.5 1h2.5m-2.5-1h2.5m-1.5-1h2.5m-2.5 3h2.5m-2.5-1h2.5m-2.5-3h2.5m-1.5 4h2.5m-2.5-4h2.5m-1.5 2h2.5m-1.5 0h2.5m-2.5 1h2.5m-1.5-3h2.5m-2.5-1h2.5m-2.5 2h2.5m-2.5 2h2.5m-1.5-4h2.5m-2.5 3h2.5m-1.5-1h2.5m-1.5-1h2.5m-2.5-1h2.5m-1.5 3h2.5m-2.5 2h2.5m-1.5-5h2.5m-2.5 3h2.5m-2.5-1h2.5m-2.5 2h2.5m-2.5 1h2.5m-1.5-4h2.5m-2.5-1h2.5m-2.5 3h2.5m-2.5 2h2.5m-2.5-1h2.5m-1.5-2h2.5m-2.5 1h2.5m-2.5-3h2.5m-1.5 4h2.5m-2.5-4h2.5m-1.5 3h2.5m-1.5-1h2.5m-2.5 1h2.5m-2.5 1h2.5m-2.5-3h2.5m-2.5-1h2.5m-1.5 3h2.5m-2.5 1h2.5m-2.5-3h2.5m-1.5 0h2.5m-1.5-1h2.5m-2.5 3h2.5m-1.5 2h2.5m-2.5-4h2.5m-2.5-1h2.5m-2.5 3h2.5m-2.5 1h2.5m-1.5 1h2.5m-2.5-2h2.5m-2.5 1h2.5m-1.5-4h2.5m-2.5 5h2.5m-1.5-5h2.5m-2.5 5h2.5m-1.5-4h2.5m-2.5 2h2.5m-2.5 1h2.5m-1.5-2h2.5m-1.5-2h2.5m-2.5 3h2.5m-2.5 1h2.5m-1.5-3h2.5m-2.5-1h2.5m-2.5 3h2.5m-2.5-1h2.5m-2.5 3h2.5m-2.5-1h2.5m-1.5-4h2.5m-2.5 3h2.5m-2.5-1h2.5m-2.5 3h2.5m-1.5-4h2.5m-2.5-1h2.5m-2.5 3h2.5m-2.5-1h2.5m-1.5 0h2.5m-2.5-2h2.5m-2.5 3h2.5m-1.5 1h2.5m-2.5-3h2.5m-1.5 4h2.5m-2.5-5h2.5m-1.5 3h2.5m-1.5 2h2.5m-2.5-5h2.5m-2.5 2h2.5m-1.5 2h2.5m-1.5-1h2.5m-2.5 2h2.5m-2.5-4h2.5m-1.5 0h2.5m-2.5 1h2.5m-2.5 2h2.5m-1.5-1h2.5m-2.5 1h2.5m-1.5-1h2.5m-2.5 1h2.5m-1.5-4h2.5m-1.5 0h2.5m-1.5 1h2.5m-2.5-1h2.5m-2.5 3h2.5m-1.5-2h2.5m-2.5 1h2.5m-2.5 2h2.5m-1.5-3h2.5m-2.5-1h2.5m-2.5 2h2.5m-1.5-1h2.5m-2.5 2h2.5m-2.5-1h2.5m-2.5 3h2.5m-2.5-1h2.5m-1.5-2h2.5m-2.5 2h2.5m-2.5-3h2.5m-1.5 1h2.5m-1.5-1h2.5m-2.5 4h2.5m-1.5-5h2.5m-2.5 3h2.5m-1.5-1h2.5m-2.5 2h2.5m-1.5-2h2.5m-1.5 3h2.5m-2.5-4h2.5m-1.5-1h2.5m-2.5 2h2.5m-2.5 2h2.5m-1.5-3h2.5m-2.5 2h2.5m-2.5-1h2.5m-1.5-2h2.5m-2.5 3h2.5m-1.5-3h2.5m-2.5 3h2.5m-2.5-1h2.5m-2.5 2h2.5m-1.5-4h2.5m-2.5 1h2.5m-2.5 2h2.5m-2.5 2h2.5m-2.5-1h2.5m-1.5-4h2.5m-2.5 5h2.5m-2.5-1h2.5m-1.5-4h2.5m-2.5 2h2.5m-0.5 3h2.5m-2.5-5h2.5m-0.5 5h2.5m-2.5-4h2.5m-2.5-1h2.5m-1.5 4h2.5m-1.5-2h2.5m-2.5-1h2.5m-2.5 2h2.5m-1.5-1h2.5m-2.5-2h2.5m-2.5 1h2.5m-1.5 0h2.5m-2.5 1h2.5m-2.5 3h2.5m-1.5-4h2.5m-2.5-1h2.5m-1.5 2h2.5m-1.5 0h2.5m0.5 1h2.5m-0.5-1h2.5m3.5 3h2.5m-175.5 4h2.5m19.5-3h2.5m-2.5 4h2.5m3.5-3h2.5m-1.5 2h2.5m4.5-2h2.5m3.5-1h2.5m-2.5 2h2.5m-0.5 1h2.5m-2.5 1h2.5m-1.5 0h2.5m0.5-3h2.5m-2.5 2h2.5m-2.5 1h2.5m-2.5-2h2.5m-1.5-1h2.5m-2.5 2h2.5m-1.5 1h2.5m-1.5 0h2.5m-2.5-1h2.5m-1.5-1h2.5m-2.5-1h2.5m-1.5 3h2.5m-2.5-1h2.5m-1.5-3h2.5m-2.5 1h2.5m-1.5 2h2.5m-1.5 0h2.5m-1.5-3h2.5m-1.5 0h2.5m-1.5 2h2.5m-2.5 3h2.5m-0.5-4h2.5m-1.5-1h2.5m-2.5 5h2.5m-1.5-2h2.5m-2.5-3h2.5m0.5 4h2.5m-2.5-4h2.5m-1.5 2h2.5m-2.5 3h2.5m-2.5-1h2.5m-2.5-3h2.5m-2.5 2h2.5m-1.5 0h2.5m-2.5 2h2.5m-1.5-3h2.5m-2.5 2h2.5m-2.5-4h2.5m-1.5 5h2.5m-2.5-5h2.5m-1.5 3h2.5m-2.5 2h2.5m-2.5-3h2.5m-2.5 2h2.5m-1.5-4h2.5m-2.5 1h2.5m-2.5 3h2.5m-1.5 1h2.5m-2.5-3h2.5m-2.5-1h2.5m-1.5-1h2.5m-2.5 1h2.5m-2.5 4h2.5m-1.5-1h2.5m-1.5-3h2.5m-2.5 2h2.5m-2.5 2h2.5m-1.5-2h2.5m-2.5-1h2.5m-2.5 2h2.5m-2.5-4h2.5m-1.5 0h2.5m-2.5 2h2.5m-2.5-1h2.5m-1.5 2h2.5m-2.5 2h2.5m-2.5-5h2.5m-1.5 5h2.5m-2.5-5h2.5m-1.5 5h2.5m-2.5-1h2.5m-2.5-4h2.5m-2.5 1h2.5m-2.5 2h2.5m-1.5-2h2.5m-2.5 3h2.5m-2.5-1h2.5m-2.5-3h2.5m-1.5 4h2.5m-2.5-1h2.5m-2.5 2h2.5m-1.5 0h2.5m-2.5-1h2.5m-2.5-2h2.5m-2.5-1h2.5m-1.5 2h2.5m-2.5 2h2.5m-2.5-1h2.5m-2.5-4h2.5m-1.5 5h2.5m-2.5-5h2.5m-2.5 1h2.5m-2.5 2h2.5m-1.5-3h2.5m-2.5 2h2.5m-1.5 3h2.5m-2.5-4h2.5m-1.5 4h2.5m-1.5 0h2.5m-2.5-3h2.5m-1.5-2h2.5m-2.5 4h2.5m-2.5 1h2.5m-1.5-5h2.5m-2.5 2h2.5m-2.5 2h2.5m-1.5 1h2.5m-1.5-5h2.5m-2.5 2h2.5m-2.5-1h2.5m-2.5 3h2.5m-2.5 1h2.5m-1.5-3h2.5m-2.5-1h2.5m-2.5 2h2.5m-2.5 2h2.5m-1.5-4h2.5m-2.5 4h2.5m-2.5-1h2.5m-1.5-3h2.5m-2.5 4h2.5m-1.5-4h2.5m-2.5 4h2.5m-2.5-5h2.5m-1.5 2h2.5m-2.5-1h2.5m-2.5 3h2.5m-2.5-1h2.5m-1.5 2h2.5m-2.5-1h2.5m-2.5-2h2.5m-2.5 1h2.5m-1.5 0h2.5m-1.5 1h2.5m-2.5-2h2.5m-1.5-2h2.5m-2.5 2h2.5m-1.5 3h2.5m-2.5-3h2.5m-2.5-1h2.5m-1.5 4h2.5m-1.5-2h2.5m-2.5 1h2.5m-1.5-3h2.5m-2.5 1h2.5m-1.5-2h2.5m-2.5 3h2.5m-1.5 2h2.5m-1.5-5h2.5m-2.5 2h2.5m-2.5 1h2.5m-2.5 1h2.5m-1.5-4h2.5m-2.5 1h2.5m-2.5 3h2.5m-2.5 1h2.5m-1.5-1h2.5m-2.5-4h2.5m-1.5 0h2.5m-2.5 2h2.5m-2.5 1h2.5m-1.5-3h2.5m-2.5 4h2.5m-2.5-1h2.5m-2.5 2h2.5m-1.5-1h2.5m-2.5-1h2.5m-1.5-3h2.5m-2.5 1h2.5m-2.5 2h2.5m-1.5-3h2.5m-1.5 3h2.5m-2.5 2h2.5m-2.5-3h2.5m-1.5-2h2.5m-2.5 2h2.5m-1.5-2h2.5m-2.5 1h2.5m-1.5 4h2.5m-2.5-5h2.5m-1.5 0h2.5m-2.5 1h2.5m-2.5 3h2.5m-2.5-1h2.5m-2.5 2h2.5m-1.5-5h2.5m-2.5 4h2.5m-1.5-3h2.5m-2.5 4h2.5m-0.5-2h2.5m-2.5 2h2.5m-2.5-1h2.5m-1.5-3h2.5m-2.5 3h2.5m-1.5-3h2.5m-2.5-1h2.5m-2.5 4h2.5m-2.5-1h2.5m-2.5 2h2.5m-1.5-2h2.5m-1.5-3h2.5m-2.5 4h2.5m-2.5 1h2.5m-1.5-1h2.5m-1.5-3h2.5m-2.5 4h2.5m-0.5-5h2.5m-2.5 2h2.5m-2.5-1h2.5m-2.5 3h2.5m-1.5-3h2.5m-2.5 2h2.5m-1.5 2h2.5m-2.5-4h2.5m-2.5 2h2.5m-1.5 0h2.5m-2.5 2h2.5m-2.5-1h2.5m-1.5-3h2.5m-2.5 4h2.5m-1.5-2h2.5m-0.5 2h2.5m-1.5-5h2.5m-2.5 2h2.5m-2.5 3h2.5m-1.5-3h2.5m-1.5-1h2.5m-2.5 1h2.5m-2.5 2h2.5m-2.5 1h2.5m-1.5-2h2.5m-1.5-3h2.5m-2.5 2h2.5m-2.5 2h2.5m-2.5 1h2.5m-1.5-5h2.5m-2.5 2h2.5m-2.5 2h2.5m-2.5-1h2.5m-1.5 1h2.5m-1.5-4h2.5m-2.5 2h2.5m-2.5 3h2.5m-2.5-4h2.5m-1.5-1h2.5m-2.5 1h2.5m-2.5 3h2.5m-1.5-3h2.5m-2.5 1h2.5m-1.5 1h2.5m-1.5 0h2.5m-2.5-2h2.5m-2.5-1h2.5m-2.5 4h2.5m-1.5-1h2.5m-2.5-3h2.5m-0.5 2h2.5m-2.5-1h2.5m-2.5 2h2.5m-1.5-3h2.5m-0.5 0h2.5m-2.5 2h2.5m-1.5-2h2.5m-1.5 1h2.5m-2.5 1h2.5m-0.5-1h2.5m-151.5 10h2.5m18.5-2h2.5m-0.5-1h2.5m-0.5 3h2.5m-0.5-4h2.5m-0.5-1h2.5m-1.5 4h2.5m-2.5-4h2.5m-1.5 3h2.5m-2.5 1h2.5m-2.5-3h2.5m-1.5 2h2.5m-1.5-2h2.5m-2.5-1h2.5m-1.5 2h2.5m-1.5 3h2.5m-1.5 0h2.5m-2.5-3h2.5m-0.5-2h2.5m-2.5 3h2.5m-2.5 2h2.5m-0.5-4h2.5m-2.5 2h2.5m-1.5 1h2.5m-2.5-3h2.5m-1.5-1h2.5m-2.5 3h2.5m-1.5-3h2.5m-2.5 5h2.5m-1.5 0h2.5m-2.5-4h2.5m-1.5 4h2.5m-1.5-5h2.5m-1.5 4h2.5m-2.5 1h2.5m-2.5-2h2.5m-1.5 0h2.5m-2.5-1h2.5m-1.5-2h2.5m-2.5 2h2.5m-2.5 2h2.5m-1.5-3h2.5m-1.5 1h2.5m-1.5-1h2.5m-1.5 0h2.5m-2.5 2h2.5m-2.5 2h2.5m-1.5-3h2.5m-1.5-2h2.5m-2.5 2h2.5m-1.5-2h2.5m-2.5 4h2.5m-1.5-3h2.5m-2.5-1h2.5m-2.5 2h2.5m-2.5 3h2.5m-1.5-3h2.5m-2.5 2h2.5m-2.5 1h2.5m-1.5-3h2.5m-1.5-1h2.5m-2.5-1h2.5m-1.5 3h2.5m-2.5 1h2.5m-1.5-2h2.5m-1.5-2h2.5m-2.5 4h2.5m-1.5-4h2.5m-2.5 1h2.5m-1.5 0h2.5m-2.5-1h2.5m-2.5 2h2.5m-1.5-1h2.5m-2.5 1h2.5m-1.5 0h2.5m-1.5-2h2.5m-2.5 4h2.5m-1.5 0h2.5m-2.5-4h2.5m-2.5 3h2.5m-1.5 0h2.5m-2.5 2h2.5m-1.5-1h2.5m-1.5 1h2.5m-1.5-3h2.5m-1.5 2h2.5m-1.5 1h2.5m-2.5-4h2.5m-1.5-1h2.5m-2.5 1h2.5m-2.5 1h2.5m-2.5 3h2.5m-2.5-1h2.5m-1.5 0h2.5m-1.5-1h2.5m-2.5-1h2.5m-2.5-1h2.5m-1.5 2h2.5m-2.5 2h2.5m-2.5-4h2.5m-2.5 1h2.5m-2.5 2h2.5m-1.5-2h2.5m-2.5 2h2.5m-2.5-4h2.5m-1.5 2h2.5m-2.5 3h2.5m-1.5-4h2.5m-2.5-1h2.5m-2.5 3h2.5m-2.5-1h2.5m-2.5 2h2.5m-1.5-3h2.5m-2.5 2h2.5m-1.5 0h2.5m-2.5-1h2.5m-1.5-1h2.5m-2.5 2h2.5m-2.5 2h2.5m-1.5-2h2.5m-2.5-1h2.5m-2.5 2h2.5m-2.5 1h2.5m-1.5-4h2.5m-2.5 2h2.5m-2.5 2h2.5m-0.5-4h2.5m-2.5 2h2.5m-2.5 1h2.5m-1.5-1h2.5m-2.5-1h2.5m-2.5 3h2.5m-1.5-5h2.5m-2.5 3h2.5m-2.5-1h2.5m-2.5 3h2.5m-1.5-4h2.5m-2.5 1h2.5m-1.5 0h2.5m-2.5 2h2.5m-1.5-1h2.5m-2.5 2h2.5m-1.5 0h2.5m-1.5 0h2.5m-1.5-1h2.5m-2.5-3h2.5m-1.5-1h2.5m-1.5 1h2.5m-2.5-1h2.5m-1.5 5h2.5m-2.5-5h2.5m-2.5 2h2.5m-1.5 3h2.5m-1.5-5h2.5m-2.5 2h2.5m-2.5 3h2.5m-1.5 0h2.5m-1.5-4h2.5m-2.5 3h2.5m-1.5-3h2.5m-2.5 2h2.5m-1.5-3h2.5m-2.5 1h2.5m-2.5 2h2.5m-1.5 0h2.5m-2.5-1h2.5m-2.5 3h2.5m-1.5-5h2.5m-2.5 2h2.5m-2.5 2h2.5m-1.5-4h2.5m-2.5 3h2.5m-2.5-1h2.5m-0.5 1h2.5m-2.5 2h2.5m-2.5-1h2.5m-2.5-4h2.5m-0.5 4h2.5m-2.5 1h2.5m-2.5-5h2.5m-1.5 5h2.5m-2.5-5h2.5m-1.5 2h2.5m-2.5 3h2.5m-2.5-1h2.5m-1.5-2h2.5m-1.5-1h2.5m-2.5 4h2.5m-1.5-4h2.5m-2.5 2h2.5m-2.5 2h2.5m-2.5-1h2.5m-1.5 0h2.5m-2.5-1h2.5m-1.5-3h2.5m-2.5 2h2.5m-1.5-2h2.5m-1.5 0h2.5m-2.5 1h2.5m-2.5 1h2.5m-1.5-2h2.5m-2.5 3h2.5m-2.5 2h2.5m-2.5-1h2.5m-0.5-2h2.5m-1.5-1h2.5m-2.5 2h2.5m-1.5 2h2.5m-2.5-4h2.5m-1.5 4h2.5m-2.5-1h2.5m-1.5-1h2.5m-2.5-1h2.5m-1.5-2h2.5m-2.5 1h2.5m-1.5-1h2.5m-1.5 1h2.5m-2.5 1h2.5m-1.5-1h2.5m-1.5-1h2.5m-1.5 1h2.5m-2.5 2h2.5m-1.5-3h2.5m-2.5 5h2.5m-1.5 0h2.5m1.5-4h2.5m-2.5 1h2.5m-0.5 2h2.5m-1.5 1h2.5m-146.5 2h2.5m16.5 2h2.5m0.5-3h2.5m-1.5 3h2.5m-2.5 2h2.5m-0.5-2h2.5m-1.5-2h2.5m-2.5 3h2.5m-1.5-1h2.5m-2.5 2h2.5m-0.5-3h2.5m-0.5 2h2.5m-1.5-1h2.5m-2.5-3h2.5m-1.5 3h2.5m-1.5-1h2.5m-1.5 2h2.5m-1.5-3h2.5m-1.5-1h2.5m-1.5 5h2.5m-1.5-1h2.5m-1.5 0h2.5m-1.5-3h2.5m-2.5 3h2.5m-0.5 1h2.5m-2.5-3h2.5m-1.5 1h2.5m-2.5 2h2.5m-1.5 0h2.5m-1.5-4h2.5m-2.5 2h2.5m0.5 1h2.5m-1.5-2h2.5m-1.5 1h2.5m-2.5-3h2.5m-1.5 3h2.5m-2.5 2h2.5m0.5-2h2.5m-1.5-1h2.5m-2.5-1h2.5m-1.5 2h2.5m-2.5 2h2.5m-2.5-3h2.5m-1.5 0h2.5m-2.5 3h2.5m-2.5-1h2.5m-1.5 1h2.5m-2.5-5h2.5m-1.5 2h2.5m-2.5 1h2.5m-1.5-1h2.5m-2.5-1h2.5m-2.5 3h2.5m-2.5-1h2.5m-1.5-1h2.5m-1.5-1h2.5m-2.5 3h2.5m-1.5-3h2.5m-2.5 3h2.5m-1.5-2h2.5m-2.5 1h2.5m-1.5-1h2.5m-2.5 3h2.5m-1.5-2h2.5m-2.5-1h2.5m-1.5 0h2.5m-2.5 1h2.5m-1.5-2h2.5m-2.5 3h2.5m-1.5 1h2.5m-2.5-4h2.5m-1.5 0h2.5m-1.5 4h2.5m-2.5-5h2.5m-2.5 2h2.5m-2.5 2h2.5m-1.5-1h2.5m-1.5-2h2.5m-2.5-1h2.5m-1.5 4h2.5m-2.5-1h2.5m-1.5 1h2.5m-2.5-1h2.5m-2.5 2h2.5m-1.5-2h2.5m-1.5-2h2.5m-0.5-1h2.5m-2.5 1h2.5m-2.5 3h2.5m-1.5-4h2.5m-2.5 2h2.5m-2.5-1h2.5m-2.5 2h2.5m-1.5-3h2.5m-2.5 1h2.5m-2.5 2h2.5m-1.5-3h2.5m-2.5 2h2.5m-2.5 2h2.5m-1.5-3h2.5m-2.5 3h2.5m-1.5-4h2.5m-2.5 1h2.5m-2.5 3h2.5m-2.5-1h2.5m-2.5 2h2.5m-1.5-2h2.5m-2.5-3h2.5m-2.5 2h2.5m-1.5 1h2.5m-2.5 2h2.5m-2.5-5h2.5m-1.5 0h2.5m-1.5 0h2.5m-2.5 4h2.5m-1.5 0h2.5m-2.5 1h2.5m-2.5-3h2.5m-1.5-1h2.5m-2.5 2h2.5m-1.5-1h2.5m-1.5 1h2.5m-2.5-2h2.5m-1.5 1h2.5m-2.5-1h2.5m-2.5 4h2.5m-1.5-3h2.5m-1.5-2h2.5m-1.5 3h2.5m-1.5-3h2.5m-2.5 1h2.5m-1.5 1h2.5m0.5 0h2.5m-2.5 1h2.5m-1.5 1h2.5m-2.5 1h2.5m-2.5-4h2.5m-1.5 0h2.5m-2.5 3h2.5m-1.5 1h2.5m-2.5-5h2.5m-2.5 2h2.5m-2.5-1h2.5m-1.5 0h2.5m-2.5 2h2.5m-2.5 2h2.5m-2.5-3h2.5m-1.5 1h2.5m-2.5-2h2.5m-2.5-1h2.5m-1.5 0h2.5m-2.5 4h2.5m-1.5-2h2.5m-1.5 2h2.5m-2.5-1h2.5m-2.5 2h2.5m-1.5-5h2.5m-1.5 5h2.5m-1.5-5h2.5m-2.5 1h2.5m-1.5 4h2.5m-2.5-1h2.5m-1.5-2h2.5m-2.5 2h2.5m-0.5-1h2.5m-1.5-3h2.5m-1.5 3h2.5m-1.5 0h2.5m-2.5-3h2.5m-1.5 1h2.5m-2.5 2h2.5m-2.5-3h2.5m-1.5 4h2.5m-2.5-1h2.5m-2.5-3h2.5m-2.5 2h2.5m-0.5 0h2.5m-2.5 1h2.5m-1.5-3h2.5m-0.5 0h2.5m-0.5 1h2.5m-2.5 3h2.5m-1.5-3h2.5m-1.5 0h2.5m-1.5 1h2.5m-0.5-2h2.5m1.5 2h2.5m-1.5 2h2.5m-1.5-2h2.5m-2.5 2h2.5m-159.5 5h2.5m25.5-2h2.5m3.5 2h2.5m-0.5-3h2.5m-0.5 0h2.5m4.5 5h2.5m-1.5-3h2.5m1.5 2h2.5m-1.5-3h2.5m-2.5 2h2.5m-0.5-2h2.5m-1.5 3h2.5m-2.5-1h2.5m1.5-1h2.5m-2.5 3h2.5m-1.5-1h2.5m-1.5-3h2.5m-1.5-1h2.5m-1.5 1h2.5m-2.5-1h2.5m-1.5 5h2.5m-2.5-4h2.5m-1.5 1h2.5m-0.5 3h2.5m-2.5-5h2.5m-2.5 2h2.5m-1.5-1h2.5m-2.5 1h2.5m-0.5-2h2.5m-1.5 0h2.5m-1.5 5h2.5m-1.5-5h2.5m-2.5 3h2.5m-1.5-2h2.5m-1.5 0h2.5m-2.5 1h2.5m-0.5 3h2.5m-1.5-4h2.5m-1.5-1h2.5m-2.5 3h2.5m-2.5-1h2.5m-1.5 0h2.5m-1.5 2h2.5m-1.5-2h2.5m-1.5 2h2.5m-1.5-2h2.5m-1.5 1h2.5m-1.5-2h2.5m-1.5-1h2.5m-2.5 1h2.5m-0.5 0h2.5m-1.5 0h2.5m-2.5-1h2.5m-2.5 3h2.5m-2.5-1h2.5m-1.5-1h2.5m-2.5 2h2.5m-2.5 2h2.5m-1.5-4h2.5m-2.5 4h2.5m-2.5-1h2.5m-0.5-3h2.5m-2.5 1h2.5m-0.5-1h2.5m-2.5 1h2.5m-2.5 2h2.5m-1.5 1h2.5m-1.5-2h2.5m-2.5 2h2.5m-2.5-5h2.5m-1.5 3h2.5m-2.5 1h2.5m-1.5-4h2.5m-0.5 0h2.5m-2.5 1h2.5m-2.5 1h2.5m-2.5 3h2.5m-1.5-5h2.5m-2.5 3h2.5m-2.5 2h2.5m-1.5-2h2.5m-2.5-1h2.5m-2.5 3h2.5m-1.5-2h2.5m-2.5 1h2.5m-1.5-4h2.5m-2.5 2h2.5m-1.5 0h2.5m-2.5 3h2.5m-2.5-1h2.5m-1.5-2h2.5m-1.5 3h2.5m-1.5-2h2.5m-0.5-2h2.5m-2.5 1h2.5m-2.5 2h2.5m-1.5-3h2.5m-2.5 2h2.5m-0.5-2h2.5m-2.5 2h2.5m-0.5 2h2.5m-2.5-3h2.5m-1.5 3h2.5m-2.5-1h2.5m-2.5-4h2.5m-1.5 0h2.5m-2.5 2h2.5m-1.5 0h2.5m-2.5 3h2.5m-2.5-1h2.5m-2.5-4h2.5m-1.5 4h2.5m-0.5-1h2.5m-2.5-1h2.5m-1.5-1h2.5m-2.5 4h2.5m-1.5-4h2.5m-1.5 0h2.5m-2.5-1h2.5m-2.5 3h2.5m-1.5-2h2.5m-1.5 1h2.5m-2.5-2h2.5m-1.5 1h2.5m-2.5 2h2.5m-1.5 1h2.5m-2.5-3h2.5m-1.5 1h2.5m-1.5 0h2.5m-2.5-1h2.5m-2.5 2h2.5m-2.5-3h2.5m-1.5 4h2.5m-2.5-2h2.5m-1.5 2h2.5m-2.5-4h2.5m-2.5 3h2.5m-1.5-2h2.5m-2.5 2h2.5m-2.5-1h2.5m-0.5-2h2.5m-2.5 3h2.5m-0.5-1h2.5m-1.5 0h2.5m-1.5-1h2.5m-1.5 0h2.5m2.5 2h2.5m7.5-2h2.5m-143.5 8h2.5m10.5-1h2.5m5.5-1h2.5m3.5-1h2.5m0.5 1h2.5m-0.5 0h2.5m-1.5 1h2.5m-2.5 3h2.5m-0.5-3h2.5m-2.5 3h2.5m0.5-2h2.5m1.5-3h2.5m0.5 5h2.5m-1.5-4h2.5m1.5-1h2.5m-2.5 4h2.5m-2.5-1h2.5m-1.5-1h2.5m-2.5 3h2.5m-1.5-5h2.5m-1.5 4h2.5m-1.5-3h2.5m-2.5 3h2.5m-2.5 1h2.5m-1.5-5h2.5m-1.5 1h2.5m-0.5-1h2.5m-1.5 2h2.5m-2.5 1h2.5m-1.5 1h2.5m-1.5-3h2.5m-2.5 3h2.5m-1.5-2h2.5m-2.5 3h2.5m-0.5 0h2.5m-2.5-5h2.5m-2.5 2h2.5m-1.5-2h2.5m-2.5 3h2.5m-1.5-2h2.5m-2.5 3h2.5m-2.5-1h2.5m-0.5-2h2.5m-2.5 3h2.5m-0.5-4h2.5m-2.5 3h2.5m-1.5-3h2.5m-2.5 1h2.5m-1.5 2h2.5m-2.5-3h2.5m-1.5 4h2.5m-0.5-3h2.5m-2.5 4h2.5m-1.5-4h2.5m-0.5 4h2.5m-2.5-4h2.5m-1.5 2h2.5m-2.5 2h2.5m-1.5-3h2.5m0.5-1h2.5m-2.5 1h2.5m-2.5 1h2.5m-1.5 0h2.5m-1.5 2h2.5m-0.5-5h2.5m-1.5 2h2.5m-1.5 1h2.5m-2.5-3h2.5m-1.5 1h2.5m-1.5 0h2.5m-2.5 3h2.5m-0.5-2h2.5m-1.5 2h2.5m-1.5-3h2.5m-1.5 0h2.5m-2.5 2h2.5m-1.5-1h2.5m-2.5-1h2.5m-1.5 1h2.5m-2.5-1h2.5m-2.5 4h2.5m-1.5 0h2.5m-1.5-5h2.5m-2.5 2h2.5m-2.5-1h2.5m-1.5-1h2.5m-2.5 1h2.5m-1.5-1h2.5m-1.5 1h2.5m-2.5 1h2.5m-1.5-1h2.5m-2.5 3h2.5m-2.5 1h2.5m-1.5-4h2.5m-2.5 3h2.5m-1.5-2h2.5m-2.5 2h2.5m-1.5-2h2.5m-0.5-2h2.5m1.5 1h2.5m-0.5-1h2.5m-1.5 0h2.5m-2.5 3h2.5m-2.5-1h2.5m0.5 1h2.5m-2.5-3h2.5m-150.5 9h2.5m38.5 1h2.5m5.5 1h2.5m-2.5-3h2.5m11.5-1h2.5m-0.5 4h2.5m-0.5-1h2.5m-1.5 0h2.5m-0.5-2h2.5m1.5 1h2.5m-2.5 2h2.5m-0.5-4h2.5m-0.5 3h2.5m-1.5-3h2.5m-2.5 2h2.5m0.5-3h2.5m-1.5 2h2.5m-2.5 3h2.5m-2.5-5h2.5m-1.5 0h2.5m-2.5 3h2.5m-1.5 2h2.5m-0.5-5h2.5m-2.5 3h2.5m-2.5-1h2.5m-2.5 3h2.5m-1.5-4h2.5m-2.5 2h2.5m-2.5 1h2.5m-1.5-4h2.5m-2.5 3h2.5m-2.5-1h2.5m-2.5 2h2.5m-1.5-4h2.5m-1.5 0h2.5m-2.5 2h2.5m-1.5-1h2.5m-2.5 4h2.5m-1.5-4h2.5m-2.5-1h2.5m-2.5 3h2.5m-2.5-1h2.5m-1.5 1h2.5m-1.5-1h2.5m-1.5 3h2.5m-0.5-3h2.5m-0.5 2h2.5m-1.5-4h2.5m-1.5 1h2.5m-2.5 4h2.5m-2.5-1h2.5m-1.5-2h2.5m-2.5 3h2.5m-1.5-3h2.5m-1.5-1h2.5m-2.5 4h2.5m-0.5-2h2.5m-1.5 2h2.5m-1.5-5h2.5m-1.5 4h2.5m-1.5-3h2.5m-2.5 2h2.5m-1.5 0h2.5m-1.5 1h2.5m-2.5-3h2.5m-2.5 2h2.5m0.5-1h2.5m-2.5 3h2.5m-0.5-2h2.5m-1.5-1h2.5m-2.5 3h2.5m-1.5-4h2.5m-1.5 2h2.5m-0.5-1h2.5m-1.5 1h2.5m-1.5 2h2.5m-2.5-1h2.5m0.5-1h2.5m-2.5 1h2.5m-2.5-4h2.5m-1.5 4h2.5m-2.5-4h2.5m-2.5 3h2.5m-2.5-1h2.5m-1.5 3h2.5m-2.5-1h2.5m-1.5-1h2.5m-1.5 2h2.5m-0.5-4h2.5m-2.5 2h2.5m-0.5-3h2.5m-2.5 1h2.5m-2.5 1h2.5m0.5-1h2.5m-0.5 2h2.5m0.5 2h2.5m-0.5-5h2.5m-1.5 2h2.5m0.5-1h2.5m-151.5 10h2.5m0.5-1h2.5m13.5 1h2.5m-1.5 0h2.5m12.5 0h2.5m6.5 0h2.5m-2.5-4h2.5m-2.5 2h2.5m-1.5 0h2.5m3.5 1h2.5m5.5-3h2.5m-2.5 3h2.5m-1.5-2h2.5m1.5 0h2.5m0.5-2h2.5m-0.5 1h2.5m0.5 3h2.5m-1.5 1h2.5m-0.5-2h2.5m-2.5 2h2.5m-1.5-5h2.5m0.5 5h2.5m-0.5-1h2.5m-2.5 1h2.5m-1.5 0h2.5m-1.5 0h2.5m0.5-2h2.5m-0.5-2h2.5m-0.5 0h2.5m-1.5 0h2.5m-2.5 2h2.5m-1.5 0h2.5m-2.5 2h2.5m-2.5-5h2.5m0.5 4h2.5m0.5 0h2.5m-0.5-3h2.5m-2.5 4h2.5m-1.5-5h2.5m-1.5 4h2.5m-1.5-1h2.5m-0.5 0h2.5m-2.5 2h2.5m-2.5-3h2.5m-2.5 2h2.5m-1.5-2h2.5m-2.5 3h2.5m-0.5-3h2.5m-1.5-1h2.5m-2.5 2h2.5m-1.5-2h2.5m-0.5 0h2.5m-1.5-1h2.5m-2.5 4h2.5m-1.5 1h2.5m-1.5-5h2.5m2.5 2h2.5m-1.5-2h2.5m-1.5 5h2.5m-2.5-5h2.5m-2.5 2h2.5m3.5 3h2.5m-1.5-5h2.5m-1.5 0h2.5m-0.5 1h2.5m0.5 0h2.5m71.5 4h2.5m-212.5 6h2.5m-1.5-1h2.5m-1.5-1h2.5m9.5 1h2.5m-1.5-1h2.5m6.5-1h2.5m1.5-2h2.5m0.5 3h2.5m-2.5-1h2.5m-2.5 2h2.5m1.5 1h2.5m-2.5-5h2.5m-1.5 4h2.5m2.5-2h2.5m11.5 0h2.5m-0.5 0h2.5m0.5-2h2.5m-0.5 1h2.5m-1.5-1h2.5m5.5 0h2.5m-1.5 3h2.5m-1.5-3h2.5m-0.5 0h2.5m-2.5 2h2.5m-2.5 2h2.5m-1.5-2h2.5m-2.5 3h2.5m-1.5 0h2.5m-2.5-5h2.5m-1.5 1h2.5m1.5-1h2.5m-2.5 3h2.5m-1.5-1h2.5m-2.5 3h2.5m-2.5-5h2.5m-1.5 0h2.5m-0.5 0h2.5m-1.5 5h2.5m-1.5-4h2.5m-2.5 2h2.5m-1.5 0h2.5m-1.5-3h2.5m-2.5 2h2.5m-2.5-1h2.5m-2.5 3h2.5m-0.5-1h2.5m-2.5-1h2.5m-2.5 3h2.5m-0.5-2h2.5m-1.5-3h2.5m-0.5 2h2.5m-2.5-1h2.5m-0.5 0h2.5m0.5 0h2.5m-1.5 2h2.5m-1.5 1h2.5m-1.5-2h2.5m5.5 3h2.5m-1.5 0h2.5m-2.5-5h2.5m0.5 2h2.5m2.5 2h2.5m1.5-4h2.5m6.5 0h2.5m-137.5 11h2.5m-0.5 0h2.5m3.5-5h2.5m0.5 3h2.5m0.5 1h2.5m2.5-3h2.5m-1.5 1h2.5m-0.5 2h2.5m0.5-2h2.5m2.5 0h2.5m4.5 3h2.5m-0.5-3h2.5m3.5-1h2.5m15.5 0h2.5m-0.5 4h2.5m0.5-4h2.5m3.5 2h2.5m-2.5-2h2.5m-1.5 2h2.5m-1.5 0h2.5m-2.5 2h2.5m-0.5-4h2.5m-2.5-1h2.5m-2.5 2h2.5m-1.5 2h2.5m-2.5-3h2.5m-2.5-1h2.5m-0.5 5h2.5m-1.5-5h2.5m-1.5 4h2.5m0.5 1h2.5m0.5-5h2.5m1.5 3h2.5m-2.5-3h2.5m2.5 2h2.5m0.5 2h2.5m-1.5-3h2.5m1.5 1h2.5m-1.5 1h2.5m-2.5-1h2.5m7.5-1h2.5m2.5 2h2.5m0.5 0h2.5m4.5-1h2.5m-135.5 4h2.5m1.5 2h2.5m-1.5-1h2.5m-1.5-1h2.5m5.5 4h2.5m2.5-1h2.5m3.5-2h2.5m0.5-1h2.5m8.5 5h2.5m-0.5-5h2.5m0.5 0h2.5m11.5 1h2.5m13.5 1h2.5m-0.5-1h2.5m-1.5 3h2.5m1.5-3h2.5m-1.5 4h2.5m0.5 0h2.5m-1.5-4h2.5m2.5 1h2.5m0.5-2h2.5m-94.5 11h2.5m-1.5-1h2.5m3.5-2h2.5m0.5 1h2.5m-1.5 0h2.5m7.5 0h2.5m-1.5-2h2.5m2.5 1h2.5m8.5 0h2.5m6.5-2h2.5m-2.5 2h2.5m3.5-1h2.5m-2.5 3h2.5m32.5-3h2.5m-90.5 10h2.5m0.5-4h2.5m-2.5 2h2.5m1.5 0h2.5m-0.5-1h2.5m2.5 3h2.5m0.5-2h2.5m-1.5 1h2.5m-1.5-4h2.5m-1.5 0h2.5m0.5 0h2.5m0.5 4h2.5m1.5-1h2.5m0.5 2h2.5m2.5-3h2.5m7.5 0h2.5m2.5 0h2.5m4.5-2h2.5m-63.5 11h2.5m2.5-5h2.5m9.5 5h2.5m1.5-3h2.5m7.5 2h2.5m-1.5-1h2.5m0.5-1h2.5m-2.5-1h2.5m14.5 3h2.5m3.5-1h2.5m-1.5-1h2.5m-2.5-1h2.5m-55.5 5h2.5m-1.5 4h2.5m-2.5-4h2.5m4.5 1h2.5m-0.5 4h2.5m0.5-5h2.5m5.5 0h2.5m1.5 4h2.5m2.5 1h2.5m-1.5-1h2.5m0.5-1h2.5m-1.5 0h2.5m-2.5-2h2.5m-1.5 2h2.5m-1.5 2h2.5m-1.5-5h2.5m1.5 4h2.5m1.5 1h2.5m1.5-5h2.5m-58.5 8h2.5m0.5 3h2.5m-0.5-4h2.5m0.5 1h2.5m-0.5-1h2.5m-2.5 3h2.5m-0.5-4h2.5m5.5 4h2.5m1.5-1h2.5m-0.5-1h2.5m1.5 3h2.5m-1.5 0h2.5m-0.5 0h2.5m-2.5-4h2.5m-0.5 0h2.5m1.5 2h2.5m-2.5 2h2.5m1.5-1h2.5m0.5-4h2.5m6.5 3h2.5m1.5 0h2.5m11.5-1h2.5m-74.5 9h2.5m-1.5-2h2.5m-1.5-2h2.5m0.5 3h2.5m2.5-4h2.5m1.5 0h2.5m5.5 4h2.5m3.5-3h2.5m-0.5-1h2.5m-2.5 3h2.5m1.5 0h2.5m-1.5-2h2.5m-2.5 4h2.5m-1.5-3h2.5m5.5 2h2.5m15.5-4h2.5m-64.5 6h2.5m-1.5 2h2.5m0.5-2h2.5m6.5 0h2.5m0.5 1h2.5m-2.5 1h2.5m4.5-2h2.5m7.5 0h2.5m0.5 1h2.5m1.5-1h2.5m-1.5 1h2.5m7.5-1h2.5m18.5 0h2.5" fill="none" stroke="#000" stroke-width="2.5"/>
<rect x="103.9" y="684.7" width="294" height="262.1" fill="none" stroke="#000" stroke-width="1.45"/>
<line x1="179.4" y1="684.7" x2="179.4" y2="946.8" stroke="#000" stroke-width="1.4"/>
<line x1="103.9" y1="886.8" x2="397.9" y2="886.8" stroke="#000" stroke-width="1.4"/>
<path d="M475 738.2h2.5m30.5 29h2.5m59.5-1h2.5m5.5 13h2.5m6.5-1h2.5m-47.5 4h2.5m16.5 4h2.5m4.5-5h2.5m64.5 2h2.5m-138.5 9h2.5m27.5 0h2.5m17.5-2h2.5m-1.5 1h2.5m4.5-2h2.5m1.5-2h2.5m72.5 3h2.5m51.5 2h2.5m-218.5 2h2.5m-1.5 2h2.5m4.5 1h2.5m3.5 0h2.5m-2.5-4h2.5m-1.5 3h2.5m8.5-2h2.5m4.5 3h2.5m11.5 0h2.5m11.5-1h2.5m6.5 2h2.5m-2.5-3h2.5m1.5-1h2.5m3.5 4h2.5m1.5-4h2.5m2.5 1h2.5m-0.5 2h2.5m4.5-1h2.5m-2.5-1h2.5m-1.5 2h2.5m12.5-3h2.5m2.5 2h2.5m56.5 2h2.5m6.5 0h2.5m13.5-3h2.5m-1.5 3h2.5m15.5-2h2.5m-2.5 2h2.5m-224.5 3h2.5m2.5-1h2.5m-0.5-1h2.5m0.5 1h2.5m-1.5-1h2.5m-2.5 2h2.5m-2.5 2h2.5m8.5 1h2.5m-1.5 0h2.5m-2.5-5h2.5m-0.5 1h2.5m-1.5 3h2.5m-1.5-4h2.5m-1.5 0h2.5m-1.5 5h2.5m-0.5 0h2.5m0.5 0h2.5m0.5-2h2.5m0.5-1h2.5m3.5-2h2.5m0.5 1h2.5m5.5 2h2.5m0.5 0h2.5m-0.5 2h2.5m-1.5 0h2.5m-1.5-2h2.5m-0.5 0h2.5m-0.5-3h2.5m-2.5 4h2.5m-1.5-1h2.5m4.5 0h2.5m1.5-1h2.5m-1.5 3h2.5m-1.5-1h2.5m2.5-1h2.5m-1.5 2h2.5m-0.5-3h2.5m-1.5 2h2.5m-1.5-2h2.5m1.5 0h2.5m-1.5-2h2.5m-0.5 5h2.5m6.5-3h2.5m-0.5 3h2.5m-0.5 0h2.5m-1.5-4h2.5m65.5 3h2.5m2.5 0h2.5m-1.5-4h2.5m-1.5 3h2.5m-0.5 1h2.5m-0.5-1h2.5m-2.5-2h2.5m-0.5 2h2.5m2.5 2h2.5m-2.5-1h2.5m3.5-2h2.5m7.5-2h2.5m3.5 1h2.5m-1.5 0h2.5m0.5 1h2.5m-228.5 5h2.5m-2.5 2h2.5m-1.5 0h2.5m-1.5-1h2.5m-0.5-2h2.5m-1.5 4h2.5m-1.5-1h2.5m-2.5-3h2.5m-0.5 5h2.5m-2.5-5h2.5m-0.5 0h2.5m-1.5 3h2.5m0.5 1h2.5m-0.5-4h2.5m-0.5 0h2.5m-1.5 2h2.5m-2.5 2h2.5m-0.5-3h2.5m-1.5 4h2.5m0.5-3h2.5m-1.5 3h2.5m-1.5-2h2.5m-2.5 2h2.5m-0.5-1h2.5m0.5-1h2.5m-2.5 2h2.5m-1.5-1h2.5m-2.5-3h2.5m-1.5 0h2.5m0.5 1h2.5m1.5-1h2.5m-2.5 2h2.5m0.5-1h2.5m-2.5 3h2.5m-1.5-3h2.5m-2.5 1h2.5m-0.5-1h2.5m0.5 2h2.5m-0.5 0h2.5m-1.5-1h2.5m-0.5 1h2.5m2.5-1h2.5m-0.5-1h2.5m-2.5-1h2.5m-2.5 4h2.5m-1.5-5h2.5m-2.5 3h2.5m-0.5-3h2.5m1.5 4h2.5m-0.5-1h2.5m-0.5-2h2.5m-1.5 4h2.5m-1.5-4h2.5m-0.5-1h2.5m-2.5 3h2.5m-1.5-3h2.5m-0.5 2h2.5m-2.5 3h2.5m-1.5-5h2.5m-1.5 5h2.5m-1.5-4h2.5m2.5 3h2.5m-1.5 0h2.5m3.5-3h2.5m-1.5-1h2.5m-2.5 4h2.5m5.5-3h2.5m-2.5 2h2.5m-1.5-2h2.5m1.5 4h2.5m-0.5-3h2.5m-0.5-2h2.5m-2.5 4h2.5m-1.5-1h2.5m24.5 2h2.5m6.5-4h2.5m4.5 2h2.5m-1.5-2h2.5m5.5 3h2.5m-0.5 1h2.5m-0.5 0h2.5m-0.5-2h2.5m-0.5-2h2.5m-2.5 2h2.5m-2.5 2h2.5m4.5-4h2.5m-2.5 2h2.5m-1.5-3h2.5m-1.5 1h2.5m-0.5 1h2.5m-0.5 0h2.5m-2.5 3h2.5m-1.5-5h2.5m-2.5 2h2.5m-1.5 0h2.5m-0.5 0h2.5m-1.5 1h2.5m-0.5 2h2.5m-0.5-5h2.5m0.5 5h2.5m-1.5-2h2.5m3.5-1h2.5m-2.5 1h2.5m0.5-1h2.5m6.5 0h2.5m2.5-2h2.5m-223.5 10h2.5m-1.5-3h2.5m-2.5 4h2.5m-1.5-4h2.5m-0.5 2h2.5m-2.5 1h2.5m-0.5-2h2.5m4.5 0h2.5m-0.5-1h2.5m-0.5 3h2.5m-1.5-1h2.5m-1.5-1h2.5m-0.5-2h2.5m-1.5 1h2.5m-2.5 4h2.5m-2.5-1h2.5m-0.5-4h2.5m-1.5 2h2.5m-2.5-2h2.5m-1.5 3h2.5m-1.5 0h2.5m-0.5-2h2.5m-2.5 2h2.5m-2.5-1h2.5m-1.5 3h2.5m-2.5-1h2.5m-0.5-3h2.5m-2.5 4h2.5m-1.5-5h2.5m-1.5 5h2.5m-1.5-3h2.5m-2.5 3h2.5m-1.5-4h2.5m-2.5 3h2.5m-0.5 1h2.5m-1.5-4h2.5m-1.5 1h2.5m-1.5 2h2.5m-1.5-1h2.5m1.5-3h2.5m-1.5 5h2.5m-2.5-1h2.5m-1.5-4h2.5m-2.5 1h2.5m-1.5 3h2.5m-2.5-3h2.5m-1.5 1h2.5m-2.5 2h2.5m-1.5-1h2.5m0.5-3h2.5m-2.5 3h2.5m-1.5 0h2.5m-2.5-1h2.5m-2.5 2h2.5m-1.5-1h2.5m-0.5 2h2.5m-0.5-4h2.5m-2.5 2h2.5m-2.5-1h2.5m-1.5-1h2.5m-2.5 2h2.5m-1.5 1h2.5m-2.5-4h2.5m-2.5 2h2.5m-1.5 0h2.5m0.5-2h2.5m-2.5 2h2.5m-0.5-2h2.5m-2.5 1h2.5m-1.5 1h2.5m-1.5-2h2.5m-2.5 2h2.5m-1.5 0h2.5m-1.5-2h2.5m-1.5 0h2.5m-0.5 2h2.5m-2.5 3h2.5m-1.5-5h2.5m-1.5 3h2.5m-0.5-3h2.5m-0.5 0h2.5m-0.5 5h2.5m-0.5-1h2.5m-2.5 1h2.5m-1.5-3h2.5m-2.5 1h2.5m-1.5-2h2.5m1.5 3h2.5m-1.5-4h2.5m-1.5 5h2.5m-0.5-3h2.5m-2.5 2h2.5m0.5-2h2.5m-0.5-1h2.5m-0.5 3h2.5m-0.5 0h2.5m-0.5-2h2.5m-1.5 1h2.5m-2.5 2h2.5m-0.5-1h2.5m-1.5 1h2.5m-1.5 0h2.5m4.5 0h2.5m-0.5-1h2.5m13.5 1h2.5m-1.5-5h2.5m-2.5 4h2.5m-1.5-1h2.5m2.5-3h2.5m-1.5 0h2.5m-1.5 2h2.5m-0.5 0h2.5m-0.5 1h2.5m5.5 0h2.5m-0.5 2h2.5m1.5 0h2.5m-1.5-5h2.5m-2.5 1h2.5m-1.5 0h2.5m-2.5 3h2.5m2.5-1h2.5m-1.5-1h2.5m-2.5 1h2.5m0.5-2h2.5m0.5 4h2.5m4.5-4h2.5m-0.5 3h2.5m0.5 0h2.5m-1.5-4h2.5m-1.5 1h2.5m-1.5 1h2.5m-0.5 3h2.5m3.5-1h2.5m-1.5-1h2.5m-1.5 1h2.5m-1.5-2h2.5m1.5 1h2.5m0.5-2h2.5m-213.5 9h2.5m-1.5 1h2.5m-1.5-5h2.5m0.5 3h2.5m-2.5-3h2.5m-1.5 1h2.5m0.5 3h2.5m-1.5 1h2.5m-2.5-3h2.5m-0.5 3h2.5m-1.5 0h2.5m-0.5-5h2.5m-2.5 5h2.5m-1.5-2h2.5m0.5-1h2.5m-1.5 3h2.5m-2.5-4h2.5m-1.5 3h2.5m-2.5-3h2.5m-2.5-1h2.5m-1.5 4h2.5m-2.5-3h2.5m-1.5-1h2.5m-1.5 4h2.5m-2.5 1h2.5m-1.5-4h2.5m-2.5-1h2.5m-1.5 5h2.5m-2.5-4h2.5m-2.5-1h2.5m-1.5 5h2.5m-2.5-3h2.5m-1.5-1h2.5m-0.5 1h2.5m-2.5 2h2.5m-1.5-1h2.5m-1.5-3h2.5m-2.5 3h2.5m-1.5-2h2.5m-2.5 3h2.5m0.5-2h2.5m-2.5-2h2.5m-0.5 0h2.5m-2.5 2h2.5m-1.5 0h2.5m-1.5 0h2.5m-2.5 1h2.5m-0.5-1h2.5m-2.5 1h2.5m-0.5-3h2.5m-1.5 5h2.5m-1.5-4h2.5m-1.5 1h2.5m-2.5 2h2.5m-2.5-1h2.5m-1.5-2h2.5m-2.5 4h2.5m-1.5-2h2.5m-2.5 1h2.5m-2.5 1h2.5m-1.5-5h2.5m-2.5 5h2.5m-1.5 0h2.5m-1.5-3h2.5m-2.5-2h2.5m-1.5 1h2.5m-2.5 4h2.5m-2.5-1h2.5m-1.5 0h2.5m-2.5-3h2.5m-1.5 3h2.5m-2.5-4h2.5m-1.5 4h2.5m-1.5 0h2.5m-1.5-1h2.5m-1.5 2h2.5m-2.5-4h2.5m-2.5 1h2.5m-1.5 3h2.5m-2.5-3h2.5m-1.5-2h2.5m-2.5 3h2.5m-0.5-3h2.5m-0.5 5h2.5m-1.5-5h2.5m-2.5 2h2.5m-1.5 3h2.5m-1.5-1h2.5m-1.5-4h2.5m-1.5 3h2.5m-2.5-1h2.5m-0.5 0h2.5m-2.5 3h2.5m-1.5-4h2.5m-2.5 2h2.5m-0.5 2h2.5m-1.5-3h2.5m-2.5 2h2.5m-1.5-2h2.5m-1.5-2h2.5m-2.5 4h2.5m-0.5 1h2.5m-1.5-2h2.5m-2.5 2h2.5m-0.5-3h2.5m-1.5 3h2.5m-0.5-3h2.5m-1.5 0h2.5m-0.5 3h2.5m1.5-5h2.5m-2.5 3h2.5m-1.5-1h2.5m1.5-1h2.5m-2.5-1h2.5m-2.5 4h2.5m0.5-2h2.5m0.5 2h2.5m-0.5-3h2.5m-2.5 3h2.5m6.5 1h2.5m-2.5-4h2.5m4.5 3h2.5m-1.5 0h2.5m-1.5-2h2.5m-2.5-1h2.5m0.5 0h2.5m-2.5 2h2.5m-0.5-2h2.5m3.5 2h2.5m-2.5 2h2.5m1.5-4h2.5m-2.5-1h2.5m1.5 3h2.5m-2.5 2h2.5m3.5-3h2.5m0.5 1h2.5m-2.5 2h2.5m-1.5-5h2.5m-2.5 2h2.5m-1.5 3h2.5m-1.5-2h2.5m-1.5 2h2.5m1.5-3h2.5m-2.5 3h2.5m1.5-3h2.5m-1.5 1h2.5m7.5 2h2.5m-1.5-3h2.5m-1.5 0h2.5m5.5 2h2.5m-1.5-3h2.5m-1.5 1h2.5m1.5 0h2.5m3.5-2h2.5m-1.5 5h2.5m1.5-3h2.5m-206.5 8h2.5m1.5 1h2.5m0.5-5h2.5m-2.5 5h2.5m-1.5 0h2.5m-0.5-3h2.5m0.5 2h2.5m-2.5-1h2.5m1.5-3h2.5m-0.5 5h2.5m-1.5-5h2.5m-2.5 3h2.5m-2.5 2h2.5m-1.5-5h2.5m-2.5 3h2.5m-2.5 1h2.5m-1.5-2h2.5m-1.5 0h2.5m-2.5 1h2.5m-2.5 2h2.5m-0.5-4h2.5m-1.5-1h2.5m-1.5 0h2.5m-1.5 2h2.5m-2.5 1h2.5m-2.5-3h2.5m-0.5 2h2.5m-1.5 0h2.5m-1.5 2h2.5m-1.5-1h2.5m-1.5-1h2.5m-1.5 0h2.5m-2.5-1h2.5m-1.5 0h2.5m-1.5 1h2.5m-2.5 3h2.5m-1.5-3h2.5m-2.5 2h2.5m-0.5 0h2.5m-1.5-1h2.5m-2.5-1h2.5m-2.5 3h2.5m-1.5-4h2.5m-1.5 3h2.5m-2.5-1h2.5m-1.5 0h2.5m-2.5 1h2.5m-1.5 0h2.5m-1.5-2h2.5m-2.5 2h2.5m-1.5 0h2.5m-1.5-4h2.5m-2.5 3h2.5m-2.5 2h2.5m-1.5-5h2.5m-2.5 2h2.5m-1.5 2h2.5m-0.5-2h2.5m-2.5-1h2.5m-1.5 1h2.5m-2.5-1h2.5m-2.5 4h2.5m-2.5-1h2.5m-1.5-2h2.5m-2.5-1h2.5m-2.5 2h2.5m-2.5 1h2.5m-1.5 1h2.5m-2.5-5h2.5m-1.5 0h2.5m-2.5 1h2.5m-1.5 4h2.5m-1.5 0h2.5m-1.5-5h2.5m-2.5 1h2.5m-2.5 2h2.5m-2.5 2h2.5m-1.5-4h2.5m-1.5 1h2.5m-2.5-1h2.5m-2.5 4h2.5m-1.5-3h2.5m-2.5-1h2.5m-1.5 4h2.5m-2.5-1h2.5m-0.5-3h2.5m-2.5 2h2.5m-1.5 2h2.5m-2.5-3h2.5m-1.5-1h2.5m-2.5 2h2.5m-2.5-1h2.5m-1.5 0h2.5m-2.5 2h2.5m-0.5-1h2.5m-1.5-2h2.5m-1.5-1h2.5m0.5 2h2.5m-2.5 1h2.5m-1.5-2h2.5m-2.5 2h2.5m-1.5 1h2.5m-2.5 1h2.5m-1.5-2h2.5m-1.5 2h2.5m-2.5-2h2.5m-1.5 0h2.5m-2.5 2h2.5m-1.5-5h2.5m-1.5 4h2.5m-1.5-4h2.5m-1.5 1h2.5m-0.5-1h2.5m-2.5 5h2.5m-1.5-5h2.5m-2.5 4h2.5m-2.5-1h2.5m-1.5-3h2.5m-0.5 2h2.5m-1.5 0h2.5m-2.5 3h2.5m-1.5-1h2.5m-1.5-1h2.5m-2.5-1h2.5m-0.5 0h2.5m-2.5 3h2.5m-1.5-2h2.5m-1.5-2h2.5m-0.5 2h2.5m-1.5 0h2.5m-2.5-3h2.5m-1.5 0h2.5m-0.5 5h2.5m0.5-5h2.5m-1.5 2h2.5m-1.5-2h2.5m0.5 5h2.5m-0.5 0h2.5m-2.5-4h2.5m-0.5 1h2.5m-1.5 2h2.5m1.5-2h2.5m-1.5-1h2.5m-2.5 3h2.5m-0.5-4h2.5m7.5 2h2.5m2.5-1h2.5m-0.5 3h2.5m-0.5-3h2.5m-0.5 1h2.5m-1.5 3h2.5m-1.5-5h2.5m-0.5 1h2.5m-0.5 1h2.5m-2.5 3h2.5m-1.5-5h2.5m-0.5 2h2.5m-2.5 3h2.5m3.5-5h2.5m-0.5 2h2.5m-1.5-1h2.5m-2.5 3h2.5m-1.5-3h2.5m-2.5-1h2.5m-1.5 4h2.5m0.5-3h2.5m-1.5 0h2.5m2.5 1h2.5m-0.5 0h2.5m-2.5 3h2.5m-0.5-3h2.5m-1.5-1h2.5m-1.5-1h2.5m0.5 4h2.5m-2.5 1h2.5m-0.5-4h2.5m4.5 3h2.5m0.5-4h2.5m0.5 2h2.5m-199.5 7h2.5m-0.5-2h2.5m-2.5 2h2.5m-2.5 2h2.5m-1.5-4h2.5m-1.5 2h2.5m-2.5 2h2.5m-2.5-5h2.5m-0.5 3h2.5m-1.5 0h2.5m-1.5 2h2.5m0.5 0h2.5m-2.5-4h2.5m-2.5 1h2.5m-2.5 2h2.5m-1.5-1h2.5m-0.5-2h2.5m-1.5 0h2.5m-2.5 4h2.5m-0.5-3h2.5m-2.5 2h2.5m-1.5-2h2.5m-2.5 2h2.5m-1.5-2h2.5m-1.5 3h2.5m-2.5-5h2.5m-1.5 2h2.5m-0.5 0h2.5m-2.5 2h2.5m-1.5-4h2.5m-2.5 3h2.5m-2.5-1h2.5m-2.5 3h2.5m-2.5-4h2.5m-1.5 1h2.5m-1.5 0h2.5m-2.5-1h2.5m-2.5-1h2.5m-2.5 3h2.5m-1.5-3h2.5m-2.5 2h2.5m-1.5 1h2.5m-0.5-3h2.5m-2.5 2h2.5m-1.5 0h2.5m-1.5 0h2.5m-1.5-1h2.5m-2.5 1h2.5m-2.5 3h2.5m-1.5-4h2.5m-1.5-1h2.5m-2.5 4h2.5m-2.5 1h2.5m-1.5-5h2.5m-2.5 3h2.5m-2.5-1h2.5m-2.5 2h2.5m-2.5 1h2.5m-1.5-3h2.5m-2.5-1h2.5m-1.5 2h2.5m-1.5-3h2.5m-1.5 3h2.5m-2.5 1h2.5m-2.5-4h2.5m-1.5 0h2.5m-2.5 2h2.5m-1.5 1h2.5m-2.5 2h2.5m-2.5-4h2.5m-1.5-1h2.5m-2.5 3h2.5m-2.5 1h2.5m-1.5 1h2.5m-2.5-5h2.5m-2.5 2h2.5m-1.5 3h2.5m-2.5-4h2.5m-2.5-1h2.5m-2.5 2h2.5m-2.5 2h2.5m-1.5 0h2.5m-2.5-1h2.5m-1.5-3h2.5m-2.5 5h2.5m-2.5-1h2.5m-1.5-4h2.5m-2.5 4h2.5m-1.5-4h2.5m-2.5 2h2.5m-2.5 2h2.5m-1.5-2h2.5m-1.5-1h2.5m-2.5-1h2.5m-1.5 1h2.5m-2.5 2h2.5m-2.5 2h2.5m-1.5-3h2.5m-2.5 2h2.5m-2.5-3h2.5m-1.5-1h2.5m-2.5 4h2.5m-2.5-3h2.5m-1.5 0h2.5m-2.5 1h2.5m-2.5 2h2.5m-1.5-2h2.5m-2.5 3h2.5m-2.5-2h2.5m-1.5 2h2.5m-0.5-3h2.5m-1.5 3h2.5m-1.5-4h2.5m-2.5-1h2.5m-1.5 1h2.5m-2.5 2h2.5m-2.5 2h2.5m-1.5-4h2.5m-2.5 3h2.5m-1.5-2h2.5m-2.5 3h2.5m-1.5-5h2.5m-1.5 1h2.5m-2.5 2h2.5m-1.5-1h2.5m-2.5 1h2.5m-2.5-3h2.5m-1.5 0h2.5m-2.5 2h2.5m-1.5-2h2.5m-2.5 5h2.5m-1.5 0h2.5m-1.5-5h2.5m-2.5 3h2.5m-2.5-2h2.5m-1.5 1h2.5m-2.5 3h2.5m-2.5-1h2.5m-2.5-1h2.5m-1.5-3h2.5m-2.5 4h2.5m-2.5-3h2.5m-1.5 4h2.5m-1.5-4h2.5m-2.5-1h2.5m-2.5 4h2.5m-1.5-1h2.5m-2.5 2h2.5m-1.5-4h2.5m-2.5 2h2.5m-1.5 2h2.5m-1.5-5h2.5m-2.5 3h2.5m-2.5 2h2.5m-1.5-5h2.5m-2.5 4h2.5m-1.5-2h2.5m-2.5 3h2.5m-1.5-4h2.5m-2.5 1h2.5m-1.5-1h2.5m-2.5-1h2.5m-2.5 2h2.5m-2.5 3h2.5m-1.5-5h2.5m-2.5 1h2.5m-1.5-1h2.5m-2.5 3h2.5m-2.5 2h2.5m-1.5-3h2.5m-2.5 1h2.5m-1.5 1h2.5m-2.5-3h2.5m-1.5 3h2.5m-1.5 0h2.5m-1.5-2h2.5m-2.5-1h2.5m-1.5 4h2.5m-2.5-2h2.5m-1.5 2h2.5m-2.5-2h2.5m-2.5-1h2.5m-0.5 2h2.5m-1.5 0h2.5m-2.5-3h2.5m-2.5 4h2.5m-0.5-5h2.5m1.5 5h2.5m-1.5-2h2.5m-0.5-1h2.5m-2.5 2h2.5m-0.5 1h2.5m-1.5-4h2.5m-0.5-1h2.5m-1.5 1h2.5m-1.5 0h2.5m0.5 0h2.5m0.5 1h2.5m-1.5-1h2.5m-2.5 2h2.5m-0.5 0h2.5m-0.5 2h2.5m-0.5-3h2.5m-2.5 2h2.5m0.5-4h2.5m2.5 0h2.5m1.5 1h2.5m2.5 0h2.5m-2.5 1h2.5m-2.5 3h2.5m-0.5-4h2.5m-2.5 1h2.5m0.5 3h2.5m-0.5-1h2.5m1.5-2h2.5m-1.5 3h2.5m-1.5-1h2.5m-2.5-4h2.5m-1.5 4h2.5m-1.5-4h2.5m0.5 2h2.5m0.5 2h2.5m-0.5 1h2.5m-2.5-4h2.5m1.5 4h2.5m-0.5-5h2.5m-1.5 3h2.5m-0.5-2h2.5m-0.5 3h2.5m-1.5 1h2.5m2.5-1h2.5m1.5-4h2.5m-185.5 10h2.5m-2.5-1h2.5m-1.5-3h2.5m-2.5 1h2.5m-2.5 3h2.5m-1.5-4h2.5m-1.5 5h2.5m-2.5-4h2.5m-2.5 3h2.5m-1.5-4h2.5m-2.5 4h2.5m-0.5-2h2.5m-1.5 2h2.5m-2.5-1h2.5m-1.5-2h2.5m-2.5 3h2.5m-2.5 1h2.5m-1.5-5h2.5m-1.5 0h2.5m-2.5 2h2.5m-2.5 3h2.5m-1.5 0h2.5m-1.5-3h2.5m-2.5 2h2.5m-2.5 1h2.5m-1.5-1h2.5m-1.5 1h2.5m-2.5-3h2.5m-1.5 1h2.5m-2.5-3h2.5m-1.5 3h2.5m-1.5 0h2.5m-2.5 1h2.5m-1.5-2h2.5m-2.5 2h2.5m-1.5-2h2.5m-1.5 0h2.5m-2.5 3h2.5m-1.5-3h2.5m-2.5-1h2.5m-2.5 2h2.5m-1.5-1h2.5m-2.5-1h2.5m-1.5 0h2.5m-2.5 1h2.5m-2.5 3h2.5m-2.5-1h2.5m-1.5-1h2.5m-2.5 2h2.5m-1.5-1h2.5m-2.5-4h2.5m-1.5 4h2.5m-1.5 0h2.5m-1.5-2h2.5m-2.5 1h2.5m-2.5-3h2.5m-1.5 0h2.5m-2.5 2h2.5m-2.5 2h2.5m-2.5-1h2.5m-2.5 2h2.5m-1.5-5h2.5m-2.5 2h2.5m-2.5 1h2.5m-1.5 0h2.5m-2.5 1h2.5m-2.5-2h2.5m-2.5-1h2.5m-1.5 1h2.5m-2.5-1h2.5m-2.5 3h2.5m-1.5-1h2.5m-2.5 2h2.5m-2.5-3h2.5m-2.5 2h2.5m-1.5 0h2.5m-2.5-1h2.5m-2.5 2h2.5m-2.5-5h2.5m-2.5 2h2.5m-1.5 2h2.5m-1.5-4h2.5m-2.5 2h2.5m-2.5 1h2.5m-2.5 2h2.5m-1.5-2h2.5m-2.5 1h2.5m-1.5-3h2.5m-2.5 3h2.5m-2.5-1h2.5m-1.5-2h2.5m-2.5 4h2.5m-1.5-5h2.5m-2.5 2h2.5m-2.5-1h2.5m-2.5 2h2.5m-2.5 2h2.5m-2.5-1h2.5m-1.5-4h2.5m-2.5 2h2.5m-2.5-1h2.5m-1.5 1h2.5m-2.5 3h2.5m-2.5-1h2.5m-2.5-4h2.5m-1.5 2h2.5m-2.5 2h2.5m-2.5 1h2.5m-0.5-3h2.5m-2.5-1h2.5m-2.5 2h2.5m-1.5 2h2.5m-2.5-1h2.5m-2.5-4h2.5m-1.5 3h2.5m-2.5-1h2.5m-2.5-1h2.5m-1.5 4h2.5m-2.5-5h2.5m-1.5 5h2.5m-2.5-5h2.5m-2.5 2h2.5m-2.5-1h2.5m-2.5 2h2.5m-1.5 0h2.5m-2.5-3h2.5m-1.5 0h2.5m-2.5 2h2.5m-2.5-1h2.5m-2.5 2h2.5m-2.5 1h2.5m-1.5 0h2.5m-2.5-2h2.5m-2.5 3h2.5m-1.5-1h2.5m-2.5-1h2.5m-2.5 2h2.5m-2.5-3h2.5m-1.5-2h2.5m-2.5 3h2.5m-2.5 2h2.5m-1.5-2h2.5m-2.5 2h2.5m-0.5-5h2.5m-2.5 2h2.5m-1.5 3h2.5m-1.5-5h2.5m-2.5 5h2.5m-1.5-1h2.5m-2.5-1h2.5m-1.5 0h2.5m-2.5-3h2.5m-2.5 1h2.5m-1.5-1h2.5m-2.5 1h2.5m-2.5 4h2.5m-1.5-2h2.5m-2.5 2h2.5m-2.5-1h2.5m-1.5-2h2.5m-2.5-1h2.5m-1.5 0h2.5m-2.5 2h2.5m-2.5 2h2.5m-1.5-5h2.5m-1.5 4h2.5m-2.5-1h2.5m-2.5 2h2.5m-2.5-5h2.5m-1.5 0h2.5m-2.5 1h2.5m-2.5 2h2.5m-1.5-2h2.5m-2.5 4h2.5m-1.5 0h2.5m-1.5-2h2.5m-2.5 2h2.5m-1.5-3h2.5m-2.5-1h2.5m-2.5 3h2.5m-1.5-4h2.5m-2.5 3h2.5m-1.5-3h2.5m-2.5 3h2.5m-2.5 2h2.5m-1.5-3h2.5m-2.5 1h2.5m-1.5-3h2.5m-2.5 3h2.5m-2.5 2h2.5m-1.5-2h2.5m-2.5-2h2.5m-1.5 1h2.5m-2.5 2h2.5m-1.5-4h2.5m-2.5 5h2.5m-1.5-5h2.5m-2.5 1h2.5m-1.5 1h2.5m-1.5 2h2.5m-2.5-2h2.5m-2.5 3h2.5m-1.5-1h2.5m-2.5 1h2.5m-1.5-5h2.5m-1.5 0h2.5m-2.5 3h2.5m-2.5 2h2.5m-1.5 0h2.5m-2.5-5h2.5m-2.5 2h2.5m-2.5 1h2.5m-0.5-2h2.5m-2.5 4h2.5m-1.5-5h2.5m-2.5 1h2.5m-1.5 1h2.5m-1.5 0h2.5m-2.5 2h2.5m-2.5 1h2.5m-2.5-5h2.5m-1.5 4h2.5m-1.5 0h2.5m-2.5 1h2.5m-1.5-3h2.5m-1.5 0h2.5m-2.5 3h2.5m-1.5 0h2.5m-1.5-4h2.5m-2.5 3h2.5m-1.5-2h2.5m-1.5-2h2.5m-0.5 2h2.5m-1.5 3h2.5m-1.5-5h2.5m-0.5 5h2.5m-1.5-3h2.5m-1.5 2h2.5m2.5 1h2.5m-1.5 0h2.5m-1.5-2h2.5m-1.5 2h2.5m-1.5-2h2.5m3.5-2h2.5m1.5-1h2.5m1.5 3h2.5m-2.5 2h2.5m0.5-4h2.5m-1.5 3h2.5m1.5-2h2.5m11.5 3h2.5m-1.5-4h2.5m-2.5 3h2.5m-0.5-4h2.5m-2.5 2h2.5m-2.5 3h2.5m-1.5 0h2.5m-1.5-3h2.5m0.5 0h2.5m0.5-2h2.5m-1.5 2h2.5m-2.5 3h2.5m11.5-5h2.5m-1.5 0h2.5m-183.5 6h2.5m-2.5 5h2.5m-1.5-5h2.5m-2.5 3h2.5m-0.5 1h2.5m-1.5-4h2.5m-2.5 4h2.5m-2.5 1h2.5m-1.5-4h2.5m-2.5 3h2.5m-1.5-1h2.5m-1.5 2h2.5m-1.5 0h2.5m-2.5-3h2.5m-1.5-1h2.5m-1.5 0h2.5m-1.5 4h2.5m-2.5-4h2.5m-2.5-1h2.5m-2.5 2h2.5m-1.5-2h2.5m-1.5 1h2.5m-2.5 2h2.5m-1.5 0h2.5m-2.5 1h2.5m-1.5-1h2.5m-0.5-1h2.5m-2.5 3h2.5m-0.5-4h2.5m-1.5-1h2.5m-2.5 1h2.5m-1.5 1h2.5m-2.5 3h2.5m-1.5-1h2.5m-2.5 1h2.5m-2.5-5h2.5m-1.5 2h2.5m-2.5 3h2.5m-2.5-4h2.5m-1.5 0h2.5m-2.5-1h2.5m-2.5 3h2.5m-1.5 0h2.5m-2.5 2h2.5m-1.5-3h2.5m-2.5 2h2.5m-1.5-1h2.5m-2.5 1h2.5m-1.5 1h2.5m-2.5-4h2.5m-1.5 3h2.5m-2.5 1h2.5m-2.5-2h2.5m-1.5-2h2.5m-2.5 4h2.5m-0.5-2h2.5m-2.5 2h2.5m-1.5-4h2.5m-2.5 2h2.5m-2.5-1h2.5m-2.5 2h2.5m-1.5-4h2.5m-2.5 4h2.5m-2.5 1h2.5m-1.5-4h2.5m-2.5 2h2.5m-2.5 2h2.5m-1.5-2h2.5m-2.5 1h2.5m-1.5-1h2.5m-2.5-1h2.5m-2.5 3h2.5m-1.5-4h2.5m-1.5 2h2.5m-2.5-1h2.5m-2.5 3h2.5m-1.5-2h2.5m-2.5-2h2.5m-1.5 2h2.5m-2.5-1h2.5m-2.5 2h2.5m-1.5 1h2.5m-2.5-4h2.5m-1.5 0h2.5m-2.5 1h2.5m-2.5 3h2.5m-2.5-1h2.5m-2.5-4h2.5m-1.5 1h2.5m-2.5-1h2.5m-2.5 4h2.5m-1.5-1h2.5m-1.5-3h2.5m-2.5 2h2.5m-2.5 1h2.5m-2.5 2h2.5m-1.5-4h2.5m-2.5 4h2.5m-1.5-4h2.5m-2.5-1h2.5m-2.5 3h2.5m-2.5-1h2.5m-2.5 2h2.5m-2.5 1h2.5m-1.5-2h2.5m-2.5-1h2.5m-2.5 2h2.5m-1.5 1h2.5m-2.5-4h2.5m-2.5 2h2.5m-2.5-1h2.5m-2.5 2h2.5m-1.5-4h2.5m-2.5 2h2.5m-1.5-1h2.5m-2.5-1h2.5m-2.5 3h2.5m-2.5-1h2.5m-2.5 3h2.5m-2.5-1h2.5m-1.5-1h2.5m-2.5-1h2.5m-2.5 2h2.5m-2.5 1h2.5m-1.5-4h2.5m-2.5 2h2.5m-1.5-3h2.5m-2.5 1h2.5m-2.5 2h2.5m-2.5 2h2.5m-1.5-2h2.5m-2.5-1h2.5m-2.5 3h2.5m-1.5-4h2.5m-2.5 2h2.5m-2.5 2h2.5m-1.5 0h2.5m-1.5-1h2.5m-2.5-4h2.5m-2.5 2h2.5m-1.5 3h2.5m-2.5-4h2.5m-2.5 1h2.5m-1.5 1h2.5m-2.5-1h2.5m-2.5 3h2.5m-1.5 0h2.5m-2.5-1h2.5m-2.5-4h2.5m-2.5 3h2.5m-1.5-3h2.5m-2.5 2h2.5m-1.5-2h2.5m-2.5 5h2.5m-1.5-5h2.5m-2.5 3h2.5m-2.5 1h2.5m-1.5-4h2.5m-2.5 2h2.5m-2.5 3h2.5m-2.5-1h2.5m-1.5-4h2.5m-2.5 4h2.5m-2.5-1h2.5m-1.5-2h2.5m-2.5 3h2.5m-1.5-4h2.5m-2.5 1h2.5m-2.5 2h2.5m-2.5 2h2.5m-1.5-1h2.5m-2.5 1h2.5m-1.5-3h2.5m-2.5 3h2.5m-1.5 0h2.5m-1.5-4h2.5m-2.5-1h2.5m-1.5 4h2.5m-2.5-4h2.5m-1.5 4h2.5m-2.5-3h2.5m-2.5 1h2.5m-1.5 0h2.5m-1.5-1h2.5m-2.5-1h2.5m-2.5 4h2.5m-1.5-3h2.5m-1.5-1h2.5m-1.5 1h2.5m-1.5 4h2.5m-2.5-5h2.5m-2.5 2h2.5m-1.5-1h2.5m-2.5-1h2.5m-2.5 2h2.5m-1.5-1h2.5m-2.5 2h2.5m-2.5-1h2.5m-1.5-1h2.5m-2.5-1h2.5m-2.5 2h2.5m-2.5 3h2.5m-1.5-5h2.5m-2.5 4h2.5m-1.5-2h2.5m-2.5 2h2.5m-1.5-3h2.5m-2.5 1h2.5m-2.5 2h2.5m-1.5-2h2.5m-2.5 2h2.5m-1.5-1h2.5m-1.5 2h2.5m-2.5-1h2.5m-2.5-4h2.5m-1.5 4h2.5m-2.5-3h2.5m-2.5 4h2.5m-1.5-2h2.5m-1.5-1h2.5m-2.5 3h2.5m-1.5-5h2.5m-1.5 2h2.5m-2.5 3h2.5m-2.5-5h2.5m-1.5 0h2.5m-1.5 0h2.5m-1.5 0h2.5m-1.5 0h2.5m-2.5 1h2.5m-1.5-1h2.5m-2.5 4h2.5m-0.5-4h2.5m-2.5 1h2.5m-2.5 3h2.5m-1.5-4h2.5m-2.5 5h2.5m1.5-1h2.5m-1.5-1h2.5m0.5 2h2.5m-1.5-4h2.5m-2.5 2h2.5m-2.5 1h2.5m-0.5 0h2.5m-2.5-3h2.5m-1.5 0h2.5m-2.5 4h2.5m0.5 0h2.5m-1.5 0h2.5m-1.5-4h2.5m-1.5-1h2.5m-1.5 3h2.5m-0.5-2h2.5m-1.5 3h2.5m-2.5-3h2.5m-1.5 1h2.5m-2.5-1h2.5m-1.5 1h2.5m-1.5 2h2.5m-1.5-1h2.5m-2.5-1h2.5m-2.5 2h2.5m4.5-1h2.5m1.5-2h2.5m-0.5 2h2.5m-1.5-2h2.5m0.5-1h2.5m0.5 4h2.5m-1.5-4h2.5m-0.5 4h2.5m-0.5-3h2.5m2.5-1h2.5m-0.5 4h2.5m2.5-1h2.5m2.5-3h2.5m-173.5 6h2.5m-2.5 2h2.5m-1.5 3h2.5m-2.5-4h2.5m-1.5 3h2.5m-2.5-4h2.5m-1.5 2h2.5m-1.5-2h2.5m-2.5 1h2.5m1.5 4h2.5m-1.5-1h2.5m-2.5-1h2.5m-0.5-1h2.5m-0.5 0h2.5m-2.5-1h2.5m-1.5 3h2.5m-1.5-1h2.5m-2.5 1h2.5m-2.5-3h2.5m-1.5 0h2.5m-2.5-1h2.5m-1.5 5h2.5m-2.5-5h2.5m-1.5 5h2.5m-2.5-5h2.5m-2.5 1h2.5m-1.5 0h2.5m-2.5 3h2.5m-1.5-4h2.5m-2.5 2h2.5m-2.5 1h2.5m-2.5 2h2.5m-1.5-1h2.5m-2.5-1h2.5m-1.5 0h2.5m-1.5-3h2.5m-2.5 2h2.5m-2.5 1h2.5m-2.5 2h2.5m-1.5 0h2.5m-2.5-1h2.5m-1.5-3h2.5m-1.5 0h2.5m-2.5 3h2.5m-2.5 1h2.5m-1.5-5h2.5m-2.5 4h2.5m-1.5-2h2.5m-2.5 2h2.5m-1.5-4h2.5m-2.5 2h2.5m-2.5-1h2.5m-2.5 3h2.5m-1.5-2h2.5m-2.5 2h2.5m-1.5-4h2.5m-2.5 2h2.5m-2.5 2h2.5m-2.5-1h2.5m-2.5 2h2.5m-1.5-2h2.5m-2.5 2h2.5m-2.5-1h2.5m-2.5-4h2.5m-1.5 4h2.5m-2.5 1h2.5m-1.5 0h2.5m-2.5-3h2.5m-2.5-1h2.5m-2.5 3h2.5m-1.5-1h2.5m-2.5-3h2.5m-1.5 1h2.5m-2.5 3h2.5m-2.5-1h2.5m-2.5-3h2.5m-1.5 4h2.5m-2.5-4h2.5m-2.5 2h2.5m-2.5 1h2.5m-2.5 2h2.5m-1.5-5h2.5m-1.5 2h2.5m-2.5-1h2.5m-1.5 2h2.5m-1.5-3h2.5m-2.5 4h2.5m-1.5-4h2.5m-2.5 1h2.5m-2.5 2h2.5m-2.5 2h2.5m-2.5-1h2.5m-1.5-3h2.5m-1.5-1h2.5m-2.5 4h2.5m-2.5-1h2.5m-1.5-1h2.5m-2.5-1h2.5m-2.5 3h2.5m-2.5 1h2.5m-1.5-4h2.5m-2.5 2h2.5m-2.5 1h2.5m-2.5-4h2.5m-1.5 0h2.5m-2.5 1h2.5m-1.5 2h2.5m-2.5-3h2.5m-2.5 2h2.5m-2.5 2h2.5m-1.5-3h2.5m-2.5 3h2.5m-2.5-1h2.5m-2.5 2h2.5m-2.5-3h2.5m-1.5-1h2.5m-2.5 3h2.5m-2.5-1h2.5m-2.5 2h2.5m-1.5-2h2.5m-2.5 2h2.5m-2.5-5h2.5m-2.5 2h2.5m-2.5-1h2.5m-2.5 3h2.5m-1.5 0h2.5m-2.5-1h2.5m-2.5 2h2.5m-2.5-3h2.5m-1.5-2h2.5m-2.5 1h2.5m-2.5 4h2.5m-1.5 0h2.5m-2.5-5h2.5m-2.5 2h2.5m-2.5 2h2.5m-2.5-1h2.5m-1.5 0h2.5m-2.5 2h2.5m-2.5-4h2.5m-2.5-1h2.5m-1.5 1h2.5m-2.5 3h2.5m-2.5-1h2.5m-2.5 2h2.5m-1.5-5h2.5m-2.5 3h2.5m-1.5-3h2.5m-2.5 2h2.5m-2.5 2h2.5m-1.5-4h2.5m-2.5 1h2.5m-2.5 4h2.5m-1.5-3h2.5m-2.5 1h2.5m-2.5 2h2.5m-1.5-5h2.5m-2.5 4h2.5m-2.5 1h2.5m-1.5-3h2.5m-2.5-1h2.5m-2.5 3h2.5m-2.5 1h2.5m-1.5-2h2.5m-2.5 2h2.5m-2.5-1h2.5m-2.5-4h2.5m-1.5 0h2.5m-2.5 2h2.5m-2.5 2h2.5m-2.5-1h2.5m-1.5 1h2.5m-2.5-1h2.5m-2.5 2h2.5m-2.5-5h2.5m-1.5 2h2.5m-2.5 1h2.5m-2.5 2h2.5m-1.5-5h2.5m-2.5 2h2.5m-2.5 3h2.5m-1.5-4h2.5m-2.5 3h2.5m-1.5-1h2.5m-2.5 2h2.5m-2.5-5h2.5m-1.5 4h2.5m-1.5 1h2.5m-2.5-4h2.5m-2.5 3h2.5m-2.5-1h2.5m-1.5-3h2.5m-2.5 2h2.5m-2.5-1h2.5m-2.5 3h2.5m-2.5-1h2.5m-2.5 2h2.5m-1.5 0h2.5m-2.5-4h2.5m-2.5 3h2.5m-2.5-1h2.5m-1.5-3h2.5m-2.5 2h2.5m-2.5 2h2.5m-2.5-1h2.5m-1.5-3h2.5m-2.5 2h2.5m-2.5-1h2.5m-2.5 2h2.5m-2.5 2h2.5m-1.5 0h2.5m-2.5-3h2.5m-1.5 0h2.5m-2.5-1h2.5m-2.5 2h2.5m-1.5-3h2.5m-2.5 1h2.5m-2.5 3h2.5m-2.5 1h2.5m-1.5-2h2.5m-2.5 2h2.5m-2.5-3h2.5m-1.5 0h2.5m-1.5-1h2.5m-2.5 1h2.5m-2.5 1h2.5m-1.5-2h2.5m-2.5 3h2.5m-2.5-1h2.5m-2.5-3h2.5m-2.5 2h2.5m-1.5-1h2.5m-2.5 2h2.5m-1.5 2h2.5m-2.5-3h2.5m-1.5 2h2.5m-2.5-4h2.5m-2.5 2h2.5m-1.5-2h2.5m-2.5 2h2.5m-2.5 2h2.5m-1.5 1h2.5m-2.5-5h2.5m-1.5 5h2.5m-1.5-3h2.5m-2.5 1h2.5m-1.5 2h2.5m-1.5-5h2.5m-2.5 4h2.5m-2.5 1h2.5m-1.5-5h2.5m-2.5 2h2.5m-2.5 1h2.5m-1.5 0h2.5m-1.5-3h2.5m-2.5 5h2.5m-1.5-4h2.5m-2.5-1h2.5m-1.5 4h2.5m-0.5-3h2.5m-2.5 4h2.5m0.5-4h2.5m-1.5 0h2.5m-1.5 4h2.5m-2.5-3h2.5m0.5 3h2.5m-1.5-4h2.5m-0.5 4h2.5m-1.5-4h2.5m-2.5 3h2.5m-1.5-4h2.5m1.5 2h2.5m-2.5-2h2.5m-0.5 5h2.5m-2.5-2h2.5m2.5-2h2.5m-2.5 1h2.5m0.5-2h2.5m2.5 0h2.5m-2.5 3h2.5m0.5 1h2.5m0.5-4h2.5m-2.5 4h2.5m-1.5-1h2.5m-2.5-1h2.5m0.5-2h2.5m3.5 1h2.5m-0.5 3h2.5m-1.5-2h2.5m-1.5 1h2.5m0.5-2h2.5m4.5 1h2.5m6.5-2h2.5m-171.5 6h2.5m-2.5 2h2.5m-1.5 3h2.5m-1.5-2h2.5m-2.5 1h2.5m-1.5-4h2.5m-1.5 5h2.5m-1.5-3h2.5m-0.5-1h2.5m-2.5 1h2.5m-2.5 2h2.5m-0.5-4h2.5m-2.5 3h2.5m-2.5 2h2.5m-2.5-4h2.5m-0.5 1h2.5m-1.5 2h2.5m-2.5-3h2.5m-2.5 2h2.5m-1.5-2h2.5m-1.5-1h2.5m-1.5 1h2.5m-2.5-1h2.5m-2.5 4h2.5m-2.5-1h2.5m-1.5-3h2.5m-2.5 3h2.5m-2.5-1h2.5m-1.5 0h2.5m-1.5-1h2.5m-2.5-1h2.5m-1.5 1h2.5m-2.5 4h2.5m-1.5-3h2.5m-2.5 3h2.5m-1.5-1h2.5m-2.5 1h2.5m-1.5-5h2.5m-2.5 4h2.5m-2.5-3h2.5m-1.5 2h2.5m-2.5-1h2.5m-2.5 2h2.5m-1.5-2h2.5m-1.5 2h2.5m-2.5-4h2.5m-1.5 3h2.5m-2.5-1h2.5m-2.5-2h2.5m-1.5 4h2.5m-2.5-1h2.5m-2.5-1h2.5m-1.5-1h2.5m-2.5 1h2.5m-1.5-2h2.5m-1.5 4h2.5m-2.5 1h2.5m-1.5-3h2.5m-2.5-2h2.5m-2.5 1h2.5m-2.5 2h2.5m-1.5 0h2.5m-2.5 1h2.5m-2.5 1h2.5m-1.5 0h2.5m-2.5-4h2.5m-2.5 2h2.5m-2.5 1h2.5m-1.5-3h2.5m-2.5-1h2.5m-2.5 2h2.5m-2.5 2h2.5m-1.5-3h2.5m-2.5 2h2.5m-2.5-1h2.5m-2.5 3h2.5m-1.5-2h2.5m-2.5 1h2.5m-1.5-3h2.5m-2.5 1h2.5m-2.5 3h2.5m-1.5-4h2.5m-2.5 2h2.5m-2.5-1h2.5m-1.5-2h2.5m-2.5 2h2.5m-2.5 2h2.5m-1.5-3h2.5m-2.5-1h2.5m-2.5 5h2.5m-2.5-1h2.5m-1.5 0h2.5m-2.5 1h2.5m-2.5-4h2.5m-2.5 2h2.5m-1.5 2h2.5m-2.5-4h2.5m-1.5 0h2.5m-2.5 2h2.5m-2.5 2h2.5m-2.5-1h2.5m-2.5-4h2.5m-1.5 4h2.5m-2.5-3h2.5m-2.5-1h2.5m-2.5 5h2.5m-1.5-1h2.5m-2.5-3h2.5m-2.5 2h2.5m-1.5-2h2.5m-2.5 2h2.5m-2.5 1h2.5m-2.5 1h2.5m-1.5-4h2.5m-1.5 2h2.5m-2.5-1h2.5m-2.5 2h2.5m-1.5-4h2.5m-2.5 3h2.5m-2.5-1h2.5m-1.5-1h2.5m-2.5-1h2.5m-2.5 2h2.5m-2.5 3h2.5m-1.5-4h2.5m-2.5-1h2.5m-2.5 3h2.5m-2.5-1h2.5m-2.5 2h2.5m-1.5-4h2.5m-2.5 1h2.5m-2.5 2h2.5m-2.5-1h2.5m-2.5 3h2.5m-1.5-4h2.5m-2.5-1h2.5m-2.5 2h2.5m-1.5-1h2.5m-2.5 1h2.5m-2.5 3h2.5m-1.5-5h2.5m-2.5 1h2.5m-2.5 2h2.5m-2.5 2h2.5m-1.5-4h2.5m-2.5-1h2.5m-2.5 2h2.5m-2.5 2h2.5m-1.5-3h2.5m-2.5 2h2.5m-2.5-1h2.5m-2.5-2h2.5m-1.5 5h2.5m-1.5-4h2.5m-2.5-1h2.5m-2.5 3h2.5m-1.5 0h2.5m-1.5-1h2.5m-2.5 3h2.5m-1.5-2h2.5m-2.5-1h2.5m-2.5 3h2.5m-2.5-1h2.5m-2.5-4h2.5m-2.5 1h2.5m-1.5 4h2.5m-2.5-5h2.5m-2.5 3h2.5m-2.5-1h2.5m-2.5 2h2.5m-1.5 1h2.5m-2.5-4h2.5m-1.5 1h2.5m-2.5 3h2.5m-2.5-1h2.5m-1.5-3h2.5m-2.5-1h2.5m-2.5 3h2.5m-2.5-1h2.5m-2.5 3h2.5m-2.5-1h2.5m-1.5-1h2.5m-2.5 2h2.5m-1.5-5h2.5m-2.5 3h2.5m-2.5 2h2.5m-2.5-1h2.5m-1.5-3h2.5m-2.5 4h2.5m-2.5-1h2.5m-1.5 1h2.5m-1.5-4h2.5m-2.5-1h2.5m-2.5 2h2.5m-2.5 3h2.5m-1.5-4h2.5m-2.5 2h2.5m-2.5-1h2.5m-2.5-2h2.5m-1.5 3h2.5m-1.5-2h2.5m-2.5 3h2.5m-1.5-3h2.5m-1.5 1h2.5m-2.5-1h2.5m-2.5 2h2.5m-1.5 2h2.5m-2.5-1h2.5m-2.5-3h2.5m-2.5 1h2.5m-1.5 2h2.5m-2.5-4h2.5m-1.5 1h2.5m-2.5 1h2.5m-2.5 2h2.5m-1.5 0h2.5m-2.5-4h2.5m-2.5 2h2.5m-1.5 1h2.5m-2.5 1h2.5m-2.5-2h2.5m-1.5-2h2.5m-1.5 1h2.5m-2.5 4h2.5m-2.5-1h2.5m-0.5-2h2.5m-1.5-2h2.5m-2.5 4h2.5m-1.5-3h2.5m-2.5 2h2.5m-2.5-3h2.5m-1.5 1h2.5m-2.5 1h2.5m-2.5 2h2.5m-1.5-3h2.5m-2.5-1h2.5m-1.5 0h2.5m-1.5 2h2.5m-2.5 2h2.5m-1.5 1h2.5m-2.5-5h2.5m-2.5 1h2.5m-1.5 1h2.5m-1.5 3h2.5m-1.5-5h2.5m-1.5 0h2.5m-1.5 0h2.5m-2.5 2h2.5m-1.5 1h2.5m-2.5 2h2.5m-1.5-5h2.5m-0.5 3h2.5m-1.5-1h2.5m-0.5-2h2.5m2.5 2h2.5m-1.5-2h2.5m-1.5 5h2.5m-2.5-1h2.5m-1.5 1h2.5m-0.5-5h2.5m4.5 4h2.5m-1.5-2h2.5m-1.5-2h2.5m-2.5 4h2.5m-0.5 0h2.5m0.5 1h2.5m6.5-5h2.5m-2.5 3h2.5m4.5-3h2.5m1.5 0h2.5m-149.5 11h2.5m0.5 0h2.5m-2.5-4h2.5m-1.5 1h2.5m-2.5-2h2.5m-1.5 4h2.5m-1.5-4h2.5m-2.5 2h2.5m-1.5 0h2.5m-2.5 1h2.5m-1.5-1h2.5m-2.5-1h2.5m-2.5 2h2.5m-1.5 2h2.5m-1.5-1h2.5m-2.5-1h2.5m-0.5-2h2.5m-2.5 3h2.5m-1.5-2h2.5m-2.5-1h2.5m-0.5 1h2.5m-2.5 1h2.5m-2.5-3h2.5m-1.5 5h2.5m-1.5-4h2.5m-1.5 3h2.5m-1.5-3h2.5m-2.5 4h2.5m-0.5-4h2.5m-2.5 4h2.5m-1.5 0h2.5m-2.5-5h2.5m-2.5 1h2.5m-2.5 3h2.5m-2.5-1h2.5m-1.5 2h2.5m-2.5-4h2.5m-2.5 3h2.5m-2.5-1h2.5m-1.5-1h2.5m-2.5-1h2.5m-2.5 3h2.5m-1.5-3h2.5m-1.5 1h2.5m-2.5-1h2.5m-2.5 4h2.5m-1.5-4h2.5m-2.5 2h2.5m-2.5 2h2.5m-1.5-2h2.5m-0.5-3h2.5m-1.5 1h2.5m-2.5 2h2.5m-2.5 2h2.5m-2.5-3h2.5m-1.5-1h2.5m-2.5 2h2.5m-2.5 2h2.5m-1.5-4h2.5m-2.5 4h2.5m-1.5-3h2.5m-2.5-1h2.5m-2.5 3h2.5m-2.5-1h2.5m-2.5 2h2.5m-1.5-4h2.5m-2.5 2h2.5m-1.5 2h2.5m-2.5-3h2.5m-2.5 1h2.5m-1.5 2h2.5m-2.5-5h2.5m-2.5 2h2.5m-1.5-1h2.5m-1.5 4h2.5m-2.5-3h2.5m-2.5-1h2.5m-2.5 3h2.5m-1.5-2h2.5m-2.5 3h2.5m-1.5-1h2.5m-2.5-1h2.5m-1.5-2h2.5m-2.5-1h2.5m-2.5 2h2.5m-2.5 2h2.5m-2.5-1h2.5m-1.5-3h2.5m-2.5 2h2.5m-2.5 1h2.5m-2.5 2h2.5m-1.5-5h2.5m-2.5 2h2.5m-2.5-1h2.5m-2.5 2h2.5m-1.5-2h2.5m-2.5 2h2.5m-2.5 2h2.5m-1.5-4h2.5m-2.5-1h2.5m-2.5 2h2.5m-2.5 2h2.5m-1.5-1h2.5m-1.5-1h2.5m-2.5 2h2.5m-2.5-1h2.5m-2.5 2h2.5m-2.5-5h2.5m-1.5 0h2.5m-2.5 2h2.5m-1.5-1h2.5m-2.5 2h2.5m-2.5-3h2.5m-1.5 2h2.5m-2.5-1h2.5m-2.5 2h2.5m-2.5-3h2.5m-1.5 5h2.5m-2.5-3h2.5m-2.5-1h2.5m-2.5 3h2.5m-2.5-1h2.5m-1.5 2h2.5m-2.5-5h2.5m-2.5 3h2.5m-1.5-1h2.5m-1.5-2h2.5m-2.5 2h2.5m-2.5 1h2.5m-1.5 0h2.5m-2.5 2h2.5m-2.5-5h2.5m-2.5 2h2.5m-1.5-2h2.5m-2.5 2h2.5m-1.5-2h2.5m-2.5 2h2.5m-2.5 2h2.5m-1.5-4h2.5m-2.5 2h2.5m-2.5 1h2.5m-1.5-1h2.5m-2.5-1h2.5m-2.5 3h2.5m-1.5-3h2.5m-2.5 4h2.5m-1.5-3h2.5m-2.5-1h2.5m-2.5 3h2.5m-2.5 1h2.5m-1.5-5h2.5m-2.5 2h2.5m-2.5 1h2.5m-1.5 0h2.5m-1.5 1h2.5m-2.5-1h2.5m-2.5 2h2.5m-2.5-5h2.5m-1.5 0h2.5m-2.5 1h2.5m-1.5 3h2.5m-2.5-1h2.5m-2.5 2h2.5m-2.5-4h2.5m-1.5-1h2.5m-1.5 1h2.5m-2.5 3h2.5m-1.5-2h2.5m-2.5-1h2.5m-2.5 3h2.5m-1.5 1h2.5m-2.5-4h2.5m-2.5 2h2.5m-1.5 2h2.5m-1.5-2h2.5m-2.5 2h2.5m-2.5-1h2.5m-1.5-4h2.5m-2.5 3h2.5m-1.5-3h2.5m-1.5 4h2.5m-2.5-1h2.5m-1.5-2h2.5m-2.5 4h2.5m-1.5-4h2.5m-2.5-1h2.5m-1.5 1h2.5m-2.5 4h2.5m-1.5-5h2.5m-2.5 3h2.5m-2.5 1h2.5m-0.5-4h2.5m-2.5 4h2.5m-2.5-1h2.5m-1.5-1h2.5m-2.5 2h2.5m-1.5-2h2.5m-2.5 1h2.5m-2.5-2h2.5m-2.5-1h2.5m-1.5 0h2.5m-1.5 0h2.5m-1.5 3h2.5m-2.5-2h2.5m-0.5 2h2.5m-2.5-3h2.5m-2.5 4h2.5m-1.5 0h2.5m-2.5-1h2.5m-1.5-1h2.5m-2.5 3h2.5m-1.5-1h2.5m-1.5-4h2.5m-1.5 3h2.5m-1.5-1h2.5m-2.5-2h2.5m-0.5 4h2.5m-1.5-4h2.5m-2.5 1h2.5m-1.5 1h2.5m-0.5 1h2.5m-2.5 1h2.5m-1.5-3h2.5m0.5 4h2.5m-1.5-5h2.5m-2.5 3h2.5m-1.5-3h2.5m-2.5 3h2.5m-2.5 2h2.5m-1.5-5h2.5m-2.5 4h2.5m-1.5-1h2.5m-0.5-2h2.5m1.5 1h2.5m-0.5-2h2.5m-2.5 2h2.5m-1.5 3h2.5m-0.5-2h2.5m1.5 2h2.5m-1.5-4h2.5m7.5 0h2.5m-1.5 1h2.5m-139.5 7h2.5m-1.5-2h2.5m-1.5 3h2.5m-1.5-4h2.5m-1.5 4h2.5m-1.5-2h2.5m-2.5 3h2.5m0.5-2h2.5m-2.5-2h2.5m0.5 3h2.5m-2.5 1h2.5m-1.5-2h2.5m-0.5-2h2.5m-1.5-1h2.5m-1.5 2h2.5m-1.5 3h2.5m-2.5-5h2.5m-0.5 3h2.5m-1.5-3h2.5m-1.5 0h2.5m-2.5 2h2.5m-0.5-1h2.5m-2.5-1h2.5m-2.5 5h2.5m-1.5-4h2.5m-2.5 2h2.5m-1.5-1h2.5m-2.5-1h2.5m-1.5 0h2.5m-2.5 2h2.5m-2.5-3h2.5m-1.5 4h2.5m-2.5 1h2.5m-2.5-3h2.5m-0.5-2h2.5m-2.5 2h2.5m-2.5 2h2.5m-1.5-2h2.5m-2.5 3h2.5m-1.5-3h2.5m-2.5 3h2.5m-1.5-4h2.5m-2.5 1h2.5m-1.5-1h2.5m-2.5-1h2.5m-2.5 3h2.5m-1.5 1h2.5m-1.5-2h2.5m-2.5 2h2.5m-1.5 0h2.5m-1.5-3h2.5m-2.5 4h2.5m-0.5-5h2.5m-2.5 2h2.5m-2.5 2h2.5m-1.5-3h2.5m-2.5 1h2.5m-2.5 3h2.5m-1.5 0h2.5m-2.5-4h2.5m-1.5 2h2.5m-2.5-1h2.5m-2.5 3h2.5m-2.5-4h2.5m-1.5-1h2.5m-2.5 1h2.5m-2.5 2h2.5m-2.5 2h2.5m-2.5-1h2.5m-0.5-2h2.5m-2.5-2h2.5m-1.5 1h2.5m-1.5-1h2.5m-1.5 0h2.5m-2.5 2h2.5m-2.5 3h2.5m-2.5-1h2.5m-1.5-4h2.5m-2.5 3h2.5m-2.5-1h2.5m-2.5 2h2.5m-1.5 0h2.5m-2.5-4h2.5m-2.5 2h2.5m-1.5-1h2.5m-2.5 1h2.5m-2.5 2h2.5m-0.5-3h2.5m-2.5 2h2.5m-2.5-1h2.5m-1.5-1h2.5m-2.5 2h2.5m-2.5 1h2.5m-1.5 0h2.5m-1.5-1h2.5m-2.5 2h2.5m-2.5-5h2.5m-1.5 0h2.5m-2.5 1h2.5m-2.5 1h2.5m-1.5 2h2.5m-2.5-3h2.5m-1.5 2h2.5m-2.5-2h2.5m-1.5 1h2.5m-1.5 1h2.5m-2.5 2h2.5m-2.5-1h2.5m-2.5-3h2.5m-1.5 2h2.5m-2.5 2h2.5m-2.5-1h2.5m-2.5-4h2.5m-1.5 3h2.5m-2.5-1h2.5m-2.5 2h2.5m-1.5 1h2.5m-2.5-1h2.5m-2.5-2h2.5m-1.5-2h2.5m-2.5 3h2.5m-2.5-1h2.5m-2.5 3h2.5m-1.5-5h2.5m-2.5 2h2.5m-2.5 3h2.5m-1.5-2h2.5m-2.5 1h2.5m-2.5 1h2.5m-1.5-1h2.5m-1.5-4h2.5m-2.5 2h2.5m-1.5-1h2.5m-2.5 2h2.5m-2.5 2h2.5m-2.5-1h2.5m-1.5 0h2.5m-1.5-2h2.5m-1.5 2h2.5m-1.5-4h2.5m-2.5 1h2.5m-2.5 2h2.5m-1.5 2h2.5m-2.5-1h2.5m-2.5-3h2.5m-1.5 1h2.5m-2.5 2h2.5m-1.5-4h2.5m-2.5 1h2.5m-1.5 1h2.5m-2.5-2h2.5m-1.5 0h2.5m-2.5 2h2.5m-2.5 3h2.5m-1.5-1h2.5m-2.5-3h2.5m-1.5 2h2.5m-1.5-3h2.5m-2.5 3h2.5m-1.5-3h2.5m-2.5 1h2.5m-1.5 0h2.5m-2.5-1h2.5m-2.5 4h2.5m-1.5-2h2.5m-1.5-1h2.5m-1.5 0h2.5m-1.5 0h2.5m-2.5 1h2.5m-2.5 3h2.5m-1.5 0h2.5m-2.5-5h2.5m-1.5 5h2.5m-1.5-5h2.5m-1.5 1h2.5m-2.5 2h2.5m-2.5 1h2.5m-0.5-4h2.5m-2.5 1h2.5m-1.5 4h2.5m-0.5 0h2.5m-2.5-4h2.5m-1.5 4h2.5m-1.5 0h2.5m-2.5-1h2.5m-1.5-2h2.5m-1.5 1h2.5m-2.5 2h2.5m-1.5-4h2.5m-2.5 3h2.5m-2.5 1h2.5m-1.5 0h2.5m-1.5-1h2.5m-0.5-1h2.5m-0.5 0h2.5m-2.5 1h2.5m-2.5-3h2.5m0.5 0h2.5m-0.5 1h2.5m-1.5-1h2.5m-0.5 3h2.5m-0.5-1h2.5m-1.5-1h2.5m-0.5 2h2.5m-0.5-4h2.5m9.5 0h2.5m-135.5 8h2.5m-2.5 1h2.5m0.5 2h2.5m-1.5-1h2.5m-0.5 0h2.5m-1.5-3h2.5m-2.5 3h2.5m-1.5-1h2.5m-0.5-3h2.5m-1.5 2h2.5m-2.5-1h2.5m-2.5 2h2.5m-2.5 1h2.5m-1.5-2h2.5m-2.5 1h2.5m-0.5-2h2.5m-1.5-1h2.5m-2.5 2h2.5m0.5-2h2.5m-2.5 1h2.5m-1.5 4h2.5m-2.5-4h2.5m-1.5-1h2.5m-0.5 5h2.5m-1.5-3h2.5m-2.5-1h2.5m-2.5 3h2.5m-2.5-1h2.5m-1.5-1h2.5m-1.5-2h2.5m-2.5 2h2.5m-2.5-1h2.5m-1.5-1h2.5m-2.5 4h2.5m-1.5-4h2.5m-2.5 5h2.5m-1.5-5h2.5m-2.5 2h2.5m-2.5-1h2.5m-0.5 0h2.5m-2.5 4h2.5m-1.5-5h2.5m-2.5 4h2.5m-1.5 0h2.5m-2.5-1h2.5m-2.5 2h2.5m-1.5-1h2.5m-1.5 0h2.5m-1.5-1h2.5m-2.5-2h2.5m-1.5 0h2.5m-2.5 4h2.5m-1.5 0h2.5m-1.5-2h2.5m-2.5 1h2.5m-1.5-4h2.5m-1.5 0h2.5m-1.5 1h2.5m-2.5 3h2.5m-1.5-4h2.5m-2.5 1h2.5m-2.5 4h2.5m-1.5-2h2.5m0.5 1h2.5m-2.5 1h2.5m-1.5-5h2.5m-2.5 2h2.5m-2.5 3h2.5m-1.5-5h2.5m-2.5 1h2.5m-2.5 2h2.5m-1.5-1h2.5m-2.5 3h2.5m-2.5-4h2.5m-2.5-1h2.5m-1.5 3h2.5m-2.5-2h2.5m-1.5 4h2.5m-2.5-5h2.5m-2.5 2h2.5m-1.5 2h2.5m-2.5 1h2.5m-1.5-3h2.5m-2.5 2h2.5m-1.5-1h2.5m-2.5-3h2.5m-2.5 2h2.5m-2.5 2h2.5m-1.5-4h2.5m-2.5 2h2.5m-1.5-2h2.5m-2.5 2h2.5m-2.5-1h2.5m-2.5 4h2.5m-1.5-5h2.5m-1.5 0h2.5m-2.5 4h2.5m-2.5 1h2.5m-1.5-2h2.5m-0.5-3h2.5m-2.5 4h2.5m-2.5-1h2.5m-2.5 2h2.5m-1.5-5h2.5m-2.5 4h2.5m-2.5-1h2.5m-1.5-1h2.5m-2.5 1h2.5m-1.5-3h2.5m-2.5 5h2.5m-1.5-4h2.5m-1.5-1h2.5m-2.5 3h2.5m-2.5-2h2.5m-1.5 3h2.5m-1.5 1h2.5m-2.5-1h2.5m-1.5-1h2.5m-2.5 2h2.5m-1.5 0h2.5m-2.5-4h2.5m-1.5 1h2.5m-1.5 1h2.5m-1.5-2h2.5m-2.5 2h2.5m-0.5 1h2.5m-2.5 1h2.5m-1.5-5h2.5m-1.5 2h2.5m-2.5 3h2.5m-1.5-4h2.5m-1.5 4h2.5m-1.5-4h2.5m-1.5 0h2.5m-2.5-1h2.5m-2.5 3h2.5m-1.5 1h2.5m-2.5-1h2.5m-2.5-3h2.5m-1.5 2h2.5m-1.5 3h2.5m-2.5-4h2.5m-0.5 0h2.5m-1.5-1h2.5m-0.5 2h2.5m-1.5 0h2.5m-2.5 1h2.5m-1.5 0h2.5m-1.5-2h2.5m-2.5 3h2.5m-2.5-1h2.5m-1.5-3h2.5m-2.5 3h2.5m-1.5-2h2.5m-2.5 3h2.5m-0.5 0h2.5m-1.5-4h2.5m-1.5 1h2.5m-2.5 1h2.5m-0.5-2h2.5m-2.5 4h2.5m-1.5 0h2.5m-1.5-3h2.5m-1.5 0h2.5m1.5 1h2.5m8.5 2h2.5m-122.5 6h2.5m-2.5-1h2.5m0.5-3h2.5m-1.5 4h2.5m-2.5 1h2.5m-1.5 0h2.5m-0.5 0h2.5m1.5-1h2.5m-0.5 1h2.5m-0.5-4h2.5m-0.5 4h2.5m-1.5-2h2.5m-2.5 2h2.5m-2.5-1h2.5m-0.5-4h2.5m-2.5 2h2.5m-2.5 2h2.5m-0.5 1h2.5m-1.5-3h2.5m-2.5 3h2.5m-1.5-5h2.5m-1.5 5h2.5m-1.5-5h2.5m-2.5 1h2.5m-2.5 2h2.5m-1.5 1h2.5m-0.5-3h2.5m-0.5 0h2.5m-1.5-1h2.5m-1.5 0h2.5m-0.5 3h2.5m-2.5-1h2.5m-1.5 3h2.5m-1.5-2h2.5m-2.5 2h2.5m-1.5 0h2.5m-2.5-1h2.5m-1.5-1h2.5m-2.5-1h2.5m-2.5 2h2.5m-1.5-1h2.5m-1.5-3h2.5m-2.5 5h2.5m-1.5-4h2.5m-2.5-1h2.5m-2.5 2h2.5m-2.5 3h2.5m-1.5-3h2.5m-2.5-1h2.5m-1.5-1h2.5m-1.5 4h2.5m-2.5-4h2.5m-0.5 2h2.5m-1.5 0h2.5m-1.5-1h2.5m1.5 1h2.5m-2.5 3h2.5m-0.5-5h2.5m-1.5 0h2.5m-2.5 1h2.5m-2.5 4h2.5m-0.5-1h2.5m-0.5 0h2.5m-1.5 0h2.5m-2.5-4h2.5m-1.5 3h2.5m-2.5 2h2.5m-1.5-1h2.5m-2.5-3h2.5m-2.5-1h2.5m-2.5 2h2.5m-1.5-2h2.5m-1.5 1h2.5m-1.5 2h2.5m-2.5 2h2.5m-1.5-2h2.5m-2.5-1h2.5m-2.5 2h2.5m-1.5-4h2.5m-2.5 3h2.5m-1.5 2h2.5m-2.5-3h2.5m1.5-2h2.5m-2.5 2h2.5m-0.5-2h2.5m-1.5 3h2.5m-1.5 2h2.5m-2.5-5h2.5m-2.5 2h2.5m-2.5-1h2.5m-1.5 1h2.5m-1.5-1h2.5m-0.5 3h2.5m-2.5-4h2.5m-2.5 2h2.5m-1.5-2h2.5m-1.5 1h2.5m-0.5 2h2.5m1.5-1h2.5m-2.5 1h2.5m-2.5 1h2.5m-1.5-3h2.5m-1.5-1h2.5m-1.5 1h2.5m-0.5-1h2.5m-1.5 3h2.5m-2.5 2h2.5m-2.5-5h2.5m-0.5 1h2.5m-2.5-1h2.5m-1.5 1h2.5m-1.5 4h2.5m-2.5-4h2.5m-0.5 1h2.5m-2.5 1h2.5m-1.5-3h2.5m2.5 0h2.5m-1.5 5h2.5m-1.5-5h2.5m-110.5 8h2.5m-2.5-1h2.5m-1.5 2h2.5m-2.5 2h2.5m-1.5-2h2.5m-0.5-1h2.5m-1.5-2h2.5m-1.5 0h2.5m-1.5 5h2.5m-1.5-5h2.5m-0.5 5h2.5m-1.5-1h2.5m-1.5 0h2.5m-1.5-2h2.5m-1.5-1h2.5m-1.5 2h2.5m-1.5-1h2.5m-1.5 2h2.5m-1.5-1h2.5m-1.5-1h2.5m-2.5-1h2.5m-1.5 1h2.5m0.5 0h2.5m-1.5-2h2.5m-1.5 0h2.5m-1.5 0h2.5m-1.5 0h2.5m-2.5 2h2.5m-1.5-2h2.5m-2.5 2h2.5m-1.5 1h2.5m-1.5-2h2.5m-2.5-1h2.5m-2.5 4h2.5m-1.5-1h2.5m-2.5 2h2.5m-1.5-3h2.5m-1.5-1h2.5m-1.5-1h2.5m-2.5 4h2.5m-2.5 1h2.5m-1.5-2h2.5m-0.5-1h2.5m-2.5 2h2.5m-2.5-1h2.5m-0.5-2h2.5m-1.5 0h2.5m-0.5-1h2.5m-2.5 2h2.5m-0.5 3h2.5m-1.5 0h2.5m-1.5-1h2.5m-1.5-1h2.5m-1.5-3h2.5m-2.5 5h2.5m-1.5-4h2.5m-2.5-1h2.5m-1.5 2h2.5m-2.5 1h2.5m-0.5-2h2.5m-1.5 2h2.5m-0.5-1h2.5m-1.5 0h2.5m-1.5 0h2.5m-2.5 2h2.5m-1.5 1h2.5m-2.5-2h2.5m-1.5-1h2.5m-1.5 1h2.5m-1.5-2h2.5m-2.5 1h2.5m-2.5 2h2.5m-0.5 0h2.5m-1.5-3h2.5m-0.5 3h2.5m-2.5 1h2.5m-1.5-2h2.5m-2.5-1h2.5m-1.5 1h2.5m-1.5 0h2.5m-2.5-2h2.5m-1.5 3h2.5m-2.5-4h2.5m-1.5 2h2.5m-0.5 3h2.5m-2.5-4h2.5m-0.5-1h2.5m-1.5 1h2.5m-2.5-1h2.5m-2.5 3h2.5m-1.5-2h2.5m-2.5 3h2.5m-0.5-4h2.5m-2.5 4h2.5m-2.5 1h2.5m-0.5-3h2.5m-2.5 3h2.5m1.5-4h2.5m-0.5 0h2.5m-1.5 0h2.5m-2.5-1h2.5m-1.5 5h2.5m-2.5-5h2.5m0.5 5h2.5m-1.5-1h2.5m-0.5-4h2.5m2.5 4h2.5m-1.5 1h2.5m-1.5-5h2.5m-1.5 0h2.5m5.5 1h2.5m-114.5 10h2.5m-0.5-2h2.5m-1.5-3h2.5m-2.5 3h2.5m-2.5-1h2.5m-2.5 2h2.5m-2.5 1h2.5m-1.5-5h2.5m-0.5 5h2.5m-1.5-1h2.5m-1.5-4h2.5m-1.5 5h2.5m-0.5-1h2.5m-1.5-1h2.5m-2.5 2h2.5m-0.5-4h2.5m-1.5 3h2.5m-1.5 0h2.5m-2.5-1h2.5m-1.5 2h2.5m-1.5-3h2.5m-0.5 0h2.5m-1.5-2h2.5m-1.5 3h2.5m-2.5 2h2.5m-1.5-4h2.5m-2.5 1h2.5m-2.5 3h2.5m-1.5-5h2.5m-2.5 1h2.5m-2.5 4h2.5m-1.5-2h2.5m-2.5-1h2.5m-2.5 3h2.5m-2.5-1h2.5m-1.5-4h2.5m-1.5 3h2.5m-2.5 2h2.5m-1.5-2h2.5m-1.5-2h2.5m-1.5-1h2.5m-1.5 1h2.5m-2.5-1h2.5m-1.5 0h2.5m-2.5 2h2.5m0.5 0h2.5m0.5 1h2.5m-2.5 1h2.5m-0.5-4h2.5m-1.5 0h2.5m-1.5 2h2.5m-0.5 2h2.5m0.5-4h2.5m-2.5 2h2.5m-1.5 1h2.5m-2.5 2h2.5m-1.5-5h2.5m-0.5 3h2.5m-1.5 2h2.5m3.5-4h2.5m-2.5 1h2.5m-2.5 2h2.5m-1.5-3h2.5m-1.5 0h2.5m-2.5 4h2.5m-2.5-5h2.5m-1.5 2h2.5m-1.5-2h2.5m0.5 2h2.5m0.5 0h2.5m-2.5-1h2.5m0.5 3h2.5m-0.5-2h2.5m-2.5 2h2.5m1.5-1h2.5m0.5-2h2.5m-1.5-1h2.5m-0.5 0h2.5m-1.5 2h2.5m-1.5 1h2.5m1.5-2h2.5m10.5 2h2.5m-104.5 4h2.5m-1.5-1h2.5m-2.5 4h2.5m-2.5-1h2.5m-1.5-1h2.5m-2.5 2h2.5m-0.5-3h2.5m-2.5 3h2.5m-2.5-4h2.5m-1.5 4h2.5m-1.5-3h2.5m-2.5 1h2.5m-1.5-2h2.5m-0.5 3h2.5m-1.5 2h2.5m-2.5-4h2.5m-1.5 2h2.5m-1.5-1h2.5m-2.5 2h2.5m-1.5-3h2.5m-2.5 3h2.5m-1.5 1h2.5m-2.5-3h2.5m-2.5 1h2.5m-0.5-1h2.5m-1.5-2h2.5m-1.5 4h2.5m-1.5-2h2.5m-2.5 1h2.5m-1.5-3h2.5m-1.5 2h2.5m-1.5 2h2.5m-2.5 1h2.5m-2.5-3h2.5m-0.5 1h2.5m-1.5 1h2.5m-1.5 0h2.5m-2.5-3h2.5m-2.5 2h2.5m-0.5-3h2.5m-1.5 2h2.5m0.5 0h2.5m-2.5-1h2.5m-0.5 1h2.5m0.5-1h2.5m-2.5-1h2.5m-1.5 0h2.5m2.5 1h2.5m-0.5-1h2.5m-2.5 3h2.5m-1.5 1h2.5m1.5-3h2.5m0.5 0h2.5m-2.5 1h2.5m-0.5 1h2.5m0.5-1h2.5m-0.5-1h2.5m0.5 3h2.5m0.5-4h2.5m8.5 4h2.5m-1.5-4h2.5m4.5 2h2.5m-1.5 0h2.5m-1.5 0h2.5m-0.5 0h2.5m5.5 0h2.5m-1.5-2h2.5m-100.5 8h2.5m-1.5-2h2.5m-1.5 2h2.5m-2.5-1h2.5m-1.5 1h2.5m-1.5 1h2.5m-2.5 1h2.5m-1.5 1h2.5m-2.5-4h2.5m-1.5-1h2.5m-0.5 3h2.5m-1.5 2h2.5m-1.5-4h2.5m-2.5 3h2.5m0.5-2h2.5m-2.5 1h2.5m-1.5-1h2.5m-2.5 3h2.5m-1.5-5h2.5m-2.5 3h2.5m2.5-3h2.5m-2.5 3h2.5m-0.5 0h2.5m1.5 0h2.5m-2.5 2h2.5m-0.5-1h2.5m3.5-1h2.5m-1.5 0h2.5m3.5-2h2.5m0.5 1h2.5m-1.5 2h2.5m1.5 0h2.5m5.5 1h2.5m-1.5-2h2.5m-1.5 1h2.5m19.5 1h2.5m4.5-3h2.5m1.5 2h2.5m-93.5 3h2.5m-1.5 1h2.5m-1.5-1h2.5m-1.5 2h2.5m0.5 1h2.5m-2.5-3h2.5m1.5 0h2.5m-1.5 2h2.5m-2.5-3h2.5m-1.5 1h2.5m-2.5 3h2.5m-1.5 1h2.5m-1.5-3h2.5m-0.5-1h2.5m-1.5 3h2.5m-1.5-2h2.5m-0.5 3h2.5m1.5-2h2.5m-2.5 1h2.5m4.5-3h2.5m1.5 0h2.5m-1.5 1h2.5m0.5-2h2.5m0.5 0h2.5m2.5 4h2.5m-1.5-4h2.5m7.5 5h2.5m17.5-5h2.5m6.5 1h2.5m-1.5 4h2.5m0.5-1h2.5m4.5-2h2.5m-100.5 8h2.5m-0.5-3h2.5m-1.5 3h2.5m-1.5-4h2.5m-1.5 1h2.5m-1.5 4h2.5m-1.5-4h2.5m-2.5 3h2.5m-0.5-2h2.5m2.5 3h2.5m-1.5-1h2.5m1.5-3h2.5m0.5 2h2.5m-2.5 1h2.5m-1.5-4h2.5m-1.5 1h2.5m-0.5 4h2.5m4.5 0h2.5m-1.5-5h2.5m43.5 0h2.5m13.5 5h2.5m-99.5 6h2.5m-1.5-2h2.5m-1.5-2h2.5m1.5 4h2.5m0.5-2h2.5m-2.5-1h2.5m-2.5-1h2.5m-1.5-1h2.5m-0.5 4h2.5m-1.5-2h2.5m-1.5-1h2.5m1.5 2h2.5m-0.5 0h2.5m-0.5 0h2.5m-24.5 4h2.5m-1.5-1h2.5m-1.5 0h2.5m-1.5 1h2.5m-2.5 2h2.5m-1.5-1h2.5m-2.5 3h2.5m-1.5-4h2.5m-2.5 3h2.5m5.5-4h2.5m1.5 5h2.5m-1.5-3h2.5m-0.5 2h2.5m-2.5-3h2.5m-2.5 2h2.5m-0.5-2h2.5m2.5 4h2.5m-1.5 0h2.5m1.5-1h2.5m-0.5 1h2.5m4.5 0h2.5m0.5-5h2.5m52.5 0h2.5m-99.5 9h2.5m-1.5 1h2.5m-1.5 1h2.5m-1.5-4h2.5m-2.5-1h2.5m-2.5 5h2.5m-1.5-3h2.5m-2.5 3h2.5m0.5-2h2.5m-1.5 0h2.5m-0.5-1h2.5m10.5 0h2.5m-1.5 1h2.5m-0.5-1h2.5m-0.5-2h2.5m-1.5 3h2.5m-0.5 0h2.5m-0.5 0h2.5m-1.5-2h2.5m0.5 3h2.5m-2.5 1h2.5m-1.5-5h2.5m40.5 1h2.5m-81.5 6h2.5m-0.5 1h2.5m-1.5-1h2.5m-0.5-1h2.5m-2.5 4h2.5m-0.5-2h2.5m-1.5-2h2.5m-1.5 5h2.5m-2.5-5h2.5m-0.5 3h2.5m-2.5-1h2.5m-1.5-2h2.5m-0.5 5h2.5m-1.5-4h2.5m-2.5 3h2.5m-0.5-4h2.5m-1.5 0h2.5m-1.5 2h2.5m0.5-2h2.5m2.5 0h2.5m11.5 2h2.5m29.5 3h2.5m-79.5 3h2.5m-1.5 0h2.5m-0.5 0h2.5m-0.5-2h2.5m-1.5 2h2.5m0.5-1h2.5m2.5 2h2.5m-1.5-3h2.5m-2.5 2h2.5m-0.5 2h2.5m-0.5-4h2.5m5.5 2h2.5m4.5 0h2.5m-0.5-1h2.5m-0.5 0h2.5m-2.5-1h2.5m-1.5 1h2.5m-0.5 0h2.5m-0.5 1h2.5m7.5 1h2.5m21.5 1h2.5" fill="none" stroke="#000" stroke-width="2.5"/>
<rect x="470.9" y="681.5" width="299" height="267.5" fill="none" stroke="#000" stroke-width="1.45"/>
<line x1="567.4" y1="681.5" x2="567.4" y2="949" stroke="#000" stroke-width="1.4"/>
<line x1="470.9" y1="874.9" x2="769.9" y2="874.9" stroke="#000" stroke-width="1.4"/>
</g>
</svg>
</body></html>
